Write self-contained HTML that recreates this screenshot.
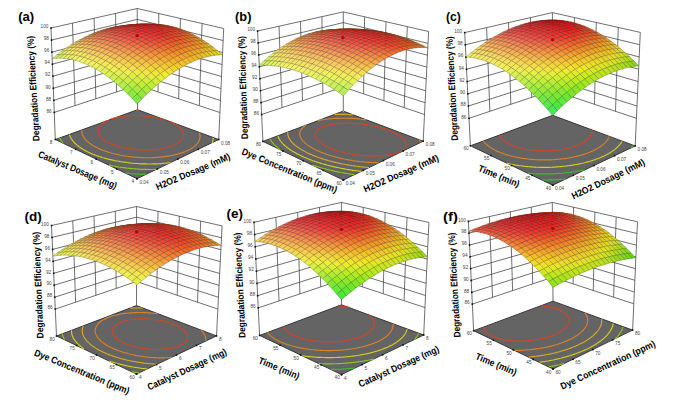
<!DOCTYPE html>
<html><head><meta charset="utf-8"><style>html,body{margin:0;padding:0;background:#fff;width:685px;height:404px;overflow:hidden}svg{display:block}</style></head>
<body><svg width="685" height="404" viewBox="0 0 685 404"><path d="M54.3,112.4L137.4,85.1L219.9,112.5M53.8,100.3L137.4,74.1L220.5,100.5M53.3,88.3L137.4,63.2L221,88.5M52.9,76.2L137.3,52.3L221.5,76.5M52.4,64.2L137.3,41.3L222.1,64.5M51.9,52.1L137.3,30.4L222.6,52.5M51.5,40.1L137.2,19.4L223.2,40.5M51,28L137.2,8.5L223.7,28.5M75,105.6L72.5,23.1M199.3,105.6L202.1,23.5M95.8,98.7L94.1,18.2M178.7,98.8L180.4,18.5M116.6,91.9L115.6,13.4M158,91.9L158.8,13.5M55.3,139.5L51,28M137.5,109.7L137.2,8.5M218.7,139.5L223.7,28.5" fill="none" stroke="#404040" stroke-width="0.75"/>
<path d="M137,178.7L55.3,139.5L137.5,109.7L218.7,139.5Z" fill="#646464" stroke="#2e2e2e" stroke-width="0.9" stroke-linejoin="round"/>
<path d="M125.5,173L126.7,173.1L127.6,173.2L128.6,173.3L129.9,173.4L131.3,173.6L132.4,173.7L133.3,173.7L134.3,173.8L135.5,173.9L136.8,174L138.1,174.1L139.3,174.1L140.3,174.2L141.4,174.3L142.4,174.3L143.5,174.3L144.5,174.4L145.6,174.4" fill="none" stroke="#3abf26" stroke-width="1.15"/>
<path d="M108.9,165.1L110.2,165.4L110.9,165.6L112.5,165.9L113.2,166L114.7,166.3L115.6,166.4L116.5,166.6L118,166.9L118.8,167L119.9,167.2L121.3,167.4L122.2,167.5L123.2,167.6L124.7,167.8L125.6,167.9L126.5,168.1L127.8,168.2L129.2,168.4L130.1,168.4L131.1,168.5L132.1,168.6L133.5,168.8L134.8,168.9L135.8,168.9L136.8,169L137.8,169.1L138.8,169.1L140.1,169.2L141.3,169.3L142.6,169.3L143.8,169.4L144.9,169.4L146,169.4L147.1,169.4L148.2,169.5L149.3,169.5L150.4,169.5L151.5,169.5L152.7,169.5L153.8,169.5L155,169.4L156.2,169.4" fill="none" stroke="#8cc81e" stroke-width="1.15"/>
<path d="M59.8,138.1L60,138.5L60.2,139.1L60.4,139.4L60.6,139.8L61,140.4L61.2,140.7L61.5,141.2L61.8,141.6L62,141.9L62.5,142.5L62.7,142.8L63.2,143.4L63.2,143.5" fill="none" stroke="#8cc81e" stroke-width="1.15"/>
<path d="M69.5,134.5L69.6,134.9L69.7,135.2L69.8,135.6L70,136.2L70.2,136.5L70.3,136.9L70.6,137.3L70.8,137.8L71,138.1L71.2,138.6L71.5,139.1L71.8,139.4L72.1,139.9L72.4,140.3L72.7,140.7L73.1,141.2L73.4,141.5L73.9,142.1L74.2,142.4L74.7,143L75,143.3L75.6,143.8L75.9,144.1L76.6,144.7L77,145.1L77.5,145.5L78.2,146.1L78.6,146.3L79.3,146.9L80.1,147.4L80.5,147.7L81.3,148.2L82.1,148.7L82.9,149.2L83.6,149.6L84.2,149.9L85.1,150.4L86,150.9L86.9,151.4L87.9,151.9L88.8,152.4L89.8,152.8L90.9,153.3L91.9,153.7L93,154.2L94.1,154.6L95.1,155L95.7,155.2L96.9,155.7L98.1,156.1L99.2,156.5L99.9,156.7L101.1,157.1L102.3,157.5L103,157.7L104.2,158L105.6,158.4L106.2,158.6L107.6,158.9L108.2,159.1L109.6,159.4L110.5,159.6L111.8,159.9L112.6,160.1L113.9,160.4L114.7,160.6L116.2,160.9L116.9,161L118.4,161.3L119.3,161.4L120.2,161.6L121.7,161.8L122.5,162L123.5,162.1L124.9,162.3L125.8,162.4L126.6,162.5L128.2,162.7L129.2,162.9L130.1,163L131.1,163.1L132.5,163.2L133.8,163.3L134.7,163.4L135.6,163.5L136.6,163.5L137.8,163.6L139.1,163.7L140.4,163.8L141.5,163.8L142.5,163.8L143.5,163.9L144.6,163.9L145.6,163.9L146.7,164L147.8,164L148.9,164L150,164L151.1,164L152.3,163.9L153.4,163.9L154.6,163.9L155.8,163.8L157,163.8L158,163.7L159,163.7L160,163.6L160.9,163.6L162.1,163.5L163.4,163.4L164.7,163.3L165.6,163.2L166.4,163.1L167.6,163L169.1,162.8L169.9,162.7L170.6,162.6" fill="none" stroke="#d4d01e" stroke-width="1.15"/>
<path d="M212.1,143L212.3,142.4L212.5,142.1L212.6,141.7L212.7,141.2L212.9,140.7L212.9,140.3L213,140L213.1,139.6L213.1,139.1L213.2,138.7L213.2,138.2L213.2,137.8" fill="none" stroke="#d4d01e" stroke-width="1.15"/>
<path d="M81.8,130L81.8,130.3L81.8,130.7L81.8,131.1L81.8,131.6L81.8,132L81.9,132.5L81.9,132.9L82,133.2L82.1,133.6L82.2,133.9L82.4,134.5L82.5,134.9L82.7,135.3L82.8,135.6L83.1,136.1L83.3,136.6L83.5,136.9L83.8,137.4L84.1,137.8L84.3,138.1L84.8,138.7L85,139L85.4,139.4L85.8,139.9L86.1,140.2L86.6,140.8L87,141.1L87.5,141.6L88,142L88.5,142.4L89.2,143L89.5,143.3L90.3,143.8L91,144.3L91.4,144.6L92.2,145.1L93,145.6L93.9,146.1L94.3,146.3L95.2,146.8L96.1,147.3L97,147.8L98,148.2L99,148.7L100,149.1L101,149.6L102.1,150L103.2,150.4L103.8,150.6L104.9,151L106,151.4L107.2,151.8L108,152.1L109.1,152.4L110.3,152.8L111.1,153L112.2,153.3L113.6,153.6L114.2,153.8L115.6,154.1L116.3,154.3L117.7,154.6L118.4,154.8L119.9,155.1L120.6,155.2L121.9,155.5L122.9,155.6L123.7,155.8L125.2,156L126,156.1L127,156.3L128.5,156.5L129.3,156.6L130.1,156.7L131.5,156.8L132.7,157L133.6,157.1L134.5,157.1L135.6,157.2L136.9,157.3L138.2,157.4L139.2,157.5L140.1,157.5L141.1,157.6L142.1,157.6L143.1,157.7L144.2,157.7L145.4,157.7L146.5,157.7L147.6,157.7L148.6,157.7L149.7,157.7L150.7,157.7L151.8,157.7L153,157.6L154.2,157.6L155.4,157.5L156.6,157.4L157.6,157.4L158.5,157.3L159.4,157.2L160.6,157.1L162,157L162.9,156.9L163.7,156.8L164.9,156.6L166.2,156.4L167,156.3L168.1,156.1L169.3,155.9L170.1,155.8L171.5,155.5L172.3,155.4L173.7,155.1L174.4,154.9L175.7,154.6L176.4,154.4L177.7,154.1L178.4,153.9L179.6,153.5L180.8,153.1L181.5,152.9L182.6,152.5L183.7,152.1L184.8,151.7L185.8,151.3L186.9,150.8L187.8,150.4L188.8,149.9L189.7,149.4L190.6,148.9L191.4,148.4L192.2,147.9L192.6,147.7L193.4,147.1L194.1,146.6L194.4,146.3L195.1,145.7L195.4,145.5L196,144.9L196.4,144.6L196.9,144L197.1,143.7L197.6,143.1L197.8,142.8L198.2,142.3L198.5,141.8L198.7,141.5L198.9,141L199.2,140.5L199.3,140.2L199.4,139.8L199.6,139.3L199.8,138.8L199.8,138.4L199.9,138.1L200,137.7L200,137.2L200.1,136.8L200.1,136.3L200,135.9L200,135.4L200,135.1L199.9,134.6L199.8,134.2L199.7,133.8L199.6,133.4L199.4,133L199.3,132.6L199.3,132.6" fill="none" stroke="#d98228" stroke-width="1.15"/>
<path d="M138.7,109.9L137.7,109.8L136.7,109.8L136.1,109.8" fill="none" stroke="#d98228" stroke-width="1.15"/>
<path d="M108.8,119.9L108.3,120.2L107.4,120.6L106.5,121L105.6,121.4L105.2,121.6L104.4,122.1L103.7,122.5L103.3,122.8L102.6,123.3L102.3,123.6L101.8,124L101.3,124.4L101,124.7L100.5,125.2L100.2,125.5L99.9,125.8L99.6,126.2L99.3,126.7L99.1,127.1L98.9,127.5L98.7,127.8L98.5,128.1L98.4,128.6L98.3,129L98.2,129.4L98.1,129.8L98,130.2L98,130.6L98,131L98,131.3L98,131.7L98.1,132.2L98.2,132.7L98.4,133.1L98.5,133.4L98.6,133.8L98.8,134.2L99.1,134.8L99.3,135.1L99.5,135.4L99.9,136L100.1,136.3L100.4,136.7L100.9,137.2L101.2,137.5L101.7,138.1L102,138.3L102.7,138.9L103,139.2L103.7,139.7L104.4,140.2L104.8,140.5L105.6,141L106.4,141.5L106.8,141.7L107.7,142.2L108.6,142.7L109.6,143.1L110.5,143.6L111.5,144L112.6,144.4L113.6,144.8L114.7,145.2L115.3,145.4L116.5,145.8L117.6,146.2L118.9,146.6L119.5,146.7L120.8,147.1L121.5,147.3L122.8,147.5L123.8,147.8L124.8,148L125.8,148.2L127,148.4L127.7,148.5L129.3,148.8L130,148.9L130.9,149L132.4,149.2L133.3,149.3L134.1,149.4L135.2,149.5L136.5,149.7L137.6,149.8L138.5,149.8L139.4,149.9L140.4,149.9L141.5,150L142.6,150L143.7,150L144.8,150L145.9,150L146.9,150L147.9,150L148.9,150L149.9,149.9L151,149.9L152.3,149.8L153.5,149.7L154.4,149.6L155.3,149.6L156.2,149.5L157.7,149.3L158.5,149.2L159.3,149L160.8,148.8L161.6,148.7L162.7,148.5L163.7,148.3L164.7,148L165.7,147.8L167,147.5L167.7,147.3L168.9,146.9L170,146.6L170.6,146.4L171.7,146L172.8,145.5L173.8,145.1L174.7,144.7L175.6,144.2L176.5,143.7L176.9,143.5L177.7,143L178.5,142.4L178.8,142.2L179.5,141.6L180,141.2L180.5,140.8L180.9,140.4L181.3,139.9L181.5,139.6L182,139L182.2,138.7L182.4,138.3L182.7,137.8L182.8,137.3L183,137L183.1,136.7L183.2,136.2L183.3,135.7L183.3,135.2L183.4,134.8L183.4,134.4L183.3,134L183.3,133.6L183.2,133.2L183.1,132.8L183,132.4L182.8,132L182.7,131.6L182.5,131.3L182.3,130.9L182.1,130.6L181.8,130.1L181.5,129.6L181.2,129.3L181,128.9L180.6,128.5L180.2,128L179.9,127.8L179.4,127.3L178.9,126.9L178.6,126.6L177.9,126.1L177.6,125.8L176.9,125.3L176.5,125.1L175.7,124.6L175.3,124.3L174.6,123.9L173.7,123.4L173.3,123.2L172.4,122.8L171.6,122.3L170.6,121.9L169.7,121.5L169,121.2" fill="none" stroke="#d24428" stroke-width="1.15"/>
<path d="M166.5,120.3L165.7,120L164.7,119.7L163.6,119.3L162.5,119L161.4,118.7L160.8,118.6L159.7,118.3L158.5,118L157.9,117.9L156.7,117.6L156,117.5L154.8,117.2L154.1,117.1L152.8,116.9L152.2,116.8L151.1,116.6L150.1,116.5L149.4,116.4L148.2,116.2L147.3,116.1L146.5,116.1L145.6,116L144.4,115.9L143.4,115.8L142.6,115.7L141.8,115.7L141,115.6L140,115.6L139,115.6L138,115.5L137,115.5L136.1,115.5L135.1,115.5L134.2,115.5L133.4,115.6L132.5,115.6L131.6,115.6L130.7,115.7L129.6,115.7L128.4,115.8L127.6,115.9L126.9,115.9L125.9,116L124.6,116.2L123.9,116.3L123.2,116.4L121.9,116.5L121.2,116.6L119.9,116.9L119.2,117L118,117.2L117.4,117.4L116.2,117.6L115.6,117.8L114.5,118.1L113.3,118.4L112.3,118.7L111.2,119L111.2,119.1" fill="none" stroke="#d24428" stroke-width="1.15"/>
<g fill="#111"><rect x="53.5" y="111.6" width="1.6" height="1.6"/><rect x="53" y="99.5" width="1.6" height="1.6"/><rect x="52.5" y="87.5" width="1.6" height="1.6"/><rect x="52.1" y="75.4" width="1.6" height="1.6"/><rect x="51.6" y="63.4" width="1.6" height="1.6"/><rect x="51.1" y="51.3" width="1.6" height="1.6"/><rect x="50.7" y="39.3" width="1.6" height="1.6"/><rect x="50.2" y="27.2" width="1.6" height="1.6"/><rect x="136.2" y="177.9" width="1.6" height="1.6"/><rect x="136.2" y="177.9" width="1.6" height="1.6"/><rect x="115.8" y="168.1" width="1.6" height="1.6"/><rect x="156.6" y="168.1" width="1.6" height="1.6"/><rect x="95.4" y="158.3" width="1.6" height="1.6"/><rect x="177" y="158.3" width="1.6" height="1.6"/><rect x="74.9" y="148.5" width="1.6" height="1.6"/><rect x="197.5" y="148.5" width="1.6" height="1.6"/><rect x="54.5" y="138.7" width="1.6" height="1.6"/><rect x="217.9" y="138.7" width="1.6" height="1.6"/></g>
<g font-family="'Liberation Sans', sans-serif" font-size="4.7" fill="#444"><text x="51.7" y="112.6" text-anchor="end">86</text><text x="51.2" y="100.5" text-anchor="end">88</text><text x="50.7" y="88.5" text-anchor="end">90</text><text x="50.3" y="76.4" text-anchor="end">92</text><text x="49.8" y="64.4" text-anchor="end">94</text><text x="49.3" y="52.3" text-anchor="end">96</text><text x="48.9" y="40.3" text-anchor="end">98</text><text x="48.4" y="28.2" text-anchor="end">100</text><text x="132.7" y="183.3" text-anchor="middle">4</text><text x="112.3" y="173.5" text-anchor="middle">5</text><text x="91.9" y="163.7" text-anchor="middle">6</text><text x="71.4" y="153.9" text-anchor="middle">7</text><text x="51" y="144.1" text-anchor="middle">8</text><text x="139.4" y="183.7">0.04</text><text x="159.8" y="173.9">0.05</text><text x="180.2" y="164.1">0.06</text><text x="200.7" y="154.3">0.07</text><text x="221.1" y="144.5">0.08</text></g>
<g stroke-width="0.4" stroke-linejoin="round"><path d="M137.4,25.6L133.6,26.4L137.4,26.8L141.2,25.9Z" fill="#ee9e27" stroke="#7c5214"/><path d="M141.3,24.9L137.4,25.6L141.2,25.9L145.1,25.2Z" fill="#ee8e27" stroke="#7c4a14"/><path d="M133.5,25.4L129.7,26.2L133.6,26.4L137.4,25.6Z" fill="#f08e27" stroke="#7d4a14"/><path d="M145.2,24.4L141.3,24.9L145.1,25.2L149,24.8Z" fill="#ed8027" stroke="#7b4214"/><path d="M137.4,24.7L133.5,25.4L137.4,25.6L141.3,24.9Z" fill="#ef7d27" stroke="#7c4114"/><path d="M129.6,25.4L125.8,26.2L129.7,26.2L133.5,25.4Z" fill="#f18028" stroke="#7d4215"/><path d="M149.2,24.2L145.2,24.4L149,24.8L153,24.5Z" fill="#ec7427" stroke="#7b3c14"/><path d="M141.3,24.3L137.4,24.7L141.3,24.9L145.2,24.4Z" fill="#ee6f27" stroke="#7c3a14"/><path d="M133.5,24.7L129.6,25.4L133.5,25.4L137.4,24.7Z" fill="#f06f28" stroke="#7d3a15"/><path d="M125.6,25.6L121.8,26.4L125.8,26.2L129.6,25.4Z" fill="#f27428" stroke="#7e3c15"/><path d="M153.2,24.2L149.2,24.2L153,24.5L157,24.5Z" fill="#eb6a27" stroke="#7a3714"/><path d="M145.3,24.1L141.3,24.3L145.2,24.4L149.2,24.2Z" fill="#ed6327" stroke="#7b3314"/><path d="M137.4,24.3L133.5,24.7L137.4,24.7L141.3,24.3Z" fill="#ef6028" stroke="#7c3215"/><path d="M129.5,24.9L125.6,25.6L129.6,25.4L133.5,24.7Z" fill="#f16328" stroke="#7d3315"/><path d="M121.6,26L117.8,26.8L121.8,26.4L125.6,25.6Z" fill="#f36d2b" stroke="#7e3917"/><path d="M157.3,24.5L153.2,24.2L157,24.5L161.1,24.8Z" fill="#ea6327" stroke="#7a3314"/><path d="M149.3,24.1L145.3,24.1L149.2,24.2L153.2,24.2Z" fill="#ec5827" stroke="#7b2e14"/><path d="M141.4,24.1L137.4,24.3L141.3,24.3L145.3,24.1Z" fill="#ee5328" stroke="#7c2b15"/><path d="M133.4,24.5L129.5,24.9L133.5,24.7L137.4,24.3Z" fill="#f05328" stroke="#7d2b15"/><path d="M125.5,25.4L121.6,26L125.6,25.6L129.5,24.9Z" fill="#f25b2c" stroke="#7e3017"/><path d="M117.5,26.6L113.7,27.4L117.8,26.8L121.6,26Z" fill="#f36a31" stroke="#7e3719"/><path d="M161.4,24.9L157.3,24.5L161.1,24.8L165.2,25.2Z" fill="#ea5e27" stroke="#7a3114"/><path d="M153.4,24.4L149.3,24.1L153.2,24.2L157.3,24.5Z" fill="#ec5027" stroke="#7b2a14"/><path d="M145.4,24.2L141.4,24.1L145.3,24.1L149.3,24.1Z" fill="#ee4827" stroke="#7c2615"/><path d="M137.4,24.4L133.4,24.5L137.4,24.3L141.4,24.1Z" fill="#f04628" stroke="#7d2415"/><path d="M129.4,25L125.5,25.4L129.5,24.9L133.4,24.5Z" fill="#f14c2c" stroke="#7d2717"/><path d="M121.4,26L117.5,26.6L121.6,26L125.5,25.4Z" fill="#f25931" stroke="#7e2e19"/><path d="M113.4,27.4L109.6,28.2L113.7,27.4L117.5,26.6Z" fill="#f36b36" stroke="#7e371c"/><path d="M165.5,25.7L161.4,24.9L165.2,25.2L169.3,25.9Z" fill="#e95b27" stroke="#792f14"/><path d="M157.5,24.9L153.4,24.4L157.3,24.5L161.4,24.9Z" fill="#eb4b27" stroke="#7a2714"/><path d="M149.5,24.5L145.4,24.2L149.3,24.1L153.4,24.4Z" fill="#ed4027" stroke="#7b2115"/><path d="M141.4,24.4L137.4,24.4L141.4,24.1L145.4,24.2Z" fill="#ef3b28" stroke="#7c1f15"/><path d="M133.4,24.8L129.4,25L133.4,24.5L137.4,24.4Z" fill="#f03f2b" stroke="#7d2116"/><path d="M125.3,25.6L121.4,26L125.5,25.4L129.4,25Z" fill="#f14a31" stroke="#7d2619"/><path d="M117.3,26.8L113.4,27.4L117.5,26.6L121.4,26Z" fill="#f25936" stroke="#7e2f1c"/><path d="M109.3,28.4L105.5,29.2L109.6,28.2L113.4,27.4Z" fill="#f36e3b" stroke="#7e391f"/><path d="M169.7,26.7L165.5,25.7L169.3,25.9L173.5,26.9Z" fill="#e95b27" stroke="#792f14"/><path d="M161.7,25.6L157.5,24.9L161.4,24.9L165.5,25.7Z" fill="#eb4827" stroke="#7a2614"/><path d="M153.6,25L149.5,24.5L153.4,24.4L157.5,24.9Z" fill="#ed3b27" stroke="#7b1f14"/><path d="M145.5,24.8L141.4,24.4L145.4,24.2L149.5,24.5Z" fill="#ee3427" stroke="#7c1b14"/><path d="M137.4,24.9L133.4,24.8L137.4,24.4L141.4,24.4Z" fill="#f03629" stroke="#7d1c15"/><path d="M129.3,25.5L125.3,25.6L129.4,25L133.4,24.8Z" fill="#f03d30" stroke="#7d2019"/><path d="M121.2,26.5L117.3,26.8L121.4,26L125.3,25.6Z" fill="#f14b36" stroke="#7d271c"/><path d="M113.1,27.9L109.3,28.4L113.4,27.4L117.3,26.8Z" fill="#f25d3c" stroke="#7e301f"/><path d="M105,29.7L101.2,30.4L105.5,29.2L109.3,28.4Z" fill="#f37440" stroke="#7f3c21"/><path d="M174,27.9L169.7,26.7L173.5,26.9L177.8,28.1Z" fill="#e95e26" stroke="#793114"/><path d="M165.9,26.6L161.7,25.6L165.5,25.7L169.7,26.7Z" fill="#ea4827" stroke="#7a2614"/><path d="M157.7,25.8L153.6,25L157.5,24.9L161.7,25.6Z" fill="#ec3827" stroke="#7b1d14"/><path d="M149.6,25.3L145.5,24.8L149.5,24.5L153.6,25Z" fill="#ed3125" stroke="#7b1913"/><path d="M141.5,25.3L137.4,24.9L141.4,24.4L145.5,24.8Z" fill="#ef2f26" stroke="#7c1914"/><path d="M133.3,25.6L129.3,25.5L133.4,24.8L137.4,24.9Z" fill="#ef362d" stroke="#7c1c17"/><path d="M125.2,26.4L121.2,26.5L125.3,25.6L129.3,25.5Z" fill="#f04034" stroke="#7d211b"/><path d="M117,27.6L113.1,27.9L117.3,26.8L121.2,26.5Z" fill="#f24f3c" stroke="#7e291f"/><path d="M108.9,29.1L105,29.7L109.3,28.4L113.1,27.9Z" fill="#f36441" stroke="#7e3422"/><path d="M100.8,31.1L97,31.8L101.2,30.4L105,29.7Z" fill="#f47c45" stroke="#7f4124"/><path d="M178.3,29.4L174,27.9L177.8,28.1L182.1,29.5Z" fill="#e86226" stroke="#793314"/><path d="M170.1,27.9L165.9,26.6L169.7,26.7L174,27.9Z" fill="#ea4b27" stroke="#7a2714"/><path d="M162,26.8L157.7,25.8L161.7,25.6L165.9,26.6Z" fill="#ec3827" stroke="#7a1d14"/><path d="M153.8,26.1L149.6,25.3L153.6,25L157.7,25.8Z" fill="#ed2f25" stroke="#7b1813"/><path d="M145.6,25.9L141.5,25.3L145.5,24.8L149.6,25.3Z" fill="#ee2b24" stroke="#7c1613"/><path d="M137.4,26L133.3,25.6L137.4,24.9L141.5,25.3Z" fill="#ee302a" stroke="#7c1916"/><path d="M129.2,26.5L125.2,26.4L129.3,25.5L133.3,25.6Z" fill="#ef3931" stroke="#7c1d1a"/><path d="M121,27.5L117,27.6L121.2,26.5L125.2,26.4Z" fill="#f1453a" stroke="#7d241e"/><path d="M112.8,28.9L108.9,29.1L113.1,27.9L117,27.6Z" fill="#f25641" stroke="#7e2d22"/><path d="M104.6,30.6L100.8,31.1L105,29.7L108.9,29.1Z" fill="#f36d45" stroke="#7e3924"/><path d="M96.5,32.8L92.7,33.5L97,31.8L100.8,31.1Z" fill="#f5874a" stroke="#7f4626"/><path d="M182.6,31.1L178.3,29.4L182.1,29.5L186.4,31.3Z" fill="#e86926" stroke="#793714"/><path d="M174.4,29.4L170.1,27.9L174,27.9L178.3,29.4Z" fill="#e95027" stroke="#792914"/><path d="M166.2,28.1L162,26.8L165.9,26.6L170.1,27.9Z" fill="#eb3b27" stroke="#7a1f14"/><path d="M158,27.2L153.8,26.1L157.7,25.8L162,26.8Z" fill="#ec2f24" stroke="#7b1813"/><path d="M149.7,26.7L145.6,25.9L149.6,25.3L153.8,26.1Z" fill="#ee2822" stroke="#7c1512"/><path d="M141.5,26.6L137.4,26L141.5,25.3L145.6,25.9Z" fill="#ee2c28" stroke="#7c1715"/><path d="M133.2,26.9L129.2,26.5L133.3,25.6L137.4,26Z" fill="#ee332f" stroke="#7c1a18"/><path d="M125,27.7L121,27.5L125.2,26.4L129.2,26.5Z" fill="#f03e37" stroke="#7d201c"/><path d="M116.8,28.8L112.8,28.9L117,27.6L121,27.5Z" fill="#f14b3f" stroke="#7d2721"/><path d="M108.5,30.4L104.6,30.6L108.9,29.1L112.8,28.9Z" fill="#f35f46" stroke="#7e3224"/><path d="M100.3,32.3L96.5,32.8L100.8,31.1L104.6,30.6Z" fill="#f4784a" stroke="#7f3f27"/><path d="M92.1,34.7L88.4,35.4L92.7,33.5L96.5,32.8Z" fill="#f6934e" stroke="#804d29"/><path d="M187,33.1L182.6,31.1L186.4,31.3L190.8,33.2Z" fill="#e87226" stroke="#793b14"/><path d="M178.8,31.2L174.4,29.4L178.3,29.4L182.6,31.1Z" fill="#e95727" stroke="#792d14"/><path d="M170.5,29.6L166.2,28.1L170.1,27.9L174.4,29.4Z" fill="#eb4027" stroke="#7a2114"/><path d="M162.2,28.5L158,27.2L162,26.8L166.2,28.1Z" fill="#ec3025" stroke="#7b1913"/><path d="M154,27.8L149.7,26.7L153.8,26.1L158,27.2Z" fill="#ed2822" stroke="#7b1512"/><path d="M145.7,27.5L141.5,26.6L145.6,25.9L149.7,26.7Z" fill="#ed2926" stroke="#7b1514"/><path d="M137.4,27.6L133.2,26.9L137.4,26L141.5,26.6Z" fill="#ee2f2c" stroke="#7c1817"/><path d="M129.1,28.1L125,27.7L129.2,26.5L133.2,26.9Z" fill="#ef3834" stroke="#7c1d1b"/><path d="M120.8,29L116.8,28.8L121,27.5L125,27.7Z" fill="#f0443c" stroke="#7d231f"/><path d="M112.5,30.4L108.5,30.4L112.8,28.9L116.8,28.8Z" fill="#f25445" stroke="#7e2c24"/><path d="M104.2,32.1L100.3,32.3L104.6,30.6L108.5,30.4Z" fill="#f36b4a" stroke="#7f3827"/><path d="M96,34.3L92.1,34.7L96.5,32.8L100.3,32.3Z" fill="#f5864f" stroke="#7f4529"/><path d="M87.7,36.8L84,37.5L88.4,35.4L92.1,34.7Z" fill="#f6a253" stroke="#80542b"/><path d="M191.4,35.4L187,33.1L190.8,33.2L195.2,35.5Z" fill="#e87e26" stroke="#794114"/><path d="M183.1,33.2L178.8,31.2L182.6,31.1L187,33.1Z" fill="#e96126" stroke="#793314"/><path d="M174.9,31.4L170.5,29.6L174.4,29.4L178.8,31.2Z" fill="#eb4827" stroke="#7a2514"/><path d="M166.6,30.1L162.2,28.5L166.2,28.1L170.5,29.6Z" fill="#ec3427" stroke="#7b1b14"/><path d="M158.2,29.1L154,27.8L158,27.2L162.2,28.5Z" fill="#ed2a23" stroke="#7b1612"/><path d="M149.9,28.6L145.7,27.5L149.7,26.7L154,27.8Z" fill="#ed2825" stroke="#7b1513"/><path d="M141.5,28.5L137.4,27.6L141.5,26.6L145.7,27.5Z" fill="#ed2c2a" stroke="#7b1716"/><path d="M133.2,28.8L129.1,28.1L133.2,26.9L137.4,27.6Z" fill="#ee3432" stroke="#7c1b1a"/><path d="M124.8,29.5L120.8,29L125,27.7L129.1,28.1Z" fill="#ef3f3a" stroke="#7c211e"/><path d="M116.5,30.6L112.5,30.4L116.8,28.8L120.8,29Z" fill="#f14d43" stroke="#7d2823"/><path d="M108.2,32.1L104.2,32.1L108.5,30.4L112.5,30.4Z" fill="#f3604a" stroke="#7e3226"/><path d="M99.9,34.1L96,34.3L100.3,32.3L104.2,32.1Z" fill="#f4794f" stroke="#7f3f29"/><path d="M91.6,36.4L87.7,36.8L92.1,34.7L96,34.3Z" fill="#f69453" stroke="#804d2b"/><path d="M83.3,39.2L79.5,39.8L84,37.5L87.7,36.8Z" fill="#f7b157" stroke="#815c2d"/><path d="M195.9,37.9L191.4,35.4L195.2,35.5L199.6,38Z" fill="#e88b26" stroke="#794814"/><path d="M187.6,35.5L183.1,33.2L187,33.1L191.4,35.4Z" fill="#e96d26" stroke="#793914"/><path d="M179.3,33.5L174.9,31.4L178.8,31.2L183.1,33.2Z" fill="#ea5227" stroke="#7a2b14"/><path d="M170.9,31.9L166.6,30.1L170.5,29.6L174.9,31.4Z" fill="#ec3b27" stroke="#7b1f14"/><path d="M162.5,30.7L158.2,29.1L162.2,28.5L166.6,30.1Z" fill="#ed2d24" stroke="#7b1813"/><path d="M154.2,30L149.9,28.6L154,27.8L158.2,29.1Z" fill="#ed2824" stroke="#7b1513"/><path d="M145.8,29.6L141.5,28.5L145.7,27.5L149.9,28.6Z" fill="#ed2b29" stroke="#7b1615"/><path d="M137.4,29.7L133.2,28.8L137.4,27.6L141.5,28.5Z" fill="#ee3130" stroke="#7c1919"/><path d="M129,30.2L124.8,29.5L129.1,28.1L133.2,28.8Z" fill="#ef3b38" stroke="#7c1e1d"/><path d="M120.6,31.1L116.5,30.6L120.8,29L124.8,29.5Z" fill="#f04740" stroke="#7d2521"/><path d="M112.2,32.4L108.2,32.1L112.5,30.4L116.5,30.6Z" fill="#f2574a" stroke="#7e2d26"/><path d="M103.8,34.1L99.9,34.1L104.2,32.1L108.2,32.1Z" fill="#f46e4f" stroke="#7f3929"/><path d="M95.4,36.3L91.6,36.4L96,34.3L99.9,34.1Z" fill="#f58953" stroke="#7f472b"/><path d="M87.1,38.8L83.3,39.2L87.7,36.8L91.6,36.4Z" fill="#f7a557" stroke="#80562d"/><path d="M78.8,41.8L75.1,42.3L79.5,39.8L83.3,39.2Z" fill="#f7c15b" stroke="#81652f"/><path d="M200.4,40.8L195.9,37.9L199.6,38L204.1,40.8Z" fill="#e79a26" stroke="#785014"/><path d="M192,38.1L187.6,35.5L191.4,35.4L195.9,37.9Z" fill="#e97b26" stroke="#794014"/><path d="M183.7,35.9L179.3,33.5L183.1,33.2L187.6,35.5Z" fill="#ea5e27" stroke="#7a3114"/><path d="M175.3,34L170.9,31.9L174.9,31.4L179.3,33.5Z" fill="#ec4527" stroke="#7b2414"/><path d="M166.9,32.6L162.5,30.7L166.6,30.1L170.9,31.9Z" fill="#ed3326" stroke="#7b1a14"/><path d="M158.5,31.6L154.2,30L158.2,29.1L162.5,30.7Z" fill="#ee2a24" stroke="#7c1612"/><path d="M150,31L145.8,29.6L149.9,28.6L154.2,30Z" fill="#ed2b28" stroke="#7b1615"/><path d="M141.6,30.9L137.4,29.7L141.5,28.5L145.8,29.6Z" fill="#ee302e" stroke="#7c1918"/><path d="M133.1,31.1L129,30.2L133.2,28.8L137.4,29.7Z" fill="#ee3836" stroke="#7c1d1c"/><path d="M124.7,31.8L120.6,31.1L124.8,29.5L129,30.2Z" fill="#f0433e" stroke="#7d2320"/><path d="M116.2,32.9L112.2,32.4L116.5,30.6L120.6,31.1Z" fill="#f25147" stroke="#7e2a25"/><path d="M107.8,34.4L103.8,34.1L108.2,32.1L112.2,32.4Z" fill="#f3654e" stroke="#7e3529"/><path d="M99.4,36.3L95.4,36.3L99.9,34.1L103.8,34.1Z" fill="#f47e53" stroke="#7f422b"/><path d="M91,38.7L87.1,38.8L91.6,36.4L95.4,36.3Z" fill="#f69957" stroke="#80502d"/><path d="M82.6,41.4L78.8,41.8L83.3,39.2L87.1,38.8Z" fill="#f7b65b" stroke="#815f2f"/><path d="M74.3,44.6L70.6,45.1L75.1,42.3L78.8,41.8Z" fill="#f7d35e" stroke="#816e31"/><path d="M204.9,43.9L200.4,40.8L204.1,40.8L208.6,43.8Z" fill="#e7aa26" stroke="#785814"/><path d="M196.6,41L192,38.1L195.9,37.9L200.4,40.8Z" fill="#e98b26" stroke="#794814"/><path d="M188.2,38.5L183.7,35.9L187.6,35.5L192,38.1Z" fill="#ea6d27" stroke="#7a3814"/><path d="M179.7,36.4L175.3,34L179.3,33.5L183.7,35.9Z" fill="#ec5227" stroke="#7a2b14"/><path d="M171.3,34.8L166.9,32.6L170.9,31.9L175.3,34Z" fill="#ed3c28" stroke="#7b1f15"/><path d="M162.8,33.5L158.5,31.6L162.5,30.7L166.9,32.6Z" fill="#ee2e24" stroke="#7c1813"/><path d="M154.3,32.7L150,31L154.2,30L158.5,31.6Z" fill="#ee2d28" stroke="#7c1715"/><path d="M145.8,32.3L141.6,30.9L145.8,29.6L150,31Z" fill="#ee302d" stroke="#7c1918"/><path d="M137.3,32.4L133.1,31.1L137.4,29.7L141.6,30.9Z" fill="#ee3634" stroke="#7c1c1b"/><path d="M128.8,32.8L124.7,31.8L129,30.2L133.1,31.1Z" fill="#ef413c" stroke="#7d221f"/><path d="M120.3,33.7L116.2,32.9L120.6,31.1L124.7,31.8Z" fill="#f14d45" stroke="#7d2824"/><path d="M111.9,35L107.8,34.4L112.2,32.4L116.2,32.9Z" fill="#f35e4d" stroke="#7e3128"/><path d="M103.4,36.7L99.4,36.3L103.8,34.1L107.8,34.4Z" fill="#f47652" stroke="#7f3d2b"/><path d="M94.9,38.8L91,38.7L95.4,36.3L99.4,36.3Z" fill="#f59057" stroke="#804b2d"/><path d="M86.5,41.4L82.6,41.4L87.1,38.8L91,38.7Z" fill="#f7ac5b" stroke="#81592f"/><path d="M78.1,44.3L74.3,44.6L78.8,41.8L82.6,41.4Z" fill="#f8c75e" stroke="#816831"/><path d="M69.7,47.7L66,48.2L70.6,45.1L74.3,44.6Z" fill="#f6e162" stroke="#807533"/><path d="M209.5,47.3L204.9,43.9L208.6,43.8L213.2,47.2Z" fill="#e5bb26" stroke="#776114"/><path d="M201.1,44.1L196.6,41L200.4,40.8L204.9,43.9Z" fill="#e99b26" stroke="#795114"/><path d="M192.7,41.4L188.2,38.5L192,38.1L196.6,41Z" fill="#ea7d26" stroke="#7a4114"/><path d="M184.2,39.1L179.7,36.4L183.7,35.9L188.2,38.5Z" fill="#eb6127" stroke="#7a3314"/><path d="M175.7,37.2L171.3,34.8L175.3,34L179.7,36.4Z" fill="#ed4827" stroke="#7b2614"/><path d="M167.2,35.7L162.8,33.5L166.9,32.6L171.3,34.8Z" fill="#ef3627" stroke="#7c1c14"/><path d="M158.7,34.7L154.3,32.7L158.5,31.6L162.8,33.5Z" fill="#ef3028" stroke="#7c1915"/><path d="M150.2,34.1L145.8,32.3L150,31L154.3,32.7Z" fill="#ee312d" stroke="#7c1a17"/><path d="M141.6,33.9L137.3,32.4L141.6,30.9L145.8,32.3Z" fill="#ee3733" stroke="#7c1c1b"/><path d="M133.1,34.1L128.8,32.8L133.1,31.1L137.3,32.4Z" fill="#ef3f3b" stroke="#7c211f"/><path d="M124.5,34.7L120.3,33.7L124.7,31.8L128.8,32.8Z" fill="#f14b43" stroke="#7d2723"/><path d="M116,35.8L111.9,35L116.2,32.9L120.3,33.7Z" fill="#f3594c" stroke="#7e2e28"/><path d="M107.4,37.3L103.4,36.7L107.8,34.4L111.9,35Z" fill="#f46f52" stroke="#7f3a2a"/><path d="M98.9,39.2L94.9,38.8L99.4,36.3L103.4,36.7Z" fill="#f58856" stroke="#7f472d"/><path d="M90.4,41.5L86.5,41.4L91,38.7L94.9,38.8Z" fill="#f7a25b" stroke="#80542f"/><path d="M82,44.3L78.1,44.3L82.6,41.4L86.5,41.4Z" fill="#f8be5e" stroke="#816331"/><path d="M73.5,47.4L69.7,47.7L74.3,44.6L78.1,44.3Z" fill="#f7d962" stroke="#807133"/><path d="M65.1,51L61.4,51.4L66,48.2L69.7,47.7Z" fill="#f4f065" stroke="#7f7d34"/><path d="M214.1,50.9L209.5,47.3L213.2,47.2L217.8,50.8Z" fill="#e3ca25" stroke="#766913"/><path d="M205.7,47.6L201.1,44.1L204.9,43.9L209.5,47.3Z" fill="#e8ae26" stroke="#795a14"/><path d="M197.2,44.6L192.7,41.4L196.6,41L201.1,44.1Z" fill="#eb8f26" stroke="#7a4a14"/><path d="M188.8,42L184.2,39.1L188.2,38.5L192.7,41.4Z" fill="#ec7227" stroke="#7a3b14"/><path d="M180.2,39.9L175.7,37.2L179.7,36.4L184.2,39.1Z" fill="#ed5827" stroke="#7b2e14"/><path d="M171.7,38.2L167.2,35.7L171.3,34.8L175.7,37.2Z" fill="#ef4228" stroke="#7c2215"/><path d="M163.1,36.9L158.7,34.7L162.8,33.5L167.2,35.7Z" fill="#f03529" stroke="#7d1c15"/><path d="M154.5,36.1L150.2,34.1L154.3,32.7L158.7,34.7Z" fill="#ef352d" stroke="#7c1b17"/><path d="M145.9,35.6L141.6,33.9L145.8,32.3L150.2,34.1Z" fill="#ef3833" stroke="#7c1d1a"/><path d="M137.3,35.6L133.1,34.1L137.3,32.4L141.6,33.9Z" fill="#ef3f3a" stroke="#7d211e"/><path d="M128.7,36L124.5,34.7L128.8,32.8L133.1,34.1Z" fill="#f14942" stroke="#7d2622"/><path d="M120.1,36.9L116,35.8L120.3,33.7L124.5,34.7Z" fill="#f2564b" stroke="#7e2d27"/><path d="M111.5,38.1L107.4,37.3L111.9,35L116,35.8Z" fill="#f36a51" stroke="#7f372a"/><path d="M103,39.8L98.9,39.2L103.4,36.7L107.4,37.3Z" fill="#f58156" stroke="#7f432d"/><path d="M94.4,41.9L90.4,41.5L94.9,38.8L98.9,39.2Z" fill="#f69a5a" stroke="#80502f"/><path d="M85.9,44.5L82,44.3L86.5,41.4L90.4,41.5Z" fill="#f8b55e" stroke="#815e31"/><path d="M77.4,47.4L73.5,47.4L78.1,44.3L82,44.3Z" fill="#f8d162" stroke="#816d33"/><path d="M68.9,50.8L65.1,51L69.7,47.7L73.5,47.4Z" fill="#f5e865" stroke="#807934"/><path d="M60.5,54.5L56.8,54.9L61.4,51.4L65.1,51Z" fill="#e1f164" stroke="#757d34"/><path d="M218.7,54.9L214.1,50.9L217.8,50.8L222.4,54.7Z" fill="#e0db25" stroke="#747213"/><path d="M210.3,51.3L205.7,47.6L209.5,47.3L214.1,50.9Z" fill="#e6c026" stroke="#786414"/><path d="M201.8,48.1L197.2,44.6L201.1,44.1L205.7,47.6Z" fill="#eaa226" stroke="#7a5414"/><path d="M193.3,45.3L188.8,42L192.7,41.4L197.2,44.6Z" fill="#ec8427" stroke="#7b4514"/><path d="M184.8,42.9L180.2,39.9L184.2,39.1L188.8,42Z" fill="#ed6927" stroke="#7b3714"/><path d="M176.2,41L171.7,38.2L175.7,37.2L180.2,39.9Z" fill="#ef5228" stroke="#7c2a15"/><path d="M167.6,39.4L163.1,36.9L167.2,35.7L171.7,38.2Z" fill="#f03f28" stroke="#7d2115"/><path d="M158.9,38.3L154.5,36.1L158.7,34.7L163.1,36.9Z" fill="#f03a2e" stroke="#7d1e18"/><path d="M150.3,37.7L145.9,35.6L150.2,34.1L154.5,36.1Z" fill="#f03b33" stroke="#7d1f1a"/><path d="M141.7,37.4L137.3,35.6L141.6,33.9L145.9,35.6Z" fill="#f04139" stroke="#7d221e"/><path d="M133,37.6L128.7,36L133.1,34.1L137.3,35.6Z" fill="#f14941" stroke="#7d2622"/><path d="M124.3,38.2L120.1,36.9L124.5,34.7L128.7,36Z" fill="#f25549" stroke="#7e2c26"/><path d="M115.7,39.3L111.5,38.1L116,35.8L120.1,36.9Z" fill="#f3674f" stroke="#7e3529"/><path d="M107.1,40.7L103,39.8L107.4,37.3L111.5,38.1Z" fill="#f47c55" stroke="#7f412c"/><path d="M98.4,42.6L94.4,41.9L98.9,39.2L103,39.8Z" fill="#f69459" stroke="#804d2e"/><path d="M89.8,44.9L85.9,44.5L90.4,41.5L94.4,41.9Z" fill="#f7ae5e" stroke="#815b31"/><path d="M81.3,47.7L77.4,47.4L82,44.3L85.9,44.5Z" fill="#f8c961" stroke="#816833"/><path d="M72.7,50.8L68.9,50.8L73.5,47.4L77.4,47.4Z" fill="#f6e165" stroke="#807534"/><path d="M64.2,54.4L60.5,54.5L65.1,51L68.9,50.8Z" fill="#ebf166" stroke="#7a7d35"/><path d="M55.8,58.3L52.1,58.7L56.8,54.9L60.5,54.5Z" fill="#cbf162" stroke="#6a7d33"/><path d="M215,55.3L210.3,51.3L214.1,50.9L218.7,54.9Z" fill="#e3d026" stroke="#766c14"/><path d="M206.5,51.8L201.8,48.1L205.7,47.6L210.3,51.3Z" fill="#e9b626" stroke="#795f14"/><path d="M197.9,48.8L193.3,45.3L197.2,44.6L201.8,48.1Z" fill="#ec9826" stroke="#7b4f14"/><path d="M189.3,46.2L184.8,42.9L188.8,42L193.3,45.3Z" fill="#ed7c27" stroke="#7b4114"/><path d="M180.7,44L176.2,41L180.2,39.9L184.8,42.9Z" fill="#ee6427" stroke="#7c3414"/><path d="M172.1,42.2L167.6,39.4L171.7,38.2L176.2,41Z" fill="#f04f28" stroke="#7d2915"/><path d="M163.4,40.9L158.9,38.3L163.1,36.9L167.6,39.4Z" fill="#f1432d" stroke="#7d2317"/><path d="M154.7,40L150.3,37.7L154.5,36.1L158.9,38.3Z" fill="#f14033" stroke="#7d211b"/><path d="M146,39.5L141.7,37.4L145.9,35.6L150.3,37.7Z" fill="#f14439" stroke="#7d231e"/><path d="M137.3,39.5L133,37.6L137.3,35.6L141.7,37.4Z" fill="#f14b40" stroke="#7d2721"/><path d="M128.6,39.8L124.3,38.2L128.7,36L133,37.6Z" fill="#f25548" stroke="#7e2c25"/><path d="M119.9,40.7L115.7,39.3L120.1,36.9L124.3,38.2Z" fill="#f3664e" stroke="#7e3528"/><path d="M111.2,41.9L107.1,40.7L111.5,38.1L115.7,39.3Z" fill="#f47a53" stroke="#7f3f2b"/><path d="M102.5,43.6L98.4,42.6L103,39.8L107.1,40.7Z" fill="#f59058" stroke="#804b2e"/><path d="M93.9,45.7L89.8,44.9L94.4,41.9L98.4,42.6Z" fill="#f7a95d" stroke="#805830"/><path d="M85.2,48.2L81.3,47.7L85.9,44.5L89.8,44.9Z" fill="#f8c261" stroke="#816532"/><path d="M76.6,51.1L72.7,50.8L77.4,47.4L81.3,47.7Z" fill="#f7db65" stroke="#807234"/><path d="M68.1,54.5L64.2,54.4L68.9,50.8L72.7,50.8Z" fill="#f4f168" stroke="#7f7d36"/><path d="M59.5,58.2L55.8,58.3L60.5,54.5L64.2,54.4Z" fill="#d6f162" stroke="#6f7d33"/><path d="M211.1,55.9L206.5,51.8L210.3,51.3L215,55.3Z" fill="#e6c826" stroke="#786814"/><path d="M202.6,52.6L197.9,48.8L201.8,48.1L206.5,51.8Z" fill="#ebad26" stroke="#7a5a14"/><path d="M194,49.8L189.3,46.2L193.3,45.3L197.9,48.8Z" fill="#ed9127" stroke="#7b4b14"/><path d="M185.3,47.3L180.7,44L184.8,42.9L189.3,46.2Z" fill="#ef7727" stroke="#7c3e14"/><path d="M176.6,45.3L172.1,42.2L176.2,41L180.7,44Z" fill="#f06128" stroke="#7d3215"/><path d="M167.9,43.7L163.4,40.9L167.6,39.4L172.1,42.2Z" fill="#f1512b" stroke="#7d2a16"/><path d="M159.2,42.6L154.7,40L158.9,38.3L163.4,40.9Z" fill="#f14a32" stroke="#7d261a"/><path d="M150.4,41.9L146,39.5L150.3,37.7L154.7,40Z" fill="#f14939" stroke="#7d261e"/><path d="M141.7,41.6L137.3,39.5L141.7,37.4L146,39.5Z" fill="#f24e40" stroke="#7e2921"/><path d="M132.9,41.7L128.6,39.8L133,37.6L137.3,39.5Z" fill="#f25846" stroke="#7e2e24"/><path d="M124.2,42.3L119.9,40.7L124.3,38.2L128.6,39.8Z" fill="#f3664c" stroke="#7e3528"/><path d="M115.4,43.3L111.2,41.9L115.7,39.3L119.9,40.7Z" fill="#f47852" stroke="#7f3f2a"/><path d="M106.7,44.8L102.5,43.6L107.1,40.7L111.2,41.9Z" fill="#f58d57" stroke="#804a2d"/><path d="M98,46.6L93.9,45.7L98.4,42.6L102.5,43.6Z" fill="#f7a45c" stroke="#805630"/><path d="M89.3,48.9L85.2,48.2L89.8,44.9L93.9,45.7Z" fill="#f8bd60" stroke="#816232"/><path d="M80.6,51.7L76.6,51.1L81.3,47.7L85.2,48.2Z" fill="#f8d664" stroke="#816f34"/><path d="M72,54.8L68.1,54.5L72.7,50.8L76.6,51.1Z" fill="#f5ec67" stroke="#7f7a36"/><path d="M63.4,58.4L59.5,58.2L64.2,54.4L68.1,54.5Z" fill="#def164" stroke="#747d34"/><path d="M207.3,56.7L202.6,52.6L206.5,51.8L211.1,55.9Z" fill="#e9c126" stroke="#796514"/><path d="M198.6,53.6L194,49.8L197.9,48.8L202.6,52.6Z" fill="#eda627" stroke="#7b5614"/><path d="M189.9,51L185.3,47.3L189.3,46.2L194,49.8Z" fill="#ef8c27" stroke="#7c4914"/><path d="M181.2,48.7L176.6,45.3L180.7,44L185.3,47.3Z" fill="#f07428" stroke="#7d3c15"/><path d="M172.5,46.9L167.9,43.7L172.1,42.2L176.6,45.3Z" fill="#f26128" stroke="#7e3315"/><path d="M163.7,45.5L159.2,42.6L163.4,40.9L167.9,43.7Z" fill="#f2572f" stroke="#7e2d19"/><path d="M154.9,44.5L150.4,41.9L154.7,40L159.2,42.6Z" fill="#f25436" stroke="#7e2b1c"/><path d="M146.1,44L141.7,41.6L146,39.5L150.4,41.9Z" fill="#f2563d" stroke="#7e2d20"/><path d="M137.3,43.9L132.9,41.7L137.3,39.5L141.7,41.6Z" fill="#f25d44" stroke="#7e3123"/><path d="M128.5,44.3L124.2,42.3L128.6,39.8L132.9,41.7Z" fill="#f3694a" stroke="#7e3726"/><path d="M119.7,45L115.4,43.3L119.9,40.7L124.2,42.3Z" fill="#f47950" stroke="#7f3f2a"/><path d="M110.9,46.3L106.7,44.8L111.2,41.9L115.4,43.3Z" fill="#f58c55" stroke="#80492c"/><path d="M102.1,47.9L98,46.6L102.5,43.6L106.7,44.8Z" fill="#f7a25a" stroke="#80542f"/><path d="M93.3,50L89.3,48.9L93.9,45.7L98,46.6Z" fill="#f8b95f" stroke="#816031"/><path d="M84.6,52.5L80.6,51.7L85.2,48.2L89.3,48.9Z" fill="#f8d263" stroke="#816d34"/><path d="M75.9,55.4L72,54.8L76.6,51.1L80.6,51.7Z" fill="#f6e767" stroke="#807835"/><path d="M67.2,58.7L63.4,58.4L68.1,54.5L72,54.8Z" fill="#e6f166" stroke="#777d35"/><path d="M203.3,57.8L198.6,53.6L202.6,52.6L207.3,56.7Z" fill="#ebbd26" stroke="#7a6214"/><path d="M194.6,54.9L189.9,51L194,49.8L198.6,53.6Z" fill="#eea227" stroke="#7c5414"/><path d="M185.8,52.4L181.2,48.7L185.3,47.3L189.9,51Z" fill="#f18a27" stroke="#7d4814"/><path d="M177.1,50.3L172.5,46.9L176.6,45.3L181.2,48.7Z" fill="#f27528" stroke="#7e3d15"/><path d="M168.3,48.7L163.7,45.5L167.9,43.7L172.5,46.9Z" fill="#f2672c" stroke="#7e3617"/><path d="M159.4,47.5L154.9,44.5L159.2,42.6L163.7,45.5Z" fill="#f26134" stroke="#7e321b"/><path d="M150.6,46.7L146.1,44L150.4,41.9L154.9,44.5Z" fill="#f2603b" stroke="#7e321e"/><path d="M141.7,46.4L137.3,43.9L141.7,41.6L146.1,44Z" fill="#f36541" stroke="#7e3422"/><path d="M132.9,46.5L128.5,44.3L132.9,41.7L137.3,43.9Z" fill="#f36e48" stroke="#7f3925"/><path d="M124,47L119.7,45L124.2,42.3L128.5,44.3Z" fill="#f47c4e" stroke="#7f4128"/><path d="M115.1,48L110.9,46.3L115.4,43.3L119.7,45Z" fill="#f58d54" stroke="#80492b"/><path d="M106.3,49.4L102.1,47.9L106.7,44.8L110.9,46.3Z" fill="#f7a159" stroke="#80542e"/><path d="M97.5,51.3L93.3,50L98,46.6L102.1,47.9Z" fill="#f7b75e" stroke="#815f31"/><path d="M88.7,53.6L84.6,52.5L89.3,48.9L93.3,50Z" fill="#f8ce62" stroke="#816b33"/><path d="M79.9,56.3L75.9,55.4L80.6,51.7L84.6,52.5Z" fill="#f6e366" stroke="#807635"/><path d="M71.2,59.4L67.2,58.7L72,54.8L75.9,55.4Z" fill="#ebf167" stroke="#7a7d35"/><path d="M199.3,59.1L194.6,54.9L198.6,53.6L203.3,57.8Z" fill="#edb927" stroke="#7b6014"/><path d="M190.5,56.3L185.8,52.4L189.9,51L194.6,54.9Z" fill="#f0a027" stroke="#7d5314"/><path d="M181.7,54L177.1,50.3L181.2,48.7L185.8,52.4Z" fill="#f28a28" stroke="#7e4815"/><path d="M172.9,52.2L168.3,48.7L172.5,46.9L177.1,50.3Z" fill="#f3792a" stroke="#7f3f16"/><path d="M164,50.7L159.4,47.5L163.7,45.5L168.3,48.7Z" fill="#f37031" stroke="#7e3a19"/><path d="M155.1,49.7L150.6,46.7L154.9,44.5L159.4,47.5Z" fill="#f36d38" stroke="#7e381d"/><path d="M146.2,49.1L141.7,46.4L146.1,44L150.6,46.7Z" fill="#f36f3f" stroke="#7e3a21"/><path d="M137.3,49L132.9,46.5L137.3,43.9L141.7,46.4Z" fill="#f47645" stroke="#7f3d24"/><path d="M128.4,49.3L124,47L128.5,44.3L132.9,46.5Z" fill="#f4814c" stroke="#7f4327"/><path d="M119.5,50.1L115.1,48L119.7,45L124,47Z" fill="#f59051" stroke="#804b2a"/><path d="M110.6,51.2L106.3,49.4L110.9,46.3L115.1,48Z" fill="#f7a257" stroke="#80542d"/><path d="M101.7,52.9L97.5,51.3L102.1,47.9L106.3,49.4Z" fill="#f7b75c" stroke="#815f30"/><path d="M92.8,54.9L88.7,53.6L93.3,50L97.5,51.3Z" fill="#f8cc61" stroke="#816a32"/><path d="M84,57.4L79.9,56.3L84.6,52.5L88.7,53.6Z" fill="#f6e165" stroke="#807534"/><path d="M75.2,60.3L71.2,59.4L75.9,55.4L79.9,56.3Z" fill="#f0f167" stroke="#7d7d36"/><path d="M195.2,60.6L190.5,56.3L194.6,54.9L199.3,59.1Z" fill="#efb727" stroke="#7c5f14"/><path d="M186.4,58.1L181.7,54L185.8,52.4L190.5,56.3Z" fill="#f2a127" stroke="#7e5415"/><path d="M177.5,55.9L172.9,52.2L177.1,50.3L181.7,54Z" fill="#f48e28" stroke="#7f4a15"/><path d="M168.6,54.3L164,50.7L168.3,48.7L172.9,52.2Z" fill="#f4812e" stroke="#7f4318"/><path d="M159.7,53L155.1,49.7L159.4,47.5L164,50.7Z" fill="#f47b35" stroke="#7f401c"/><path d="M150.7,52.2L146.2,49.1L150.6,46.7L155.1,49.7Z" fill="#f47b3c" stroke="#7f401f"/><path d="M141.8,51.8L137.3,49L141.7,46.4L146.2,49.1Z" fill="#f47f43" stroke="#7f4223"/><path d="M132.8,51.9L128.4,49.3L132.9,46.5L137.3,49Z" fill="#f58849" stroke="#7f4726"/><path d="M123.8,52.4L119.5,50.1L124,47L128.4,49.3Z" fill="#f6954f" stroke="#804d29"/><path d="M114.9,53.3L110.6,51.2L115.1,48L119.5,50.1Z" fill="#f7a555" stroke="#80562c"/><path d="M105.9,54.7L101.7,52.9L106.3,49.4L110.6,51.2Z" fill="#f7b85a" stroke="#815f2f"/><path d="M97,56.6L92.8,54.9L97.5,51.3L101.7,52.9Z" fill="#f8cc5f" stroke="#816a31"/><path d="M88.1,58.8L84,57.4L88.7,53.6L92.8,54.9Z" fill="#f6df63" stroke="#807434"/><path d="M79.2,61.5L75.2,60.3L79.9,56.3L84,57.4Z" fill="#f2f167" stroke="#7e7d35"/><path d="M191.1,62.4L186.4,58.1L190.5,56.3L195.2,60.6Z" fill="#f1b827" stroke="#7d6014"/><path d="M182.2,60L177.5,55.9L181.7,54L186.4,58.1Z" fill="#f3a428" stroke="#7f5515"/><path d="M173.3,58.1L168.6,54.3L172.9,52.2L177.5,55.9Z" fill="#f5952b" stroke="#7f4e16"/><path d="M164.3,56.6L159.7,53L164,50.7L168.6,54.3Z" fill="#f58c32" stroke="#7f491a"/><path d="M155.3,55.5L150.7,52.2L155.1,49.7L159.7,53Z" fill="#f48939" stroke="#7f471e"/><path d="M146.3,54.9L141.8,51.8L146.2,49.1L150.7,52.2Z" fill="#f58a40" stroke="#7f4821"/><path d="M137.3,54.8L132.8,51.9L137.3,49L141.8,51.8Z" fill="#f59146" stroke="#804b25"/><path d="M128.3,55L123.8,52.4L128.4,49.3L132.8,51.9Z" fill="#f69c4d" stroke="#805128"/><path d="M119.2,55.7L114.9,53.3L119.5,50.1L123.8,52.4Z" fill="#f7aa52" stroke="#80582b"/><path d="M110.2,56.9L105.9,54.7L110.6,51.2L114.9,53.3Z" fill="#f7ba58" stroke="#81612e"/><path d="M101.2,58.5L97,56.6L101.7,52.9L105.9,54.7Z" fill="#f7cd5d" stroke="#816b30"/><path d="M92.3,60.5L88.1,58.8L92.8,54.9L97,56.6Z" fill="#f6df62" stroke="#807433"/><path d="M83.3,63L79.2,61.5L84,57.4L88.1,58.8Z" fill="#f4f166" stroke="#7f7d35"/><path d="M186.9,64.4L182.2,60L186.4,58.1L191.1,62.4Z" fill="#f2bc28" stroke="#7e6215"/><path d="M177.9,62.2L173.3,58.1L177.5,55.9L182.2,60Z" fill="#f5aa28" stroke="#7f5915"/><path d="M168.9,60.5L164.3,56.6L168.6,54.3L173.3,58.1Z" fill="#f59f2f" stroke="#805319"/><path d="M159.9,59.2L155.3,55.5L159.7,53L164.3,56.6Z" fill="#f59936" stroke="#80501c"/><path d="M150.9,58.3L146.3,54.9L150.7,52.2L155.3,55.5Z" fill="#f5983d" stroke="#804f20"/><path d="M141.8,57.9L137.3,54.8L141.8,51.8L146.3,54.9Z" fill="#f69c44" stroke="#805123"/><path d="M132.7,57.9L128.3,55L132.8,51.9L137.3,54.8Z" fill="#f6a54a" stroke="#805626"/><path d="M123.7,58.4L119.2,55.7L123.8,52.4L128.3,55Z" fill="#f7b050" stroke="#805c2a"/><path d="M114.6,59.3L110.2,56.9L114.9,53.3L119.2,55.7Z" fill="#f7bf56" stroke="#81632c"/><path d="M105.5,60.7L101.2,58.5L105.9,54.7L110.2,56.9Z" fill="#f7d05b" stroke="#816c2f"/><path d="M96.5,62.5L92.3,60.5L97,56.6L101.2,58.5Z" fill="#f6e060" stroke="#807432"/><path d="M87.5,64.7L83.3,63L88.1,58.8L92.3,60.5Z" fill="#f3f164" stroke="#7f7d34"/><path d="M182.7,66.7L177.9,62.2L182.2,60L186.9,64.4Z" fill="#f4c228" stroke="#7f6515"/><path d="M173.6,64.7L168.9,60.5L173.3,58.1L177.9,62.2Z" fill="#f5b42c" stroke="#805d17"/><path d="M164.6,63.1L159.9,59.2L164.3,56.6L168.9,60.5Z" fill="#f6ab33" stroke="#80591b"/><path d="M155.5,62L150.9,58.3L155.3,55.5L159.9,59.2Z" fill="#f6a83a" stroke="#80571e"/><path d="M146.4,61.4L141.8,57.9L146.3,54.9L150.9,58.3Z" fill="#f6a941" stroke="#805822"/><path d="M137.3,61.2L132.7,57.9L137.3,54.8L141.8,57.9Z" fill="#f6af47" stroke="#805b25"/><path d="M128.1,61.4L123.7,58.4L128.3,55L132.7,57.9Z" fill="#f7b84d" stroke="#806028"/><path d="M119,62.1L114.6,59.3L119.2,55.7L123.7,58.4Z" fill="#f7c553" stroke="#80662b"/><path d="M109.9,63.2L105.5,60.7L110.2,56.9L114.6,59.3Z" fill="#f7d458" stroke="#806e2e"/><path d="M100.8,64.8L96.5,62.5L101.2,58.5L105.5,60.7Z" fill="#f5e25d" stroke="#807631"/><path d="M91.7,66.8L87.5,64.7L92.3,60.5L96.5,62.5Z" fill="#f1f062" stroke="#7e7d33"/><path d="M178.4,69.2L173.6,64.7L177.9,62.2L182.7,66.7Z" fill="#f4c929" stroke="#7f6915"/><path d="M169.3,67.4L164.6,63.1L168.9,60.5L173.6,64.7Z" fill="#f5bf30" stroke="#806419"/><path d="M160.1,66.1L155.5,62L159.9,59.2L164.6,63.1Z" fill="#f6b937" stroke="#80601d"/><path d="M151,65.2L146.4,61.4L150.9,58.3L155.5,62Z" fill="#f6b83e" stroke="#806020"/><path d="M141.8,64.7L137.3,61.2L141.8,57.9L146.4,61.4Z" fill="#f6bb44" stroke="#806123"/><path d="M132.7,64.7L128.1,61.4L132.7,57.9L137.3,61.2Z" fill="#f7c24a" stroke="#806527"/><path d="M123.5,65.1L119,62.1L123.7,58.4L128.1,61.4Z" fill="#f7cd50" stroke="#806b2a"/><path d="M114.3,66L109.9,63.2L114.6,59.3L119,62.1Z" fill="#f6d856" stroke="#80712d"/><path d="M105.2,67.3L100.8,64.8L105.5,60.7L109.9,63.2Z" fill="#f5e65b" stroke="#7f772f"/><path d="M96,69.1L91.7,66.8L96.5,62.5L100.8,64.8Z" fill="#eef05f" stroke="#7c7d31"/><path d="M174,72L169.3,67.4L173.6,64.7L178.4,69.2Z" fill="#f4d22d" stroke="#7f6d17"/><path d="M164.9,70.4L160.1,66.1L164.6,63.1L169.3,67.4Z" fill="#f5cc34" stroke="#7f6a1b"/><path d="M155.7,69.2L151,65.2L155.5,62L160.1,66.1Z" fill="#f6c93b" stroke="#80681e"/><path d="M146.5,68.5L141.8,64.7L146.4,61.4L151,65.2Z" fill="#f6ca41" stroke="#806922"/><path d="M137.2,68.3L132.7,64.7L137.3,61.2L141.8,64.7Z" fill="#f6ce47" stroke="#806b25"/><path d="M128,68.5L123.5,65.1L128.1,61.4L132.7,64.7Z" fill="#f6d54d" stroke="#806f28"/><path d="M118.8,69.1L114.3,66L119,62.1L123.5,65.1Z" fill="#f5df53" stroke="#7f742b"/><path d="M109.6,70.2L105.2,67.3L109.9,63.2L114.3,66Z" fill="#f4eb59" stroke="#7f7a2e"/><path d="M100.4,71.7L96,69.1L100.8,64.8L105.2,67.3Z" fill="#e9f05b" stroke="#797d30"/><path d="M169.6,75L164.9,70.4L169.3,67.4L174,72Z" fill="#f2dd31" stroke="#7e7319"/><path d="M160.4,73.6L155.7,69.2L160.1,66.1L164.9,70.4Z" fill="#f4d837" stroke="#7f701d"/><path d="M151.1,72.7L146.5,68.5L151,65.2L155.7,69.2Z" fill="#f4d73e" stroke="#7f7020"/><path d="M141.9,72.2L137.2,68.3L141.8,64.7L146.5,68.5Z" fill="#f5d944" stroke="#7f7124"/><path d="M132.6,72.1L128,68.5L132.7,64.7L137.2,68.3Z" fill="#f4de4a" stroke="#7f7427"/><path d="M123.3,72.5L118.8,69.1L123.5,65.1L128,68.5Z" fill="#f4e750" stroke="#7f782a"/><path d="M114,73.4L109.6,70.2L114.3,66L118.8,69.1Z" fill="#f1ef55" stroke="#7d7c2c"/><path d="M104.8,74.7L100.4,71.7L105.2,67.3L109.6,70.2Z" fill="#e2f057" stroke="#757d2d"/><path d="M165.1,78.3L160.4,73.6L164.9,70.4L169.6,75Z" fill="#f1e934" stroke="#7d791b"/><path d="M155.8,77.1L151.1,72.7L155.7,69.2L160.4,73.6Z" fill="#f2e63b" stroke="#7e771f"/><path d="M146.5,76.4L141.9,72.2L146.5,68.5L151.1,72.7Z" fill="#f3e641" stroke="#7e7822"/><path d="M137.2,76.1L132.6,72.1L137.2,68.3L141.9,72.2Z" fill="#f3ea47" stroke="#7e7925"/><path d="M127.9,76.2L123.3,72.5L128,68.5L132.6,72.1Z" fill="#f1ee4d" stroke="#7d7c28"/><path d="M118.6,76.8L114,73.4L118.8,69.1L123.3,72.5Z" fill="#e6ef50" stroke="#787c2a"/><path d="M109.2,77.9L104.8,74.7L109.6,70.2L114,73.4Z" fill="#d9ef53" stroke="#717d2b"/><path d="M160.6,81.9L155.8,77.1L160.4,73.6L165.1,78.3Z" fill="#e4ec35" stroke="#777b1c"/><path d="M151.3,80.9L146.5,76.4L151.1,72.7L155.8,77.1Z" fill="#e8ed3c" stroke="#797b1f"/><path d="M141.9,80.3L137.2,76.1L141.9,72.2L146.5,76.4Z" fill="#e7ee42" stroke="#787c22"/><path d="M132.5,80.3L127.9,76.2L132.6,72.1L137.2,76.1Z" fill="#e2ee47" stroke="#767c25"/><path d="M123.1,80.6L118.6,76.8L123.3,72.5L127.9,76.2Z" fill="#daef4b" stroke="#717c27"/><path d="M113.8,81.4L109.2,77.9L114,73.4L118.6,76.8Z" fill="#ceef4e" stroke="#6b7c29"/><path d="M156,85.7L151.3,80.9L155.8,77.1L160.6,81.9Z" fill="#d2ed34" stroke="#6d7b1b"/><path d="M146.6,84.9L141.9,80.3L146.5,76.4L151.3,80.9Z" fill="#d4ed3b" stroke="#6e7b1f"/><path d="M137.2,84.6L132.5,80.3L137.2,76.1L141.9,80.3Z" fill="#d1ee40" stroke="#6d7c21"/><path d="M127.8,84.7L123.1,80.6L127.9,76.2L132.5,80.3Z" fill="#cbee45" stroke="#6a7c24"/><path d="M118.3,85.3L113.8,81.4L118.6,76.8L123.1,80.6Z" fill="#c2ee4a" stroke="#657c27"/><path d="M151.4,89.9L146.6,84.9L151.3,80.9L156,85.7Z" fill="#beed35" stroke="#637b1b"/><path d="M141.9,89.3L137.2,84.6L141.9,80.3L146.6,84.9Z" fill="#beed3b" stroke="#637b1f"/><path d="M132.4,89.1L127.8,84.7L132.5,80.3L137.2,84.6Z" fill="#baed41" stroke="#617b22"/><path d="M123,89.4L118.3,85.3L123.1,80.6L127.8,84.7Z" fill="#b3ed47" stroke="#5d7b25"/><path d="M146.7,94.2L141.9,89.3L146.6,84.9L151.4,89.9Z" fill="#a9eb37" stroke="#587a1d"/><path d="M137.2,93.9L132.4,89.1L137.2,84.6L141.9,89.3Z" fill="#a7ec3e" stroke="#577a20"/><path d="M127.6,93.9L123,89.4L127.8,84.7L132.4,89.1Z" fill="#a2ec44" stroke="#547a23"/><path d="M141.9,98.9L137.2,93.9L141.9,89.3L146.7,94.2Z" fill="#91ea3a" stroke="#4c7a1e"/><path d="M132.4,98.7L127.6,93.9L132.4,89.1L137.2,93.9Z" fill="#8eea40" stroke="#4a7a21"/><path d="M137.1,103.9L132.4,98.7L137.2,93.9L141.9,98.9Z" fill="#7be942" stroke="#407922"/></g>
<circle cx="137.2" cy="35.7" r="1.7" fill="#b80000"/>
<g font-family="'Liberation Sans', sans-serif" fill="#000"><text x="18.2" y="21.0" font-size="12.5" font-weight="bold" textLength="16.0" lengthAdjust="spacingAndGlyphs">(a)</text><text transform="translate(36.5,88.33) rotate(-93.36)" text-anchor="middle" font-size="9.5" font-weight="bold" textLength="105.5" lengthAdjust="spacingAndGlyphs">Degradation Efficiency (%)</text><text transform="translate(76.36,172.93) rotate(22.5)" text-anchor="middle" font-size="9.5" font-weight="bold" textLength="84.4" lengthAdjust="spacingAndGlyphs">Catalyst Dosage (mg)</text><text transform="translate(194.31,174.57) rotate(-23.0)" text-anchor="middle" font-size="9.5" font-weight="bold" textLength="79.8" lengthAdjust="spacingAndGlyphs">H2O2 Dosage (mM)</text></g>
<path d="M261.6,114.5L343.3,87L424.5,114.5M261,102.6L343.3,76.2L425.1,102.7M260.5,90.7L343.3,65.5L425.7,90.8M259.9,78.7L343.3,54.8L426.3,78.9M259.3,66.8L343.3,44.1L426.8,67.1M258.7,54.9L343.3,33.3L427.4,55.2M258.2,42.9L343.3,22.6L428,43.4M257.6,31L343.3,11.9L428.6,31.5M282,107.7L279,26.2M404.2,107.6L407.3,26.6M302.5,100.8L300.5,21.4M383.9,100.7L386,21.7M322.9,93.9L321.9,16.7M363.6,93.9L364.6,16.8M262.9,141.4L257.6,31M343.3,111.1L343.3,11.9M423.2,141.2L428.6,31.5" fill="none" stroke="#404040" stroke-width="0.75"/>
<path d="M343.4,180.1L262.9,141.4L343.3,111.1L423.2,141.2Z" fill="#646464" stroke="#2e2e2e" stroke-width="0.9" stroke-linejoin="round"/>
<path d="M312.2,165.1L313,165.3L314.2,165.8L315.5,166.1L316.2,166.4L317.5,166.7L318.4,167L319.4,167.3L320.8,167.7L321.4,167.9L322.8,168.3L323.8,168.5L324.9,168.8L326.2,169.2L327,169.4L328.4,169.7L329.1,169.9L330.6,170.2L331.3,170.4L332.8,170.7L333.5,170.9L335,171.2L335.8,171.4L337.1,171.7L338.1,171.9L339.1,172.1L340.4,172.3L341.2,172.5L342.8,172.8L343.6,172.9L344.7,173.1L346,173.4L346.9,173.5L348.2,173.7L349.4,173.9L350.2,174.1L351.6,174.3L352.7,174.4L353.6,174.6L354.5,174.7" fill="none" stroke="#8cc81e" stroke-width="1.15"/>
<path d="M270,138.8L270.2,139.2L270.5,139.7L270.7,140L271,140.5L271.3,140.9L271.5,141.2L271.9,141.8L272.2,142.1L272.6,142.7L272.9,143L273.2,143.5L273.6,143.9L274,144.3L274.4,144.8L274.8,145.2L275.3,145.6L275.8,146.2L276.2,146.5L276.8,147L277.1,147.3L277.8,147.9L278.4,148.4L278.8,148.7L279.5,149.2L280.1,149.7" fill="none" stroke="#8cc81e" stroke-width="1.15"/>
<path d="M277.9,135.8L278,136.1L278.1,136.4L278.3,136.9L278.5,137.4L278.6,137.8L278.8,138.1L279,138.6L279.3,139L279.4,139.3L279.8,139.9L280,140.3L280.2,140.6L280.7,141.2L280.9,141.5L281.3,142L281.6,142.4L282,142.8L282.4,143.3L282.7,143.6L283.2,144.1L283.6,144.5L284.1,145L284.6,145.5L285,145.8L285.7,146.4L286,146.6L286.7,147.2L287.3,147.7L287.7,148L288.4,148.5L289.2,149.1L289.6,149.3L290.3,149.8L291.1,150.4L291.8,150.8L292.3,151.1L293.2,151.6L294,152.1L294.9,152.6L295.8,153.1L296.5,153.5L297.2,153.9L298.1,154.3L299,154.8L300,155.3L301,155.8L302,156.2L303,156.7L304,157.2L305.1,157.6L305.6,157.8L306.7,158.3L307.8,158.7L308.9,159.2L310,159.6L311.2,160L311.8,160.3L312.9,160.7L314.1,161.1L315.3,161.5L316,161.7L317.1,162.1L318.4,162.5L319.4,162.8L320.3,163.1L321.5,163.5L322.5,163.8L323.5,164L324.8,164.4L325.5,164.6L326.8,165L327.8,165.2L328.9,165.5L330.2,165.9L331,166L332.4,166.4L333.1,166.6L334.6,166.9L335.3,167.1L336.8,167.4L337.5,167.5L338.9,167.8L339.8,168L340.8,168.2L342.1,168.5L342.8,168.6L344.4,168.9L345.2,169.1L346.4,169.3L347.6,169.5L348.4,169.6L349.9,169.9L350.9,170L351.7,170.1L353.2,170.4L354.2,170.5L355.1,170.6L356.4,170.8L357.7,171L358.6,171.1L359.5,171.2L361,171.4L361.2,171.4" fill="none" stroke="#d4d01e" stroke-width="1.15"/>
<path d="M343.9,111.3L342.9,111.3L342.8,111.3" fill="none" stroke="#d4d01e" stroke-width="1.15"/>
<path d="M287.8,132L287.8,132.4L287.8,132.8L287.7,133.2L287.7,133.6L287.8,134L287.8,134.5L287.9,135L288,135.3L288.1,135.7L288.1,136L288.3,136.5L288.5,137L288.6,137.3L288.8,137.7L289,138.2L289.3,138.6L289.5,138.9L289.7,139.4L290,139.9L290.3,140.2L290.7,140.7L290.9,141.1L291.3,141.5L291.7,142L292,142.3L292.5,142.8L292.8,143.1L293.4,143.7L293.7,144L294.3,144.5L294.8,145L295.3,145.4L296,145.9L296.3,146.2L297,146.7L297.8,147.2L298.1,147.5L298.9,148L299.7,148.5L300.4,149L300.9,149.3L301.8,149.8L302.6,150.3L303.5,150.8L304.4,151.3L304.9,151.6L305.8,152L306.7,152.5L307.7,152.9L308.7,153.4L309.7,153.9L310.7,154.3L311.8,154.8L312.8,155.2L313.3,155.4L314.4,155.9L315.5,156.3L316.7,156.7L317.8,157.2L318.9,157.5L319.5,157.8L320.7,158.2L321.9,158.6L322.8,158.9L323.8,159.2L325,159.6L326.1,159.9L326.9,160.1L328.2,160.5L329,160.7L330.2,161.1L331.5,161.4L332.2,161.6L333.6,161.9L334.3,162.1L335.7,162.4L336.4,162.6L337.8,162.9L338.5,163.1L340,163.4L340.7,163.6L342.2,163.9L342.9,164L344.4,164.3L345.2,164.5L346.3,164.7L347.6,164.9L348.3,165L349.8,165.3L350.7,165.4L351.5,165.6L353.1,165.8L354,165.9L354.9,166.1L356.3,166.3L357.4,166.4L358.2,166.5L359.4,166.6L360.9,166.8L361.7,166.9L362.6,167L363.7,167.1L365.1,167.2L366.3,167.3L367.2,167.4L368.1,167.5L369.1,167.6" fill="none" stroke="#dca828" stroke-width="1.15"/>
<path d="M353.2,114.8L352.1,114.7L351,114.7L350.1,114.6L349.3,114.6L348.5,114.5L347.7,114.5L346.9,114.5L345.9,114.4L344.9,114.4L344,114.4L343,114.4L342.1,114.4L341.1,114.4L340.2,114.3L339.3,114.4L338.4,114.4L337.5,114.4L336.7,114.4L335.8,114.4L335,114.4L334.4,114.4" fill="none" stroke="#dca828" stroke-width="1.15"/>
<path d="M306.1,125.1L305.6,125.4L304.9,125.9L304.5,126.2L303.8,126.7L303.5,126.9L303.1,127.3L302.6,127.8L302.3,128.1L301.9,128.5L301.6,129L301.3,129.3L301.1,129.6L300.9,130L300.6,130.5L300.4,130.9L300.2,131.3L300.1,131.7L300,132.1L299.9,132.5L299.9,132.9L299.8,133.3L299.8,133.7L299.8,134.1L299.8,134.5L299.9,134.9L299.9,135.2L300,135.6L300.1,136L300.3,136.5L300.4,137L300.6,137.3L300.7,137.6L301,138.2L301.3,138.6L301.5,138.9L301.8,139.4L302.1,139.8L302.3,140.1L302.8,140.7L303.1,141L303.6,141.6L303.9,141.9L304.4,142.4L304.8,142.8L305.4,143.3L305.8,143.6L306.4,144.1L306.8,144.4L307.5,144.9L308.2,145.5L308.6,145.7L309.4,146.3L310.2,146.8L310.6,147L311.4,147.5L312.3,148L313.2,148.5L314.1,149L315,149.5L315.7,149.8L316.4,150.2L317.4,150.6L318.4,151.1L319.4,151.5L320,151.8L321,152.2L322.1,152.6L323.2,153L324.3,153.4L325.4,153.9L326.5,154.3L327.1,154.5L328.3,154.9L329.5,155.2L330.3,155.5L331.4,155.8L332.7,156.2L333.4,156.4L334.6,156.7L335.9,157.1L336.6,157.3L337.9,157.6L338.6,157.8L340,158.1L340.8,158.3L342.1,158.6L342.9,158.7L344.2,159L345,159.2L346.5,159.5L347.2,159.6L348.6,159.9L349.5,160L350.4,160.2L351.8,160.4L352.6,160.6L353.8,160.7L355,160.9L355.9,161L356.9,161.2L358.4,161.4L359.2,161.5L360.1,161.6L361.3,161.7L362.7,161.8L363.6,161.9L364.5,162L365.5,162.1L366.8,162.2L368.1,162.3L369.1,162.3L370.1,162.4L371,162.5L372,162.5L373,162.5L374.2,162.6L375.3,162.6L376.5,162.6L377.6,162.7L378.7,162.7L379.1,162.7" fill="none" stroke="#d98228" stroke-width="1.15"/>
<path d="M421,142.3L420.7,141.8L420.4,141.3L420,140.8L419.8,140.5L419.5,140.2L419,139.7" fill="none" stroke="#d98228" stroke-width="1.15"/>
<path d="M366.5,119.8L365.6,119.7L364.9,119.6L363.7,119.5L362.8,119.4L362.1,119.3L361.1,119.2L359.9,119L359.2,119L358.4,118.9L357.4,118.8L356.2,118.7L355.4,118.6L354.6,118.6L353.8,118.5L352.8,118.5L351.7,118.4L350.7,118.4L349.8,118.3L349,118.3L348.1,118.3L347.3,118.2L346.4,118.2L345.5,118.2L344.6,118.2L343.7,118.2L342.8,118.2L341.9,118.2L341,118.2L340,118.2L339,118.2L338,118.3L337,118.3L336,118.3L335.1,118.4L334.3,118.4L333.5,118.5L332.7,118.5L331.5,118.6L330.4,118.7L329.7,118.8L329,118.9L327.8,119L326.8,119.1L326.1,119.2L325,119.4L324.1,119.5L323.4,119.6L322.1,119.8L321.5,119.9L320.2,120.2L319.6,120.3L318.4,120.6L317.6,120.8" fill="none" stroke="#d98228" stroke-width="1.15"/>
<path d="M326.7,125.5L325.6,125.8L324.6,126.2L323.5,126.5L322.6,126.9L321.7,127.3L320.8,127.8L320.2,128.1L319.6,128.5L318.8,129L318.5,129.2L317.8,129.7L317.5,130L317.1,130.4L316.7,130.9L316.4,131.2L316.2,131.6L315.9,132.1L315.6,132.5L315.5,132.9L315.4,133.2L315.3,133.6L315.2,134L315.2,134.4L315.1,134.8L315.2,135.3L315.2,135.7L315.3,136.1L315.4,136.5L315.5,136.8L315.7,137.2L315.9,137.7L316.2,138.2L316.4,138.5L316.6,138.9L317,139.4L317.3,139.7L317.7,140.3L318.1,140.6L318.5,141L319,141.5L319.5,141.9L320,142.3L320.7,142.9L321,143.1L321.8,143.6L322.6,144.2L323,144.4L323.8,144.9L324.7,145.4L325.5,145.9L326.1,146.2L326.9,146.6L327.9,147L328.9,147.5L329.9,147.9L330.9,148.4L332,148.8L332.5,149L333.7,149.4L334.8,149.8L335.9,150.2L337.1,150.6L337.7,150.8L338.9,151.1L340.2,151.5L340.8,151.7L342.1,152L343,152.2L344.1,152.5L345.3,152.8L346.2,153L347.4,153.3L348.3,153.4L349.4,153.6L350.4,153.8L351.2,154L352.7,154.2L353.5,154.4L354.6,154.6L355.8,154.7L356.6,154.8L357.7,155L359.1,155.2L359.9,155.3L360.7,155.3L362,155.5L363.3,155.6L364.2,155.7L365.1,155.7L366,155.8L367.2,155.9L368.4,155.9L369.5,156L370.7,156L371.8,156L372.8,156.1L373.9,156.1L374.9,156.1L376,156L377,156L378,156L379,155.9L379.9,155.9L380.8,155.8L381.8,155.8L383.1,155.7L384.3,155.5L385.2,155.4L386,155.4L387.2,155.2L388.3,155L389.1,154.9L390.4,154.6L391.2,154.5L392.3,154.2L393.3,154L394.5,153.7L395.1,153.5L396.3,153.1L397.4,152.7L398,152.5L399,152.1L399.9,151.6L400.8,151.2L401.3,150.9L402.1,150.4L402.8,149.9L403.4,149.4L403.8,149L404.3,148.4L404.6,148.1L404.9,147.7L405.2,147.2L405.4,146.8L405.6,146.4L405.8,145.8L405.8,145.4L405.9,145L405.9,144.6L405.9,144.2L405.9,143.8L405.8,143.4L405.7,142.9L405.6,142.5L405.4,142.1L405.2,141.6L404.9,141.1L404.6,140.6L404.4,140.3L404.1,139.9L403.8,139.5L403.3,138.9L403,138.6L402.7,138.3L402,137.7L401.7,137.4L401.2,137L400.6,136.5L400.2,136.3L399.5,135.7L399,135.4L398.3,134.9L397.5,134.5L397,134.2L396.1,133.7L395.3,133.3L394.8,133L393.9,132.5L393,132.1L392,131.7L391.2,131.3L390.5,131L389.5,130.6L388.5,130.3L387.5,129.9L386.4,129.5L385.9,129.3L384.8,128.9L383.7,128.6L382.6,128.3L381.5,127.9L380.8,127.7L379.7,127.4L378.6,127.1L377.7,126.9L376.8,126.7L375.6,126.4L374.9,126.3L373.7,126L373,125.9L371.8,125.6L371.1,125.5L369.8,125.2L369.2,125.1L367.8,124.9L367.2,124.8L366,124.6L365.1,124.5L364.4,124.4L363.1,124.2L362.3,124.1L361.5,124L360.4,123.9L359.3,123.8L358.5,123.7L357.8,123.6L356.7,123.6L355.5,123.5L354.6,123.4L353.8,123.4L353,123.3L352.1,123.3L351.2,123.2L350.2,123.2L349.2,123.2L348.2,123.2L347.3,123.2L346.3,123.2L345.4,123.2L344.5,123.2L343.7,123.2L342.8,123.3L341.8,123.3L340.7,123.4L339.6,123.4L338.7,123.5L338,123.6L337.2,123.6L335.9,123.8L335,123.9L334.3,124L333,124.2L332.2,124.3L331.4,124.5L330.3,124.7L329.5,124.8L328.5,125.1L327.3,125.4L326.7,125.5" fill="none" stroke="#d24428" stroke-width="1.15"/>
<g fill="#111"><rect x="260.8" y="113.7" width="1.6" height="1.6"/><rect x="260.2" y="101.8" width="1.6" height="1.6"/><rect x="259.7" y="89.9" width="1.6" height="1.6"/><rect x="259.1" y="77.9" width="1.6" height="1.6"/><rect x="258.5" y="66" width="1.6" height="1.6"/><rect x="257.9" y="54.1" width="1.6" height="1.6"/><rect x="257.4" y="42.1" width="1.6" height="1.6"/><rect x="256.8" y="30.2" width="1.6" height="1.6"/><rect x="342.6" y="179.3" width="1.6" height="1.6"/><rect x="342.6" y="179.3" width="1.6" height="1.6"/><rect x="322.5" y="169.6" width="1.6" height="1.6"/><rect x="362.5" y="169.6" width="1.6" height="1.6"/><rect x="302.3" y="159.9" width="1.6" height="1.6"/><rect x="382.5" y="159.8" width="1.6" height="1.6"/><rect x="282.2" y="150.3" width="1.6" height="1.6"/><rect x="402.4" y="150.1" width="1.6" height="1.6"/><rect x="262.1" y="140.6" width="1.6" height="1.6"/><rect x="422.4" y="140.4" width="1.6" height="1.6"/></g>
<g font-family="'Liberation Sans', sans-serif" font-size="4.7" fill="#444"><text x="259" y="114.7" text-anchor="end">86</text><text x="258.4" y="102.8" text-anchor="end">88</text><text x="257.9" y="90.9" text-anchor="end">90</text><text x="257.3" y="78.9" text-anchor="end">92</text><text x="256.7" y="67" text-anchor="end">94</text><text x="256.1" y="55.1" text-anchor="end">96</text><text x="255.6" y="43.1" text-anchor="end">98</text><text x="255" y="31.2" text-anchor="end">100</text><text x="339.1" y="184.7" text-anchor="middle">60</text><text x="319" y="175" text-anchor="middle">65</text><text x="298.8" y="165.3" text-anchor="middle">70</text><text x="278.7" y="155.7" text-anchor="middle">75</text><text x="258.6" y="146" text-anchor="middle">80</text><text x="345.8" y="185.1">0.04</text><text x="365.7" y="175.4">0.05</text><text x="385.7" y="165.6">0.06</text><text x="405.6" y="155.9">0.07</text><text x="425.6" y="146.2">0.08</text></g>
<g stroke-width="0.4" stroke-linejoin="round"><path d="M343.3,30.4L339.5,31L343.3,31.6L347.1,31.1Z" fill="#e8cb26" stroke="#796a14"/><path d="M347.1,30L343.3,30.4L347.1,31.1L350.9,30.7Z" fill="#eabe26" stroke="#7a6314"/><path d="M339.5,30L335.7,30.5L339.5,31L343.3,30.4Z" fill="#edbf27" stroke="#7b6314"/><path d="M351,29.7L347.1,30L350.9,30.7L354.8,30.4Z" fill="#eab026" stroke="#7a5c14"/><path d="M343.3,29.6L339.5,30L343.3,30.4L347.1,30Z" fill="#edaf27" stroke="#7b5b14"/><path d="M335.6,29.8L331.9,30.3L335.7,30.5L339.5,30Z" fill="#efb127" stroke="#7d5c14"/><path d="M354.9,29.6L351,29.7L354.8,30.4L358.7,30.2Z" fill="#eaa226" stroke="#7a5414"/><path d="M347.2,29.3L343.3,29.6L347.1,30L351,29.7Z" fill="#eda027" stroke="#7b5314"/><path d="M339.5,29.4L335.6,29.8L339.5,30L343.3,29.6Z" fill="#efa127" stroke="#7d5314"/><path d="M331.7,29.8L328,30.3L331.9,30.3L335.6,29.8Z" fill="#f2a528" stroke="#7e5615"/><path d="M358.9,29.6L354.9,29.6L358.7,30.2L362.6,30.2Z" fill="#ea9526" stroke="#7a4e14"/><path d="M351.1,29.2L347.2,29.3L351,29.7L354.9,29.6Z" fill="#ed9227" stroke="#7b4c14"/><path d="M343.3,29.2L339.5,29.4L343.3,29.6L347.2,29.3Z" fill="#ef9127" stroke="#7c4c14"/><path d="M335.5,29.5L331.7,29.8L335.6,29.8L339.5,29.4Z" fill="#f29528" stroke="#7e4d15"/><path d="M327.8,30.1L324,30.6L328,30.3L331.7,29.8Z" fill="#f59b28" stroke="#7f5115"/><path d="M362.9,29.7L358.9,29.6L362.6,30.2L366.6,30.3Z" fill="#ea8a26" stroke="#794814"/><path d="M355.1,29.2L351.1,29.2L354.9,29.6L358.9,29.6Z" fill="#ec8427" stroke="#7b4514"/><path d="M347.2,29L343.3,29.2L347.2,29.3L351.1,29.2Z" fill="#ee8227" stroke="#7c4414"/><path d="M339.4,29.2L335.5,29.5L339.5,29.4L343.3,29.2Z" fill="#f18428" stroke="#7d4515"/><path d="M331.6,29.7L327.8,30.1L331.7,29.8L335.5,29.5Z" fill="#f48a28" stroke="#7f4815"/><path d="M323.8,30.6L320,31.1L324,30.6L327.8,30.1Z" fill="#f5952e" stroke="#7f4d18"/><path d="M367,30L362.9,29.7L366.6,30.3L370.7,30.6Z" fill="#e97f26" stroke="#794214"/><path d="M359.1,29.3L355.1,29.2L358.9,29.6L362.9,29.7Z" fill="#eb7827" stroke="#7a3e14"/><path d="M351.2,29L347.2,29L351.1,29.2L355.1,29.2Z" fill="#ed7427" stroke="#7b3d14"/><path d="M343.3,29.1L339.4,29.2L343.3,29.2L347.2,29Z" fill="#f07528" stroke="#7d3d15"/><path d="M335.5,29.5L331.6,29.7L335.5,29.5L339.4,29.2Z" fill="#f37928" stroke="#7e3f15"/><path d="M327.6,30.2L323.8,30.6L327.8,30.1L331.6,29.7Z" fill="#f4842e" stroke="#7f4418"/><path d="M319.7,31.3L315.9,31.8L320,31.1L323.8,30.6Z" fill="#f59234" stroke="#7f4c1b"/><path d="M371.1,30.4L367,30L370.7,30.6L374.8,31Z" fill="#e87626" stroke="#793d14"/><path d="M363.2,29.6L359.1,29.3L362.9,29.7L367,30Z" fill="#ea6e27" stroke="#7a3914"/><path d="M355.2,29.2L351.2,29L355.1,29.2L359.1,29.3Z" fill="#ed6927" stroke="#7b3614"/><path d="M347.3,29.1L343.3,29.1L347.2,29L351.2,29Z" fill="#ef6727" stroke="#7c3615"/><path d="M339.4,29.4L335.5,29.5L339.4,29.2L343.3,29.1Z" fill="#f26a28" stroke="#7e3715"/><path d="M331.4,30L327.6,30.2L331.6,29.7L335.5,29.5Z" fill="#f3742e" stroke="#7e3c18"/><path d="M323.5,31L319.7,31.3L323.8,30.6L327.6,30.2Z" fill="#f48134" stroke="#7f431b"/><path d="M315.6,32.3L311.8,32.8L315.9,31.8L319.7,31.3Z" fill="#f5923a" stroke="#7f4c1e"/><path d="M375.2,31L371.1,30.4L374.8,31L379,31.5Z" fill="#e76f26" stroke="#783a14"/><path d="M367.3,30L363.2,29.6L367,30L371.1,30.4Z" fill="#ea6527" stroke="#793414"/><path d="M359.3,29.5L355.2,29.2L359.1,29.3L363.2,29.6Z" fill="#ec5e27" stroke="#7b3114"/><path d="M351.3,29.3L347.3,29.1L351.2,29L355.2,29.2Z" fill="#ee5b27" stroke="#7c2f15"/><path d="M343.3,29.5L339.4,29.4L343.3,29.1L347.3,29.1Z" fill="#f15d28" stroke="#7d3015"/><path d="M335.4,30L331.4,30L335.5,29.5L339.4,29.4Z" fill="#f2652d" stroke="#7e3518"/><path d="M327.4,30.8L323.5,31L327.6,30.2L331.4,30Z" fill="#f37234" stroke="#7e3b1b"/><path d="M319.4,32L315.6,32.3L319.7,31.3L323.5,31Z" fill="#f4823b" stroke="#7f441e"/><path d="M311.4,33.6L307.7,34L311.8,32.8L315.6,32.3Z" fill="#f59441" stroke="#804d22"/><path d="M379.4,31.7L375.2,31L379,31.5L383.2,32.2Z" fill="#e76926" stroke="#783714"/><path d="M371.4,30.6L367.3,30L371.1,30.4L375.2,31Z" fill="#e95d27" stroke="#793014"/><path d="M363.4,29.9L359.3,29.5L363.2,29.6L367.3,30Z" fill="#eb5527" stroke="#7a2c14"/><path d="M355.4,29.6L351.3,29.3L355.2,29.2L359.3,29.5Z" fill="#ee5027" stroke="#7c2a15"/><path d="M347.4,29.6L343.3,29.5L347.3,29.1L351.3,29.3Z" fill="#f05028" stroke="#7d2a15"/><path d="M339.3,30L335.4,30L339.4,29.4L343.3,29.5Z" fill="#f2582d" stroke="#7e2e18"/><path d="M331.3,30.8L327.4,30.8L331.4,30L335.4,30Z" fill="#f26434" stroke="#7e341b"/><path d="M323.3,31.9L319.4,32L323.5,31L327.4,30.8Z" fill="#f3743b" stroke="#7e3c1e"/><path d="M315.2,33.3L311.4,33.6L315.6,32.3L319.4,32Z" fill="#f48541" stroke="#7f4522"/><path d="M307.2,35.1L303.5,35.5L307.7,34L311.4,33.6Z" fill="#f69946" stroke="#805025"/><path d="M383.7,32.5L379.4,31.7L383.2,32.2L387.4,33Z" fill="#e66526" stroke="#783414"/><path d="M375.7,31.4L371.4,30.6L375.2,31L379.4,31.7Z" fill="#e95726" stroke="#792d14"/><path d="M367.6,30.5L363.4,29.9L367.3,30L371.4,30.6Z" fill="#eb4d27" stroke="#7a2814"/><path d="M359.5,30.1L355.4,29.6L359.3,29.5L363.4,29.9Z" fill="#ed4727" stroke="#7b2515"/><path d="M351.4,30L347.4,29.6L351.3,29.3L355.4,29.6Z" fill="#f04628" stroke="#7d2415"/><path d="M343.3,30.2L339.3,30L343.3,29.5L347.4,29.6Z" fill="#f14c2d" stroke="#7d2717"/><path d="M335.3,30.8L331.3,30.8L335.4,30L339.3,30Z" fill="#f25734" stroke="#7e2d1b"/><path d="M327.2,31.8L323.3,31.9L327.4,30.8L331.3,30.8Z" fill="#f3663a" stroke="#7e351e"/><path d="M319.1,33.2L315.2,33.3L319.4,32L323.3,31.9Z" fill="#f47841" stroke="#7f3e22"/><path d="M311,34.8L307.2,35.1L311.4,33.6L315.2,33.3Z" fill="#f58b46" stroke="#7f4825"/><path d="M303,36.9L299.2,37.3L303.5,35.5L307.2,35.1Z" fill="#f6a04c" stroke="#805328"/><path d="M388,33.5L383.7,32.5L387.4,33L391.7,34Z" fill="#e66226" stroke="#783314"/><path d="M379.9,32.2L375.7,31.4L379.4,31.7L383.7,32.5Z" fill="#e85326" stroke="#792b14"/><path d="M371.8,31.3L367.6,30.5L371.4,30.6L375.7,31.4Z" fill="#ea4827" stroke="#7a2514"/><path d="M363.7,30.7L359.5,30.1L363.4,29.9L367.6,30.5Z" fill="#ed4027" stroke="#7b2114"/><path d="M355.6,30.5L351.4,30L355.4,29.6L359.5,30.1Z" fill="#ef3d28" stroke="#7c2015"/><path d="M347.4,30.6L343.3,30.2L347.4,29.6L351.4,30Z" fill="#f1412d" stroke="#7d2217"/><path d="M339.3,31.1L335.3,30.8L339.3,30L343.3,30.2Z" fill="#f14c34" stroke="#7d281b"/><path d="M331.1,31.9L327.2,31.8L331.3,30.8L335.3,30.8Z" fill="#f25a3a" stroke="#7e2f1e"/><path d="M323,33.1L319.1,33.2L323.3,31.9L327.2,31.8Z" fill="#f36b41" stroke="#7e3822"/><path d="M314.9,34.7L311,34.8L315.2,33.3L319.1,33.2Z" fill="#f47e47" stroke="#7f4225"/><path d="M306.8,36.6L303,36.9L307.2,35.1L311,34.8Z" fill="#f5934c" stroke="#804c28"/><path d="M298.7,38.9L295,39.3L299.2,37.3L303,36.9Z" fill="#f7aa51" stroke="#80582a"/><path d="M392.4,34.7L388,33.5L391.7,34L396,35.2Z" fill="#e66126" stroke="#773214"/><path d="M384.2,33.3L379.9,32.2L383.7,32.5L388,33.5Z" fill="#e85026" stroke="#792a14"/><path d="M376.1,32.2L371.8,31.3L375.7,31.4L379.9,32.2Z" fill="#ea4427" stroke="#7a2314"/><path d="M367.9,31.5L363.7,30.7L367.6,30.5L371.8,31.3Z" fill="#ec3b27" stroke="#7b1f14"/><path d="M359.7,31.1L355.6,30.5L359.5,30.1L363.7,30.7Z" fill="#ef3628" stroke="#7c1c15"/><path d="M351.6,31.1L347.4,30.6L351.4,30L355.6,30.5Z" fill="#f03a2c" stroke="#7d1e17"/><path d="M343.4,31.5L339.3,31.1L343.3,30.2L347.4,30.6Z" fill="#f14233" stroke="#7d231b"/><path d="M335.2,32.2L331.1,31.9L335.3,30.8L339.3,31.1Z" fill="#f24f3a" stroke="#7e291e"/><path d="M327,33.3L323,33.1L327.2,31.8L331.1,31.9Z" fill="#f25f40" stroke="#7e3221"/><path d="M318.8,34.7L314.9,34.7L319.1,33.2L323,33.1Z" fill="#f37246" stroke="#7f3b25"/><path d="M310.6,36.5L306.8,36.6L311,34.8L314.9,34.7Z" fill="#f5874c" stroke="#7f4628"/><path d="M302.5,38.7L298.7,38.9L303,36.9L306.8,36.6Z" fill="#f69d51" stroke="#80522a"/><path d="M294.4,41.2L290.6,41.5L295,39.3L298.7,38.9Z" fill="#f7b456" stroke="#815d2d"/><path d="M396.8,36L392.4,34.7L396,35.2L400.4,36.5Z" fill="#e56126" stroke="#773314"/><path d="M388.6,34.5L384.2,33.3L388,33.5L392.4,34.7Z" fill="#e75026" stroke="#782914"/><path d="M380.4,33.2L376.1,32.2L379.9,32.2L384.2,33.3Z" fill="#ea4127" stroke="#7a2214"/><path d="M372.2,32.4L367.9,31.5L371.8,31.3L376.1,32.2Z" fill="#ec3727" stroke="#7b1d14"/><path d="M364,31.9L359.7,31.1L363.7,30.7L367.9,31.5Z" fill="#ee3326" stroke="#7c1a14"/><path d="M355.7,31.8L351.6,31.1L355.6,30.5L359.7,31.1Z" fill="#ef3529" stroke="#7c1b16"/><path d="M347.5,32L343.4,31.5L347.4,30.6L351.6,31.1Z" fill="#f03c31" stroke="#7d1f19"/><path d="M339.2,32.6L335.2,32.2L339.3,31.1L343.4,31.5Z" fill="#f14739" stroke="#7d251e"/><path d="M331,33.6L327,33.3L331.1,31.9L335.2,32.2Z" fill="#f25540" stroke="#7e2c21"/><path d="M322.7,34.9L318.8,34.7L323,33.1L327,33.3Z" fill="#f36746" stroke="#7e3625"/><path d="M314.5,36.6L310.6,36.5L314.9,34.7L318.8,34.7Z" fill="#f47c4c" stroke="#7f4028"/><path d="M306.3,38.6L302.5,38.7L306.8,36.6L310.6,36.5Z" fill="#f59151" stroke="#804c2a"/><path d="M298.1,41L294.4,41.2L298.7,38.9L302.5,38.7Z" fill="#f7a856" stroke="#80582d"/><path d="M290,43.8L286.3,44.1L290.6,41.5L294.4,41.2Z" fill="#f7bf5b" stroke="#81642f"/><path d="M401.2,37.5L396.8,36L400.4,36.5L404.9,38Z" fill="#e56426" stroke="#773414"/><path d="M393,35.8L388.6,34.5L392.4,34.7L396.8,36Z" fill="#e75126" stroke="#782a14"/><path d="M384.8,34.5L380.4,33.2L384.2,33.3L388.6,34.5Z" fill="#e94127" stroke="#792214"/><path d="M376.5,33.5L372.2,32.4L376.1,32.2L380.4,33.2Z" fill="#ec3527" stroke="#7b1c14"/><path d="M368.3,32.8L364,31.9L367.9,31.5L372.2,32.4Z" fill="#ed3025" stroke="#7b1913"/><path d="M360,32.6L355.7,31.8L359.7,31.1L364,31.9Z" fill="#ef3128" stroke="#7c1915"/><path d="M351.7,32.7L347.5,32L351.6,31.1L355.7,31.8Z" fill="#ef382f" stroke="#7c1d18"/><path d="M343.4,33.2L339.2,32.6L343.4,31.5L347.5,32Z" fill="#f04137" stroke="#7d221d"/><path d="M335.1,34L331,33.6L335.2,32.2L339.2,32.6Z" fill="#f24d40" stroke="#7e2821"/><path d="M326.8,35.2L322.7,34.9L327,33.3L331,33.6Z" fill="#f35e46" stroke="#7e3124"/><path d="M318.5,36.8L314.5,36.6L318.8,34.7L322.7,34.9Z" fill="#f4724c" stroke="#7f3b27"/><path d="M310.2,38.7L306.3,38.6L310.6,36.5L314.5,36.6Z" fill="#f58751" stroke="#7f462a"/><path d="M302,41L298.1,41L302.5,38.7L306.3,38.6Z" fill="#f69d56" stroke="#80522d"/><path d="M293.7,43.6L290,43.8L294.4,41.2L298.1,41Z" fill="#f7b55b" stroke="#815e2f"/><path d="M285.6,46.6L281.9,46.9L286.3,44.1L290,43.8Z" fill="#f8cc5f" stroke="#816a31"/><path d="M405.7,39.2L401.2,37.5L404.9,38L409.4,39.6Z" fill="#e56726" stroke="#773614"/><path d="M397.5,37.3L393,35.8L396.8,36L401.2,37.5Z" fill="#e75326" stroke="#782b14"/><path d="M389.2,35.8L384.8,34.5L388.6,34.5L393,35.8Z" fill="#e94227" stroke="#792314"/><path d="M380.9,34.7L376.5,33.5L380.4,33.2L384.8,34.5Z" fill="#eb3527" stroke="#7a1c14"/><path d="M372.6,34L368.3,32.8L372.2,32.4L376.5,33.5Z" fill="#ed2f25" stroke="#7b1913"/><path d="M364.2,33.6L360,32.6L364,31.9L368.3,32.8Z" fill="#ee2e26" stroke="#7c1814"/><path d="M355.9,33.5L351.7,32.7L355.7,31.8L360,32.6Z" fill="#ef342d" stroke="#7c1b17"/><path d="M347.5,33.9L343.4,33.2L347.5,32L351.7,32.7Z" fill="#f03d35" stroke="#7d201c"/><path d="M339.2,34.6L335.1,34L339.2,32.6L343.4,33.2Z" fill="#f1483e" stroke="#7d2620"/><path d="M330.8,35.7L326.8,35.2L331,33.6L335.1,34Z" fill="#f25646" stroke="#7e2d24"/><path d="M322.5,37.1L318.5,36.8L322.7,34.9L326.8,35.2Z" fill="#f3694c" stroke="#7e3727"/><path d="M314.2,38.9L310.2,38.7L314.5,36.6L318.5,36.8Z" fill="#f47e51" stroke="#7f412a"/><path d="M305.9,41.1L302,41L306.3,38.6L310.2,38.7Z" fill="#f69456" stroke="#804d2d"/><path d="M297.6,43.6L293.7,43.6L298.1,41L302,41Z" fill="#f7ab5b" stroke="#81592f"/><path d="M289.3,46.5L285.6,46.6L290,43.8L293.7,43.6Z" fill="#f8c25f" stroke="#816532"/><path d="M281.1,49.8L277.4,50L281.9,46.9L285.6,46.6Z" fill="#f7d963" stroke="#807134"/><path d="M410.3,41L405.7,39.2L409.4,39.6L413.9,41.4Z" fill="#e56d26" stroke="#773914"/><path d="M402,39L397.5,37.3L401.2,37.5L405.7,39.2Z" fill="#e75826" stroke="#782e14"/><path d="M393.7,37.4L389.2,35.8L393,35.8L397.5,37.3Z" fill="#e94627" stroke="#792414"/><path d="M385.3,36.1L380.9,34.7L384.8,34.5L389.2,35.8Z" fill="#eb3727" stroke="#7a1d14"/><path d="M377,35.2L372.6,34L376.5,33.5L380.9,34.7Z" fill="#ed2f25" stroke="#7b1913"/><path d="M368.6,34.7L364.2,33.6L368.3,32.8L372.6,34Z" fill="#ee2d25" stroke="#7c1713"/><path d="M360.2,34.5L355.9,33.5L360,32.6L364.2,33.6Z" fill="#ee322c" stroke="#7c1a17"/><path d="M351.8,34.7L347.5,33.9L351.7,32.7L355.9,33.5Z" fill="#ef3a33" stroke="#7c1e1b"/><path d="M343.4,35.3L339.2,34.6L343.4,33.2L347.5,33.9Z" fill="#f0443c" stroke="#7d231f"/><path d="M335,36.3L330.8,35.7L335.1,34L339.2,34.6Z" fill="#f25145" stroke="#7e2a24"/><path d="M326.6,37.6L322.5,37.1L326.8,35.2L330.8,35.7Z" fill="#f3624b" stroke="#7e3327"/><path d="M318.2,39.3L314.2,38.9L318.5,36.8L322.5,37.1Z" fill="#f47651" stroke="#7f3d2a"/><path d="M309.8,41.3L305.9,41.1L310.2,38.7L314.2,38.9Z" fill="#f58b56" stroke="#7f492d"/><path d="M301.5,43.8L297.6,43.6L302,41L305.9,41.1Z" fill="#f7a25b" stroke="#80542f"/><path d="M293.1,46.5L289.3,46.5L293.7,43.6L297.6,43.6Z" fill="#f8ba5f" stroke="#816032"/><path d="M284.8,49.7L281.1,49.8L285.6,46.6L289.3,46.5Z" fill="#f8d163" stroke="#816d34"/><path d="M276.6,53.2L272.9,53.4L277.4,50L281.1,49.8Z" fill="#f6e567" stroke="#807735"/><path d="M414.8,43L410.3,41L413.9,41.4L418.5,43.4Z" fill="#e57426" stroke="#773c14"/><path d="M406.5,40.9L402,39L405.7,39.2L410.3,41Z" fill="#e75e26" stroke="#783114"/><path d="M398.2,39.1L393.7,37.4L397.5,37.3L402,39Z" fill="#e94a27" stroke="#792714"/><path d="M389.8,37.7L385.3,36.1L389.2,35.8L393.7,37.4Z" fill="#eb3a27" stroke="#7a1e14"/><path d="M381.4,36.7L377,35.2L380.9,34.7L385.3,36.1Z" fill="#ed3125" stroke="#7b1913"/><path d="M373,36L368.6,34.7L372.6,34L377,35.2Z" fill="#ee2d25" stroke="#7c1713"/><path d="M364.5,35.7L360.2,34.5L364.2,33.6L368.6,34.7Z" fill="#ee312b" stroke="#7c1916"/><path d="M356.1,35.8L351.8,34.7L355.9,33.5L360.2,34.5Z" fill="#ef3832" stroke="#7c1d1a"/><path d="M347.6,36.2L343.4,35.3L347.5,33.9L351.8,34.7Z" fill="#f0413a" stroke="#7d221e"/><path d="M339.1,37L335,36.3L339.2,34.6L343.4,35.3Z" fill="#f14d43" stroke="#7d2823"/><path d="M330.7,38.2L326.6,37.6L330.8,35.7L335,36.3Z" fill="#f35c4b" stroke="#7e3027"/><path d="M322.2,39.8L318.2,39.3L322.5,37.1L326.6,37.6Z" fill="#f46f51" stroke="#7f3a2a"/><path d="M313.8,41.7L309.8,41.3L314.2,38.9L318.2,39.3Z" fill="#f58456" stroke="#7f452d"/><path d="M305.4,44.1L301.5,43.8L305.9,41.1L309.8,41.3Z" fill="#f69a5b" stroke="#80502f"/><path d="M297,46.7L293.1,46.5L297.6,43.6L301.5,43.8Z" fill="#f8b25f" stroke="#815c31"/><path d="M288.7,49.8L284.8,49.7L289.3,46.5L293.1,46.5Z" fill="#f8c963" stroke="#816834"/><path d="M280.3,53.1L276.6,53.2L281.1,49.8L284.8,49.7Z" fill="#f7de67" stroke="#807335"/><path d="M272.1,56.9L268.4,57L272.9,53.4L276.6,53.2Z" fill="#f4f168" stroke="#7f7d36"/><path d="M419.5,45.2L414.8,43L418.5,43.4L423.1,45.5Z" fill="#e67c26" stroke="#774014"/><path d="M411.1,42.9L406.5,40.9L410.3,41L414.8,43Z" fill="#e76526" stroke="#783514"/><path d="M402.8,41L398.2,39.1L402,39L406.5,40.9Z" fill="#e95127" stroke="#792a14"/><path d="M394.3,39.4L389.8,37.7L393.7,37.4L398.2,39.1Z" fill="#eb4027" stroke="#7a2114"/><path d="M385.9,38.3L381.4,36.7L385.3,36.1L389.8,37.7Z" fill="#ed3426" stroke="#7b1b14"/><path d="M377.4,37.5L373,36L377,35.2L381.4,36.7Z" fill="#ee2d24" stroke="#7c1813"/><path d="M368.9,37L364.5,35.7L368.6,34.7L373,36Z" fill="#ee312a" stroke="#7c1916"/><path d="M360.4,37L356.1,35.8L360.2,34.5L364.5,35.7Z" fill="#ef3731" stroke="#7c1d1a"/><path d="M351.9,37.3L347.6,36.2L351.8,34.7L356.1,35.8Z" fill="#f04039" stroke="#7d211e"/><path d="M343.4,38L339.1,37L343.4,35.3L347.6,36.2Z" fill="#f14a41" stroke="#7d2722"/><path d="M334.9,39.1L330.7,38.2L335,36.3L339.1,37Z" fill="#f2574a" stroke="#7e2d27"/><path d="M326.4,40.5L322.2,39.8L326.6,37.6L330.7,38.2Z" fill="#f36950" stroke="#7f372a"/><path d="M317.9,42.3L313.8,41.7L318.2,39.3L322.2,39.8Z" fill="#f47e55" stroke="#7f412c"/><path d="M309.4,44.5L305.4,44.1L309.8,41.3L313.8,41.7Z" fill="#f6945a" stroke="#804d2f"/><path d="M300.9,47L297,46.7L301.5,43.8L305.4,44.1Z" fill="#f7aa5f" stroke="#815931"/><path d="M292.5,50L288.7,49.8L293.1,46.5L297,46.7Z" fill="#f8c163" stroke="#816433"/><path d="M284.1,53.2L280.3,53.1L284.8,49.7L288.7,49.8Z" fill="#f8d867" stroke="#817035"/><path d="M275.8,56.9L272.1,56.9L276.6,53.2L280.3,53.1Z" fill="#f5eb68" stroke="#807a36"/><path d="M267.5,60.9L263.8,61L268.4,57L272.1,56.9Z" fill="#e3f165" stroke="#767d34"/><path d="M424.2,47.5L419.5,45.2L423.1,45.5L427.8,47.8Z" fill="#e68626" stroke="#774614"/><path d="M415.8,45.1L411.1,42.9L414.8,43L419.5,45.2Z" fill="#e76e26" stroke="#783914"/><path d="M407.4,43L402.8,41L406.5,40.9L411.1,42.9Z" fill="#e95927" stroke="#792e14"/><path d="M398.9,41.4L394.3,39.4L398.2,39.1L402.8,41Z" fill="#eb4727" stroke="#7a2514"/><path d="M390.4,40L385.9,38.3L389.8,37.7L394.3,39.4Z" fill="#ed3827" stroke="#7b1d15"/><path d="M381.9,39.1L377.4,37.5L381.4,36.7L385.9,38.3Z" fill="#ef3025" stroke="#7c1913"/><path d="M373.4,38.5L368.9,37L373,36L377.4,37.5Z" fill="#ef322a" stroke="#7c1a16"/><path d="M364.8,38.3L360.4,37L364.5,35.7L368.9,37Z" fill="#ef3731" stroke="#7c1d19"/><path d="M356.2,38.5L351.9,37.3L356.1,35.8L360.4,37Z" fill="#f03f38" stroke="#7d211d"/><path d="M347.7,39.1L343.4,38L347.6,36.2L351.9,37.3Z" fill="#f14940" stroke="#7d2621"/><path d="M339.1,40L334.9,39.1L339.1,37L343.4,38Z" fill="#f25549" stroke="#7e2c26"/><path d="M330.5,41.3L326.4,40.5L330.7,38.2L334.9,39.1Z" fill="#f36550" stroke="#7e3529"/><path d="M322,43L317.9,42.3L322.2,39.8L326.4,40.5Z" fill="#f47955" stroke="#7f3f2c"/><path d="M313.4,45.1L309.4,44.5L313.8,41.7L317.9,42.3Z" fill="#f58e5a" stroke="#804a2f"/><path d="M304.9,47.5L300.9,47L305.4,44.1L309.4,44.5Z" fill="#f7a45f" stroke="#805531"/><path d="M296.4,50.3L292.5,50L297,46.7L300.9,47Z" fill="#f8bb63" stroke="#816133"/><path d="M288,53.5L284.1,53.2L288.7,49.8L292.5,50Z" fill="#f8d267" stroke="#816d35"/><path d="M279.6,57L275.8,56.9L280.3,53.1L284.1,53.2Z" fill="#f6e568" stroke="#807736"/><path d="M271.2,60.9L267.5,60.9L272.1,56.9L275.8,56.9Z" fill="#ebf167" stroke="#7a7d35"/><path d="M262.9,65.2L259.2,65.2L263.8,61L267.5,60.9Z" fill="#d0f162" stroke="#6c7d33"/><path d="M420.5,47.5L415.8,45.1L419.5,45.2L424.2,47.5Z" fill="#e77926" stroke="#783f14"/><path d="M412,45.3L407.4,43L411.1,42.9L415.8,45.1Z" fill="#e96326" stroke="#793414"/><path d="M403.5,43.5L398.9,41.4L402.8,41L407.4,43Z" fill="#eb5027" stroke="#7a2914"/><path d="M395,42L390.4,40L394.3,39.4L398.9,41.4Z" fill="#ed3f27" stroke="#7b2115"/><path d="M386.4,40.9L381.9,39.1L385.9,38.3L390.4,40Z" fill="#ef3427" stroke="#7c1b14"/><path d="M377.9,40.2L373.4,38.5L377.4,37.5L381.9,39.1Z" fill="#ef342b" stroke="#7c1b16"/><path d="M369.3,39.9L364.8,38.3L368.9,37L373.4,38.5Z" fill="#ef3831" stroke="#7c1d19"/><path d="M360.6,39.9L356.2,38.5L360.4,37L364.8,38.3Z" fill="#f03f38" stroke="#7d211d"/><path d="M352,40.3L347.7,39.1L351.9,37.3L356.2,38.5Z" fill="#f14840" stroke="#7d2621"/><path d="M343.4,41.2L339.1,40L343.4,38L347.7,39.1Z" fill="#f25348" stroke="#7e2b25"/><path d="M334.8,42.3L330.5,41.3L334.9,39.1L339.1,40Z" fill="#f3634f" stroke="#7e3329"/><path d="M326.1,43.9L322,43L326.4,40.5L330.5,41.3Z" fill="#f47554" stroke="#7f3d2c"/><path d="M317.5,45.9L313.4,45.1L317.9,42.3L322,43Z" fill="#f58a59" stroke="#7f482f"/><path d="M309,48.2L304.9,47.5L309.4,44.5L313.4,45.1Z" fill="#f69f5e" stroke="#805331"/><path d="M300.4,50.9L296.4,50.3L300.9,47L304.9,47.5Z" fill="#f8b662" stroke="#815e33"/><path d="M291.9,53.9L288,53.5L292.5,50L296.4,50.3Z" fill="#f8cc66" stroke="#816a35"/><path d="M283.4,57.3L279.6,57L284.1,53.2L288,53.5Z" fill="#f7e068" stroke="#807436"/><path d="M275,61.1L271.2,60.9L275.8,56.9L279.6,57Z" fill="#f2f168" stroke="#7e7d36"/><path d="M266.6,65.2L262.9,65.2L267.5,60.9L271.2,60.9Z" fill="#d7f163" stroke="#707d33"/><path d="M416.8,47.7L412,45.3L415.8,45.1L420.5,47.5Z" fill="#e96e26" stroke="#793914"/><path d="M408.2,45.7L403.5,43.5L407.4,43L412,45.3Z" fill="#eb5a27" stroke="#7a2f14"/><path d="M399.6,44.1L395,42L398.9,41.4L403.5,43.5Z" fill="#ed4927" stroke="#7b2614"/><path d="M391,42.9L386.4,40.9L390.4,40L395,42Z" fill="#ef3b28" stroke="#7c1f15"/><path d="M382.4,42L377.9,40.2L381.9,39.1L386.4,40.9Z" fill="#f0382b" stroke="#7d1d17"/><path d="M373.8,41.6L369.3,39.9L373.4,38.5L377.9,40.2Z" fill="#f03b31" stroke="#7d1f1a"/><path d="M365.1,41.5L360.6,39.9L364.8,38.3L369.3,39.9Z" fill="#f04038" stroke="#7d221d"/><path d="M356.4,41.8L352,40.3L356.2,38.5L360.6,39.9Z" fill="#f1493f" stroke="#7d2621"/><path d="M347.7,42.5L343.4,41.2L347.7,39.1L352,40.3Z" fill="#f25347" stroke="#7e2b25"/><path d="M339,43.5L334.8,42.3L339.1,40L343.4,41.2Z" fill="#f3614e" stroke="#7e3329"/><path d="M330.4,45L326.1,43.9L330.5,41.3L334.8,42.3Z" fill="#f47354" stroke="#7f3c2c"/><path d="M321.7,46.8L317.5,45.9L322,43L326.1,43.9Z" fill="#f58759" stroke="#7f462e"/><path d="M313.1,49L309,48.2L313.4,45.1L317.5,45.9Z" fill="#f69b5e" stroke="#805131"/><path d="M304.5,51.5L300.4,50.9L304.9,47.5L309,48.2Z" fill="#f8b162" stroke="#815c33"/><path d="M295.9,54.5L291.9,53.9L296.4,50.3L300.4,50.9Z" fill="#f8c766" stroke="#816735"/><path d="M287.3,57.8L283.4,57.3L288,53.5L291.9,53.9Z" fill="#f7dc68" stroke="#817236"/><path d="M278.8,61.4L275,61.1L279.6,57L283.4,57.3Z" fill="#f5ee68" stroke="#7f7c36"/><path d="M270.3,65.5L266.6,65.2L271.2,60.9L275,61.1Z" fill="#def164" stroke="#747d34"/><path d="M412.9,48.2L408.2,45.7L412,45.3L416.8,47.7Z" fill="#eb6627" stroke="#7a3514"/><path d="M404.3,46.4L399.6,44.1L403.5,43.5L408.2,45.7Z" fill="#ed5427" stroke="#7b2b14"/><path d="M395.7,45.1L391,42.9L395,42L399.6,44.1Z" fill="#ef4528" stroke="#7c2415"/><path d="M387,44.1L382.4,42L386.4,40.9L391,42.9Z" fill="#f03d2c" stroke="#7d2017"/><path d="M378.3,43.5L373.8,41.6L377.9,40.2L382.4,42Z" fill="#f03e32" stroke="#7d201a"/><path d="M369.6,43.2L365.1,41.5L369.3,39.9L373.8,41.6Z" fill="#f04338" stroke="#7d231d"/><path d="M360.9,43.4L356.4,41.8L360.6,39.9L365.1,41.5Z" fill="#f14a3f" stroke="#7d2721"/><path d="M352.1,43.9L347.7,42.5L352,40.3L356.4,41.8Z" fill="#f25447" stroke="#7e2c25"/><path d="M343.4,44.9L339,43.5L343.4,41.2L347.7,42.5Z" fill="#f3614d" stroke="#7e3328"/><path d="M334.7,46.2L330.4,45L334.8,42.3L339,43.5Z" fill="#f47253" stroke="#7f3b2b"/><path d="M325.9,47.9L321.7,46.8L326.1,43.9L330.4,45Z" fill="#f58558" stroke="#7f452e"/><path d="M317.2,49.9L313.1,49L317.5,45.9L321.7,46.8Z" fill="#f6985d" stroke="#804f30"/><path d="M308.6,52.4L304.5,51.5L309,48.2L313.1,49Z" fill="#f7ae61" stroke="#815a33"/><path d="M299.9,55.2L295.9,54.5L300.4,50.9L304.5,51.5Z" fill="#f8c365" stroke="#816535"/><path d="M291.3,58.4L287.3,57.8L291.9,53.9L295.9,54.5Z" fill="#f8d868" stroke="#817036"/><path d="M282.7,61.9L278.8,61.4L283.4,57.3L287.3,57.8Z" fill="#f5ea68" stroke="#807a36"/><path d="M274.2,65.9L270.3,65.5L275,61.1L278.8,61.4Z" fill="#e4f165" stroke="#777d35"/><path d="M409.1,48.9L404.3,46.4L408.2,45.7L412.9,48.2Z" fill="#ed6027" stroke="#7b3214"/><path d="M400.4,47.4L395.7,45.1L399.6,44.1L404.3,46.4Z" fill="#ef5028" stroke="#7c2a15"/><path d="M391.7,46.3L387,44.1L391,42.9L395.7,45.1Z" fill="#f1462b" stroke="#7d2416"/><path d="M382.9,45.5L378.3,43.5L382.4,42L387,44.1Z" fill="#f14432" stroke="#7d231a"/><path d="M374.1,45.2L369.6,43.2L373.8,41.6L378.3,43.5Z" fill="#f14739" stroke="#7d251e"/><path d="M365.4,45.2L360.9,43.4L365.1,41.5L369.6,43.2Z" fill="#f24d40" stroke="#7e2821"/><path d="M356.6,45.6L352.1,43.9L356.4,41.8L360.9,43.4Z" fill="#f25646" stroke="#7e2d25"/><path d="M347.8,46.4L343.4,44.9L347.7,42.5L352.1,43.9Z" fill="#f3634c" stroke="#7e3328"/><path d="M339,47.6L334.7,46.2L339,43.5L343.4,44.9Z" fill="#f47252" stroke="#7f3b2b"/><path d="M330.2,49.1L325.9,47.9L330.4,45L334.7,46.2Z" fill="#f58457" stroke="#7f452d"/><path d="M321.5,51.1L317.2,49.9L321.7,46.8L325.9,47.9Z" fill="#f6975c" stroke="#804e30"/><path d="M312.7,53.4L308.6,52.4L313.1,49L317.2,49.9Z" fill="#f7ab61" stroke="#815932"/><path d="M304,56.1L299.9,55.2L304.5,51.5L308.6,52.4Z" fill="#f8c065" stroke="#816434"/><path d="M295.3,59.2L291.3,58.4L295.9,54.5L299.9,55.2Z" fill="#f8d668" stroke="#816f36"/><path d="M286.6,62.6L282.7,61.9L287.3,57.8L291.3,58.4Z" fill="#f6e768" stroke="#807836"/><path d="M278,66.4L274.2,65.9L278.8,61.4L282.7,61.9Z" fill="#e9f166" stroke="#797d35"/><path d="M405.1,49.9L400.4,47.4L404.3,46.4L409.1,48.9Z" fill="#ef5d28" stroke="#7d3115"/><path d="M396.4,48.6L391.7,46.3L395.7,45.1L400.4,47.4Z" fill="#f15129" stroke="#7d2a16"/><path d="M387.6,47.8L382.9,45.5L387,44.1L391.7,46.3Z" fill="#f14d31" stroke="#7d2819"/><path d="M378.8,47.3L374.1,45.2L378.3,43.5L382.9,45.5Z" fill="#f14e38" stroke="#7e281d"/><path d="M369.9,47.1L365.4,45.2L369.6,43.2L374.1,45.2Z" fill="#f2523f" stroke="#7e2b21"/><path d="M361.1,47.4L356.6,45.6L360.9,43.4L365.4,45.2Z" fill="#f25b45" stroke="#7e2f24"/><path d="M352.2,48.1L347.8,46.4L352.1,43.9L356.6,45.6Z" fill="#f3664b" stroke="#7e3527"/><path d="M343.4,49.1L339,47.6L343.4,44.9L347.8,46.4Z" fill="#f47451" stroke="#7f3c2a"/><path d="M334.6,50.5L330.2,49.1L334.7,46.2L339,47.6Z" fill="#f58557" stroke="#7f452d"/><path d="M325.7,52.4L321.5,51.1L325.9,47.9L330.2,49.1Z" fill="#f6975c" stroke="#804e30"/><path d="M316.9,54.6L312.7,53.4L317.2,49.9L321.5,51.1Z" fill="#f7aa60" stroke="#815832"/><path d="M308.1,57.1L304,56.1L308.6,52.4L312.7,53.4Z" fill="#f8be64" stroke="#816334"/><path d="M299.4,60.1L295.3,59.2L299.9,55.2L304,56.1Z" fill="#f8d368" stroke="#816e36"/><path d="M290.7,63.4L286.6,62.6L291.3,58.4L295.3,59.2Z" fill="#f6e468" stroke="#807736"/><path d="M282,67.1L278,66.4L282.7,61.9L286.6,62.6Z" fill="#edf167" stroke="#7b7d36"/><path d="M401.1,51.2L396.4,48.6L400.4,47.4L405.1,49.9Z" fill="#f25e28" stroke="#7e3115"/><path d="M392.3,50.2L387.6,47.8L391.7,46.3L396.4,48.6Z" fill="#f25830" stroke="#7e2e19"/><path d="M383.4,49.5L378.8,47.3L382.9,45.5L387.6,47.8Z" fill="#f25737" stroke="#7e2d1c"/><path d="M374.5,49.3L369.9,47.1L374.1,45.2L378.8,47.3Z" fill="#f25a3d" stroke="#7e2f20"/><path d="M365.6,49.4L361.1,47.4L365.4,45.2L369.9,47.1Z" fill="#f36144" stroke="#7e3223"/><path d="M356.7,49.9L352.2,48.1L356.6,45.6L361.1,47.4Z" fill="#f36b4a" stroke="#7e3727"/><path d="M347.8,50.9L343.4,49.1L347.8,46.4L352.2,48.1Z" fill="#f47750" stroke="#7f3e2a"/><path d="M338.9,52.2L334.6,50.5L339,47.6L343.4,49.1Z" fill="#f58756" stroke="#7f462d"/><path d="M330.1,53.8L325.7,52.4L330.2,49.1L334.6,50.5Z" fill="#f6975b" stroke="#804f2f"/><path d="M321.2,55.9L316.9,54.6L321.5,51.1L325.7,52.4Z" fill="#f7aa5f" stroke="#815832"/><path d="M312.3,58.4L308.1,57.1L312.7,53.4L316.9,54.6Z" fill="#f8bd64" stroke="#816334"/><path d="M303.5,61.2L299.4,60.1L304,56.1L308.1,57.1Z" fill="#f8d267" stroke="#816d36"/><path d="M294.7,64.4L290.7,63.4L295.3,59.2L299.4,60.1Z" fill="#f6e368" stroke="#807636"/><path d="M286,68L282,67.1L286.6,62.6L290.7,63.4Z" fill="#f0f168" stroke="#7d7d36"/><path d="M397,52.8L392.3,50.2L396.4,48.6L401.1,51.2Z" fill="#f2652e" stroke="#7e3418"/><path d="M388.1,52L383.4,49.5L387.6,47.8L392.3,50.2Z" fill="#f26235" stroke="#7e331c"/><path d="M379.2,51.6L374.5,49.3L378.8,47.3L383.4,49.5Z" fill="#f3633c" stroke="#7e331f"/><path d="M370.3,51.6L365.6,49.4L369.9,47.1L374.5,49.3Z" fill="#f36843" stroke="#7e3623"/><path d="M361.3,52L356.7,49.9L361.1,47.4L365.6,49.4Z" fill="#f47149" stroke="#7f3b26"/><path d="M352.4,52.8L347.8,50.9L352.2,48.1L356.7,49.9Z" fill="#f47c4f" stroke="#7f4129"/><path d="M343.4,53.9L338.9,52.2L343.4,49.1L347.8,50.9Z" fill="#f58a55" stroke="#7f482c"/><path d="M334.5,55.5L330.1,53.8L334.6,50.5L338.9,52.2Z" fill="#f69a5a" stroke="#80502f"/><path d="M325.5,57.4L321.2,55.9L325.7,52.4L330.1,53.8Z" fill="#f7ab5e" stroke="#815931"/><path d="M316.6,59.8L312.3,58.4L316.9,54.6L321.2,55.9Z" fill="#f8be63" stroke="#816333"/><path d="M307.7,62.5L303.5,61.2L308.1,57.1L312.3,58.4Z" fill="#f8d167" stroke="#816d35"/><path d="M298.9,65.6L294.7,64.4L299.4,60.1L303.5,61.2Z" fill="#f6e268" stroke="#807536"/><path d="M290,69L286,68L290.7,63.4L294.7,64.4Z" fill="#f2f168" stroke="#7e7d36"/><path d="M392.9,54.7L388.1,52L392.3,50.2L397,52.8Z" fill="#f36e34" stroke="#7e391b"/><path d="M383.9,54.1L379.2,51.6L383.4,49.5L388.1,52Z" fill="#f36e3b" stroke="#7e391f"/><path d="M374.9,54L370.3,51.6L374.5,49.3L379.2,51.6Z" fill="#f37142" stroke="#7f3b22"/><path d="M365.9,54.2L361.3,52L365.6,49.4L370.3,51.6Z" fill="#f47848" stroke="#7f3f25"/><path d="M356.9,54.9L352.4,52.8L356.7,49.9L361.3,52Z" fill="#f4824e" stroke="#7f4428"/><path d="M347.9,55.9L343.4,53.9L347.8,50.9L352.4,52.8Z" fill="#f58f53" stroke="#804a2b"/><path d="M338.9,57.3L334.5,55.5L338.9,52.2L343.4,53.9Z" fill="#f69d59" stroke="#80522e"/><path d="M329.9,59.1L325.5,57.4L330.1,53.8L334.5,55.5Z" fill="#f7ae5d" stroke="#815a31"/><path d="M320.9,61.3L316.6,59.8L321.2,55.9L325.5,57.4Z" fill="#f8bf62" stroke="#816333"/><path d="M312,63.9L307.7,62.5L312.3,58.4L316.6,59.8Z" fill="#f8d266" stroke="#816d35"/><path d="M303,66.9L298.9,65.6L303.5,61.2L307.7,62.5Z" fill="#f6e268" stroke="#807536"/><path d="M294.2,70.3L290,69L294.7,64.4L298.9,65.6Z" fill="#f3f168" stroke="#7e7d36"/><path d="M388.7,56.8L383.9,54.1L388.1,52L392.9,54.7Z" fill="#f47a39" stroke="#7f3f1e"/><path d="M379.7,56.5L374.9,54L379.2,51.6L383.9,54.1Z" fill="#f47c40" stroke="#7f4021"/><path d="M370.6,56.6L365.9,54.2L370.3,51.6L374.9,54Z" fill="#f48147" stroke="#7f4325"/><path d="M361.5,57.1L356.9,54.9L361.3,52L365.9,54.2Z" fill="#f5894d" stroke="#7f4728"/><path d="M352.5,58L347.9,55.9L352.4,52.8L356.9,54.9Z" fill="#f69452" stroke="#804d2b"/><path d="M343.4,59.3L338.9,57.3L343.4,53.9L347.9,55.9Z" fill="#f7a257" stroke="#80542d"/><path d="M334.3,61L329.9,59.1L334.5,55.5L338.9,57.3Z" fill="#f7b15c" stroke="#815c30"/><path d="M325.3,63.1L320.9,61.3L325.5,57.4L329.9,59.1Z" fill="#f8c161" stroke="#816532"/><path d="M316.3,65.6L312,63.9L316.6,59.8L320.9,61.3Z" fill="#f8d365" stroke="#816e34"/><path d="M307.3,68.4L303,66.9L307.7,62.5L312,63.9Z" fill="#f6e268" stroke="#807636"/><path d="M298.3,71.6L294.2,70.3L298.9,65.6L303,66.9Z" fill="#f3f168" stroke="#7e7d36"/><path d="M384.4,59.3L379.7,56.5L383.9,54.1L388.7,56.8Z" fill="#f5873f" stroke="#7f4621"/><path d="M375.3,59.3L370.6,56.6L374.9,54L379.7,56.5Z" fill="#f58b45" stroke="#7f4824"/><path d="M366.2,59.6L361.5,57.1L365.9,54.2L370.6,56.6Z" fill="#f5924b" stroke="#804c27"/><path d="M357.1,60.4L352.5,58L356.9,54.9L361.5,57.1Z" fill="#f69c51" stroke="#80512a"/><path d="M348,61.5L343.4,59.3L347.9,55.9L352.5,58Z" fill="#f7a856" stroke="#80572d"/><path d="M338.9,63.1L334.3,61L338.9,57.3L343.4,59.3Z" fill="#f7b65b" stroke="#815f2f"/><path d="M329.7,65L325.3,63.1L329.9,59.1L334.3,61Z" fill="#f8c560" stroke="#816632"/><path d="M320.7,67.4L316.3,65.6L320.9,61.3L325.3,63.1Z" fill="#f8d564" stroke="#816f34"/><path d="M311.6,70.1L307.3,68.4L312,63.9L316.3,65.6Z" fill="#f6e468" stroke="#807636"/><path d="M302.6,73.2L298.3,71.6L303,66.9L307.3,68.4Z" fill="#f2f168" stroke="#7e7d36"/><path d="M380.1,62.1L375.3,59.3L379.7,56.5L384.4,59.3Z" fill="#f69744" stroke="#804e23"/><path d="M371,62.3L366.2,59.6L370.6,56.6L375.3,59.3Z" fill="#f69c4a" stroke="#805126"/><path d="M361.8,62.9L357.1,60.4L361.5,57.1L366.2,59.6Z" fill="#f7a54f" stroke="#805629"/><path d="M352.6,63.9L348,61.5L352.5,58L357.1,60.4Z" fill="#f7af55" stroke="#805b2c"/><path d="M343.4,65.3L338.9,63.1L343.4,59.3L348,61.5Z" fill="#f7bc5a" stroke="#81622f"/><path d="M334.2,67.1L329.7,65L334.3,61L338.9,63.1Z" fill="#f8ca5f" stroke="#816931"/><path d="M325.1,69.4L320.7,67.4L325.3,63.1L329.7,65Z" fill="#f7d863" stroke="#817033"/><path d="M316,71.9L311.6,70.1L316.3,65.6L320.7,67.4Z" fill="#f6e667" stroke="#807835"/><path d="M306.9,74.9L302.6,73.2L307.3,68.4L311.6,70.1Z" fill="#eff167" stroke="#7d7d36"/><path d="M375.7,65.1L371,62.3L375.3,59.3L380.1,62.1Z" fill="#f6a848" stroke="#805726"/><path d="M366.5,65.6L361.8,62.9L366.2,59.6L371,62.3Z" fill="#f7ae4e" stroke="#805b29"/><path d="M357.3,66.5L352.6,63.9L357.1,60.4L361.8,62.9Z" fill="#f7b753" stroke="#805f2b"/><path d="M348,67.8L343.4,65.3L348,61.5L352.6,63.9Z" fill="#f7c259" stroke="#81652e"/><path d="M338.8,69.4L334.2,67.1L338.9,63.1L343.4,65.3Z" fill="#f7d05d" stroke="#816c30"/><path d="M329.6,71.5L325.1,69.4L329.7,65L334.2,67.1Z" fill="#f7dc62" stroke="#807233"/><path d="M320.4,74L316,71.9L320.7,67.4L325.1,69.4Z" fill="#f5e966" stroke="#807935"/><path d="M311.2,76.9L306.9,74.9L311.6,70.1L316,71.9Z" fill="#ecf167" stroke="#7b7d35"/><path d="M371.3,68.5L366.5,65.6L371,62.3L375.7,65.1Z" fill="#f7b94d" stroke="#806028"/><path d="M362,69.3L357.3,66.5L361.8,62.9L366.5,65.6Z" fill="#f7c152" stroke="#80642b"/><path d="M352.7,70.4L348,67.8L352.6,63.9L357.3,66.5Z" fill="#f7cb57" stroke="#81692d"/><path d="M343.4,71.9L338.8,69.4L343.4,65.3L348,67.8Z" fill="#f7d65c" stroke="#806f30"/><path d="M334.1,73.9L329.6,71.5L334.2,67.1L338.8,69.4Z" fill="#f6e160" stroke="#807532"/><path d="M324.9,76.2L320.4,74L325.1,69.4L329.6,71.5Z" fill="#f5ed64" stroke="#7f7b34"/><path d="M315.6,79L311.2,76.9L316,71.9L320.4,74Z" fill="#e8f165" stroke="#797d35"/><path d="M366.8,72.2L362,69.3L366.5,65.6L371.3,68.5Z" fill="#f7cb50" stroke="#806a2a"/><path d="M357.4,73.2L352.7,70.4L357.3,66.5L362,69.3Z" fill="#f7d356" stroke="#806e2d"/><path d="M348.1,74.6L343.4,71.9L348,67.8L352.7,70.4Z" fill="#f6dc5b" stroke="#80722f"/><path d="M338.8,76.4L334.1,73.9L338.8,69.4L343.4,71.9Z" fill="#f5e65f" stroke="#7f7831"/><path d="M329.4,78.7L324.9,76.2L329.6,71.5L334.1,73.9Z" fill="#f2f063" stroke="#7e7d33"/><path d="M320.1,81.3L315.6,79L320.4,74L324.9,76.2Z" fill="#e3f163" stroke="#767d34"/><path d="M362.2,76.3L357.4,73.2L362,69.3L366.8,72.2Z" fill="#f6db54" stroke="#80722c"/><path d="M352.8,77.5L348.1,74.6L352.7,70.4L357.4,73.2Z" fill="#f5e359" stroke="#7f762e"/><path d="M343.4,79.2L338.8,76.4L343.4,71.9L348.1,74.6Z" fill="#f4ed5e" stroke="#7f7b31"/><path d="M334,81.3L329.4,78.7L334.1,73.9L338.8,76.4Z" fill="#ebf060" stroke="#7a7d32"/><path d="M324.7,83.7L320.1,81.3L324.9,76.2L329.4,78.7Z" fill="#dcf161" stroke="#727d32"/><path d="M357.6,80.6L352.8,77.5L357.4,73.2L362.2,76.3Z" fill="#f4ec57" stroke="#7f7b2d"/><path d="M348.2,82.1L343.4,79.2L348.1,74.6L352.8,77.5Z" fill="#eef05b" stroke="#7c7d2f"/><path d="M338.7,84.1L334,81.3L338.8,76.4L343.4,79.2Z" fill="#e2f05d" stroke="#767d30"/><path d="M329.3,86.4L324.7,83.7L329.4,78.7L334,81.3Z" fill="#d4f15e" stroke="#6e7d31"/><path d="M352.9,85.3L348.2,82.1L352.8,77.5L357.6,80.6Z" fill="#e3f057" stroke="#767d2d"/><path d="M343.4,87.1L338.7,84.1L343.4,79.2L348.2,82.1Z" fill="#d8f059" stroke="#707d2e"/><path d="M333.9,89.3L329.3,86.4L334,81.3L338.7,84.1Z" fill="#cbf05b" stroke="#6a7d30"/><path d="M348.2,90.3L343.4,87.1L348.2,82.1L352.9,85.3Z" fill="#cdf056" stroke="#6b7d2d"/><path d="M338.7,92.4L333.9,89.3L338.7,84.1L343.4,87.1Z" fill="#c1ef5a" stroke="#657c2f"/><path d="M343.4,95.7L338.7,92.4L343.4,87.1L348.2,90.3Z" fill="#b6ee58" stroke="#5f7c2e"/></g>
<circle cx="342.9" cy="37.8" r="1.7" fill="#b80000"/>
<g font-family="'Liberation Sans', sans-serif" fill="#000"><text x="235.1" y="20.9" font-size="12.5" font-weight="bold" textLength="16.3" lengthAdjust="spacingAndGlyphs">(b)</text><text transform="translate(246.25,87.41) rotate(-91.81)" text-anchor="middle" font-size="9.5" font-weight="bold" textLength="103" lengthAdjust="spacingAndGlyphs">Degradation Efficiency (%)</text><text transform="translate(288.21,173.53) rotate(22.5)" text-anchor="middle" font-size="9.5" font-weight="bold" textLength="102.4" lengthAdjust="spacingAndGlyphs">Dye Concentration (ppm)</text><text transform="translate(402.34,176.41) rotate(-23.5)" text-anchor="middle" font-size="9.5" font-weight="bold" textLength="80.8" lengthAdjust="spacingAndGlyphs">H2O2 Dosage (mM)</text></g>
<path d="M469,118.3L552.6,90.3L636.4,118.3M468.4,106L552.5,79.2L637,106M467.8,93.8L552.5,68.1L637.5,93.8M467.2,81.6L552.5,57L638.1,81.5M466.5,69.3L552.5,45.9L638.6,69.2M465.9,57.1L552.4,34.8L639.2,56.9M465.3,44.8L552.4,23.7L639.7,44.7M464.7,32.6L552.4,12.6L640.3,32.4M489.9,111.3L486.6,27.6M615.5,111.3L618.3,27.4M510.8,104.3L508.5,22.6M594.5,104.3L596.3,22.5M531.7,97.3L530.5,17.6M573.5,97.3L574.4,17.6M470.4,145.8L464.7,32.6M552.6,115.3L552.4,12.6M635.2,145.9L640.3,32.4" fill="none" stroke="#404040" stroke-width="0.75"/>
<path d="M552.7,185.2L470.4,145.8L552.6,115.3L635.2,145.9Z" fill="#646464" stroke="#2e2e2e" stroke-width="0.9" stroke-linejoin="round"/>
<path d="M541.9,180L543.1,180L544.3,180L545.4,180L546.5,180L547.6,180L548.7,179.9L549.8,179.9L551,179.9L552.3,179.8L553.5,179.8L554.8,179.7L556.1,179.7L557.2,179.6L558.3,179.6L559.3,179.5L560.3,179.4L561.4,179.4L562.8,179.2L564.1,179.1L565.2,179L565.6,179" fill="none" stroke="#2ec832" stroke-width="1.15"/>
<path d="M527.9,173.3L529.3,173.4L530.6,173.5L531.8,173.6L532.8,173.6L533.8,173.7L534.9,173.7L535.9,173.8L536.9,173.8L538.1,173.8L539.3,173.9L540.4,173.9L541.6,173.9L542.7,173.9L543.9,173.9L545,173.9L546.1,173.9L547.2,173.9L548.3,173.9L549.4,173.9L550.4,173.8L551.7,173.8L552.9,173.8L554.1,173.7L555.4,173.6L556.6,173.6L557.6,173.5L558.6,173.4L559.6,173.4L560.7,173.3L562,173.2L563.4,173.1L564.3,173L565.2,172.9L566.3,172.8L567.8,172.6L568.8,172.5L569.7,172.4L570.8,172.2L572.3,172L573.2,171.9L574,171.8L575.7,171.6L576.5,171.4L577.4,171.3L578.9,171L579.7,170.9L580.9,170.7L582.1,170.4L582.9,170.3L584.4,170L584.8,169.9" fill="none" stroke="#3abf26" stroke-width="1.15"/>
<path d="M630.8,148.1L631.2,147.6L631.5,147.3L631.9,146.7L632.1,146.4L632.6,145.8L632.8,145.5L633,145.2" fill="none" stroke="#3abf26" stroke-width="1.15"/>
<path d="M507,163.3L508.2,163.6L509,163.8L510.4,164.1L511.2,164.2L512.7,164.5L513.4,164.7L514.6,164.9L515.8,165.1L516.6,165.2L517.9,165.4L519,165.6L519.8,165.7L521,165.8L522.3,166L523.2,166.1L524.1,166.2L525.4,166.4L526.7,166.5L527.6,166.6L528.6,166.7L529.6,166.8L530.9,166.9L532.2,166.9L533.3,167L534.3,167.1L535.3,167.1L536.3,167.2L537.3,167.2L538.4,167.2L539.5,167.3L540.7,167.3L541.8,167.3L543,167.3L544.1,167.3L545.2,167.3L546.3,167.3L547.3,167.3L548.4,167.3L549.4,167.3L550.5,167.2L551.7,167.2L552.9,167.1L554.2,167.1L555.4,167L556.4,166.9L557.4,166.9L558.3,166.8L559.4,166.7L560.7,166.6L562,166.5L562.9,166.4L563.8,166.3L565,166.2L566.4,166L567.3,165.9L568.1,165.8L569.6,165.6L570.6,165.4L571.4,165.3L572.9,165.1L573.8,164.9L574.7,164.8L576.2,164.5L576.9,164.4L578.4,164.1L579.2,163.9L580.4,163.7L581.3,163.5L582.5,163.2L583.5,163L584.8,162.7L585.5,162.5L586.9,162.1L587.5,161.9L588.8,161.6L590.1,161.2L590.7,161L592,160.6L593.2,160.2L593.8,160L595,159.6L596.1,159.2L597.3,158.8L598.1,158.5L598.9,158.2L600,157.7L601.1,157.3L602.1,156.8L603.1,156.4L604.1,155.9L605,155.4L606,155L606.9,154.5L607.8,154L608.2,153.8L609.1,153.3L609.9,152.8L610.8,152.2L611.6,151.7L611.9,151.5L612.7,150.9L613.5,150.4L613.8,150.2L614.5,149.6L615.2,149.1L615.5,148.8L616.2,148.2L616.5,148L617.1,147.4L617.5,147L618,146.6L618.4,146.1L618.8,145.7L619.2,145.3L619.6,144.8L619.9,144.5L620.3,143.9L620.6,143.6L621,143.1L621.2,142.7L621.4,142.4L621.8,141.8L622,141.5L622.2,141.2" fill="none" stroke="#d4d01e" stroke-width="1.15"/>
<path d="M471,145.7L471.2,146L471.7,146.6L471.7,146.6" fill="none" stroke="#d4d01e" stroke-width="1.15"/>
<path d="M483.4,141.1L483.8,141.6L484.1,141.9L484.6,142.5L484.8,142.8L485.4,143.4L485.7,143.6L486.2,144.2L486.5,144.5L487.2,145L487.5,145.3L488.2,145.8L488.9,146.3L489.2,146.6L489.9,147.1L490.7,147.6L491.4,148L491.9,148.3L492.7,148.8L493.6,149.3L494.4,149.8L495.3,150.3L496.3,150.7L497.2,151.2L498.2,151.6L499.2,152L500.2,152.5L501.3,152.9L502.4,153.3L503.5,153.7L504.1,153.9L505.2,154.3L506.4,154.6L507.3,154.9L508.2,155.2L509.5,155.5L510.1,155.7L511.4,156.1L512.4,156.3L513.5,156.5L514.6,156.8L515.5,157L516.5,157.2L517.7,157.4L518.4,157.6L519.9,157.9L520.7,158L521.8,158.2L523,158.4L523.8,158.5L525,158.6L526.3,158.8L527.1,158.9L527.9,159L529.3,159.2L530.5,159.3L531.4,159.4L532.3,159.4L533.3,159.5L534.6,159.6L535.9,159.7L537,159.7L538,159.8L539,159.8L540,159.9L541,159.9L542,159.9L543.1,159.9L544.2,159.9L545.2,159.9L546.3,159.9L547.5,159.9L548.6,159.9L549.8,159.8L551,159.8L552.1,159.7L553.1,159.7L554,159.6L555,159.6L555.9,159.5L557.3,159.4L558.6,159.3L559.5,159.2L560.3,159.1L561.4,159L562.9,158.8L563.7,158.7L564.5,158.6L566,158.4L566.9,158.2L567.7,158.1L569.3,157.8L570,157.7L571.2,157.5L572.2,157.3L573.2,157.1L574.4,156.8L575.2,156.7L576.5,156.4L577.5,156.1L578.5,155.9L579.8,155.5L580.4,155.4L581.7,155L582.9,154.6L583.5,154.4L584.7,154.1L585.8,153.7L587,153.3L587.5,153.1L588.6,152.7L589.7,152.2L590.7,151.8L591.8,151.4L592.7,150.9L593.7,150.5L594.6,150L595.6,149.5L596.4,149.1L596.9,148.8L597.7,148.3L598.5,147.8L599.3,147.3L599.7,147.1L600.5,146.6L601.2,146L601.6,145.8L602.3,145.3L602.9,144.7L603.3,144.4L603.9,143.9L604.2,143.6L604.8,143.1L605.1,142.8L605.6,142.2L605.9,141.9L606.3,141.4L606.6,141L606.9,140.7L607.3,140.1L607.5,139.8L607.8,139.4L608.1,138.9L608.3,138.6L608.5,138.2L608.8,137.7L608.9,137.3L609.1,137L609.3,136.5L609.3,136.4" fill="none" stroke="#d98228" stroke-width="1.15"/>
<path d="M499.3,135.1L499.5,135.4L499.7,135.8L500,136.3L500.2,136.6L500.4,137L500.8,137.5L501,137.8L501.5,138.4L501.8,138.7L502.3,139.2L502.7,139.5L503.2,140L503.6,140.3L504.2,140.8L504.6,141.1L505.3,141.6L506,142.1L506.4,142.3L507.2,142.8L508,143.3L508.9,143.7L509.8,144.2L510.7,144.6L511.7,145L512.7,145.5L513.7,145.9L514.8,146.3L515.9,146.6L516.9,147L517.6,147.2L518.8,147.5L519.9,147.8L520.7,148L522,148.4L522.6,148.5L524,148.8L524.7,149L526.1,149.2L526.8,149.4L527.9,149.5L529,149.7L529.8,149.8L531,150L532.2,150.1L533,150.2L533.9,150.3L535.2,150.5L536.4,150.6L537.3,150.6L538.2,150.7L539.2,150.7L540.1,150.8L541.2,150.8L542.4,150.8L543.4,150.9L544.5,150.9L545.5,150.9L546.6,150.9L547.6,150.8L548.5,150.8L549.6,150.8L550.8,150.7L552,150.6L553.1,150.5L554,150.5L554.9,150.4L555.9,150.3L557.3,150.1L558.2,150L559,149.9L560.4,149.7L561.3,149.6L562.1,149.5L563.5,149.2L564.2,149.1L565.6,148.8L566.3,148.6L567.7,148.3L568.3,148.2L569.6,147.9L570.6,147.6L571.4,147.3L572.6,147L573.8,146.6L574.4,146.4L575.5,146L576.5,145.6L577.6,145.2L578.6,144.8L579.5,144.4L580.5,143.9L581.4,143.5L582.2,143L582.7,142.8L583.5,142.3L584.3,141.8L584.7,141.5L585.4,141L586.1,140.5L586.4,140.3L587.1,139.7L587.4,139.4L588,138.9L588.3,138.6L588.8,138.1L589.1,137.8L589.4,137.3L589.8,136.9L590,136.6L590.3,136.1L590.6,135.7L590.8,135.4L591,134.9L591.2,134.4L591.3,134.1L591.5,133.7L591.6,133.4L591.7,133L591.8,132.5L591.9,132L591.9,131.7L591.9,131.3L592,131L591.9,130.6L591.9,130.2L591.9,129.8" fill="none" stroke="#d24428" stroke-width="1.15"/>
<g fill="#111"><rect x="468.2" y="117.5" width="1.6" height="1.6"/><rect x="467.6" y="105.2" width="1.6" height="1.6"/><rect x="467" y="93" width="1.6" height="1.6"/><rect x="466.4" y="80.8" width="1.6" height="1.6"/><rect x="465.7" y="68.5" width="1.6" height="1.6"/><rect x="465.1" y="56.3" width="1.6" height="1.6"/><rect x="464.5" y="44" width="1.6" height="1.6"/><rect x="463.9" y="31.8" width="1.6" height="1.6"/><rect x="551.9" y="184.4" width="1.6" height="1.6"/><rect x="551.9" y="184.4" width="1.6" height="1.6"/><rect x="531.3" y="174.5" width="1.6" height="1.6"/><rect x="572.5" y="174.6" width="1.6" height="1.6"/><rect x="510.8" y="164.7" width="1.6" height="1.6"/><rect x="593.2" y="164.8" width="1.6" height="1.6"/><rect x="490.2" y="154.8" width="1.6" height="1.6"/><rect x="613.8" y="154.9" width="1.6" height="1.6"/><rect x="469.6" y="145" width="1.6" height="1.6"/><rect x="634.4" y="145.1" width="1.6" height="1.6"/></g>
<g font-family="'Liberation Sans', sans-serif" font-size="4.7" fill="#444"><text x="466.4" y="118.5" text-anchor="end">86</text><text x="465.8" y="106.2" text-anchor="end">88</text><text x="465.2" y="94" text-anchor="end">90</text><text x="464.6" y="81.8" text-anchor="end">92</text><text x="463.9" y="69.5" text-anchor="end">94</text><text x="463.3" y="57.3" text-anchor="end">96</text><text x="462.7" y="45" text-anchor="end">98</text><text x="462.1" y="32.8" text-anchor="end">100</text><text x="548.4" y="189.8" text-anchor="middle">40</text><text x="527.8" y="179.9" text-anchor="middle">45</text><text x="507.2" y="170.1" text-anchor="middle">50</text><text x="486.7" y="160.2" text-anchor="middle">55</text><text x="466.1" y="150.4" text-anchor="middle">60</text><text x="555.1" y="190.2">0.04</text><text x="575.7" y="180.4">0.05</text><text x="596.4" y="170.6">0.06</text><text x="617" y="160.7">0.07</text><text x="637.6" y="150.9">0.08</text></g>
<g stroke-width="0.4" stroke-linejoin="round"><path d="M552.4,20.2L548.5,20.2L552.4,20.3L556.3,20.2Z" fill="#ec3226" stroke="#7a1a14"/><path d="M556.3,20.4L552.4,20.2L556.3,20.2L560.2,20.4Z" fill="#ea2c23" stroke="#7a1712"/><path d="M548.4,20.3L544.5,20.4L548.5,20.2L552.4,20.2Z" fill="#ec2922" stroke="#7b1512"/><path d="M560.3,20.8L556.3,20.4L560.2,20.4L564.2,20.8Z" fill="#e92922" stroke="#791512"/><path d="M552.4,20.5L548.4,20.3L552.4,20.2L556.3,20.4Z" fill="#eb2320" stroke="#7a1211"/><path d="M544.4,20.7L540.5,20.7L544.5,20.4L548.4,20.3Z" fill="#ed2220" stroke="#7b1211"/><path d="M564.4,21.4L560.3,20.8L564.2,20.8L568.3,21.4Z" fill="#e92821" stroke="#791511"/><path d="M556.4,20.9L552.4,20.5L556.3,20.4L560.3,20.8Z" fill="#ea201f" stroke="#7a1110"/><path d="M548.4,20.9L544.4,20.7L548.4,20.3L552.4,20.5Z" fill="#eb1d1e" stroke="#7a0f0f"/><path d="M540.4,21.2L536.5,21.2L540.5,20.7L544.4,20.7Z" fill="#ec2323" stroke="#7b1212"/><path d="M568.5,22.3L564.4,21.4L568.3,21.4L572.4,22.3Z" fill="#e82822" stroke="#791511"/><path d="M560.4,21.6L556.4,20.9L560.3,20.8L564.4,21.4Z" fill="#e91e1e" stroke="#791010"/><path d="M552.4,21.3L548.4,20.9L552.4,20.5L556.4,20.9Z" fill="#e91c1d" stroke="#790f0f"/><path d="M544.3,21.4L540.4,21.2L544.4,20.7L548.4,20.9Z" fill="#e92021" stroke="#791111"/><path d="M536.3,21.9L532.4,21.9L536.5,21.2L540.4,21.2Z" fill="#eb2728" stroke="#7a1415"/><path d="M572.6,23.4L568.5,22.3L572.4,22.3L576.5,23.4Z" fill="#e82a23" stroke="#791612"/><path d="M564.5,22.5L560.4,21.6L564.4,21.4L568.5,22.3Z" fill="#e91f1e" stroke="#791010"/><path d="M556.4,21.9L552.4,21.3L556.4,20.9L560.4,21.6Z" fill="#e81c1c" stroke="#780e0f"/><path d="M548.3,21.8L544.3,21.4L548.4,20.9L552.4,21.3Z" fill="#e71e1f" stroke="#780f10"/><path d="M540.2,22.1L536.3,21.9L540.4,21.2L544.3,21.4Z" fill="#e82425" stroke="#791313"/><path d="M532.2,22.8L528.3,22.8L532.4,21.9L536.3,21.9Z" fill="#eb2c2c" stroke="#7a1717"/><path d="M576.8,24.8L572.6,23.4L576.5,23.4L580.7,24.8Z" fill="#e82f24" stroke="#791813"/><path d="M568.7,23.6L564.5,22.5L568.5,22.3L572.6,23.4Z" fill="#e8211f" stroke="#791110"/><path d="M560.5,22.8L556.4,21.9L560.4,21.6L564.5,22.5Z" fill="#e71c1c" stroke="#780e0f"/><path d="M552.4,22.5L548.3,21.8L552.4,21.3L556.4,21.9Z" fill="#e61c1d" stroke="#780e0f"/><path d="M544.2,22.5L540.2,22.1L544.3,21.4L548.3,21.8Z" fill="#e62223" stroke="#781212"/><path d="M536.1,23L532.2,22.8L536.3,21.9L540.2,22.1Z" fill="#e8292a" stroke="#791516"/><path d="M528,23.9L524.1,23.9L528.3,22.8L532.2,22.8Z" fill="#eb3132" stroke="#7a191a"/><path d="M581,26.4L576.8,24.8L580.7,24.8L584.9,26.3Z" fill="#e83527" stroke="#791b14"/><path d="M572.9,25L568.7,23.6L572.6,23.4L576.8,24.8Z" fill="#e82521" stroke="#791311"/><path d="M564.7,24L560.5,22.8L564.5,22.5L568.7,23.6Z" fill="#e81c1d" stroke="#780f0f"/><path d="M556.5,23.4L552.4,22.5L556.4,21.9L560.5,22.8Z" fill="#e61a1b" stroke="#780e0e"/><path d="M548.3,23.2L544.2,22.5L548.3,21.8L552.4,22.5Z" fill="#e52022" stroke="#771011"/><path d="M540.1,23.5L536.1,23L540.2,22.1L544.2,22.5Z" fill="#e62628" stroke="#781415"/><path d="M531.9,24.1L528,23.9L532.2,22.8L536.1,23Z" fill="#e92e2f" stroke="#791819"/><path d="M523.7,25.2L519.9,25.2L524.1,23.9L528,23.9Z" fill="#ed3737" stroke="#7b1c1d"/><path d="M585.3,28.3L581,26.4L584.9,26.3L589.2,28.2Z" fill="#e84027" stroke="#792114"/><path d="M577.1,26.6L572.9,25L576.8,24.8L581,26.4Z" fill="#e92b23" stroke="#791712"/><path d="M568.9,25.4L564.7,24L568.7,23.6L572.9,25Z" fill="#e91e1e" stroke="#790f0f"/><path d="M560.6,24.6L556.5,23.4L560.5,22.8L564.7,24Z" fill="#e71a1c" stroke="#780e0e"/><path d="M552.4,24.2L548.3,23.2L552.4,22.5L556.5,23.4Z" fill="#e51e20" stroke="#771011"/><path d="M544.1,24.2L540.1,23.5L544.2,22.5L548.3,23.2Z" fill="#e52426" stroke="#771314"/><path d="M535.9,24.6L531.9,24.1L536.1,23L540.1,23.5Z" fill="#e72c2d" stroke="#781718"/><path d="M527.7,25.4L523.7,25.2L528,23.9L531.9,24.1Z" fill="#ea3435" stroke="#7a1b1b"/><path d="M519.5,26.7L515.6,26.6L519.9,25.2L523.7,25.2Z" fill="#ef3d3d" stroke="#7c2020"/><path d="M589.6,30.4L585.3,28.3L589.2,28.2L593.5,30.3Z" fill="#e84e26" stroke="#792914"/><path d="M581.4,28.5L577.1,26.6L581,26.4L585.3,28.3Z" fill="#e93326" stroke="#791b14"/><path d="M573.1,27L568.9,25.4L572.9,25L577.1,26.6Z" fill="#e92420" stroke="#791311"/><path d="M564.8,26L560.6,24.6L564.7,24L568.9,25.4Z" fill="#e81c1c" stroke="#790e0f"/><path d="M556.5,25.3L552.4,24.2L556.5,23.4L560.6,24.6Z" fill="#e61d1f" stroke="#770f10"/><path d="M548.2,25.1L544.1,24.2L548.3,23.2L552.4,24.2Z" fill="#e52325" stroke="#771213"/><path d="M539.9,25.3L535.9,24.6L540.1,23.5L544.1,24.2Z" fill="#e62a2b" stroke="#771617"/><path d="M531.7,25.9L527.7,25.4L531.9,24.1L535.9,24.6Z" fill="#e83133" stroke="#791a1a"/><path d="M523.4,26.9L519.5,26.7L523.7,25.2L527.7,25.4Z" fill="#ec3a3a" stroke="#7b1e1e"/><path d="M515.1,28.4L511.3,28.3L515.6,26.6L519.5,26.7Z" fill="#f04743" stroke="#7d2523"/><path d="M594,32.7L589.6,30.4L593.5,30.3L597.9,32.7Z" fill="#e85f26" stroke="#793214"/><path d="M585.7,30.6L581.4,28.5L585.3,28.3L589.6,30.4Z" fill="#e94127" stroke="#792214"/><path d="M577.4,28.9L573.1,27L577.1,26.6L581.4,28.5Z" fill="#ea2c23" stroke="#7a1712"/><path d="M569.1,27.6L564.8,26L568.9,25.4L573.1,27Z" fill="#ea1e1e" stroke="#7a100f"/><path d="M560.7,26.8L556.5,25.3L560.6,24.6L564.8,26Z" fill="#e71c1d" stroke="#780f0f"/><path d="M552.4,26.3L548.2,25.1L552.4,24.2L556.5,25.3Z" fill="#e52223" stroke="#771112"/><path d="M544,26.3L539.9,25.3L544.1,24.2L548.2,25.1Z" fill="#e5282a" stroke="#771516"/><path d="M535.7,26.7L531.7,25.9L535.9,24.6L539.9,25.3Z" fill="#e72f31" stroke="#781919"/><path d="M527.4,27.4L523.4,26.9L527.7,25.4L531.7,25.9Z" fill="#ea3738" stroke="#7a1d1d"/><path d="M519.1,28.7L515.1,28.4L519.5,26.7L523.4,26.9Z" fill="#ef4140" stroke="#7c2221"/><path d="M510.8,30.3L506.9,30.2L511.3,28.3L515.1,28.4Z" fill="#f1524a" stroke="#7e2b27"/><path d="M598.4,35.4L594,32.7L597.9,32.7L602.3,35.3Z" fill="#e87126" stroke="#793b14"/><path d="M590.1,33L585.7,30.6L589.6,30.4L594,32.7Z" fill="#e95127" stroke="#792a14"/><path d="M581.7,31.1L577.4,28.9L581.4,28.5L585.7,30.6Z" fill="#ea3527" stroke="#7a1c14"/><path d="M573.4,29.6L569.1,27.6L573.1,27L577.4,28.9Z" fill="#eb2621" stroke="#7a1411"/><path d="M565,28.5L560.7,26.8L564.8,26L569.1,27.6Z" fill="#ea1d1d" stroke="#7a0f0f"/><path d="M556.6,27.8L552.4,26.3L556.5,25.3L560.7,26.8Z" fill="#e72122" stroke="#781112"/><path d="M548.2,27.5L544,26.3L548.2,25.1L552.4,26.3Z" fill="#e62728" stroke="#781415"/><path d="M539.8,27.6L535.7,26.7L539.9,25.3L544,26.3Z" fill="#e72e2f" stroke="#781819"/><path d="M531.4,28.2L527.4,27.4L531.7,25.9L535.7,26.7Z" fill="#e93536" stroke="#791c1c"/><path d="M523,29.2L519.1,28.7L523.4,26.9L527.4,27.4Z" fill="#ed3e3e" stroke="#7b2020"/><path d="M514.7,30.6L510.8,30.3L515.1,28.4L519.1,28.7Z" fill="#f04c47" stroke="#7d2825"/><path d="M506.4,32.4L502.5,32.3L506.9,30.2L510.8,30.3Z" fill="#f35f51" stroke="#7e312a"/><path d="M602.9,38.3L598.4,35.4L602.3,35.3L606.7,38.2Z" fill="#e88526" stroke="#794514"/><path d="M594.5,35.7L590.1,33L594,32.7L598.4,35.4Z" fill="#e96426" stroke="#793414"/><path d="M586.1,33.5L581.7,31.1L585.7,30.6L590.1,33Z" fill="#ea4627" stroke="#7a2414"/><path d="M577.7,31.7L573.4,29.6L577.4,28.9L581.7,31.1Z" fill="#eb2f25" stroke="#7a1913"/><path d="M569.3,30.4L565,28.5L569.1,27.6L573.4,29.6Z" fill="#ec221f" stroke="#7b1110"/><path d="M560.8,29.5L556.6,27.8L560.7,26.8L565,28.5Z" fill="#e92021" stroke="#791111"/><path d="M552.4,29L548.2,27.5L552.4,26.3L556.6,27.8Z" fill="#e72627" stroke="#781414"/><path d="M543.9,28.9L539.8,27.6L544,26.3L548.2,27.5Z" fill="#e72c2e" stroke="#781718"/><path d="M535.5,29.2L531.4,28.2L535.7,26.7L539.8,27.6Z" fill="#e93435" stroke="#791b1b"/><path d="M527.1,30L523,29.2L527.4,27.4L531.4,28.2Z" fill="#ec3c3c" stroke="#7b1f1f"/><path d="M518.7,31.1L514.7,30.6L519.1,28.7L523,29.2Z" fill="#f04745" stroke="#7d2524"/><path d="M510.3,32.7L506.4,32.4L510.8,30.3L514.7,30.6Z" fill="#f2584f" stroke="#7e2e29"/><path d="M501.9,34.7L498.1,34.6L502.5,32.3L506.4,32.4Z" fill="#f47055" stroke="#7f3a2c"/><path d="M607.4,41.5L602.9,38.3L606.7,38.2L611.2,41.3Z" fill="#e89a26" stroke="#795014"/><path d="M599,38.6L594.5,35.7L598.4,35.4L602.9,38.3Z" fill="#e97926" stroke="#793f14"/><path d="M590.5,36.2L586.1,33.5L590.1,33L594.5,35.7Z" fill="#ea5927" stroke="#7a2e14"/><path d="M582.1,34.2L577.7,31.7L581.7,31.1L586.1,33.5Z" fill="#ec3d27" stroke="#7b2014"/><path d="M573.6,32.6L569.3,30.4L573.4,29.6L577.7,31.7Z" fill="#ec2b23" stroke="#7b1712"/><path d="M565.1,31.4L560.8,29.5L565,28.5L569.3,30.4Z" fill="#ec2221" stroke="#7b1111"/><path d="M556.6,30.7L552.4,29L556.6,27.8L560.8,29.5Z" fill="#ea2526" stroke="#7a1314"/><path d="M548.1,30.4L543.9,28.9L548.2,27.5L552.4,29Z" fill="#e92b2c" stroke="#791617"/><path d="M539.7,30.5L535.5,29.2L539.8,27.6L543.9,28.9Z" fill="#e93233" stroke="#791a1b"/><path d="M531.2,31L527.1,30L531.4,28.2L535.5,29.2Z" fill="#ec3a3b" stroke="#7b1e1e"/><path d="M522.7,31.9L518.7,31.1L523,29.2L527.1,30Z" fill="#ef4442" stroke="#7c2323"/><path d="M514.3,33.3L510.3,32.7L514.7,30.6L518.7,31.1Z" fill="#f1534c" stroke="#7e2b28"/><path d="M505.8,35.1L501.9,34.7L506.4,32.4L510.3,32.7Z" fill="#f36854" stroke="#7f362c"/><path d="M497.4,37.3L493.6,37.2L498.1,34.6L501.9,34.7Z" fill="#f58359" stroke="#7f442e"/><path d="M611.9,44.9L607.4,41.5L611.2,41.3L615.7,44.7Z" fill="#e7b126" stroke="#785c14"/><path d="M603.5,41.8L599,38.6L602.9,38.3L607.4,41.5Z" fill="#ea8f26" stroke="#7a4a14"/><path d="M595,39.2L590.5,36.2L594.5,35.7L599,38.6Z" fill="#ea6e27" stroke="#7a3914"/><path d="M586.5,36.9L582.1,34.2L586.1,33.5L590.5,36.2Z" fill="#ec5127" stroke="#7b2a14"/><path d="M578,35.1L573.6,32.6L577.7,31.7L582.1,34.2Z" fill="#ed3728" stroke="#7b1d15"/><path d="M569.5,33.7L565.1,31.4L569.3,30.4L573.6,32.6Z" fill="#ee2922" stroke="#7c1512"/><path d="M560.9,32.7L556.6,30.7L560.8,29.5L565.1,31.4Z" fill="#ed2626" stroke="#7b1414"/><path d="M552.4,32.1L548.1,30.4L552.4,29L556.6,30.7Z" fill="#eb2b2b" stroke="#7a1617"/><path d="M543.8,32L539.7,30.5L543.9,28.9L548.1,30.4Z" fill="#eb3132" stroke="#7a1a1a"/><path d="M535.3,32.3L531.2,31L535.5,29.2L539.7,30.5Z" fill="#ec3839" stroke="#7b1d1e"/><path d="M526.8,33L522.7,31.9L527.1,30L531.2,31Z" fill="#ef4141" stroke="#7c2222"/><path d="M518.3,34.1L514.3,33.3L518.7,31.1L522.7,31.9Z" fill="#f1504a" stroke="#7d2a26"/><path d="M509.8,35.7L505.8,35.1L510.3,32.7L514.3,33.3Z" fill="#f36153" stroke="#7e332b"/><path d="M501.3,37.7L497.4,37.3L501.9,34.7L505.8,35.1Z" fill="#f47b58" stroke="#7f402e"/><path d="M492.9,40.1L489.1,39.9L493.6,37.2L497.4,37.3Z" fill="#f6965c" stroke="#804e30"/><path d="M616.4,48.6L611.9,44.9L615.7,44.7L620.3,48.4Z" fill="#e4c526" stroke="#776614"/><path d="M608,45.3L603.5,41.8L607.4,41.5L611.9,44.9Z" fill="#e9a526" stroke="#795614"/><path d="M599.5,42.4L595,39.2L599,38.6L603.5,41.8Z" fill="#eb8526" stroke="#7a4514"/><path d="M591,39.9L586.5,36.9L590.5,36.2L595,39.2Z" fill="#ec6627" stroke="#7b3514"/><path d="M582.4,37.8L578,35.1L582.1,34.2L586.5,36.9Z" fill="#ed4a27" stroke="#7b2714"/><path d="M573.9,36.2L569.5,33.7L573.6,32.6L578,35.1Z" fill="#ef3527" stroke="#7c1b14"/><path d="M565.3,34.9L560.9,32.7L565.1,31.4L569.5,33.7Z" fill="#ee2d27" stroke="#7c1714"/><path d="M556.7,34.1L552.4,32.1L556.6,30.7L560.9,32.7Z" fill="#ed2c2b" stroke="#7b1716"/><path d="M548.1,33.7L543.8,32L548.1,30.4L552.4,32.1Z" fill="#ed3131" stroke="#7b1919"/><path d="M539.5,33.8L535.3,32.3L539.7,30.5L543.8,32Z" fill="#ee3738" stroke="#7c1d1d"/><path d="M530.9,34.3L526.8,33L531.2,31L535.3,32.3Z" fill="#ef413f" stroke="#7c2221"/><path d="M522.4,35.2L518.3,34.1L522.7,31.9L526.8,33Z" fill="#f14e48" stroke="#7d2825"/><path d="M513.8,36.5L509.8,35.7L514.3,33.3L518.3,34.1Z" fill="#f35d52" stroke="#7e302a"/><path d="M505.3,38.3L501.3,37.7L505.8,35.1L509.8,35.7Z" fill="#f47457" stroke="#7f3c2d"/><path d="M496.8,40.4L492.9,40.1L497.4,37.3L501.3,37.7Z" fill="#f58f5b" stroke="#804a2f"/><path d="M488.3,43L484.5,42.9L489.1,39.9L492.9,40.1Z" fill="#f7aa5f" stroke="#815931"/><path d="M621,52.6L616.4,48.6L620.3,48.4L624.8,52.4Z" fill="#e1d825" stroke="#757113"/><path d="M612.6,49.1L608,45.3L611.9,44.9L616.4,48.6Z" fill="#e7bc26" stroke="#786214"/><path d="M604,45.9L599.5,42.4L603.5,41.8L608,45.3Z" fill="#eb9c26" stroke="#7a5114"/><path d="M595.5,43.1L591,39.9L595,39.2L599.5,42.4Z" fill="#ec7d27" stroke="#7b4114"/><path d="M586.9,40.8L582.4,37.8L586.5,36.9L591,39.9Z" fill="#ed6027" stroke="#7b3214"/><path d="M578.3,38.9L573.9,36.2L578,35.1L582.4,37.8Z" fill="#ef4728" stroke="#7c2515"/><path d="M569.7,37.4L565.3,34.9L569.5,33.7L573.9,36.2Z" fill="#f03629" stroke="#7d1c15"/><path d="M561,36.4L556.7,34.1L560.9,32.7L565.3,34.9Z" fill="#ef332c" stroke="#7c1a17"/><path d="M552.4,35.8L548.1,33.7L552.4,32.1L556.7,34.1Z" fill="#ee3431" stroke="#7c1b19"/><path d="M543.8,35.6L539.5,33.8L543.8,32L548.1,33.7Z" fill="#ef3937" stroke="#7c1e1d"/><path d="M535.1,35.8L530.9,34.3L535.3,32.3L539.5,33.8Z" fill="#ef413e" stroke="#7c2220"/><path d="M526.5,36.5L522.4,35.2L526.8,33L530.9,34.3Z" fill="#f14d47" stroke="#7d2825"/><path d="M517.9,37.6L513.8,36.5L518.3,34.1L522.4,35.2Z" fill="#f35b50" stroke="#7e2f29"/><path d="M509.3,39.1L505.3,38.3L509.8,35.7L513.8,36.5Z" fill="#f47055" stroke="#7f3a2c"/><path d="M500.7,41.1L496.8,40.4L501.3,37.7L505.3,38.3Z" fill="#f5895a" stroke="#7f472f"/><path d="M492.2,43.5L488.3,43L492.9,40.1L496.8,40.4Z" fill="#f7a35e" stroke="#805531"/><path d="M483.7,46.3L479.9,46.1L484.5,42.9L488.3,43Z" fill="#f8be62" stroke="#816333"/><path d="M625.7,56.9L621,52.6L624.8,52.4L629.5,56.6Z" fill="#c8db21" stroke="#687211"/><path d="M617.2,53.1L612.6,49.1L616.4,48.6L621,52.6Z" fill="#e4d026" stroke="#766c14"/><path d="M608.6,49.7L604,45.9L608,45.3L612.6,49.1Z" fill="#eab526" stroke="#795e14"/><path d="M600,46.7L595.5,43.1L599.5,42.4L604,45.9Z" fill="#ec9527" stroke="#7b4e14"/><path d="M591.4,44.1L586.9,40.8L591,39.9L595.5,43.1Z" fill="#ed7727" stroke="#7b3e14"/><path d="M582.8,42L578.3,38.9L582.4,37.8L586.9,40.8Z" fill="#ef5d27" stroke="#7c3015"/><path d="M574.1,40.2L569.7,37.4L573.9,36.2L578.3,38.9Z" fill="#f04628" stroke="#7d2515"/><path d="M565.4,39L561,36.4L565.3,34.9L569.7,37.4Z" fill="#f03b2e" stroke="#7d1f18"/><path d="M556.7,38.1L552.4,35.8L556.7,34.1L561,36.4Z" fill="#ef3a32" stroke="#7d1e1a"/><path d="M548.1,37.7L543.8,35.6L548.1,33.7L552.4,35.8Z" fill="#ef3d37" stroke="#7c201d"/><path d="M539.4,37.7L535.1,35.8L539.5,33.8L543.8,35.6Z" fill="#f0443e" stroke="#7d2320"/><path d="M530.7,38.1L526.5,36.5L530.9,34.3L535.1,35.8Z" fill="#f14e46" stroke="#7d2824"/><path d="M522,39L517.9,37.6L522.4,35.2L526.5,36.5Z" fill="#f35a4e" stroke="#7e2f29"/><path d="M513.4,40.3L509.3,39.1L513.8,36.5L517.9,37.6Z" fill="#f46d54" stroke="#7f392c"/><path d="M504.7,42L500.7,41.1L505.3,38.3L509.3,39.1Z" fill="#f58459" stroke="#7f452e"/><path d="M496.1,44.1L492.2,43.5L496.8,40.4L500.7,41.1Z" fill="#f69d5d" stroke="#805231"/><path d="M487.6,46.7L483.7,46.3L488.3,43L492.2,43.5Z" fill="#f8b761" stroke="#815f33"/><path d="M479.1,49.7L475.3,49.5L479.9,46.1L483.7,46.3Z" fill="#f8d265" stroke="#816d34"/><path d="M630.3,61.5L625.7,56.9L629.5,56.6L634.1,61.1Z" fill="#aad91c" stroke="#58710e"/><path d="M621.8,57.4L617.2,53.1L621,52.6L625.7,56.9Z" fill="#d6dc23" stroke="#6f7312"/><path d="M613.3,53.7L608.6,49.7L612.6,49.1L617.2,53.1Z" fill="#e6ca26" stroke="#786914"/><path d="M604.6,50.5L600,46.7L604,45.9L608.6,49.7Z" fill="#ebae26" stroke="#7a5a14"/><path d="M596,47.7L591.4,44.1L595.5,43.1L600,46.7Z" fill="#ee9027" stroke="#7c4b14"/><path d="M587.3,45.3L582.8,42L586.9,40.8L591.4,44.1Z" fill="#ef7427" stroke="#7c3c14"/><path d="M578.6,43.3L574.1,40.2L578.3,38.9L582.8,42Z" fill="#f05c28" stroke="#7d3015"/><path d="M569.9,41.8L565.4,39L569.7,37.4L574.1,40.2Z" fill="#f14b2c" stroke="#7d2717"/><path d="M561.1,40.7L556.7,38.1L561,36.4L565.4,39Z" fill="#f14333" stroke="#7d231a"/><path d="M552.4,40L548.1,37.7L552.4,35.8L556.7,38.1Z" fill="#f14338" stroke="#7d231d"/><path d="M543.7,39.8L539.4,37.7L543.8,35.6L548.1,37.7Z" fill="#f1483e" stroke="#7d2520"/><path d="M534.9,40L530.7,38.1L535.1,35.8L539.4,37.7Z" fill="#f25045" stroke="#7e2924"/><path d="M526.2,40.6L522,39L526.5,36.5L530.7,38.1Z" fill="#f35c4d" stroke="#7e3028"/><path d="M517.5,41.7L513.4,40.3L517.9,37.6L522,39Z" fill="#f46d52" stroke="#7f392b"/><path d="M508.8,43.1L504.7,42L509.3,39.1L513.4,40.3Z" fill="#f58257" stroke="#7f442d"/><path d="M500.1,45.1L496.1,44.1L500.7,41.1L504.7,42Z" fill="#f6995c" stroke="#804f30"/><path d="M491.5,47.4L487.6,46.7L492.2,43.5L496.1,44.1Z" fill="#f8b260" stroke="#815d32"/><path d="M482.9,50.2L479.1,49.7L483.7,46.3L487.6,46.7Z" fill="#f8cc64" stroke="#816a34"/><path d="M474.4,53.4L470.6,53.1L475.3,49.5L479.1,49.7Z" fill="#f6e367" stroke="#807636"/><path d="M635,66.3L630.3,61.5L634.1,61.1L638.8,65.9Z" fill="#8ad61c" stroke="#486f0e"/><path d="M626.5,62L621.8,57.4L625.7,56.9L630.3,61.5Z" fill="#b7db1d" stroke="#5f720f"/><path d="M617.9,58.1L613.3,53.7L617.2,53.1L621.8,57.4Z" fill="#e1de26" stroke="#757314"/><path d="M609.3,54.6L604.6,50.5L608.6,49.7L613.3,53.7Z" fill="#e9c526" stroke="#796614"/><path d="M600.6,51.5L596,47.7L600,46.7L604.6,50.5Z" fill="#eda927" stroke="#7b5814"/><path d="M591.9,48.9L587.3,45.3L591.4,44.1L596,47.7Z" fill="#ef8d27" stroke="#7c4914"/><path d="M583.1,46.7L578.6,43.3L582.8,42L587.3,45.3Z" fill="#f17328" stroke="#7d3c15"/><path d="M574.4,44.9L569.9,41.8L574.1,40.2L578.6,43.3Z" fill="#f25f29" stroke="#7e3115"/><path d="M565.6,43.5L561.1,40.7L565.4,39L569.9,41.8Z" fill="#f15330" stroke="#7e2b19"/><path d="M556.8,42.6L552.4,40L556.7,38.1L561.1,40.7Z" fill="#f14e37" stroke="#7e281d"/><path d="M548,42.1L543.7,39.8L548.1,37.7L552.4,40Z" fill="#f24f3e" stroke="#7e2920"/><path d="M539.2,42.1L534.9,40L539.4,37.7L543.7,39.8Z" fill="#f25544" stroke="#7e2c23"/><path d="M530.4,42.5L526.2,40.6L530.7,38.1L534.9,40Z" fill="#f3604a" stroke="#7e3227"/><path d="M521.7,43.3L517.5,41.7L522,39L526.2,40.6Z" fill="#f46f50" stroke="#7f3a2a"/><path d="M512.9,44.6L508.8,43.1L513.4,40.3L517.5,41.7Z" fill="#f58156" stroke="#7f432c"/><path d="M504.2,46.3L500.1,45.1L504.7,42L508.8,43.1Z" fill="#f6975a" stroke="#804e2f"/><path d="M495.5,48.4L491.5,47.4L496.1,44.1L500.1,45.1Z" fill="#f7ae5f" stroke="#815b31"/><path d="M486.8,50.9L482.9,50.2L487.6,46.7L491.5,47.4Z" fill="#f8c663" stroke="#816733"/><path d="M478.2,53.9L474.4,53.4L479.1,49.7L482.9,50.2Z" fill="#f7de67" stroke="#807335"/><path d="M469.7,57.3L465.9,57L470.6,53.1L474.4,53.4Z" fill="#f1f168" stroke="#7d7d36"/><path d="M631.2,66.9L626.5,62L630.3,61.5L635,66.3Z" fill="#97d91c" stroke="#4e710f"/><path d="M622.6,62.7L617.9,58.1L621.8,57.4L626.5,62Z" fill="#c3dd1f" stroke="#657310"/><path d="M613.9,59L609.3,54.6L613.3,53.7L617.9,58.1Z" fill="#e5da26" stroke="#777114"/><path d="M605.2,55.7L600.6,51.5L604.6,50.5L609.3,54.6Z" fill="#ebc127" stroke="#7a6514"/><path d="M596.5,52.8L591.9,48.9L596,47.7L600.6,51.5Z" fill="#efa627" stroke="#7c5614"/><path d="M587.7,50.3L583.1,46.7L587.3,45.3L591.9,48.9Z" fill="#f18c27" stroke="#7d4914"/><path d="M578.9,48.3L574.4,44.9L578.6,43.3L583.1,46.7Z" fill="#f27528" stroke="#7e3d15"/><path d="M570.1,46.7L565.6,43.5L569.9,41.8L574.4,44.9Z" fill="#f2662d" stroke="#7e3517"/><path d="M561.3,45.5L556.8,42.6L561.1,40.7L565.6,43.5Z" fill="#f25d34" stroke="#7e301b"/><path d="M552.4,44.8L548,42.1L552.4,40L556.8,42.6Z" fill="#f25b3b" stroke="#7e2f1f"/><path d="M543.6,44.5L539.2,42.1L543.7,39.8L548,42.1Z" fill="#f25e42" stroke="#7e3122"/><path d="M534.7,44.6L530.4,42.5L534.9,40L539.2,42.1Z" fill="#f36648" stroke="#7e3525"/><path d="M525.9,45.2L521.7,43.3L526.2,40.6L530.4,42.5Z" fill="#f4734e" stroke="#7f3c29"/><path d="M517.1,46.2L512.9,44.6L517.5,41.7L521.7,43.3Z" fill="#f58354" stroke="#7f442b"/><path d="M508.3,47.7L504.2,46.3L508.8,43.1L512.9,44.6Z" fill="#f69659" stroke="#804e2e"/><path d="M499.5,49.6L495.5,48.4L500.1,45.1L504.2,46.3Z" fill="#f7ac5d" stroke="#815931"/><path d="M490.8,51.9L486.8,50.9L491.5,47.4L495.5,48.4Z" fill="#f8c362" stroke="#816533"/><path d="M482.1,54.7L478.2,53.9L482.9,50.2L486.8,50.9Z" fill="#f7da66" stroke="#817135"/><path d="M473.5,57.8L469.7,57.3L474.4,53.4L478.2,53.9Z" fill="#f5ef68" stroke="#7f7c36"/><path d="M627.3,67.6L622.6,62.7L626.5,62L631.2,66.9Z" fill="#a2db1c" stroke="#54720f"/><path d="M618.6,63.6L613.9,59L617.9,58.1L622.6,62.7Z" fill="#ccdf21" stroke="#6a7411"/><path d="M609.9,60.1L605.2,55.7L609.3,54.6L613.9,59Z" fill="#e7d726" stroke="#787014"/><path d="M601.1,56.9L596.5,52.8L600.6,51.5L605.2,55.7Z" fill="#edc027" stroke="#7b6414"/><path d="M592.3,54.2L587.7,50.3L591.9,48.9L596.5,52.8Z" fill="#f0a627" stroke="#7d5614"/><path d="M583.5,51.9L578.9,48.3L583.1,46.7L587.7,50.3Z" fill="#f38e28" stroke="#7e4a15"/><path d="M574.6,50.1L570.1,46.7L574.4,44.9L578.9,48.3Z" fill="#f37b2a" stroke="#7f4016"/><path d="M565.8,48.7L561.3,45.5L565.6,43.5L570.1,46.7Z" fill="#f36f31" stroke="#7e3a1a"/><path d="M556.9,47.7L552.4,44.8L556.8,42.6L561.3,45.5Z" fill="#f36a38" stroke="#7e371d"/><path d="M548,47.2L543.6,44.5L548,42.1L552.4,44.8Z" fill="#f36a3f" stroke="#7e3721"/><path d="M539.1,47.1L534.7,44.6L539.2,42.1L543.6,44.5Z" fill="#f36f45" stroke="#7f3a24"/><path d="M530.2,47.4L525.9,45.2L530.4,42.5L534.7,44.6Z" fill="#f4794c" stroke="#7f3f27"/><path d="M521.3,48.2L517.1,46.2L521.7,43.3L525.9,45.2Z" fill="#f58751" stroke="#7f462a"/><path d="M512.5,49.4L508.3,47.7L512.9,44.6L517.1,46.2Z" fill="#f69857" stroke="#804f2d"/><path d="M503.6,51.1L499.5,49.6L504.2,46.3L508.3,47.7Z" fill="#f7ac5c" stroke="#815930"/><path d="M494.8,53.2L490.8,51.9L495.5,48.4L499.5,49.6Z" fill="#f8c160" stroke="#816432"/><path d="M486.1,55.7L482.1,54.7L486.8,50.9L490.8,51.9Z" fill="#f7d764" stroke="#817034"/><path d="M477.4,58.6L473.5,57.8L478.2,53.9L482.1,54.7Z" fill="#f5eb68" stroke="#807a36"/><path d="M623.4,68.6L618.6,63.6L622.6,62.7L627.3,67.6Z" fill="#acdd1c" stroke="#59730f"/><path d="M614.6,64.8L609.9,60.1L613.9,59L618.6,63.6Z" fill="#d4e023" stroke="#6e7512"/><path d="M605.8,61.4L601.1,56.9L605.2,55.7L609.9,60.1Z" fill="#e9d527" stroke="#796f14"/><path d="M597,58.4L592.3,54.2L596.5,52.8L601.1,56.9Z" fill="#efc027" stroke="#7c6414"/><path d="M588.1,55.9L583.5,51.9L587.7,50.3L592.3,54.2Z" fill="#f2a727" stroke="#7e5715"/><path d="M579.2,53.8L574.6,50.1L578.9,48.3L583.5,51.9Z" fill="#f49328" stroke="#7f4c15"/><path d="M570.3,52.1L565.8,48.7L570.1,46.7L574.6,50.1Z" fill="#f4832e" stroke="#7f4418"/><path d="M561.4,50.9L556.9,47.7L561.3,45.5L565.8,48.7Z" fill="#f47b35" stroke="#7f401c"/><path d="M552.4,50.1L548,47.2L552.4,44.8L556.9,47.7Z" fill="#f4783c" stroke="#7f3e1f"/><path d="M543.5,49.8L539.1,47.1L543.6,44.5L548,47.2Z" fill="#f47a43" stroke="#7f3f23"/><path d="M534.5,49.9L530.2,47.4L534.7,44.6L539.1,47.1Z" fill="#f48149" stroke="#7f4326"/><path d="M525.6,50.4L521.3,48.2L525.9,45.2L530.2,47.4Z" fill="#f58c4f" stroke="#7f4929"/><path d="M516.7,51.4L512.5,49.4L517.1,46.2L521.3,48.2Z" fill="#f69b55" stroke="#80512c"/><path d="M507.8,52.8L503.6,51.1L508.3,47.7L512.5,49.4Z" fill="#f7ad5a" stroke="#815a2f"/><path d="M498.9,54.7L494.8,53.2L499.5,49.6L503.6,51.1Z" fill="#f8c15f" stroke="#816431"/><path d="M490.1,57L486.1,55.7L490.8,51.9L494.8,53.2Z" fill="#f7d663" stroke="#816f33"/><path d="M481.3,59.7L477.4,58.6L482.1,54.7L486.1,55.7Z" fill="#f5e867" stroke="#807935"/><path d="M619.4,69.8L614.6,64.8L618.6,63.6L623.4,68.6Z" fill="#b3df1c" stroke="#5d740f"/><path d="M610.6,66.2L605.8,61.4L609.9,60.1L614.6,64.8Z" fill="#d9e224" stroke="#717513"/><path d="M601.7,62.9L597,58.4L601.1,56.9L605.8,61.4Z" fill="#ebd527" stroke="#7a6f14"/><path d="M592.8,60.2L588.1,55.9L592.3,54.2L597,58.4Z" fill="#f1c127" stroke="#7d6514"/><path d="M583.9,57.8L579.2,53.8L583.5,51.9L588.1,55.9Z" fill="#f3ab28" stroke="#7f5915"/><path d="M574.9,55.9L570.3,52.1L574.6,50.1L579.2,53.8Z" fill="#f59a2b" stroke="#7f5016"/><path d="M565.9,54.4L561.4,50.9L565.8,48.7L570.3,52.1Z" fill="#f58e32" stroke="#7f4a1a"/><path d="M556.9,53.4L552.4,50.1L556.9,47.7L561.4,50.9Z" fill="#f48839" stroke="#7f471e"/><path d="M547.9,52.8L543.5,49.8L548,47.2L552.4,50.1Z" fill="#f58740" stroke="#7f4621"/><path d="M538.9,52.6L534.5,49.9L539.1,47.1L543.5,49.8Z" fill="#f58b46" stroke="#7f4924"/><path d="M529.9,52.9L525.6,50.4L530.2,47.4L534.5,49.9Z" fill="#f6944c" stroke="#804d28"/><path d="M521,53.7L516.7,51.4L521.3,48.2L525.6,50.4Z" fill="#f6a152" stroke="#80542b"/><path d="M512,54.8L507.8,52.8L512.5,49.4L516.7,51.4Z" fill="#f7b058" stroke="#815c2e"/><path d="M503.1,56.5L498.9,54.7L503.6,51.1L507.8,52.8Z" fill="#f7c25d" stroke="#816530"/><path d="M494.2,58.5L490.1,57L494.8,53.2L498.9,54.7Z" fill="#f7d561" stroke="#816f32"/><path d="M485.3,61L481.3,59.7L486.1,55.7L490.1,57Z" fill="#f5e765" stroke="#807835"/><path d="M615.3,71.2L610.6,66.2L614.6,64.8L619.4,69.8Z" fill="#b8e11d" stroke="#60750f"/><path d="M606.4,67.7L601.7,62.9L605.8,61.4L610.6,66.2Z" fill="#dde324" stroke="#737613"/><path d="M597.5,64.7L592.8,60.2L597,58.4L601.7,62.9Z" fill="#edd727" stroke="#7b7014"/><path d="M588.5,62.1L583.9,57.8L588.1,55.9L592.8,60.2Z" fill="#f2c528" stroke="#7e6615"/><path d="M579.5,59.9L574.9,55.9L579.2,53.8L583.9,57.8Z" fill="#f5b228" stroke="#7f5d15"/><path d="M570.5,58.2L565.9,54.4L570.3,52.1L574.9,55.9Z" fill="#f5a42f" stroke="#805518"/><path d="M561.5,56.9L556.9,53.4L561.4,50.9L565.9,54.4Z" fill="#f69b36" stroke="#80511c"/><path d="M552.4,56.1L547.9,52.8L552.4,50.1L556.9,53.4Z" fill="#f5973d" stroke="#804f20"/><path d="M543.4,55.7L538.9,52.6L543.5,49.8L547.9,52.8Z" fill="#f69843" stroke="#804f23"/><path d="M534.3,55.7L529.9,52.9L534.5,49.9L538.9,52.6Z" fill="#f69e4a" stroke="#805226"/><path d="M525.3,56.2L521,53.7L525.6,50.4L529.9,52.9Z" fill="#f7a850" stroke="#805829"/><path d="M516.3,57.1L512,54.8L516.7,51.4L521,53.7Z" fill="#f7b555" stroke="#805e2c"/><path d="M507.3,58.5L503.1,56.5L507.8,52.8L512,54.8Z" fill="#f7c55a" stroke="#81672f"/><path d="M498.3,60.3L494.2,58.5L498.9,54.7L503.1,56.5Z" fill="#f7d65f" stroke="#807031"/><path d="M489.4,62.6L485.3,61L490.1,57L494.2,58.5Z" fill="#f5e764" stroke="#807834"/><path d="M611.2,72.8L606.4,67.7L610.6,66.2L615.3,71.2Z" fill="#bbe21e" stroke="#61760f"/><path d="M602.2,69.5L597.5,64.7L601.7,62.9L606.4,67.7Z" fill="#dee525" stroke="#737713"/><path d="M593.2,66.7L588.5,62.1L592.8,60.2L597.5,64.7Z" fill="#eeda27" stroke="#7c7214"/><path d="M584.2,64.3L579.5,59.9L583.9,57.8L588.5,62.1Z" fill="#f3ca28" stroke="#7e6915"/><path d="M575.1,62.3L570.5,58.2L574.9,55.9L579.5,59.9Z" fill="#f5bb2c" stroke="#7f6117"/><path d="M566.1,60.7L561.5,56.9L565.9,54.4L570.5,58.2Z" fill="#f6af33" stroke="#805b1a"/><path d="M557,59.6L552.4,56.1L556.9,53.4L561.5,56.9Z" fill="#f6a93a" stroke="#80581e"/><path d="M547.9,59L543.4,55.7L547.9,52.8L552.4,56.1Z" fill="#f6a740" stroke="#805721"/><path d="M538.8,58.8L534.3,55.7L538.9,52.6L543.4,55.7Z" fill="#f6aa47" stroke="#805925"/><path d="M529.7,59L525.3,56.2L529.9,52.9L534.3,55.7Z" fill="#f7b24d" stroke="#805c28"/><path d="M520.6,59.7L516.3,57.1L521,53.7L525.3,56.2Z" fill="#f7bc53" stroke="#80622b"/><path d="M511.6,60.9L507.3,58.5L512,54.8L516.3,57.1Z" fill="#f7ca58" stroke="#81692e"/><path d="M502.5,62.4L498.3,60.3L503.1,56.5L507.3,58.5Z" fill="#f7d95d" stroke="#807130"/><path d="M493.6,64.5L489.4,62.6L494.2,58.5L498.3,60.3Z" fill="#f5e862" stroke="#7f7933"/><path d="M607,74.7L602.2,69.5L606.4,67.7L611.2,72.8Z" fill="#bde41e" stroke="#627610"/><path d="M598,71.6L593.2,66.7L597.5,64.7L602.2,69.5Z" fill="#dde624" stroke="#737813"/><path d="M588.9,68.9L584.2,64.3L588.5,62.1L593.2,66.7Z" fill="#efe028" stroke="#7c7415"/><path d="M579.8,66.6L575.1,62.3L579.5,59.9L584.2,64.3Z" fill="#f3d129" stroke="#7f6d15"/><path d="M570.7,64.9L566.1,60.7L570.5,58.2L575.1,62.3Z" fill="#f5c630" stroke="#806719"/><path d="M561.6,63.5L557,59.6L561.5,56.9L566.1,60.7Z" fill="#f6bc36" stroke="#80621c"/><path d="M552.4,62.6L547.9,59L552.4,56.1L557,59.6Z" fill="#f6b83d" stroke="#806020"/><path d="M543.3,62.2L538.8,58.8L543.4,55.7L547.9,59Z" fill="#f6b844" stroke="#806023"/><path d="M534.1,62.2L529.7,59L534.3,55.7L538.8,58.8Z" fill="#f7bd4a" stroke="#806226"/><path d="M525,62.6L520.6,59.7L525.3,56.2L529.7,59Z" fill="#f7c550" stroke="#806729"/><path d="M515.9,63.5L511.6,60.9L516.3,57.1L520.6,59.7Z" fill="#f7d155" stroke="#806d2c"/><path d="M506.8,64.8L502.5,62.4L507.3,58.5L511.6,60.9Z" fill="#f6dd5b" stroke="#80732f"/><path d="M497.7,66.6L493.6,64.5L498.3,60.3L502.5,62.4Z" fill="#f5ea5f" stroke="#7f7a32"/><path d="M602.8,76.7L598,71.6L602.2,69.5L607,74.7Z" fill="#bce51e" stroke="#62770f"/><path d="M593.7,73.8L588.9,68.9L593.2,66.7L598,71.6Z" fill="#dae824" stroke="#717813"/><path d="M584.6,71.3L579.8,66.6L584.2,64.3L588.9,68.9Z" fill="#efe728" stroke="#7d7815"/><path d="M575.4,69.3L570.7,64.9L575.1,62.3L579.8,66.6Z" fill="#f3d92c" stroke="#7e7117"/><path d="M566.2,67.7L561.6,63.5L566.1,60.7L570.7,64.9Z" fill="#f4d033" stroke="#7f6c1b"/><path d="M557,66.5L552.4,62.6L557,59.6L561.6,63.5Z" fill="#f6ca3a" stroke="#80691e"/><path d="M547.8,65.8L543.3,62.2L547.9,59L552.4,62.6Z" fill="#f6c940" stroke="#806822"/><path d="M538.6,65.6L534.1,62.2L538.8,58.8L543.3,62.2Z" fill="#f6cb47" stroke="#806925"/><path d="M529.5,65.8L525,62.6L529.7,59L534.1,62.2Z" fill="#f6d04d" stroke="#806c28"/><path d="M520.3,66.4L515.9,63.5L520.6,59.7L525,62.6Z" fill="#f6d853" stroke="#80702b"/><path d="M511.1,67.5L506.8,64.8L511.6,60.9L515.9,63.5Z" fill="#f5e258" stroke="#7f752e"/><path d="M502,69L497.7,66.6L502.5,62.4L506.8,64.8Z" fill="#f4ee5d" stroke="#7f7c30"/><path d="M598.5,79L593.7,73.8L598,71.6L602.8,76.7Z" fill="#b8e61d" stroke="#60780f"/><path d="M589.3,76.3L584.6,71.3L588.9,68.9L593.7,73.8Z" fill="#d4e922" stroke="#6e7912"/><path d="M580.1,74L575.4,69.3L579.8,66.6L584.6,71.3Z" fill="#ebeb28" stroke="#7a7a15"/><path d="M570.9,72.1L566.2,67.7L570.7,64.9L575.4,69.3Z" fill="#f2e330" stroke="#7e7619"/><path d="M561.7,70.7L557,66.5L561.6,63.5L566.2,67.7Z" fill="#f3db37" stroke="#7e721c"/><path d="M552.5,69.8L547.8,65.8L552.4,62.6L557,66.5Z" fill="#f4d73d" stroke="#7f7020"/><path d="M543.2,69.3L538.6,65.6L543.3,62.2L547.8,65.8Z" fill="#f5d744" stroke="#7f7023"/><path d="M534,69.2L529.5,65.8L534.1,62.2L538.6,65.6Z" fill="#f5da4a" stroke="#7f7126"/><path d="M524.7,69.6L520.3,66.4L525,62.6L529.5,65.8Z" fill="#f5e050" stroke="#7f7429"/><path d="M515.5,70.5L511.1,67.5L515.9,63.5L520.3,66.4Z" fill="#f4e955" stroke="#7f792c"/><path d="M506.3,71.7L502,69L506.8,64.8L511.1,67.5Z" fill="#eff05a" stroke="#7c7d2f"/><path d="M594.2,81.6L589.3,76.3L593.7,73.8L598.5,79Z" fill="#b3e71e" stroke="#5d780f"/><path d="M584.9,79L580.1,74L584.6,71.3L589.3,76.3Z" fill="#ccea21" stroke="#6a7a11"/><path d="M575.7,76.9L570.9,72.1L575.4,69.3L580.1,74Z" fill="#e0eb29" stroke="#757a16"/><path d="M566.4,75.2L561.7,70.7L566.2,67.7L570.9,72.1Z" fill="#efec33" stroke="#7c7b1a"/><path d="M557.1,74L552.5,69.8L557,66.5L561.7,70.7Z" fill="#f2e73a" stroke="#7e781e"/><path d="M547.8,73.3L543.2,69.3L547.8,65.8L552.5,69.8Z" fill="#f3e540" stroke="#7e7722"/><path d="M538.5,73L534,69.2L538.6,65.6L543.2,69.3Z" fill="#f3e647" stroke="#7e7825"/><path d="M529.2,73.1L524.7,69.6L529.5,65.8L534,69.2Z" fill="#f3ea4d" stroke="#7e7a28"/><path d="M519.9,73.7L515.5,70.5L520.3,66.4L524.7,69.6Z" fill="#f0ef52" stroke="#7d7c2b"/><path d="M510.7,74.7L506.3,71.7L511.1,67.5L515.5,70.5Z" fill="#e6ef55" stroke="#777d2c"/><path d="M589.7,84.3L584.9,79L589.3,76.3L594.2,81.6Z" fill="#abe81e" stroke="#59790f"/><path d="M580.5,82L575.7,76.9L580.1,74L584.9,79Z" fill="#c2eb20" stroke="#657a11"/><path d="M571.1,80.1L566.4,75.2L570.9,72.1L575.7,76.9Z" fill="#d4ec2a" stroke="#6e7b16"/><path d="M561.8,78.6L557.1,74L561.7,70.7L566.4,75.2Z" fill="#e0ec33" stroke="#747b1b"/><path d="M552.5,77.6L547.8,73.3L552.5,69.8L557.1,74Z" fill="#e7ed3b" stroke="#787b1f"/><path d="M543.1,77L538.5,73L543.2,69.3L547.8,73.3Z" fill="#eaee42" stroke="#7a7c22"/><path d="M533.8,76.9L529.2,73.1L534,69.2L538.5,73Z" fill="#e8ee48" stroke="#797c25"/><path d="M524.4,77.2L519.9,73.7L524.7,69.6L529.2,73.1Z" fill="#e3ef4c" stroke="#767c28"/><path d="M515.1,78L510.7,74.7L515.5,70.5L519.9,73.7Z" fill="#daef50" stroke="#727c2a"/><path d="M585.3,87.3L580.5,82L584.9,79L589.7,84.3Z" fill="#a1e81e" stroke="#547910"/><path d="M575.9,85.2L571.1,80.1L575.7,76.9L580.5,82Z" fill="#b6eb23" stroke="#5e7a12"/><path d="M566.6,83.4L561.8,78.6L566.4,75.2L571.1,80.1Z" fill="#c5ec2b" stroke="#667b16"/><path d="M557.2,82.2L552.5,77.6L557.1,74L561.8,78.6Z" fill="#cfed33" stroke="#6c7b1b"/><path d="M547.8,81.4L543.1,77L547.8,73.3L552.5,77.6Z" fill="#d5ed3a" stroke="#6f7b1e"/><path d="M538.4,81L533.8,76.9L538.5,73L543.1,77Z" fill="#d6ee41" stroke="#6f7c22"/><path d="M529,81.1L524.4,77.2L529.2,73.1L533.8,76.9Z" fill="#d4ee46" stroke="#6e7c24"/><path d="M519.6,81.6L515.1,78L519.9,73.7L524.4,77.2Z" fill="#cdef4a" stroke="#6b7c27"/><path d="M580.8,90.6L575.9,85.2L580.5,82L585.3,87.3Z" fill="#95e81f" stroke="#4d7910"/><path d="M571.4,88.6L566.6,83.4L571.1,80.1L575.9,85.2Z" fill="#a8ea26" stroke="#577a14"/><path d="M561.9,87.1L557.2,82.2L561.8,78.6L566.6,83.4Z" fill="#b5eb2d" stroke="#5e7a17"/><path d="M552.5,86L547.8,81.4L552.5,77.6L557.2,82.2Z" fill="#beec34" stroke="#637b1b"/><path d="M543,85.4L538.4,81L543.1,77L547.8,81.4Z" fill="#c2ed3a" stroke="#657b1e"/><path d="M533.6,85.2L529,81.1L533.8,76.9L538.4,81Z" fill="#c2ee41" stroke="#657c22"/><path d="M524.2,85.5L519.6,81.6L524.4,77.2L529,81.1Z" fill="#beee47" stroke="#637c25"/><path d="M576.2,94.1L571.4,88.6L575.9,85.2L580.8,90.6Z" fill="#87e723" stroke="#467812"/><path d="M566.7,92.3L561.9,87.1L566.6,83.4L571.4,88.6Z" fill="#98e92a" stroke="#4f7916"/><path d="M557.2,91L552.5,86L557.2,82.2L561.9,87.1Z" fill="#a4ea30" stroke="#557a19"/><path d="M547.7,90.1L543,85.4L547.8,81.4L552.5,86Z" fill="#abeb37" stroke="#597a1d"/><path d="M538.2,89.7L533.6,85.2L538.4,81L543,85.4Z" fill="#adec3d" stroke="#5a7b20"/><path d="M528.7,89.7L524.2,85.5L529,81.1L533.6,85.2Z" fill="#acec43" stroke="#597b23"/><path d="M571.6,97.8L566.7,92.3L571.4,88.6L576.2,94.1Z" fill="#79e727" stroke="#3f7815"/><path d="M562,96.2L557.2,91L561.9,87.1L566.7,92.3Z" fill="#87e82d" stroke="#467917"/><path d="M552.5,95.1L547.7,90.1L552.5,86L557.2,91Z" fill="#91e933" stroke="#4b791b"/><path d="M542.9,94.4L538.2,89.7L543,85.4L547.7,90.1Z" fill="#96ea3a" stroke="#4e7a1e"/><path d="M533.4,94.2L528.7,89.7L533.6,85.2L538.2,89.7Z" fill="#98eb40" stroke="#4f7a21"/><path d="M566.9,101.8L562,96.2L566.7,92.3L571.6,97.8Z" fill="#6be730" stroke="#387819"/><path d="M557.3,100.4L552.5,95.1L557.2,91L562,96.2Z" fill="#77e834" stroke="#3e791b"/><path d="M547.7,99.5L542.9,94.4L547.7,90.1L552.5,95.1Z" fill="#7ee939" stroke="#42791e"/><path d="M538.1,99L533.4,94.2L538.2,89.7L542.9,94.4Z" fill="#82e93f" stroke="#447921"/><path d="M562.2,106.1L557.3,100.4L562,96.2L566.9,101.8Z" fill="#5be839" stroke="#2f781e"/><path d="M552.5,104.9L547.7,99.5L552.5,95.1L557.3,100.4Z" fill="#66e83d" stroke="#357920"/><path d="M542.9,104.2L538.1,99L542.9,94.4L547.7,99.5Z" fill="#6ce942" stroke="#387923"/><path d="M557.4,110.6L552.5,104.9L557.3,100.4L562.2,106.1Z" fill="#4be842" stroke="#277922"/><path d="M547.7,109.6L542.9,104.2L547.7,99.5L552.5,104.9Z" fill="#53e946" stroke="#2b7925"/><path d="M552.5,115.4L547.7,109.6L552.5,104.9L557.4,110.6Z" fill="#46e852" stroke="#25792b"/></g>
<circle cx="552.6" cy="39.8" r="1.7" fill="#b80000"/>
<g font-family="'Liberation Sans', sans-serif" fill="#000"><text x="446.0" y="20.7" font-size="12.5" font-weight="bold" textLength="14.9" lengthAdjust="spacingAndGlyphs">(c)</text><text transform="translate(455.25,88.35) rotate(-92.95)" text-anchor="middle" font-size="9.5" font-weight="bold" textLength="104.5" lengthAdjust="spacingAndGlyphs">Degradation Efficiency (%)</text><text transform="translate(497.71,179.08) rotate(22.5)" text-anchor="middle" font-size="9.5" font-weight="bold" textLength="43.9" lengthAdjust="spacingAndGlyphs">Time (min)</text><text transform="translate(609.55,182.01) rotate(-26.0)" text-anchor="middle" font-size="9.5" font-weight="bold" textLength="80.3" lengthAdjust="spacingAndGlyphs">H2O2 Dosage (mM)</text></g>
<path d="M55.3,309.1L136.5,281.5L217.9,309.1M54.7,297.2L136.5,270.8L218.5,297.3M54.2,285.2L136.5,260.1L219.1,285.4M53.7,273.3L136.6,249.4L219.7,273.5M53.1,261.3L136.6,238.6L220.3,261.6M52.6,249.4L136.6,227.9L220.9,249.7M52,237.4L136.6,217.2L221.5,237.8M51.5,225.5L136.6,206.5L222.1,225.9M75.6,302.2L72.8,220.8M197.5,302.2L200.7,221.1M95.9,295.3L94,216M177.2,295.3L179.3,216.2M116.2,288.4L115.3,211.2M156.9,288.4L158,211.3M56.5,336L51.5,225.5M136.5,305.6L136.6,206.5M216.5,335.9L222.1,225.9" fill="none" stroke="#404040" stroke-width="0.75"/>
<path d="M136.5,374.1L56.5,336L136.5,305.6L216.5,335.9Z" fill="#646464" stroke="#2e2e2e" stroke-width="0.9" stroke-linejoin="round"/>
<path d="M131.7,371.9L133.1,372.1L133.9,372.2L135.2,372.4L136.5,372.6L137.3,372.8L138.5,372.9L139.1,373" fill="none" stroke="#8cc81e" stroke-width="1.15"/>
<path d="M62.3,333.6L62.3,334L62.4,334.4L62.5,334.9L62.7,335.4L62.8,335.7L62.9,336L63.1,336.6L63.3,337L63.4,337.4L63.6,337.8L63.9,338.4L64,338.7L64.2,339L64.5,339.6L64.6,339.7" fill="none" stroke="#8cc81e" stroke-width="1.15"/>
<path d="M109.3,361.1L109.9,361.3L111.2,361.7L112.5,362.1L113.2,362.3L114.5,362.7L115.4,363L116.5,363.3L117.9,363.7L118.6,363.8L120,364.2L120.7,364.4L122.1,364.7L122.8,364.9L124.3,365.3L125,365.4L126.5,365.7L127.3,365.9L128.8,366.2L129.6,366.4L130.7,366.6L132,366.8L132.8,367L134.3,367.2L135.2,367.4L136.1,367.5L137.7,367.8L138.6,367.9L139.4,368L140.9,368.2L142,368.4L142.9,368.5L143.9,368.6L145.4,368.8L146.5,368.9L147.4,369" fill="none" stroke="#d4d01e" stroke-width="1.15"/>
<path d="M71.5,330.2L71.5,330.5L71.5,330.9L71.5,331.3L71.5,331.7L71.5,332.1L71.6,332.6L71.7,333.1L71.7,333.4L71.8,333.8L71.9,334.2L72.1,334.7L72.2,335.2L72.3,335.5L72.4,335.8L72.7,336.4L72.9,336.8L73,337.2L73.2,337.6L73.5,338.1L73.7,338.5L73.9,338.9L74.3,339.4L74.5,339.7L74.8,340.2L75.2,340.7L75.4,341L75.9,341.6L76.1,341.9L76.6,342.5L76.9,342.8L77.4,343.4L77.7,343.7L78.3,344.3L78.6,344.6L79.2,345.2L79.5,345.4L80.2,346L80.6,346.4L81.2,346.9L81.9,347.4L82.3,347.7L83,348.3L83.7,348.8L84,349" fill="none" stroke="#d4d01e" stroke-width="1.15"/>
<path d="M83.4,325.7L83.2,326.1L83,326.6L82.9,327L82.7,327.4L82.6,327.8L82.5,328.2L82.4,328.6L82.4,329L82.3,329.4L82.3,329.8L82.3,330.2L82.3,330.5L82.3,330.9L82.3,331.3L82.3,331.7L82.4,332.1L82.4,332.6L82.5,333.1L82.6,333.4L82.7,333.8L82.8,334.1L83,334.7L83.2,335.2L83.3,335.5L83.5,335.8L83.7,336.4L83.9,336.8L84.1,337.1L84.4,337.6L84.7,338.1L84.9,338.4L85.3,338.9L85.6,339.4L85.8,339.7L86.3,340.3L86.6,340.6L87.1,341.2L87.4,341.5L88,342.1L88.2,342.4L88.9,342.9L89.2,343.2L89.8,343.8L90.1,344.1L90.8,344.7L91.4,345.1L91.9,345.5L92.6,346L93.2,346.4L93.8,346.8L94.6,347.4L95.4,347.9L95.8,348.2L96.6,348.7L97.5,349.2L98.4,349.7L99.3,350.2L100.3,350.7L101.1,351.1L101.7,351.4L102.7,351.9L103.7,352.4L104.7,352.8L105.3,353.1L106.3,353.5L107.4,354L108.5,354.4L109.6,354.9L110.7,355.3L111.9,355.7L112.5,355.9L113.7,356.3L114.9,356.7L116,357.1L116.8,357.3L118.1,357.7L119.1,358L120,358.3L121.3,358.7L122,358.9L123.4,359.2L124.2,359.4L125.5,359.7L126.5,360L127.6,360.2L128.6,360.5L129.8,360.7L130.6,360.9L132.1,361.2L132.9,361.3L134.4,361.6L135.2,361.8L136.1,361.9L137.6,362.2L138.4,362.3L139.5,362.4L140.9,362.7L141.8,362.8L142.6,362.9L144.1,363.1L145.2,363.2L146.1,363.3L147,363.4L148.4,363.5L149.8,363.7L150.7,363.7L151.6,363.8L152.6,363.9L153.8,364L155.1,364L156.3,364.1L157.5,364.2" fill="none" stroke="#dca828" stroke-width="1.15"/>
<path d="M142.6,308L141.7,308L140.7,308L139.8,308L138.8,308L137.9,308L137,308L136.1,308L135.3,308L134.4,308L133.5,308L132.7,308L131.9,308.1L131.1,308.1L130.1,308.1" fill="none" stroke="#dca828" stroke-width="1.15"/>
<path d="M157.6,313.7L156.3,313.5L155.6,313.4L154.9,313.4L153.6,313.2L152.7,313.1L151.9,313.1L151.2,313L150,312.9L148.9,312.8L148.1,312.8L147.3,312.7L146.5,312.7L145.7,312.6L144.6,312.6L143.6,312.6L142.6,312.5L141.7,312.5L140.7,312.5L139.8,312.5L138.9,312.5L138,312.5L137.1,312.5L136.3,312.5L135.4,312.6L134.6,312.6L133.7,312.6L132.7,312.7L131.6,312.8L130.6,312.8L129.8,312.9L129.1,313L128.1,313L126.9,313.2L126.2,313.3L125.4,313.3L124.1,313.5L123.4,313.6L122.6,313.7L121.4,313.9L120.8,314L119.5,314.3L118.9,314.4L117.7,314.6L117.1,314.8L115.9,315L114.8,315.3L114.2,315.5L113.1,315.8L112,316.1L111,316.4L110,316.8L109,317.1L108,317.5L107.1,317.9L106.2,318.3L105.3,318.7L104.5,319.1L104,319.4L103.2,319.8L102.5,320.3L102.1,320.5L101.4,321L101,321.3L100.3,321.8L100,322L99.4,322.5L99.1,322.8L98.7,323.2L98.2,323.7L97.9,324L97.7,324.3L97.3,324.8L97,325.2L96.8,325.6L96.6,325.9L96.3,326.3L96.1,326.7L95.9,327.2L95.7,327.6L95.6,328L95.5,328.4L95.4,328.8L95.3,329.2L95.3,329.6L95.2,330L95.2,330.4L95.2,330.8L95.2,331.2L95.2,331.6L95.3,332L95.3,332.4L95.4,332.7L95.5,333.2L95.7,333.7L95.8,334.1L96,334.5L96.1,334.8L96.3,335.3L96.6,335.8L96.8,336.1L97,336.5L97.4,337.1L97.6,337.4L97.9,337.8L98.3,338.3L98.6,338.6L99.1,339.2L99.4,339.5L100,340.1L100.3,340.4L100.9,341L101.2,341.3L101.9,341.8L102.2,342.1L102.9,342.6L103.6,343.1L104,343.5L104.8,344L105.6,344.5L106,344.8L106.9,345.3L107.7,345.8L108.6,346.3L109.5,346.8L110,347L111,347.5L111.9,348L112.9,348.4L114,348.9L115,349.3L115.8,349.6L116.6,350L117.8,350.4L118.9,350.8L120.1,351.2L121.1,351.6L121.9,351.8L123.1,352.2L124.3,352.6L125,352.8L126.3,353.2L127.3,353.4L128.3,353.7L129.6,354L130.3,354.2L131.7,354.5L132.4,354.7L133.9,355L134.6,355.1L135.8,355.4L136.9,355.6L137.6,355.7L139.2,356L140,356.1L141,356.3L142.4,356.5L143.2,356.6L144.1,356.7L145.6,356.9L146.7,357L147.5,357.1L148.4,357.2L149.8,357.3L151.1,357.4L152.1,357.5L153,357.5L154,357.6L154.9,357.6L156.1,357.7L157.2,357.7L158.4,357.8L159.5,357.8L160.6,357.8L161.7,357.8L162.7,357.8L163.8,357.8L164.8,357.7L165.8,357.7L166.8,357.7L167.9,357.6L169.1,357.6L170.4,357.5L171.5,357.4L171.7,357.4" fill="none" stroke="#d98228" stroke-width="1.15"/>
<path d="M205.7,341L205.8,340.6L205.8,340.2L205.8,339.9L205.8,339.5L205.8,339L205.8,338.6L205.7,338.1L205.6,337.7L205.5,337.2L205.4,336.8L205.3,336.4L205.1,336L205,335.6L204.8,335.2L204.6,334.7L204.3,334.3L204,333.8L203.8,333.4L203.5,333L203.3,332.7L202.9,332.2L202.5,331.7L202.2,331.4L201.9,331.1L201.4,330.6L201,330.1L200.8,330" fill="none" stroke="#d98228" stroke-width="1.15"/>
<path d="M121.8,322L121,322.3L120.3,322.6L119.4,323L118.6,323.4L117.8,323.9L117.4,324.1L116.6,324.6L116.2,324.9L115.6,325.4L115.3,325.7L114.7,326.2L114.5,326.5L114.1,326.9L113.7,327.4L113.5,327.8L113.3,328.1L113.1,328.4L112.9,328.9L112.8,329.4L112.7,329.8L112.6,330.2L112.5,330.6L112.5,331L112.5,331.4L112.5,331.8L112.6,332.2L112.7,332.5L112.8,332.9L112.9,333.4L113.1,333.9L113.3,334.3L113.5,334.6L113.7,335L114.1,335.6L114.3,335.9L114.6,336.3L115.1,336.8L115.4,337.1L116,337.7L116.3,338L116.9,338.6L117.3,338.8L118,339.4L118.5,339.8L119.1,340.2L119.9,340.7L120.7,341.2L121.2,341.4L122.1,341.9L123,342.4L123.9,342.9L124.9,343.3L126,343.8L127,344.2L128.1,344.6L129.2,345L129.9,345.2L131,345.6L132.2,346L133.3,346.3L134.1,346.5L135.4,346.8L136.1,347L137.4,347.3L138.1,347.5L139.6,347.8L140.3,347.9L141.8,348.2L142.5,348.3L143.4,348.4L144.9,348.6L145.7,348.7L146.5,348.8L147.9,349L149.1,349.1L149.9,349.2L150.8,349.3L151.8,349.3L153,349.4L154.1,349.4L155.3,349.5L156.4,349.5L157.4,349.5L158.5,349.5L159.5,349.5L160.4,349.4L161.4,349.4L162.3,349.4L163.3,349.3L164.6,349.2L165.8,349.1L166.7,349L167.5,348.9L168.8,348.7L169.8,348.5L170.5,348.4L172,348.1L172.6,348L174,347.7L174.6,347.5L175.9,347.1L177,346.8L177.6,346.6L178.7,346.2L179.7,345.8L180.7,345.3L181.6,344.8L182.5,344.3L182.9,344.1L183.6,343.6L184.3,343L184.7,342.7L185.3,342.2L185.6,341.9L186.1,341.3L186.3,341L186.7,340.4L186.9,340L187.1,339.6L187.2,339.2L187.4,338.7L187.5,338.2L187.6,337.8L187.6,337.5L187.6,337.1L187.6,336.7L187.5,336.2L187.5,335.8L187.3,335.4L187.2,334.9L187,334.5L186.8,334L186.6,333.6L186.3,333.2L186.1,332.9L185.9,332.5L185.4,331.9L185.1,331.6L184.8,331.2L184.3,330.8L183.9,330.3L183.6,330L182.9,329.5L182.5,329.2L181.8,328.7L181.4,328.4L180.6,327.9L180.2,327.6L179.4,327.1L178.7,326.7L178.2,326.4L177.3,326L176.4,325.5L175.4,325.1L175,324.9L174,324.5L173,324.1L172,323.7L171,323.3L169.9,323L169.4,322.8L168.3,322.5L167.1,322.1L166,321.8L165.4,321.7L164.2,321.4L163.1,321.1L162.4,320.9L161.1,320.7L160.5,320.5L159.2,320.3L158.5,320.2L157.4,320L156.5,319.9L155.8,319.7L154.4,319.6L153.7,319.5L152.9,319.4L151.7,319.3L150.7,319.2L149.9,319.1L149.1,319L148.2,319L147.1,318.9L146.1,318.9L145,318.8L144,318.8L143.1,318.8L142.2,318.8L141.2,318.8L140.4,318.8L139.5,318.9L138.6,318.9L137.8,319L136.9,319L135.8,319.1L134.7,319.2L133.9,319.3L133.2,319.4L131.8,319.5L131.1,319.6L130.2,319.8L129.1,320L128.5,320.1L127.3,320.4L126.2,320.6L125.5,320.8L124.4,321.1L123.3,321.5L122.3,321.8L121.8,322" fill="none" stroke="#d24428" stroke-width="1.15"/>
<g fill="#111"><rect x="54.5" y="308.3" width="1.6" height="1.6"/><rect x="53.9" y="296.4" width="1.6" height="1.6"/><rect x="53.4" y="284.4" width="1.6" height="1.6"/><rect x="52.9" y="272.5" width="1.6" height="1.6"/><rect x="52.3" y="260.5" width="1.6" height="1.6"/><rect x="51.8" y="248.6" width="1.6" height="1.6"/><rect x="51.2" y="236.6" width="1.6" height="1.6"/><rect x="50.7" y="224.7" width="1.6" height="1.6"/><rect x="135.7" y="373.3" width="1.6" height="1.6"/><rect x="135.7" y="373.3" width="1.6" height="1.6"/><rect x="115.7" y="363.8" width="1.6" height="1.6"/><rect x="155.7" y="363.8" width="1.6" height="1.6"/><rect x="95.7" y="354.2" width="1.6" height="1.6"/><rect x="175.7" y="354.2" width="1.6" height="1.6"/><rect x="75.7" y="344.7" width="1.6" height="1.6"/><rect x="195.7" y="344.6" width="1.6" height="1.6"/><rect x="55.7" y="335.2" width="1.6" height="1.6"/><rect x="215.7" y="335.1" width="1.6" height="1.6"/></g>
<g font-family="'Liberation Sans', sans-serif" font-size="4.7" fill="#444"><text x="52.7" y="309.3" text-anchor="end">86</text><text x="52.1" y="297.4" text-anchor="end">88</text><text x="51.6" y="285.4" text-anchor="end">90</text><text x="51.1" y="273.5" text-anchor="end">92</text><text x="50.5" y="261.5" text-anchor="end">94</text><text x="50" y="249.6" text-anchor="end">96</text><text x="49.4" y="237.6" text-anchor="end">98</text><text x="48.9" y="225.7" text-anchor="end">100</text><text x="132.2" y="378.7" text-anchor="middle">60</text><text x="112.2" y="369.2" text-anchor="middle">65</text><text x="92.2" y="359.7" text-anchor="middle">70</text><text x="72.2" y="350.1" text-anchor="middle">75</text><text x="52.2" y="340.6" text-anchor="middle">80</text><text x="138.9" y="379.1">4</text><text x="158.9" y="369.6">5</text><text x="178.9" y="360">6</text><text x="198.9" y="350.4">7</text><text x="218.9" y="340.9">8</text></g>
<g stroke-width="0.4" stroke-linejoin="round"><path d="M136.7,224.9L132.9,225.7L136.7,225.8L140.4,225.1Z" fill="#f1be27" stroke="#7d6314"/><path d="M140.5,224.3L136.7,224.9L140.4,225.1L144.3,224.5Z" fill="#f0ae27" stroke="#7d5b14"/><path d="M132.9,225L129.1,225.7L132.9,225.7L136.7,224.9Z" fill="#f2b028" stroke="#7e5c15"/><path d="M144.4,223.9L140.5,224.3L144.3,224.5L148.1,224.1Z" fill="#f0a027" stroke="#7d5314"/><path d="M136.7,224.4L132.9,225L136.7,224.9L140.5,224.3Z" fill="#f2a128" stroke="#7e5415"/><path d="M129,225.1L125.3,225.9L129.1,225.7L132.9,225Z" fill="#f4a528" stroke="#7f5615"/><path d="M148.3,223.7L144.4,223.9L148.1,224.1L152,223.8Z" fill="#f09427" stroke="#7d4d14"/><path d="M140.6,224L136.7,224.4L140.5,224.3L144.4,223.9Z" fill="#f29328" stroke="#7e4c15"/><path d="M132.8,224.6L129,225.1L132.9,225L136.7,224.4Z" fill="#f49528" stroke="#7f4e15"/><path d="M125.1,225.5L121.4,226.2L125.3,225.9L129,225.1Z" fill="#f59c2a" stroke="#7f5116"/><path d="M152.3,223.6L148.3,223.7L152,223.8L156,223.7Z" fill="#ef8827" stroke="#7c4714"/><path d="M144.5,223.7L140.6,224L144.4,223.9L148.3,223.7Z" fill="#f18527" stroke="#7d4515"/><path d="M136.7,224.2L132.8,224.6L136.7,224.4L140.6,224Z" fill="#f38628" stroke="#7e4515"/><path d="M128.9,224.9L125.1,225.5L129,225.1L132.8,224.6Z" fill="#f48b2a" stroke="#7f4816"/><path d="M121.2,226L117.4,226.8L121.4,226.2L125.1,225.5Z" fill="#f5952f" stroke="#7f4e18"/><path d="M156.3,223.7L152.3,223.6L156,223.7L160,223.8Z" fill="#ee7d27" stroke="#7c4114"/><path d="M148.5,223.7L144.5,223.7L148.3,223.7L152.3,223.6Z" fill="#f07827" stroke="#7d3f15"/><path d="M140.6,223.9L136.7,224.2L140.6,224L144.5,223.7Z" fill="#f27828" stroke="#7e3e15"/><path d="M132.8,224.5L128.9,224.9L132.8,224.6L136.7,224.2Z" fill="#f37b29" stroke="#7f4016"/><path d="M125,225.4L121.2,226L125.1,225.5L128.9,224.9Z" fill="#f4852e" stroke="#7f4518"/><path d="M117.2,226.7L113.4,227.4L117.4,226.8L121.2,226Z" fill="#f59133" stroke="#7f4c1a"/><path d="M160.3,224L156.3,223.7L160,223.8L164.1,224.1Z" fill="#ed7527" stroke="#7b3d14"/><path d="M152.5,223.8L148.5,223.7L152.3,223.6L156.3,223.7Z" fill="#ef6e27" stroke="#7c3914"/><path d="M144.6,223.9L140.6,223.9L144.5,223.7L148.5,223.7Z" fill="#f16b28" stroke="#7d3815"/><path d="M136.7,224.3L132.8,224.5L136.7,224.2L140.6,223.9Z" fill="#f36d29" stroke="#7e3915"/><path d="M128.9,225L125,225.4L128.9,224.9L132.8,224.5Z" fill="#f3752e" stroke="#7e3d18"/><path d="M121,226.1L117.2,226.7L121.2,226L125,225.4Z" fill="#f48133" stroke="#7f431a"/><path d="M113.1,227.6L109.4,228.3L113.4,227.4L117.2,226.7Z" fill="#f59037" stroke="#7f4b1d"/><path d="M164.4,224.5L160.3,224L164.1,224.1L168.2,224.6Z" fill="#ed6d27" stroke="#7b3914"/><path d="M156.5,224.1L152.5,223.8L156.3,223.7L160.3,224Z" fill="#ee6527" stroke="#7c3514"/><path d="M148.6,224L144.6,223.9L148.5,223.7L152.5,223.8Z" fill="#f06128" stroke="#7d3215"/><path d="M140.7,224.2L136.7,224.3L140.6,223.9L144.6,223.9Z" fill="#f26028" stroke="#7e3215"/><path d="M132.8,224.8L128.9,225L132.8,224.5L136.7,224.3Z" fill="#f2672e" stroke="#7e3618"/><path d="M124.9,225.7L121,226.1L125,225.4L128.9,225Z" fill="#f37232" stroke="#7e3b1a"/><path d="M116.9,227L113.1,227.6L117.2,226.7L121,226.1Z" fill="#f47f37" stroke="#7f421d"/><path d="M109.1,228.6L105.3,229.3L109.4,228.3L113.1,227.6Z" fill="#f5903c" stroke="#7f4b1f"/><path d="M168.6,225.1L164.4,224.5L168.2,224.6L172.3,225.2Z" fill="#ec6827" stroke="#7b3614"/><path d="M160.7,224.5L156.5,224.1L160.3,224L164.4,224.5Z" fill="#ed5e27" stroke="#7b3114"/><path d="M152.7,224.3L148.6,224L152.5,223.8L156.5,224.1Z" fill="#ef5728" stroke="#7c2d15"/><path d="M144.7,224.4L140.7,224.2L144.6,223.9L148.6,224Z" fill="#f15528" stroke="#7d2c15"/><path d="M136.7,224.8L132.8,224.8L136.7,224.3L140.7,224.2Z" fill="#f25a2d" stroke="#7e2f17"/><path d="M128.8,225.5L124.9,225.7L128.9,225L132.8,224.8Z" fill="#f26432" stroke="#7e341a"/><path d="M120.8,226.6L116.9,227L121,226.1L124.9,225.7Z" fill="#f37137" stroke="#7e3b1d"/><path d="M112.9,228L109.1,228.6L113.1,227.6L116.9,227Z" fill="#f4803b" stroke="#7f431f"/><path d="M104.9,229.8L101.2,230.5L105.3,229.3L109.1,228.6Z" fill="#f59340" stroke="#804c21"/><path d="M172.8,226L168.6,225.1L172.3,225.2L176.5,226Z" fill="#eb6427" stroke="#7a3414"/><path d="M164.8,225.2L160.7,224.5L164.4,224.5L168.6,225.1Z" fill="#ed5827" stroke="#7b2e14"/><path d="M156.8,224.8L152.7,224.3L156.5,224.1L160.7,224.5Z" fill="#ef5028" stroke="#7c2915"/><path d="M148.8,224.7L144.7,224.4L148.6,224L152.7,224.3Z" fill="#f04b28" stroke="#7d2715"/><path d="M140.8,224.9L136.7,224.8L140.7,224.2L144.7,224.4Z" fill="#f14f2c" stroke="#7d2917"/><path d="M132.7,225.5L128.8,225.5L132.8,224.8L136.7,224.8Z" fill="#f25732" stroke="#7e2d1a"/><path d="M124.7,226.4L120.8,226.6L124.9,225.7L128.8,225.5Z" fill="#f26337" stroke="#7e331c"/><path d="M116.7,227.7L112.9,228L116.9,227L120.8,226.6Z" fill="#f3723b" stroke="#7e3b1f"/><path d="M108.7,229.3L104.9,229.8L109.1,228.6L112.9,228Z" fill="#f48440" stroke="#7f4421"/><path d="M100.7,231.2L97,231.9L101.2,230.5L104.9,229.8Z" fill="#f69844" stroke="#804f23"/><path d="M177.1,227L172.8,226L176.5,226L180.8,227.1Z" fill="#eb6227" stroke="#7a3314"/><path d="M169,226L164.8,225.2L168.6,225.1L172.8,226Z" fill="#ec5427" stroke="#7b2c14"/><path d="M161,225.4L156.8,224.8L160.7,224.5L164.8,225.2Z" fill="#ee4a28" stroke="#7c2615"/><path d="M152.9,225.2L148.8,224.7L152.7,224.3L156.8,224.8Z" fill="#f04428" stroke="#7d2315"/><path d="M144.8,225.2L140.8,224.9L144.7,224.4L148.8,224.7Z" fill="#f1452c" stroke="#7d2417"/><path d="M136.8,225.6L132.7,225.5L136.7,224.8L140.8,224.9Z" fill="#f14c31" stroke="#7d2719"/><path d="M128.7,226.4L124.7,226.4L128.8,225.5L132.7,225.5Z" fill="#f25636" stroke="#7e2d1c"/><path d="M120.6,227.5L116.7,227.7L120.8,226.6L124.7,226.4Z" fill="#f3643b" stroke="#7e341f"/><path d="M112.6,228.9L108.7,229.3L112.9,228L116.7,227.7Z" fill="#f3763f" stroke="#7f3d21"/><path d="M104.5,230.7L100.7,231.2L104.9,229.8L108.7,229.3Z" fill="#f58944" stroke="#7f4723"/><path d="M96.5,232.8L92.8,233.5L97,231.9L100.7,231.2Z" fill="#f69f48" stroke="#805325"/><path d="M181.4,228.2L177.1,227L180.8,227.1L185.1,228.3Z" fill="#ea6227" stroke="#7a3314"/><path d="M173.3,227.1L169,226L172.8,226L177.1,227Z" fill="#ec5227" stroke="#7b2b14"/><path d="M165.2,226.3L161,225.4L164.8,225.2L169,226Z" fill="#ed4627" stroke="#7b2415"/><path d="M157.1,225.8L152.9,225.2L156.8,224.8L161,225.4Z" fill="#ef3e28" stroke="#7c2015"/><path d="M148.9,225.7L144.8,225.2L148.8,224.7L152.9,225.2Z" fill="#f03d2b" stroke="#7d2016"/><path d="M140.8,226L136.8,225.6L140.8,224.9L144.8,225.2Z" fill="#f14230" stroke="#7d2219"/><path d="M132.7,226.5L128.7,226.4L132.7,225.5L136.8,225.6Z" fill="#f14b35" stroke="#7d271c"/><path d="M124.6,227.5L120.6,227.5L124.7,226.4L128.7,226.4Z" fill="#f2583a" stroke="#7e2e1e"/><path d="M116.5,228.7L112.6,228.9L116.7,227.7L120.6,227.5Z" fill="#f3693f" stroke="#7e3621"/><path d="M108.4,230.3L104.5,230.7L108.7,229.3L112.6,228.9Z" fill="#f47c44" stroke="#7f4023"/><path d="M100.3,232.3L96.5,232.8L100.7,231.2L104.5,230.7Z" fill="#f59048" stroke="#804b25"/><path d="M92.2,234.5L88.5,235.2L92.8,233.5L96.5,232.8Z" fill="#f7a84b" stroke="#805727"/><path d="M185.7,229.6L181.4,228.2L185.1,228.3L189.4,229.7Z" fill="#ea6327" stroke="#7a3414"/><path d="M177.6,228.3L173.3,227.1L177.1,227L181.4,228.2Z" fill="#eb5227" stroke="#7a2b14"/><path d="M169.5,227.3L165.2,226.3L169,226L173.3,227.1Z" fill="#ed4427" stroke="#7b2314"/><path d="M161.3,226.7L157.1,225.8L161,225.4L165.2,226.3Z" fill="#ef3a28" stroke="#7c1e15"/><path d="M153.1,226.4L148.9,225.7L152.9,225.2L157.1,225.8Z" fill="#f03729" stroke="#7d1d15"/><path d="M144.9,226.5L140.8,226L144.8,225.2L148.9,225.7Z" fill="#f03b2e" stroke="#7d1f18"/><path d="M136.8,226.9L132.7,226.5L136.8,225.6L140.8,226Z" fill="#f14234" stroke="#7d221b"/><path d="M128.6,227.6L124.6,227.5L128.7,226.4L132.7,226.5Z" fill="#f24e3a" stroke="#7e281e"/><path d="M120.4,228.7L116.5,228.7L120.6,227.5L124.6,227.5Z" fill="#f25d3f" stroke="#7e3021"/><path d="M112.3,230.1L108.4,230.3L112.6,228.9L116.5,228.7Z" fill="#f36f43" stroke="#7e3a23"/><path d="M104.1,231.9L100.3,232.3L104.5,230.7L108.4,230.3Z" fill="#f48348" stroke="#7f4425"/><path d="M96,234L92.2,234.5L96.5,232.8L100.3,232.3Z" fill="#f6994b" stroke="#805027"/><path d="M87.9,236.5L84.2,237.1L88.5,235.2L92.2,234.5Z" fill="#f7b14f" stroke="#805c29"/><path d="M190.1,231.3L185.7,229.6L189.4,229.7L193.8,231.3Z" fill="#e96627" stroke="#793514"/><path d="M182,229.8L177.6,228.3L181.4,228.2L185.7,229.6Z" fill="#eb5327" stroke="#7a2b14"/><path d="M173.8,228.6L169.5,227.3L173.3,227.1L177.6,228.3Z" fill="#ec4427" stroke="#7b2314"/><path d="M165.6,227.8L161.3,226.7L165.2,226.3L169.5,227.3Z" fill="#ee3828" stroke="#7c1d15"/><path d="M157.3,227.3L153.1,226.4L157.1,225.8L161.3,226.7Z" fill="#ef3327" stroke="#7c1b14"/><path d="M149.1,227.2L144.9,226.5L148.9,225.7L153.1,226.4Z" fill="#ef362c" stroke="#7d1c17"/><path d="M140.9,227.4L136.8,226.9L140.8,226L144.9,226.5Z" fill="#f03d32" stroke="#7d1f1a"/><path d="M132.7,228L128.6,227.6L132.7,226.5L136.8,226.9Z" fill="#f14538" stroke="#7d241d"/><path d="M124.4,228.9L120.4,228.7L124.6,227.5L128.6,227.6Z" fill="#f2523e" stroke="#7e2b20"/><path d="M116.2,230.2L112.3,230.1L116.5,228.7L120.4,228.7Z" fill="#f36343" stroke="#7e3423"/><path d="M108,231.8L104.1,231.9L108.4,230.3L112.3,230.1Z" fill="#f47747" stroke="#7f3e25"/><path d="M99.8,233.7L96,234L100.3,232.3L104.1,231.9Z" fill="#f58c4b" stroke="#7f4927"/><path d="M91.7,236L87.9,236.5L92.2,234.5L96,234Z" fill="#f7a44f" stroke="#805529"/><path d="M83.5,238.6L79.9,239.3L84.2,237.1L87.9,236.5Z" fill="#f7bc53" stroke="#80622b"/><path d="M194.6,233.1L190.1,231.3L193.8,231.3L198.3,233.1Z" fill="#e96b26" stroke="#793814"/><path d="M186.4,231.4L182,229.8L185.7,229.6L190.1,231.3Z" fill="#ea5727" stroke="#7a2d14"/><path d="M178.1,230.1L173.8,228.6L177.6,228.3L182,229.8Z" fill="#ec4527" stroke="#7b2414"/><path d="M169.9,229L165.6,227.8L169.5,227.3L173.8,228.6Z" fill="#ee3828" stroke="#7c1d15"/><path d="M161.6,228.4L157.3,227.3L161.3,226.7L165.6,227.8Z" fill="#ef3226" stroke="#7c1a14"/><path d="M153.3,228.1L149.1,227.2L153.1,226.4L157.3,227.3Z" fill="#ef332a" stroke="#7c1a16"/><path d="M145.1,228.1L140.9,227.4L144.9,226.5L149.1,227.2Z" fill="#ef382f" stroke="#7c1d19"/><path d="M136.8,228.5L132.7,228L136.8,226.9L140.9,227.4Z" fill="#f04036" stroke="#7d211c"/><path d="M128.5,229.3L124.4,228.9L128.6,227.6L132.7,228Z" fill="#f14a3d" stroke="#7d2620"/><path d="M120.2,230.4L116.2,230.2L120.4,228.7L124.4,228.9Z" fill="#f25942" stroke="#7e2e22"/><path d="M112,231.8L108,231.8L112.3,230.1L116.2,230.2Z" fill="#f36c47" stroke="#7e3825"/><path d="M103.7,233.6L99.8,233.7L104.1,231.9L108,231.8Z" fill="#f4814b" stroke="#7f4327"/><path d="M95.5,235.7L91.7,236L96,234L99.8,233.7Z" fill="#f6974f" stroke="#804f29"/><path d="M87.3,238.1L83.5,238.6L87.9,236.5L91.7,236Z" fill="#f7b053" stroke="#805b2b"/><path d="M79.1,240.9L75.5,241.6L79.9,239.3L83.5,238.6Z" fill="#f7c856" stroke="#81682d"/><path d="M199,235.1L194.6,233.1L198.3,233.1L202.7,235.1Z" fill="#e97126" stroke="#793b14"/><path d="M190.8,233.2L186.4,231.4L190.1,231.3L194.6,233.1Z" fill="#ea5c27" stroke="#7a3014"/><path d="M182.5,231.7L178.1,230.1L182,229.8L186.4,231.4Z" fill="#eb4927" stroke="#7a2614"/><path d="M174.2,230.5L169.9,229L173.8,228.6L178.1,230.1Z" fill="#ed3a27" stroke="#7b1e15"/><path d="M165.9,229.7L161.6,228.4L165.6,227.8L169.9,229Z" fill="#ee3126" stroke="#7c1a14"/><path d="M157.6,229.2L153.3,228.1L157.3,227.3L161.6,228.4Z" fill="#ef3028" stroke="#7c1915"/><path d="M149.3,229.1L145.1,228.1L149.1,227.2L153.3,228.1Z" fill="#ef342d" stroke="#7c1b17"/><path d="M140.9,229.3L136.8,228.5L140.9,227.4L145.1,228.1Z" fill="#ef3b33" stroke="#7d1f1b"/><path d="M132.6,229.8L128.5,229.3L132.7,228L136.8,228.5Z" fill="#f1443a" stroke="#7d241e"/><path d="M124.3,230.7L120.2,230.4L124.4,228.9L128.5,229.3Z" fill="#f25042" stroke="#7e2a22"/><path d="M116,232L112,231.8L116.2,230.2L120.2,230.4Z" fill="#f36246" stroke="#7e3325"/><path d="M107.7,233.6L103.7,233.6L108,231.8L112,231.8Z" fill="#f4764b" stroke="#7f3e27"/><path d="M99.4,235.6L95.5,235.7L99.8,233.7L103.7,233.6Z" fill="#f58c4f" stroke="#7f4929"/><path d="M91.1,237.9L87.3,238.1L91.7,236L95.5,235.7Z" fill="#f7a453" stroke="#80552b"/><path d="M82.9,240.5L79.1,240.9L83.5,238.6L87.3,238.1Z" fill="#f7bc56" stroke="#81622d"/><path d="M74.7,243.5L71,244.1L75.5,241.6L79.1,240.9Z" fill="#f7d459" stroke="#806e2e"/><path d="M203.6,237.4L199,235.1L202.7,235.1L207.2,237.4Z" fill="#e97926" stroke="#793f14"/><path d="M195.3,235.3L190.8,233.2L194.6,233.1L199,235.1Z" fill="#ea6327" stroke="#7a3314"/><path d="M187,233.6L182.5,231.7L186.4,231.4L190.8,233.2Z" fill="#eb4e27" stroke="#7a2914"/><path d="M178.7,232.2L174.2,230.5L178.1,230.1L182.5,231.7Z" fill="#ed3d27" stroke="#7b2014"/><path d="M170.3,231.2L165.9,229.7L169.9,229L174.2,230.5Z" fill="#ee3326" stroke="#7c1a14"/><path d="M161.9,230.5L157.6,229.2L161.6,228.4L165.9,229.7Z" fill="#ef2f26" stroke="#7c1914"/><path d="M153.6,230.2L149.3,229.1L153.3,228.1L157.6,229.2Z" fill="#ef322b" stroke="#7c1a16"/><path d="M145.2,230.2L140.9,229.3L145.1,228.1L149.3,229.1Z" fill="#ef3831" stroke="#7c1d1a"/><path d="M136.8,230.6L132.6,229.8L136.8,228.5L140.9,229.3Z" fill="#f04038" stroke="#7d211d"/><path d="M128.4,231.3L124.3,230.7L128.5,229.3L132.6,229.8Z" fill="#f14b3f" stroke="#7d2721"/><path d="M120,232.4L116,232L120.2,230.4L124.3,230.7Z" fill="#f25a46" stroke="#7e2f24"/><path d="M111.7,233.8L107.7,233.6L112,231.8L116,232Z" fill="#f36d4a" stroke="#7f3927"/><path d="M103.3,235.6L99.4,235.6L103.7,233.6L107.7,233.6Z" fill="#f4824e" stroke="#7f4429"/><path d="M95,237.8L91.1,237.9L95.5,235.7L99.4,235.6Z" fill="#f69952" stroke="#80502b"/><path d="M86.7,240.2L82.9,240.5L87.3,238.1L91.1,237.9Z" fill="#f7b156" stroke="#815c2d"/><path d="M78.4,243L74.7,243.5L79.1,240.9L82.9,240.5Z" fill="#f7ca59" stroke="#81692e"/><path d="M70.2,246.2L66.5,246.8L71,244.1L74.7,243.5Z" fill="#f6e05c" stroke="#807430"/><path d="M208.1,239.8L203.6,237.4L207.2,237.4L211.8,239.8Z" fill="#e98326" stroke="#794414"/><path d="M199.8,237.6L195.3,235.3L199,235.1L203.6,237.4Z" fill="#ea6b26" stroke="#793714"/><path d="M191.5,235.7L187,233.6L190.8,233.2L195.3,235.3Z" fill="#eb5527" stroke="#7a2c14"/><path d="M183.1,234.1L178.7,232.2L182.5,231.7L187,233.6Z" fill="#ec4327" stroke="#7b2314"/><path d="M174.7,232.9L170.3,231.2L174.2,230.5L178.7,232.2Z" fill="#ee3527" stroke="#7c1c14"/><path d="M166.3,232L161.9,230.5L165.9,229.7L170.3,231.2Z" fill="#ef2f25" stroke="#7c1813"/><path d="M157.9,231.5L153.6,230.2L157.6,229.2L161.9,230.5Z" fill="#ee312a" stroke="#7c1916"/><path d="M149.5,231.3L145.2,230.2L149.3,229.1L153.6,230.2Z" fill="#ef352f" stroke="#7c1c19"/><path d="M141,231.5L136.8,230.6L140.9,229.3L145.2,230.2Z" fill="#ef3d36" stroke="#7d201c"/><path d="M132.6,232.1L128.4,231.3L132.6,229.8L136.8,230.6Z" fill="#f1463d" stroke="#7d2520"/><path d="M124.1,233L120,232.4L124.3,230.7L128.4,231.3Z" fill="#f25345" stroke="#7e2b24"/><path d="M115.7,234.3L111.7,233.8L116,232L120,232.4Z" fill="#f36549" stroke="#7e3426"/><path d="M107.3,235.9L103.3,235.6L107.7,233.6L111.7,233.8Z" fill="#f4794e" stroke="#7f3f29"/><path d="M98.9,237.8L95,237.8L99.4,235.6L103.3,235.6Z" fill="#f58f52" stroke="#804b2b"/><path d="M90.5,240.1L86.7,240.2L91.1,237.9L95,237.8Z" fill="#f7a756" stroke="#80572d"/><path d="M82.2,242.8L78.4,243L82.9,240.5L86.7,240.2Z" fill="#f7bf59" stroke="#81642e"/><path d="M73.9,245.8L70.2,246.2L74.7,243.5L78.4,243Z" fill="#f7d75c" stroke="#807030"/><path d="M65.7,249.1L62,249.7L66.5,246.8L70.2,246.2Z" fill="#f4ec5f" stroke="#7f7b31"/><path d="M212.8,242.5L208.1,239.8L211.8,239.8L216.4,242.5Z" fill="#e98e26" stroke="#794a14"/><path d="M204.4,240.1L199.8,237.6L203.6,237.4L208.1,239.8Z" fill="#e97426" stroke="#793c14"/><path d="M196,238L191.5,235.7L195.3,235.3L199.8,237.6Z" fill="#ea5e27" stroke="#7a3114"/><path d="M187.6,236.2L183.1,234.1L187,233.6L191.5,235.7Z" fill="#ec4a27" stroke="#7b2614"/><path d="M179.2,234.8L174.7,232.9L178.7,232.2L183.1,234.1Z" fill="#ee3a28" stroke="#7c1e15"/><path d="M170.7,233.7L166.3,232L170.3,231.2L174.7,232.9Z" fill="#ef3125" stroke="#7c1913"/><path d="M162.3,233L157.9,231.5L161.9,230.5L166.3,232Z" fill="#ef3129" stroke="#7c1915"/><path d="M153.8,232.7L149.5,231.3L153.6,230.2L157.9,231.5Z" fill="#ef342e" stroke="#7c1b18"/><path d="M145.3,232.7L141,231.5L145.2,230.2L149.5,231.3Z" fill="#ef3a34" stroke="#7c1e1b"/><path d="M136.8,233.1L132.6,232.1L136.8,230.6L141,231.5Z" fill="#f0433b" stroke="#7d231f"/><path d="M128.3,233.8L124.1,233L128.4,231.3L132.6,232.1Z" fill="#f24e43" stroke="#7e2923"/><path d="M119.8,234.9L115.7,234.3L120,232.4L124.1,233Z" fill="#f35e49" stroke="#7e3126"/><path d="M111.3,236.3L107.3,235.9L111.7,233.8L115.7,234.3Z" fill="#f4714d" stroke="#7f3b28"/><path d="M102.9,238.1L98.9,237.8L103.3,235.6L107.3,235.9Z" fill="#f58751" stroke="#7f462a"/><path d="M94.5,240.3L90.5,240.1L95,237.8L98.9,237.8Z" fill="#f69e55" stroke="#80522c"/><path d="M86.1,242.7L82.2,242.8L86.7,240.2L90.5,240.1Z" fill="#f7b659" stroke="#815f2e"/><path d="M77.7,245.6L73.9,245.8L78.4,243L82.2,242.8Z" fill="#f7cf5c" stroke="#816b30"/><path d="M69.4,248.8L65.7,249.1L70.2,246.2L73.9,245.8Z" fill="#f5e45f" stroke="#807632"/><path d="M61.1,252.3L57.4,252.8L62,249.7L65.7,249.1Z" fill="#e9f060" stroke="#797d32"/><path d="M217.4,245.4L212.8,242.5L216.4,242.5L221,245.3Z" fill="#e89926" stroke="#795014"/><path d="M209,242.8L204.4,240.1L208.1,239.8L212.8,242.5Z" fill="#e97f26" stroke="#794214"/><path d="M200.6,240.5L196,238L199.8,237.6L204.4,240.1Z" fill="#ea6827" stroke="#7a3614"/><path d="M192.2,238.5L187.6,236.2L191.5,235.7L196,238Z" fill="#ec5327" stroke="#7b2b14"/><path d="M183.7,236.9L179.2,234.8L183.1,234.1L187.6,236.2Z" fill="#ed4127" stroke="#7b2215"/><path d="M175.2,235.7L170.7,233.7L174.7,232.9L179.2,234.8Z" fill="#ef3527" stroke="#7c1b14"/><path d="M166.7,234.8L162.3,233L166.3,232L170.7,233.7Z" fill="#ef3228" stroke="#7c1a15"/><path d="M158.2,234.2L153.8,232.7L157.9,231.5L162.3,233Z" fill="#ef342d" stroke="#7c1b17"/><path d="M149.6,234.1L145.3,232.7L149.5,231.3L153.8,232.7Z" fill="#ef3933" stroke="#7c1e1a"/><path d="M141.1,234.3L136.8,233.1L141,231.5L145.3,232.7Z" fill="#f04139" stroke="#7d221e"/><path d="M132.5,234.8L128.3,233.8L132.6,232.1L136.8,233.1Z" fill="#f14b41" stroke="#7d2722"/><path d="M124,235.7L119.8,234.9L124.1,233L128.3,233.8Z" fill="#f25848" stroke="#7e2e25"/><path d="M115.4,237L111.3,236.3L115.7,234.3L119.8,234.9Z" fill="#f36b4c" stroke="#7f3828"/><path d="M106.9,238.6L102.9,238.1L107.3,235.9L111.3,236.3Z" fill="#f48051" stroke="#7f422a"/><path d="M98.4,240.5L94.5,240.3L98.9,237.8L102.9,238.1Z" fill="#f69655" stroke="#804e2c"/><path d="M90,242.9L86.1,242.7L90.5,240.1L94.5,240.3Z" fill="#f7ae59" stroke="#815a2e"/><path d="M81.5,245.5L77.7,245.6L82.2,242.8L86.1,242.7Z" fill="#f7c55c" stroke="#816730"/><path d="M73.1,248.6L69.4,248.8L73.9,245.8L77.7,245.6Z" fill="#f6dc5f" stroke="#807232"/><path d="M64.8,251.9L61.1,252.3L65.7,249.1L69.4,248.8Z" fill="#f4f062" stroke="#7f7d33"/><path d="M56.4,255.6L52.8,256.1L57.4,252.8L61.1,252.3Z" fill="#d8f15f" stroke="#717d31"/><path d="M213.7,245.7L209,242.8L212.8,242.5L217.4,245.4Z" fill="#ea8c26" stroke="#794914"/><path d="M205.3,243.2L200.6,240.5L204.4,240.1L209,242.8Z" fill="#ea7327" stroke="#7a3c14"/><path d="M196.8,241L192.2,238.5L196,238L200.6,240.5Z" fill="#eb5e27" stroke="#7a3114"/><path d="M188.3,239.2L183.7,236.9L187.6,236.2L192.2,238.5Z" fill="#ed4a27" stroke="#7b2714"/><path d="M179.7,237.8L175.2,235.7L179.2,234.8L183.7,236.9Z" fill="#ef3b28" stroke="#7c1f15"/><path d="M171.2,236.7L166.7,234.8L170.7,233.7L175.2,235.7Z" fill="#ef3428" stroke="#7c1b15"/><path d="M162.6,236L158.2,234.2L162.3,233L166.7,234.8Z" fill="#ef352c" stroke="#7c1c17"/><path d="M154,235.6L149.6,234.1L153.8,232.7L158.2,234.2Z" fill="#ef3932" stroke="#7c1e1a"/><path d="M145.4,235.6L141.1,234.3L145.3,232.7L149.6,234.1Z" fill="#f04038" stroke="#7d211d"/><path d="M136.8,236L132.5,234.8L136.8,233.1L141.1,234.3Z" fill="#f1493f" stroke="#7d2621"/><path d="M128.2,236.7L124,235.7L128.3,233.8L132.5,234.8Z" fill="#f25446" stroke="#7e2c25"/><path d="M119.6,237.8L115.4,237L119.8,234.9L124,235.7Z" fill="#f3664b" stroke="#7e3527"/><path d="M111,239.2L106.9,238.6L111.3,236.3L115.4,237Z" fill="#f47950" stroke="#7f3f2a"/><path d="M102.5,241L98.4,240.5L102.9,238.1L106.9,238.6Z" fill="#f58f54" stroke="#804a2c"/><path d="M93.9,243.2L90,242.9L94.5,240.3L98.4,240.5Z" fill="#f7a658" stroke="#80562e"/><path d="M85.4,245.7L81.5,245.5L86.1,242.7L90,242.9Z" fill="#f7bd5c" stroke="#816230"/><path d="M77,248.5L73.1,248.6L77.7,245.6L81.5,245.5Z" fill="#f7d55f" stroke="#816f31"/><path d="M68.5,251.7L64.8,251.9L69.4,248.8L73.1,248.6Z" fill="#f5e962" stroke="#7f7933"/><path d="M60.1,255.3L56.4,255.6L61.1,252.3L64.8,251.9Z" fill="#e3f161" stroke="#767d32"/><path d="M209.9,246.1L205.3,243.2L209,242.8L213.7,245.7Z" fill="#ea8026" stroke="#7a4314"/><path d="M201.4,243.8L196.8,241L200.6,240.5L205.3,243.2Z" fill="#eb6927" stroke="#7a3714"/><path d="M192.9,241.8L188.3,239.2L192.2,238.5L196.8,241Z" fill="#ed5527" stroke="#7b2c14"/><path d="M184.3,240.2L179.7,237.8L183.7,236.9L188.3,239.2Z" fill="#ee4428" stroke="#7c2315"/><path d="M175.7,238.9L171.2,236.7L175.2,235.7L179.7,237.8Z" fill="#f03828" stroke="#7d1d15"/><path d="M167.1,238L162.6,236L166.7,234.8L171.2,236.7Z" fill="#f0372c" stroke="#7d1d17"/><path d="M158.4,237.4L154,235.6L158.2,234.2L162.6,236Z" fill="#ef3a31" stroke="#7d1e19"/><path d="M149.8,237.2L145.4,235.6L149.6,234.1L154,235.6Z" fill="#f04037" stroke="#7d211d"/><path d="M141.1,237.4L136.8,236L141.1,234.3L145.4,235.6Z" fill="#f1483e" stroke="#7d2520"/><path d="M132.5,238L128.2,236.7L132.5,234.8L136.8,236Z" fill="#f25245" stroke="#7e2b24"/><path d="M123.8,238.9L119.6,237.8L124,235.7L128.2,236.7Z" fill="#f3624a" stroke="#7e3327"/><path d="M115.2,240.1L111,239.2L115.4,237L119.6,237.8Z" fill="#f4744f" stroke="#7f3d29"/><path d="M106.6,241.7L102.5,241L106.9,238.6L111,239.2Z" fill="#f58953" stroke="#7f472b"/><path d="M98,243.7L93.9,243.2L98.4,240.5L102.5,241Z" fill="#f69f57" stroke="#80532d"/><path d="M89.4,246L85.4,245.7L90,242.9L93.9,243.2Z" fill="#f7b65b" stroke="#815f2f"/><path d="M80.8,248.7L77,248.5L81.5,245.5L85.4,245.7Z" fill="#f8ce5f" stroke="#816b31"/><path d="M72.3,251.8L68.5,251.7L73.1,248.6L77,248.5Z" fill="#f6e362" stroke="#807633"/><path d="M63.9,255.1L60.1,255.3L64.8,251.9L68.5,251.7Z" fill="#ecf163" stroke="#7b7d33"/><path d="M206.1,246.8L201.4,243.8L205.3,243.2L209.9,246.1Z" fill="#eb7727" stroke="#7a3e14"/><path d="M197.5,244.6L192.9,241.8L196.8,241L201.4,243.8Z" fill="#ed6227" stroke="#7b3314"/><path d="M188.9,242.8L184.3,240.2L188.3,239.2L192.9,241.8Z" fill="#ee4f28" stroke="#7c2915"/><path d="M180.3,241.3L175.7,238.9L179.7,237.8L184.3,240.2Z" fill="#f04128" stroke="#7d2215"/><path d="M171.6,240.2L167.1,238L171.2,236.7L175.7,238.9Z" fill="#f03b2c" stroke="#7d1e17"/><path d="M162.9,239.4L158.4,237.4L162.6,236L167.1,238Z" fill="#f03c31" stroke="#7d1f19"/><path d="M154.2,239.1L149.8,237.2L154,235.6L158.4,237.4Z" fill="#f04036" stroke="#7d221c"/><path d="M145.5,239.1L141.1,237.4L145.4,235.6L149.8,237.2Z" fill="#f1483d" stroke="#7d2520"/><path d="M136.8,239.4L132.5,238L136.8,236L141.1,237.4Z" fill="#f25144" stroke="#7e2a23"/><path d="M128.1,240.1L123.8,238.9L128.2,236.7L132.5,238Z" fill="#f35f49" stroke="#7e3226"/><path d="M119.4,241.2L115.2,240.1L119.6,237.8L123.8,238.9Z" fill="#f4714e" stroke="#7f3b28"/><path d="M110.7,242.6L106.6,241.7L111,239.2L115.2,240.1Z" fill="#f58552" stroke="#7f452b"/><path d="M102,244.4L98,243.7L102.5,241L106.6,241.7Z" fill="#f69a57" stroke="#80502d"/><path d="M93.4,246.6L89.4,246L93.9,243.2L98,243.7Z" fill="#f7b15b" stroke="#815c2f"/><path d="M84.8,249.1L80.8,248.7L85.4,245.7L89.4,246Z" fill="#f8c75e" stroke="#816831"/><path d="M76.2,252L72.3,251.8L77,248.5L80.8,248.7Z" fill="#f6dd61" stroke="#807333"/><path d="M67.7,255.2L63.9,255.1L68.5,251.7L72.3,251.8Z" fill="#f4f164" stroke="#7f7d34"/><path d="M202.2,247.6L197.5,244.6L201.4,243.8L206.1,246.8Z" fill="#ed6f27" stroke="#7b3a14"/><path d="M193.6,245.6L188.9,242.8L192.9,241.8L197.5,244.6Z" fill="#ee5c27" stroke="#7c3014"/><path d="M184.9,243.9L180.3,241.3L184.3,240.2L188.9,242.8Z" fill="#f04c28" stroke="#7d2715"/><path d="M176.2,242.6L171.6,240.2L175.7,238.9L180.3,241.3Z" fill="#f1422b" stroke="#7d2216"/><path d="M167.5,241.7L162.9,239.4L167.1,238L171.6,240.2Z" fill="#f14031" stroke="#7d2119"/><path d="M158.7,241.1L154.2,239.1L158.4,237.4L162.9,239.4Z" fill="#f14336" stroke="#7d231c"/><path d="M150,240.9L145.5,239.1L149.8,237.2L154.2,239.1Z" fill="#f1483c" stroke="#7d261f"/><path d="M141.2,241.1L136.8,239.4L141.1,237.4L145.5,239.1Z" fill="#f25142" stroke="#7e2a22"/><path d="M132.4,241.6L128.1,240.1L132.5,238L136.8,239.4Z" fill="#f35f48" stroke="#7e3125"/><path d="M123.7,242.5L119.4,241.2L123.8,238.9L128.1,240.1Z" fill="#f46f4d" stroke="#7f3a28"/><path d="M114.9,243.7L110.7,242.6L115.2,240.1L119.4,241.2Z" fill="#f48151" stroke="#7f432a"/><path d="M106.2,245.4L102,244.4L106.6,241.7L110.7,242.6Z" fill="#f69556" stroke="#804e2d"/><path d="M97.5,247.3L93.4,246.6L98,243.7L102,244.4Z" fill="#f7ab5a" stroke="#81592f"/><path d="M88.8,249.7L84.8,249.1L89.4,246L93.4,246.6Z" fill="#f7c25e" stroke="#816531"/><path d="M80.1,252.4L76.2,252L80.8,248.7L84.8,249.1Z" fill="#f7d861" stroke="#807032"/><path d="M71.5,255.4L67.7,255.2L72.3,251.8L76.2,252Z" fill="#f5eb64" stroke="#7f7a34"/><path d="M198.3,248.6L193.6,245.6L197.5,244.6L202.2,247.6Z" fill="#ee6a27" stroke="#7c3714"/><path d="M189.6,246.8L184.9,243.9L188.9,242.8L193.6,245.6Z" fill="#ef5928" stroke="#7c2e15"/><path d="M180.8,245.3L176.2,242.6L180.3,241.3L184.9,243.9Z" fill="#f14c29" stroke="#7d2715"/><path d="M172.1,244.1L167.5,241.7L171.6,240.2L176.2,242.6Z" fill="#f1472f" stroke="#7d2518"/><path d="M163.3,243.4L158.7,241.1L162.9,239.4L167.5,241.7Z" fill="#f14735" stroke="#7d251c"/><path d="M154.5,243L150,240.9L154.2,239.1L158.7,241.1Z" fill="#f14b3b" stroke="#7e271f"/><path d="M145.6,242.9L141.2,241.1L145.5,239.1L150,240.9Z" fill="#f25440" stroke="#7e2b22"/><path d="M136.8,243.3L132.4,241.6L136.8,239.4L141.2,241.1Z" fill="#f35f46" stroke="#7e3124"/><path d="M128,244L123.7,242.5L128.1,240.1L132.4,241.6Z" fill="#f36e4b" stroke="#7f3927"/><path d="M119.2,245L114.9,243.7L119.4,241.2L123.7,242.5Z" fill="#f47f50" stroke="#7f422a"/><path d="M110.4,246.5L106.2,245.4L110.7,242.6L114.9,243.7Z" fill="#f69255" stroke="#804c2c"/><path d="M101.6,248.3L97.5,247.3L102,244.4L106.2,245.4Z" fill="#f7a759" stroke="#80572e"/><path d="M92.9,250.5L88.8,249.7L93.4,246.6L97.5,247.3Z" fill="#f7bd5d" stroke="#816230"/><path d="M84.1,253L80.1,252.4L84.8,249.1L88.8,249.7Z" fill="#f8d360" stroke="#816e32"/><path d="M75.5,255.9L71.5,255.4L76.2,252L80.1,252.4Z" fill="#f5e664" stroke="#807834"/><path d="M194.3,249.8L189.6,246.8L193.6,245.6L198.3,248.6Z" fill="#ef6728" stroke="#7c3615"/><path d="M185.5,248.1L180.8,245.3L184.9,243.9L189.6,246.8Z" fill="#f15828" stroke="#7d2e15"/><path d="M176.7,246.8L172.1,244.1L176.2,242.6L180.8,245.3Z" fill="#f1502d" stroke="#7d2a17"/><path d="M167.9,245.8L163.3,243.4L167.5,241.7L172.1,244.1Z" fill="#f14e33" stroke="#7e291a"/><path d="M159,245.3L154.5,243L158.7,241.1L163.3,243.4Z" fill="#f25139" stroke="#7e2a1e"/><path d="M150.1,245L145.6,242.9L150,240.9L154.5,243Z" fill="#f2573f" stroke="#7e2d21"/><path d="M141.3,245.2L136.8,243.3L141.2,241.1L145.6,242.9Z" fill="#f36144" stroke="#7e3323"/><path d="M132.4,245.7L128,244L132.4,241.6L136.8,243.3Z" fill="#f36f4a" stroke="#7f3926"/><path d="M123.5,246.6L119.2,245L123.7,242.5L128,244Z" fill="#f47f4f" stroke="#7f4229"/><path d="M114.7,247.8L110.4,246.5L114.9,243.7L119.2,245Z" fill="#f59053" stroke="#804b2b"/><path d="M105.8,249.5L101.6,248.3L106.2,245.4L110.4,246.5Z" fill="#f7a458" stroke="#80562e"/><path d="M97,251.4L92.9,250.5L97.5,247.3L101.6,248.3Z" fill="#f7b95c" stroke="#816030"/><path d="M88.2,253.8L84.1,253L88.8,249.7L92.9,250.5Z" fill="#f8cf5f" stroke="#816c32"/><path d="M79.4,256.5L75.5,255.9L80.1,252.4L84.1,253Z" fill="#f6e263" stroke="#807633"/><path d="M190.2,251.2L185.5,248.1L189.6,246.8L194.3,249.8Z" fill="#f16728" stroke="#7d3515"/><path d="M181.4,249.7L176.7,246.8L180.8,245.3L185.5,248.1Z" fill="#f25c2b" stroke="#7e3016"/><path d="M172.5,248.6L167.9,245.8L172.1,244.1L176.7,246.8Z" fill="#f25831" stroke="#7e2e19"/><path d="M163.6,247.8L159,245.3L163.3,243.4L167.9,245.8Z" fill="#f25837" stroke="#7e2e1d"/><path d="M154.7,247.3L150.1,245L154.5,243L159,245.3Z" fill="#f25d3d" stroke="#7e3020"/><path d="M145.8,247.3L141.3,245.2L145.6,242.9L150.1,245Z" fill="#f36542" stroke="#7e3523"/><path d="M136.8,247.6L132.4,245.7L136.8,243.3L141.3,245.2Z" fill="#f37148" stroke="#7f3b25"/><path d="M127.9,248.3L123.5,246.6L128,244L132.4,245.7Z" fill="#f47f4d" stroke="#7f4228"/><path d="M119,249.4L114.7,247.8L119.2,245L123.5,246.6Z" fill="#f59052" stroke="#804b2b"/><path d="M110.1,250.8L105.8,249.5L110.4,246.5L114.7,247.8Z" fill="#f7a356" stroke="#80552d"/><path d="M101.2,252.6L97,251.4L101.6,248.3L105.8,249.5Z" fill="#f7b75b" stroke="#815f2f"/><path d="M92.3,254.8L88.2,253.8L92.9,250.5L97,251.4Z" fill="#f8cc5f" stroke="#816a31"/><path d="M83.5,257.3L79.4,256.5L84.1,253L88.2,253.8Z" fill="#f6df62" stroke="#807433"/><path d="M186.1,252.9L181.4,249.7L185.5,248.1L190.2,251.2Z" fill="#f26928" stroke="#7e3715"/><path d="M177.2,251.5L172.5,248.6L176.7,246.8L181.4,249.7Z" fill="#f2632f" stroke="#7e3318"/><path d="M168.2,250.5L163.6,247.8L167.9,245.8L172.5,248.6Z" fill="#f26135" stroke="#7e331b"/><path d="M159.3,249.9L154.7,247.3L159,245.3L163.6,247.8Z" fill="#f3643b" stroke="#7e341f"/><path d="M150.3,249.7L145.8,247.3L150.1,245L154.7,247.3Z" fill="#f36a40" stroke="#7e3722"/><path d="M141.3,249.8L136.8,247.6L141.3,245.2L145.8,247.3Z" fill="#f47546" stroke="#7f3d24"/><path d="M132.3,250.3L127.9,248.3L132.4,245.7L136.8,247.6Z" fill="#f4824b" stroke="#7f4327"/><path d="M123.4,251.2L119,249.4L123.5,246.6L127.9,248.3Z" fill="#f59150" stroke="#804b2a"/><path d="M114.4,252.4L110.1,250.8L114.7,247.8L119,249.4Z" fill="#f7a255" stroke="#80542c"/><path d="M105.4,254L101.2,252.6L105.8,249.5L110.1,250.8Z" fill="#f7b659" stroke="#815e2e"/><path d="M96.5,256L92.3,254.8L97,251.4L101.2,252.6Z" fill="#f7ca5d" stroke="#816931"/><path d="M87.6,258.4L83.5,257.3L88.2,253.8L92.3,254.8Z" fill="#f6dc61" stroke="#807332"/><path d="M181.9,254.7L177.2,251.5L181.4,249.7L186.1,252.9Z" fill="#f3702c" stroke="#7e3a17"/><path d="M172.9,253.5L168.2,250.5L172.5,248.6L177.2,251.5Z" fill="#f36c33" stroke="#7e381a"/><path d="M163.9,252.7L159.3,249.9L163.6,247.8L168.2,250.5Z" fill="#f36d39" stroke="#7e391d"/><path d="M154.9,252.2L150.3,249.7L154.7,247.3L159.3,249.9Z" fill="#f3723e" stroke="#7e3b20"/><path d="M145.9,252.2L141.3,249.8L145.8,247.3L150.3,249.7Z" fill="#f47a44" stroke="#7f3f23"/><path d="M136.8,252.5L132.3,250.3L136.8,247.6L141.3,249.8Z" fill="#f58549" stroke="#7f4526"/><path d="M127.8,253.2L123.4,251.2L127.9,248.3L132.3,250.3Z" fill="#f5934f" stroke="#804c29"/><path d="M118.8,254.2L114.4,252.4L119,249.4L123.4,251.2Z" fill="#f7a353" stroke="#80552b"/><path d="M109.7,255.7L105.4,254L110.1,250.8L114.4,252.4Z" fill="#f7b558" stroke="#815e2e"/><path d="M100.8,257.5L96.5,256L101.2,252.6L105.4,254Z" fill="#f7c85c" stroke="#816830"/><path d="M91.8,259.7L87.6,258.4L92.3,254.8L96.5,256Z" fill="#f7db60" stroke="#807232"/><path d="M177.7,256.7L172.9,253.5L177.2,251.5L181.9,254.7Z" fill="#f37830" stroke="#7f3f19"/><path d="M168.6,255.7L163.9,252.7L168.2,250.5L172.9,253.5Z" fill="#f37736" stroke="#7f3e1c"/><path d="M159.6,255.1L154.9,252.2L159.3,249.9L163.9,252.7Z" fill="#f47a3c" stroke="#7f3f1f"/><path d="M150.5,254.8L145.9,252.2L150.3,249.7L154.9,252.2Z" fill="#f48042" stroke="#7f4322"/><path d="M141.4,254.9L136.8,252.5L141.3,249.8L145.9,252.2Z" fill="#f58a47" stroke="#7f4825"/><path d="M132.3,255.4L127.8,253.2L132.3,250.3L136.8,252.5Z" fill="#f6974d" stroke="#804e28"/><path d="M123.2,256.3L118.8,254.2L123.4,251.2L127.8,253.2Z" fill="#f7a652" stroke="#80562a"/><path d="M114.1,257.5L109.7,255.7L114.4,252.4L118.8,254.2Z" fill="#f7b656" stroke="#815f2d"/><path d="M105.1,259.2L100.8,257.5L105.4,254L109.7,255.7Z" fill="#f7c85b" stroke="#81682f"/><path d="M96,261.2L91.8,259.7L96.5,256L100.8,257.5Z" fill="#f7da5f" stroke="#807131"/><path d="M173.4,259L168.6,255.7L172.9,253.5L177.7,256.7Z" fill="#f48334" stroke="#7f441b"/><path d="M164.3,258.1L159.6,255.1L163.9,252.7L168.6,255.7Z" fill="#f4843a" stroke="#7f451e"/><path d="M155.1,257.7L150.5,254.8L154.9,252.2L159.6,255.1Z" fill="#f58940" stroke="#7f4721"/><path d="M146,257.6L141.4,254.9L145.9,252.2L150.5,254.8Z" fill="#f59145" stroke="#7f4b24"/><path d="M136.8,257.9L132.3,255.4L136.8,252.5L141.4,254.9Z" fill="#f69c4b" stroke="#805127"/><path d="M127.7,258.6L123.2,256.3L127.8,253.2L132.3,255.4Z" fill="#f7aa50" stroke="#805829"/><path d="M118.5,259.6L114.1,257.5L118.8,254.2L123.2,256.3Z" fill="#f7b855" stroke="#80602c"/><path d="M109.4,261.1L105.1,259.2L109.7,255.7L114.1,257.5Z" fill="#f7c959" stroke="#81692e"/><path d="M100.3,262.9L96,261.2L100.8,257.5L105.1,259.2Z" fill="#f6da5d" stroke="#807131"/><path d="M169,261.4L164.3,258.1L168.6,255.7L173.4,259Z" fill="#f59038" stroke="#7f4b1d"/><path d="M159.8,260.8L155.1,257.7L159.6,255.1L164.3,258.1Z" fill="#f5933e" stroke="#7f4c20"/><path d="M150.6,260.5L146,257.6L150.5,254.8L155.1,257.7Z" fill="#f69943" stroke="#804f23"/><path d="M141.4,260.6L136.8,257.9L141.4,254.9L146,257.6Z" fill="#f6a249" stroke="#805426"/><path d="M132.2,261.1L127.7,258.6L132.3,255.4L136.8,257.9Z" fill="#f7ae4e" stroke="#805b28"/><path d="M123,261.9L118.5,259.6L123.2,256.3L127.7,258.6Z" fill="#f7bc53" stroke="#80622b"/><path d="M113.8,263.2L109.4,261.1L114.1,257.5L118.5,259.6Z" fill="#f7cc57" stroke="#816a2d"/><path d="M104.7,264.8L100.3,262.9L105.1,259.2L109.4,261.1Z" fill="#f6db5c" stroke="#807230"/><path d="M164.6,264.1L159.8,260.8L164.3,258.1L169,261.4Z" fill="#f69e3b" stroke="#80521f"/><path d="M155.4,263.6L150.6,260.5L155.1,257.7L159.8,260.8Z" fill="#f6a341" stroke="#805522"/><path d="M146.1,263.5L141.4,260.6L146,257.6L150.6,260.5Z" fill="#f6aa46" stroke="#805825"/><path d="M136.8,263.8L132.2,261.1L136.8,257.9L141.4,260.6Z" fill="#f7b44c" stroke="#805e27"/><path d="M127.6,264.5L123,261.9L127.7,258.6L132.2,261.1Z" fill="#f7c151" stroke="#80642a"/><path d="M118.3,265.5L113.8,263.2L118.5,259.6L123,261.9Z" fill="#f7cf56" stroke="#816c2c"/><path d="M109.1,267L104.7,264.8L109.4,261.1L113.8,263.2Z" fill="#f6dd5a" stroke="#80732f"/><path d="M160.1,267L155.4,263.6L159.8,260.8L164.6,264.1Z" fill="#f6ad3f" stroke="#805a21"/><path d="M150.8,266.7L146.1,263.5L150.6,260.5L155.4,263.6Z" fill="#f6b344" stroke="#805d23"/><path d="M141.5,266.8L136.8,263.8L141.4,260.6L146.1,263.5Z" fill="#f7bb4a" stroke="#806126"/><path d="M132.2,267.3L127.6,264.5L132.2,261.1L136.8,263.8Z" fill="#f7c74f" stroke="#806729"/><path d="M122.9,268.1L118.3,265.5L123,261.9L127.6,264.5Z" fill="#f7d354" stroke="#806e2b"/><path d="M113.6,269.4L109.1,267L113.8,263.2L118.3,265.5Z" fill="#f5df58" stroke="#80742e"/><path d="M155.6,270.1L150.8,266.7L155.4,263.6L160.1,267Z" fill="#f6bd42" stroke="#806222"/><path d="M146.2,270L141.5,266.8L146.1,263.5L150.8,266.7Z" fill="#f6c447" stroke="#806625"/><path d="M136.8,270.3L132.2,267.3L136.8,263.8L141.5,266.8Z" fill="#f7ce4c" stroke="#806b28"/><path d="M127.5,270.9L122.9,268.1L127.6,264.5L132.2,267.3Z" fill="#f6d851" stroke="#80702a"/><path d="M118.1,272L113.6,269.4L118.3,265.5L122.9,268.1Z" fill="#f5e356" stroke="#7f762d"/><path d="M151,273.5L146.2,270L150.8,266.7L155.6,270.1Z" fill="#f6ce45" stroke="#806b24"/><path d="M141.6,273.6L136.8,270.3L141.5,266.8L146.2,270Z" fill="#f6d54a" stroke="#806f27"/><path d="M132.1,274L127.5,270.9L132.2,267.3L136.8,270.3Z" fill="#f5dd4f" stroke="#7f7329"/><path d="M122.7,274.9L118.1,272L122.9,268.1L127.5,270.9Z" fill="#f4e854" stroke="#7f792c"/><path d="M146.3,277.1L141.6,273.6L146.2,270L151,273.5Z" fill="#f4dd48" stroke="#7f7325"/><path d="M136.8,277.3L132.1,274L136.8,270.3L141.6,273.6Z" fill="#f4e44d" stroke="#7f7728"/><path d="M127.4,278L122.7,274.9L127.5,270.9L132.1,274Z" fill="#f3ee52" stroke="#7e7c2b"/><path d="M141.6,280.9L136.8,277.3L141.6,273.6L146.3,277.1Z" fill="#f3ec4b" stroke="#7e7b27"/><path d="M132.1,281.3L127.4,278L132.1,274L136.8,277.3Z" fill="#ebef4e" stroke="#7a7c29"/><path d="M136.8,285L132.1,281.3L136.8,277.3L141.6,280.9Z" fill="#e1ee4a" stroke="#757c26"/></g>
<circle cx="136.7" cy="231.9" r="1.7" fill="#b80000"/>
<g font-family="'Liberation Sans', sans-serif" fill="#000"><text x="24.5" y="220.8" font-size="12.5" font-weight="bold" textLength="17.3" lengthAdjust="spacingAndGlyphs">(d)</text><text transform="translate(41.35,284.89) rotate(-92.29)" text-anchor="middle" font-size="9.5" font-weight="bold" textLength="106.7" lengthAdjust="spacingAndGlyphs">Degradation Efficiency (%)</text><text transform="translate(80.76,374.73) rotate(22.5)" text-anchor="middle" font-size="9.5" font-weight="bold" textLength="102.2" lengthAdjust="spacingAndGlyphs">Dye Concentration (ppm)</text><text transform="translate(188.35,372.28) rotate(-25.0)" text-anchor="middle" font-size="9.5" font-weight="bold" textLength="86.2" lengthAdjust="spacingAndGlyphs">Catalyst Dosage (mg)</text></g>
<path d="M258.2,307.9L341.5,279.9L425,307.6M257.6,295.7L341.5,268.8L425.5,295.5M257,283.4L341.5,257.8L426.1,283.3M256.4,271.2L341.4,246.7L426.7,271.1M255.8,259L341.4,235.6L427.2,259M255.2,246.8L341.4,224.5L427.8,246.8M254.6,234.5L341.4,213.5L428.3,234.7M254,222.3L341.4,202.4L428.9,222.5M279,300.9L275.9,217.3M404.1,300.7L407,217.5M299.9,293.9L297.7,212.4M383.2,293.8L385.1,212.4M320.7,286.9L319.5,207.4M362.3,286.8L363.3,207.4M259.6,335.4L254,222.3M341.5,304.8L341.4,202.4M423.7,335L428.9,222.5" fill="none" stroke="#404040" stroke-width="0.75"/>
<path d="M341.5,374.6L259.6,335.4L341.5,304.8L423.7,335Z" fill="#646464" stroke="#2e2e2e" stroke-width="0.9" stroke-linejoin="round"/>
<path d="M331.1,369.4L332.2,369.4L333.4,369.4L334.5,369.4L335.6,369.4L336.6,369.3L337.7,369.3L338.8,369.3L340,369.2L341.3,369.2L342.6,369.1L343.9,369L345,369L346,368.9L347,368.8L348,368.7L349.2,368.6L350.6,368.5L351.9,368.4L352.8,368.3L353.8,368.2L354.9,368.1" fill="none" stroke="#3abf26" stroke-width="1.15"/>
<path d="M318.7,363.6L319.9,363.6L321.2,363.7L322.4,363.7L323.6,363.7L324.7,363.8L325.8,363.8L326.9,363.8L328,363.8L329.2,363.8L330.3,363.8L331.4,363.8L332.6,363.8L333.8,363.7L334.8,363.7L335.9,363.7L337,363.7L338,363.6L339,363.6L340.1,363.5L341.1,363.5L342.4,363.4L343.7,363.3L345,363.2L346,363.1L347,363.1L347.9,363L349,362.9L350.4,362.8L351.7,362.6L352.6,362.5L353.5,362.4L354.8,362.3L356.1,362.1L357,362L357.9,361.9L359.4,361.7L360.4,361.5L361.3,361.4L362.7,361.2L363.7,361L364.6,360.9L366.2,360.6L366.9,360.5L368,360.3L369.3,360L370,359.9L371.5,359.5L372.3,359.4L373.8,359.1L373.9,359" fill="none" stroke="#8cc81e" stroke-width="1.15"/>
<path d="M414.5,339.6L415,339.1L415.2,338.8L415.7,338.2L415.9,337.8L416.4,337.2L416.6,336.9L416.9,336.5L417.2,336L417.4,335.7L417.7,335.2L417.9,334.7L418.1,334.4L418.3,333.9L418.5,333.4" fill="none" stroke="#8cc81e" stroke-width="1.15"/>
<path d="M302.2,355.7L303.7,355.9L304.6,356L305.4,356.2L306.7,356.3L308,356.5L308.9,356.6L309.8,356.6L311,356.8L312.4,356.9L313.4,357L314.3,357L315.3,357.1L316.3,357.2L317.6,357.3L318.9,357.3L320.1,357.4L321.1,357.4L322.1,357.5L323.2,357.5L324.2,357.5L325.3,357.6L326.3,357.6L327.4,357.6L328.5,357.6L329.6,357.6L330.7,357.6L331.8,357.6L333,357.6L334.1,357.5L335.3,357.5L336.5,357.5L337.7,357.4L338.8,357.3L339.8,357.3L340.8,357.2L341.8,357.2L342.8,357.1L344.1,357L345.4,356.9L346.5,356.8L347.4,356.7L348.3,356.6L349.6,356.5L350.9,356.3L351.8,356.2L352.7,356.1L354.1,355.9L355.2,355.8L356,355.7L357.3,355.5L358.5,355.3L359.3,355.2L360.7,354.9L361.6,354.8L362.5,354.6L363.9,354.3L364.6,354.2L366.1,353.9L366.8,353.7L368.3,353.4L369,353.2L370.4,352.9L371.1,352.7L372.4,352.4L373.2,352.2L374.4,351.8L375.7,351.4L376.3,351.2L377.6,350.9L378.8,350.5L379.4,350.3L380.6,349.9L381.7,349.5L382.9,349L383.9,348.6L384.5,348.4L385.6,347.9L386.7,347.5L387.7,347L388.7,346.6L389.7,346.1L390.6,345.6L391.6,345.2L392.5,344.7L393,344.3L393.8,343.9L394.6,343.4L395.4,342.9L396.2,342.4L396.6,342.1L397.4,341.6L398.1,341L398.5,340.8L399.2,340.2L399.9,339.7L400.2,339.4L400.8,338.8L401.1,338.5L401.7,338L402,337.7L402.6,337.1L402.9,336.8L403.4,336.2L403.6,335.9L404.1,335.3L404.3,335L404.6,334.6L405,334.1L405.2,333.7L405.5,333.3L405.7,332.8L405.9,332.5L406.1,332L406.4,331.5L406.5,331.2L406.6,330.8L406.8,330.3L407,329.8L407.1,329.5L407.2,329.1" fill="none" stroke="#d4d01e" stroke-width="1.15"/>
<path d="M267.4,332.5L267.9,333.1L268.1,333.4L268.6,333.9L268.9,334.2L269.5,334.8L269.8,335.1L270.4,335.6L270.8,335.9L271.4,336.4L272.1,336.9L272.4,337.2L273.1,337.7L273.9,338.2L274.7,338.7L275.1,339L275.9,339.5L276.8,339.9L277.6,340.4L278.5,340.9L279.5,341.3L280.4,341.8L281.4,342.2L282.4,342.6L283.5,343.1L284.5,343.5L285.6,343.9L286.2,344.1L287.3,344.5L288.5,344.9L289.6,345.2L290.3,345.4L291.5,345.8L292.5,346L293.4,346.3L294.7,346.6L295.4,346.8L296.7,347.1L297.4,347.3L298.8,347.6L299.5,347.7L300.9,348L301.7,348.1L302.8,348.4L303.9,348.5L304.7,348.7L306.1,348.9L307,349L307.8,349.1L309.2,349.3L310.3,349.5L311.1,349.6L312.1,349.7L313.5,349.8L314.6,349.9L315.5,350L316.4,350.1L317.5,350.2L318.8,350.2L320,350.3L321,350.4L322,350.4L323,350.5L324,350.5L325,350.5L326,350.5L327.1,350.6L328.1,350.6L329.2,350.6L330.3,350.6L331.4,350.6L332.5,350.5L333.7,350.5L334.8,350.5L336,350.4L337.2,350.4L338.3,350.3L339.3,350.2L340.2,350.2L341.2,350.1L342.3,350L343.7,349.9L344.7,349.8L345.6,349.7L346.5,349.6L347.9,349.4L349,349.3L349.8,349.2L351,349L352.2,348.8L353,348.7L354.3,348.5L355.3,348.3L356.1,348.2L357.6,347.9L358.3,347.7L359.7,347.4L360.4,347.3L361.8,347L362.5,346.8L363.8,346.5L364.6,346.3L365.8,345.9L367,345.6L367.7,345.4L368.9,345L370.1,344.6L371.1,344.3L371.8,344L372.9,343.6L374,343.2L375.1,342.8L376.1,342.3L377.1,341.9L378.1,341.4L379,340.9L380,340.5L380.8,340L381.7,339.5L382.2,339.2L383,338.8L383.8,338.2L384.5,337.7L384.9,337.5L385.6,336.9L386.2,336.5L386.7,336.1L387.3,335.6L387.6,335.3L388.2,334.7L388.5,334.4L389.1,333.8L389.3,333.5L389.8,333L390.1,332.7L390.4,332.3L390.8,331.7L391,331.4L391.2,331L391.6,330.5L391.7,330.2L391.9,329.8L392.1,329.3L392.3,328.8L392.4,328.5L392.6,328.2L392.7,327.7L392.8,327.2L392.9,326.8L393,326.4L393,326.1L393,325.7L393.1,325.3L393.1,324.9L393.1,324.5L393,324.1L393,323.8" fill="none" stroke="#d98228" stroke-width="1.15"/>
<path d="M283.6,326.4L283.8,326.7L283.9,327.1L284.2,327.7L284.4,328L284.6,328.3L285,328.9L285.3,329.2L285.7,329.7L286,330L286.5,330.5L286.8,330.9L287.4,331.4L287.8,331.7L288.4,332.2L288.8,332.5L289.5,333L290.3,333.5L291.1,333.9L291.5,334.2L292.3,334.6L293.2,335.1L294.2,335.5L295.1,336L296.1,336.4L297.1,336.8L298.2,337.2L298.8,337.4L299.9,337.8L301,338.1L302.2,338.5L302.8,338.6L304.1,339L304.8,339.2L306,339.5L307,339.7L308,339.9L308.9,340.1L310.2,340.3L310.9,340.4L312.4,340.7L313.1,340.8L313.9,340.9L315.4,341.1L316.3,341.2L317.1,341.3L318.2,341.4L319.5,341.5L320.6,341.6L321.5,341.7L322.4,341.7L323.3,341.8L324.4,341.8L325.5,341.9L326.7,341.9L327.7,341.9L328.8,341.9L329.9,341.9L330.9,341.9L331.9,341.9L332.9,341.8L333.8,341.8L334.8,341.7L336.1,341.7L337.3,341.6L338.4,341.5L339.3,341.4L340.1,341.3L341.3,341.2L342.6,341.1L343.4,341L344.3,340.8L345.7,340.6L346.5,340.5L347.6,340.3L348.7,340.1L349.5,339.9L350.8,339.7L351.5,339.5L352.8,339.2L353.9,338.9L354.7,338.7L356,338.3L356.9,338.1L357.7,337.8L358.9,337.4L360,337L361.1,336.6L362.1,336.2L363.1,335.7L364,335.3L364.9,334.8L365.8,334.4L366.7,333.9L367.1,333.6L367.9,333.1L368.6,332.6L369,332.4L369.7,331.8L370.1,331.4L370.6,331L371,330.6L371.5,330.1L371.8,329.8L372.3,329.3L372.5,329L372.8,328.6L373.1,328L373.3,327.7L373.5,327.4L373.7,326.9L373.9,326.4L374,326.1L374.1,325.7L374.2,325.4L374.3,324.9L374.4,324.5L374.4,324L374.4,323.6L374.4,323.2L374.4,322.8L374.3,322.4L374.2,322.1L374.1,321.7L374,321.3L373.9,321L373.7,320.6L373.6,320.2L373.3,319.7L373,319.3L372.8,319L372.6,318.7L372.3,318.3L371.9,317.8L371.6,317.5L371.4,317.2L370.8,316.6L370.5,316.4L370.1,316L369.6,315.6L369.3,315.3L368.6,314.8L368.2,314.6" fill="none" stroke="#d24428" stroke-width="1.15"/>
<path d="M349,307.4L347.8,307.1L347.1,307L345.8,306.8L345.2,306.7L343.9,306.5L343.2,306.4L342.5,306.3L341.1,306.2L340.4,306.1L339.7,306L338.6,305.9L338.2,305.9" fill="none" stroke="#d24428" stroke-width="1.15"/>
<g fill="#111"><rect x="257.4" y="307.1" width="1.6" height="1.6"/><rect x="256.8" y="294.9" width="1.6" height="1.6"/><rect x="256.2" y="282.6" width="1.6" height="1.6"/><rect x="255.6" y="270.4" width="1.6" height="1.6"/><rect x="255" y="258.2" width="1.6" height="1.6"/><rect x="254.4" y="246" width="1.6" height="1.6"/><rect x="253.8" y="233.7" width="1.6" height="1.6"/><rect x="253.2" y="221.5" width="1.6" height="1.6"/><rect x="340.7" y="373.8" width="1.6" height="1.6"/><rect x="340.7" y="373.8" width="1.6" height="1.6"/><rect x="320.2" y="364" width="1.6" height="1.6"/><rect x="361.2" y="363.9" width="1.6" height="1.6"/><rect x="299.8" y="354.2" width="1.6" height="1.6"/><rect x="381.8" y="354" width="1.6" height="1.6"/><rect x="279.3" y="344.4" width="1.6" height="1.6"/><rect x="402.3" y="344.1" width="1.6" height="1.6"/><rect x="258.8" y="334.6" width="1.6" height="1.6"/><rect x="422.9" y="334.2" width="1.6" height="1.6"/></g>
<g font-family="'Liberation Sans', sans-serif" font-size="4.7" fill="#444"><text x="255.6" y="308.1" text-anchor="end">86</text><text x="255" y="295.9" text-anchor="end">88</text><text x="254.4" y="283.6" text-anchor="end">90</text><text x="253.8" y="271.4" text-anchor="end">92</text><text x="253.2" y="259.2" text-anchor="end">94</text><text x="252.6" y="247" text-anchor="end">96</text><text x="252" y="234.7" text-anchor="end">98</text><text x="251.4" y="222.5" text-anchor="end">100</text><text x="337.2" y="379.2" text-anchor="middle">40</text><text x="316.7" y="369.4" text-anchor="middle">45</text><text x="296.2" y="359.6" text-anchor="middle">50</text><text x="275.8" y="349.8" text-anchor="middle">55</text><text x="255.3" y="340" text-anchor="middle">60</text><text x="343.9" y="379.6">4</text><text x="364.4" y="369.7">5</text><text x="385" y="359.8">6</text><text x="405.5" y="349.9">7</text><text x="426.1" y="340">8</text></g>
<g stroke-width="0.4" stroke-linejoin="round"><path d="M341.5,211.3L337.6,211.4L341.5,211.5L345.4,211.4Z" fill="#ed5727" stroke="#7b2d14"/><path d="M345.4,211.5L341.5,211.3L345.4,211.4L349.3,211.6Z" fill="#ec4d27" stroke="#7b2814"/><path d="M337.5,211.4L333.6,211.4L337.6,211.4L341.5,211.3Z" fill="#ee4428" stroke="#7c2315"/><path d="M349.4,211.9L345.4,211.5L349.3,211.6L353.3,212Z" fill="#eb4627" stroke="#7a2414"/><path d="M341.5,211.5L337.5,211.4L341.5,211.3L345.4,211.5Z" fill="#ed3a27" stroke="#7b1e15"/><path d="M333.6,211.6L329.7,211.6L333.6,211.4L337.5,211.4Z" fill="#ee3527" stroke="#7c1b14"/><path d="M353.4,212.5L349.4,211.9L353.3,212L357.3,212.6Z" fill="#eb4227" stroke="#7a2214"/><path d="M345.5,211.9L341.5,211.5L345.4,211.5L349.4,211.9Z" fill="#ec3427" stroke="#7b1b14"/><path d="M337.5,211.7L333.6,211.6L337.5,211.4L341.5,211.5Z" fill="#ed2e24" stroke="#7b1813"/><path d="M329.5,211.9L325.6,212L329.7,211.6L333.6,211.6Z" fill="#ee2c24" stroke="#7c1713"/><path d="M357.5,213.4L353.4,212.5L357.3,212.6L361.4,213.4Z" fill="#ea4027" stroke="#7a2114"/><path d="M349.5,212.6L345.5,211.9L349.4,211.9L353.4,212.5Z" fill="#eb3125" stroke="#7a1a13"/><path d="M341.5,212.2L337.5,211.7L341.5,211.5L345.5,211.9Z" fill="#ec2922" stroke="#7b1512"/><path d="M333.5,212.1L329.5,211.9L333.6,211.6L337.5,211.7Z" fill="#ed2521" stroke="#7b1311"/><path d="M325.4,212.4L321.6,212.5L325.6,212L329.5,211.9Z" fill="#ed2926" stroke="#7b1514"/><path d="M361.6,214.5L357.5,213.4L361.4,213.4L365.5,214.5Z" fill="#ea4227" stroke="#792214"/><path d="M353.6,213.4L349.5,212.6L353.4,212.5L357.5,213.4Z" fill="#ea3025" stroke="#7a1913"/><path d="M345.5,212.8L341.5,212.2L345.5,211.9L349.5,212.6Z" fill="#eb2621" stroke="#7a1411"/><path d="M337.4,212.5L333.5,212.1L337.5,211.7L341.5,212.2Z" fill="#ec201f" stroke="#7b1110"/><path d="M329.4,212.7L325.4,212.4L329.5,211.9L333.5,212.1Z" fill="#ec2222" stroke="#7b1212"/><path d="M321.3,213.1L317.4,213.1L321.6,212.5L325.4,212.4Z" fill="#ed2828" stroke="#7b1515"/><path d="M365.8,215.8L361.6,214.5L365.5,214.5L369.6,215.8Z" fill="#e94527" stroke="#792414"/><path d="M357.7,214.6L353.6,213.4L357.5,213.4L361.6,214.5Z" fill="#ea3125" stroke="#7a1a13"/><path d="M349.6,213.7L345.5,212.8L349.5,212.6L353.6,213.4Z" fill="#ea2521" stroke="#7a1311"/><path d="M341.5,213.2L337.4,212.5L341.5,212.2L345.5,212.8Z" fill="#eb1e1e" stroke="#7a0f0f"/><path d="M333.4,213.1L329.4,212.7L333.5,212.1L337.4,212.5Z" fill="#ea2020" stroke="#7a1011"/><path d="M325.2,213.4L321.3,213.1L325.4,212.4L329.4,212.7Z" fill="#ea2526" stroke="#7a1314"/><path d="M317.1,214L313.3,214L317.4,213.1L321.3,213.1Z" fill="#ec2b2c" stroke="#7b1717"/><path d="M370,217.4L365.8,215.8L369.6,215.8L373.8,217.4Z" fill="#e94c27" stroke="#792714"/><path d="M361.9,215.9L357.7,214.6L361.6,214.5L365.8,215.8Z" fill="#ea3426" stroke="#7a1b14"/><path d="M353.7,214.8L349.6,213.7L353.6,213.4L357.7,214.6Z" fill="#ea2621" stroke="#7a1411"/><path d="M345.6,214.1L341.5,213.2L345.5,212.8L349.6,213.7Z" fill="#ea1d1d" stroke="#7a0f0f"/><path d="M337.4,213.8L333.4,213.1L337.4,212.5L341.5,213.2Z" fill="#e81d1e" stroke="#790f10"/><path d="M329.2,213.8L325.2,213.4L329.4,212.7L333.4,213.1Z" fill="#e82224" stroke="#781213"/><path d="M321.1,214.2L317.1,214L321.3,213.1L325.2,213.4Z" fill="#e92829" stroke="#791516"/><path d="M312.9,215L309,215L313.3,214L317.1,214Z" fill="#ec2f30" stroke="#7a1919"/><path d="M374.2,219.2L370,217.4L373.8,217.4L378.1,219.2Z" fill="#e85526" stroke="#792c14"/><path d="M366.1,217.5L361.9,215.9L365.8,215.8L370,217.4Z" fill="#ea3a27" stroke="#791e14"/><path d="M357.9,216.2L353.7,214.8L357.7,214.6L361.9,215.9Z" fill="#ea2922" stroke="#791512"/><path d="M349.7,215.3L345.6,214.1L349.6,213.7L353.7,214.8Z" fill="#ea1d1e" stroke="#7a0f0f"/><path d="M341.5,214.7L337.4,213.8L341.5,213.2L345.6,214.1Z" fill="#e81b1d" stroke="#780e0f"/><path d="M333.3,214.5L329.2,213.8L333.4,213.1L337.4,213.8Z" fill="#e62022" stroke="#781111"/><path d="M325,214.7L321.1,214.2L325.2,213.4L329.2,213.8Z" fill="#e62627" stroke="#781414"/><path d="M316.8,215.3L312.9,215L317.1,214L321.1,214.2Z" fill="#e92c2e" stroke="#791718"/><path d="M308.6,216.2L304.8,216.2L309,215L312.9,215Z" fill="#ec3434" stroke="#7b1b1b"/><path d="M378.5,221.3L374.2,219.2L378.1,219.2L382.4,221.3Z" fill="#e86126" stroke="#793214"/><path d="M370.3,219.4L366.1,217.5L370,217.4L374.2,219.2Z" fill="#e94327" stroke="#792314"/><path d="M362.1,217.8L357.9,216.2L361.9,215.9L366.1,217.5Z" fill="#ea2d24" stroke="#791813"/><path d="M353.9,216.7L349.7,215.3L353.7,214.8L357.9,216.2Z" fill="#ea201f" stroke="#7a1110"/><path d="M345.6,215.9L341.5,214.7L345.6,214.1L349.7,215.3Z" fill="#e81b1c" stroke="#780e0f"/><path d="M337.3,215.5L333.3,214.5L337.4,213.8L341.5,214.7Z" fill="#e61e20" stroke="#771011"/><path d="M329.1,215.4L325,214.7L329.2,213.8L333.3,214.5Z" fill="#e52325" stroke="#771213"/><path d="M320.8,215.8L316.8,215.3L321.1,214.2L325,214.7Z" fill="#e62a2b" stroke="#781617"/><path d="M312.6,216.5L308.6,216.2L312.9,215L316.8,215.3Z" fill="#e93132" stroke="#79191a"/><path d="M304.3,217.6L300.5,217.6L304.8,216.2L308.6,216.2Z" fill="#ee3939" stroke="#7c1d1e"/><path d="M382.9,223.7L378.5,221.3L382.4,221.3L386.7,223.7Z" fill="#e86e26" stroke="#793914"/><path d="M374.6,221.5L370.3,219.4L374.2,219.2L378.5,221.3Z" fill="#e94f27" stroke="#792914"/><path d="M366.4,219.7L362.1,217.8L366.1,217.5L370.3,219.4Z" fill="#ea3426" stroke="#7a1b14"/><path d="M358.1,218.3L353.9,216.7L357.9,216.2L362.1,217.8Z" fill="#ea2420" stroke="#7a1311"/><path d="M349.8,217.3L345.6,215.9L349.7,215.3L353.9,216.7Z" fill="#e81c1d" stroke="#790f0f"/><path d="M341.5,216.6L337.3,215.5L341.5,214.7L345.6,215.9Z" fill="#e61d1e" stroke="#780f10"/><path d="M333.2,216.4L329.1,215.4L333.3,214.5L337.3,215.5Z" fill="#e42224" stroke="#771113"/><path d="M324.9,216.5L320.8,215.8L325,214.7L329.1,215.4Z" fill="#e52729" stroke="#771516"/><path d="M316.5,217L312.6,216.5L316.8,215.3L320.8,215.8Z" fill="#e72e30" stroke="#781819"/><path d="M308.2,217.9L304.3,217.6L308.6,216.2L312.6,216.5Z" fill="#eb3637" stroke="#7a1c1c"/><path d="M300,219.2L296.1,219.1L300.5,217.6L304.3,217.6Z" fill="#ef403e" stroke="#7c2120"/><path d="M387.2,226.3L382.9,223.7L386.7,223.7L391.1,226.3Z" fill="#e87d26" stroke="#794114"/><path d="M379,223.9L374.6,221.5L378.5,221.3L382.9,223.7Z" fill="#e95d26" stroke="#793014"/><path d="M370.7,221.9L366.4,219.7L370.3,219.4L374.6,221.5Z" fill="#ea3f27" stroke="#7a2114"/><path d="M362.4,220.2L358.1,218.3L362.1,217.8L366.4,219.7Z" fill="#ea2b23" stroke="#7a1612"/><path d="M354,219L349.8,217.3L353.9,216.7L358.1,218.3Z" fill="#ea1e1e" stroke="#7a0f0f"/><path d="M345.7,218.1L341.5,216.6L345.6,215.9L349.8,217.3Z" fill="#e71c1d" stroke="#780e0f"/><path d="M337.3,217.6L333.2,216.4L337.3,215.5L341.5,216.6Z" fill="#e52022" stroke="#771112"/><path d="M328.9,217.5L324.9,216.5L329.1,215.4L333.2,216.4Z" fill="#e42628" stroke="#771415"/><path d="M320.6,217.8L316.5,217L320.8,215.8L324.9,216.5Z" fill="#e62c2e" stroke="#771718"/><path d="M312.2,218.4L308.2,217.9L312.6,216.5L316.5,217Z" fill="#e93335" stroke="#791b1b"/><path d="M303.9,219.5L300,219.2L304.3,217.6L308.2,217.9Z" fill="#ed3b3b" stroke="#7b1f1f"/><path d="M295.6,220.9L291.7,220.8L296.1,219.1L300,219.2Z" fill="#f04944" stroke="#7d2623"/><path d="M391.7,229.2L387.2,226.3L391.1,226.3L395.5,229.1Z" fill="#e88f26" stroke="#794a14"/><path d="M383.4,226.6L379,223.9L382.9,223.7L387.2,226.3Z" fill="#e96d26" stroke="#793914"/><path d="M375,224.3L370.7,221.9L374.6,221.5L379,223.9Z" fill="#ea4e27" stroke="#792814"/><path d="M366.7,222.4L362.4,220.2L366.4,219.7L370.7,221.9Z" fill="#eb3326" stroke="#7a1b14"/><path d="M358.3,220.9L354,219L358.1,218.3L362.4,220.2Z" fill="#ea2420" stroke="#7a1311"/><path d="M349.9,219.8L345.7,218.1L349.8,217.3L354,219Z" fill="#e91c1d" stroke="#790f0f"/><path d="M341.5,219L337.3,217.6L341.5,216.6L345.7,218.1Z" fill="#e61f21" stroke="#781011"/><path d="M333.1,218.7L328.9,217.5L333.2,216.4L337.3,217.6Z" fill="#e52426" stroke="#771314"/><path d="M324.7,218.8L320.6,217.8L324.9,216.5L328.9,217.5Z" fill="#e52a2c" stroke="#771617"/><path d="M316.2,219.2L312.2,218.4L316.5,217L320.6,217.8Z" fill="#e73133" stroke="#78191a"/><path d="M307.8,220L303.9,219.5L308.2,217.9L312.2,218.4Z" fill="#eb3939" stroke="#7a1d1e"/><path d="M299.5,221.2L295.6,220.9L300,219.2L303.9,219.5Z" fill="#ef4341" stroke="#7c2322"/><path d="M291.1,222.8L287.3,222.7L291.7,220.8L295.6,220.9Z" fill="#f2544b" stroke="#7e2b27"/><path d="M396.1,232.4L391.7,229.2L395.5,229.1L399.9,232.2Z" fill="#e8a126" stroke="#785414"/><path d="M387.8,229.5L383.4,226.6L387.2,226.3L391.7,229.2Z" fill="#e97f26" stroke="#794214"/><path d="M379.4,227L375,224.3L379,223.9L383.4,226.6Z" fill="#ea5f27" stroke="#793114"/><path d="M371,224.8L366.7,222.4L370.7,221.9L375,224.3Z" fill="#eb4127" stroke="#7a2214"/><path d="M362.6,223.1L358.3,220.9L362.4,220.2L366.7,222.4Z" fill="#eb2c24" stroke="#7a1712"/><path d="M354.2,221.7L349.9,219.8L354,219L358.3,220.9Z" fill="#eb1f1e" stroke="#7a1010"/><path d="M345.7,220.8L341.5,219L345.7,218.1L349.9,219.8Z" fill="#e81f20" stroke="#791010"/><path d="M337.3,220.2L333.1,218.7L337.3,217.6L341.5,219Z" fill="#e62325" stroke="#771213"/><path d="M328.8,220L324.7,218.8L328.9,217.5L333.1,218.7Z" fill="#e5292b" stroke="#771516"/><path d="M320.3,220.2L316.2,219.2L320.6,217.8L324.7,218.8Z" fill="#e72f31" stroke="#781919"/><path d="M311.9,220.8L307.8,220L312.2,218.4L316.2,219.2Z" fill="#ea3638" stroke="#7a1c1d"/><path d="M303.4,221.8L299.5,221.2L303.9,219.5L307.8,220Z" fill="#ee3e3f" stroke="#7c2021"/><path d="M295,223.2L291.1,222.8L295.6,220.9L299.5,221.2Z" fill="#f14d48" stroke="#7d2825"/><path d="M286.6,225L282.8,224.8L287.3,222.7L291.1,222.8Z" fill="#f36150" stroke="#7e322a"/><path d="M400.6,235.8L396.1,232.4L399.9,232.2L404.4,235.6Z" fill="#e7b526" stroke="#785e14"/><path d="M392.2,232.6L387.8,229.5L391.7,229.2L396.1,232.4Z" fill="#e99326" stroke="#794c14"/><path d="M383.8,229.9L379.4,227L383.4,226.6L387.8,229.5Z" fill="#ea7126" stroke="#7a3b14"/><path d="M375.4,227.5L371,224.8L375,224.3L379.4,227Z" fill="#eb5227" stroke="#7a2b14"/><path d="M367,225.5L362.6,223.1L366.7,222.4L371,224.8Z" fill="#ec3727" stroke="#7b1d14"/><path d="M358.5,224L354.2,221.7L358.3,220.9L362.6,223.1Z" fill="#ec2722" stroke="#7b1411"/><path d="M350,222.7L345.7,220.8L349.9,219.8L354.2,221.7Z" fill="#eb1f1f" stroke="#7a1010"/><path d="M341.5,221.9L337.3,220.2L341.5,219L345.7,220.8Z" fill="#e82324" stroke="#791213"/><path d="M333,221.5L328.8,220L333.1,218.7L337.3,220.2Z" fill="#e62829" stroke="#781515"/><path d="M324.5,221.5L320.3,220.2L324.7,218.8L328.8,220Z" fill="#e72e2f" stroke="#781819"/><path d="M315.9,221.9L311.9,220.8L316.2,219.2L320.3,220.2Z" fill="#e93536" stroke="#791b1c"/><path d="M307.4,222.6L303.4,221.8L307.8,220L311.9,220.8Z" fill="#ed3c3d" stroke="#7b1f20"/><path d="M299,223.8L295,223.2L299.5,221.2L303.4,221.8Z" fill="#f04845" stroke="#7d2624"/><path d="M290.5,225.3L286.6,225L291.1,222.8L295,223.2Z" fill="#f2594f" stroke="#7e2e29"/><path d="M282.1,227.3L278.2,227.1L282.8,224.8L286.6,225Z" fill="#f47254" stroke="#7f3b2b"/><path d="M405.1,239.5L400.6,235.8L404.4,235.6L408.9,239.3Z" fill="#e4c625" stroke="#766713"/><path d="M396.7,236.1L392.2,232.6L396.1,232.4L400.6,235.8Z" fill="#e8a726" stroke="#795714"/><path d="M388.3,233.1L383.8,229.9L387.8,229.5L392.2,232.6Z" fill="#ea8626" stroke="#7a4514"/><path d="M379.9,230.5L375.4,227.5L379.4,227L383.8,229.9Z" fill="#eb6627" stroke="#7a3514"/><path d="M371.4,228.3L367,225.5L371,224.8L375.4,227.5Z" fill="#ec4827" stroke="#7b2614"/><path d="M362.9,226.4L358.5,224L362.6,223.1L367,225.5Z" fill="#ec3226" stroke="#7b1a14"/><path d="M354.3,225L350,222.7L354.2,221.7L358.5,224Z" fill="#ed2420" stroke="#7b1311"/><path d="M345.8,223.9L341.5,221.9L345.7,220.8L350,222.7Z" fill="#eb2223" stroke="#7a1212"/><path d="M337.2,223.3L333,221.5L337.3,220.2L341.5,221.9Z" fill="#e82728" stroke="#791415"/><path d="M328.6,223L324.5,221.5L328.8,220L333,221.5Z" fill="#e82d2e" stroke="#791718"/><path d="M320.1,223.2L315.9,221.9L320.3,220.2L324.5,221.5Z" fill="#e93334" stroke="#791b1b"/><path d="M311.5,223.7L307.4,222.6L311.9,220.8L315.9,221.9Z" fill="#ec3b3b" stroke="#7b1e1f"/><path d="M303,224.6L299,223.8L303.4,221.8L307.4,222.6Z" fill="#f04543" stroke="#7d2423"/><path d="M294.4,225.9L290.5,225.3L295,223.2L299,223.8Z" fill="#f2554c" stroke="#7e2c28"/><path d="M285.9,227.7L282.1,227.3L286.6,225L290.5,225.3Z" fill="#f36a53" stroke="#7f372b"/><path d="M277.5,229.8L273.6,229.6L278.2,227.1L282.1,227.3Z" fill="#f58557" stroke="#7f452d"/><path d="M409.7,243.4L405.1,239.5L408.9,239.3L413.5,243.2Z" fill="#e0d825" stroke="#757013"/><path d="M401.3,239.8L396.7,236.1L400.6,235.8L405.1,239.5Z" fill="#e7bc26" stroke="#786214"/><path d="M392.8,236.6L388.3,233.1L392.2,232.6L396.7,236.1Z" fill="#ea9b26" stroke="#795114"/><path d="M384.3,233.7L379.9,230.5L383.8,229.9L388.3,233.1Z" fill="#eb7a27" stroke="#7a4014"/><path d="M375.8,231.3L371.4,228.3L375.4,227.5L379.9,230.5Z" fill="#ec5c27" stroke="#7a3014"/><path d="M367.3,229.2L362.9,226.4L367,225.5L371.4,228.3Z" fill="#ed4127" stroke="#7b2214"/><path d="M358.7,227.5L354.3,225L358.5,224L362.9,226.4Z" fill="#ed2f25" stroke="#7b1813"/><path d="M350.1,226.2L345.8,223.9L350,222.7L354.3,225Z" fill="#ed2623" stroke="#7b1412"/><path d="M341.5,225.3L337.2,223.3L341.5,221.9L345.8,223.9Z" fill="#eb2727" stroke="#7a1414"/><path d="M332.9,224.8L328.6,223L333,221.5L337.2,223.3Z" fill="#ea2c2d" stroke="#7a1717"/><path d="M324.3,224.7L320.1,223.2L324.5,221.5L328.6,223Z" fill="#eb3233" stroke="#7a1a1a"/><path d="M315.6,225L311.5,223.7L315.9,221.9L320.1,223.2Z" fill="#ed3939" stroke="#7b1e1e"/><path d="M307,225.7L303,224.6L307.4,222.6L311.5,223.7Z" fill="#ef4341" stroke="#7c2322"/><path d="M298.4,226.8L294.4,225.9L299,223.8L303,224.6Z" fill="#f1514a" stroke="#7d2a26"/><path d="M289.9,228.3L285.9,227.7L290.5,225.3L294.4,225.9Z" fill="#f36452" stroke="#7e342b"/><path d="M281.3,230.2L277.5,229.8L282.1,227.3L285.9,227.7Z" fill="#f47d56" stroke="#7f412d"/><path d="M272.8,232.4L269,232.2L273.6,229.6L277.5,229.8Z" fill="#f6985a" stroke="#804f2f"/><path d="M414.3,247.7L409.7,243.4L413.5,243.2L418,247.4Z" fill="#cadb21" stroke="#697211"/><path d="M405.8,243.8L401.3,239.8L405.1,239.5L409.7,243.4Z" fill="#e3ce26" stroke="#766b14"/><path d="M397.4,240.3L392.8,236.6L396.7,236.1L401.3,239.8Z" fill="#e9b126" stroke="#795c14"/><path d="M388.9,237.2L384.3,233.7L388.3,233.1L392.8,236.6Z" fill="#eb9126" stroke="#7a4b14"/><path d="M380.3,234.5L375.8,231.3L379.9,230.5L384.3,233.7Z" fill="#ec7227" stroke="#7b3b14"/><path d="M371.7,232.2L367.3,229.2L371.4,228.3L375.8,231.3Z" fill="#ed5527" stroke="#7b2c14"/><path d="M363.1,230.3L358.7,227.5L362.9,226.4L367.3,229.2Z" fill="#ee3d28" stroke="#7c2015"/><path d="M354.5,228.8L350.1,226.2L354.3,225L358.7,227.5Z" fill="#ef2e25" stroke="#7c1813"/><path d="M345.8,227.6L341.5,225.3L345.8,223.9L350.1,226.2Z" fill="#ed2b27" stroke="#7b1615"/><path d="M337.2,226.9L332.9,224.8L337.2,223.3L341.5,225.3Z" fill="#ed2c2c" stroke="#7b1717"/><path d="M328.5,226.6L324.3,224.7L328.6,223L332.9,224.8Z" fill="#ec3132" stroke="#7b1a1a"/><path d="M319.8,226.6L315.6,225L320.1,223.2L324.3,224.7Z" fill="#ee3838" stroke="#7c1d1d"/><path d="M311.2,227.1L307,225.7L311.5,223.7L315.6,225Z" fill="#ef4240" stroke="#7c2221"/><path d="M302.5,227.9L298.4,226.8L303,224.6L307,225.7Z" fill="#f14f48" stroke="#7d2925"/><path d="M293.9,229.2L289.9,228.3L294.4,225.9L298.4,226.8Z" fill="#f36051" stroke="#7e322a"/><path d="M285.3,230.8L281.3,230.2L285.9,227.7L289.9,228.3Z" fill="#f47755" stroke="#7f3e2c"/><path d="M276.7,232.9L272.8,232.4L277.5,229.8L281.3,230.2Z" fill="#f69159" stroke="#804c2e"/><path d="M268.1,235.3L264.4,235.1L269,232.2L272.8,232.4Z" fill="#f7ad5d" stroke="#815a30"/><path d="M418.9,252.2L414.3,247.7L418,247.4L422.6,251.9Z" fill="#aed91c" stroke="#5a710e"/><path d="M410.5,248.1L405.8,243.8L409.7,243.4L414.3,247.7Z" fill="#d9dc24" stroke="#717213"/><path d="M402,244.4L397.4,240.3L401.3,239.8L405.8,243.8Z" fill="#e6c626" stroke="#786714"/><path d="M393.4,241L388.9,237.2L392.8,236.6L397.4,240.3Z" fill="#eaa826" stroke="#7a5714"/><path d="M384.8,238.1L380.3,234.5L384.3,233.7L388.9,237.2Z" fill="#ec8927" stroke="#7b4714"/><path d="M376.2,235.5L371.7,232.2L375.8,231.3L380.3,234.5Z" fill="#ed6b27" stroke="#7b3814"/><path d="M367.6,233.4L363.1,230.3L367.3,229.2L371.7,232.2Z" fill="#ee5127" stroke="#7c2a15"/><path d="M358.9,231.6L354.5,228.8L358.7,227.5L363.1,230.3Z" fill="#ef3b28" stroke="#7d1f15"/><path d="M350.2,230.2L345.8,227.6L350.1,226.2L354.5,228.8Z" fill="#ef3329" stroke="#7c1a15"/><path d="M341.5,229.2L337.2,226.9L341.5,225.3L345.8,227.6Z" fill="#ee312c" stroke="#7c1a17"/><path d="M332.8,228.6L328.5,226.6L332.9,224.8L337.2,226.9Z" fill="#ee3431" stroke="#7c1b1a"/><path d="M324.1,228.5L319.8,226.6L324.3,224.7L328.5,226.6Z" fill="#ef3a37" stroke="#7c1e1d"/><path d="M315.3,228.7L311.2,227.1L315.6,225L319.8,226.6Z" fill="#f0433f" stroke="#7d2321"/><path d="M306.6,229.3L302.5,227.9L307,225.7L311.2,227.1Z" fill="#f14e47" stroke="#7d2925"/><path d="M297.9,230.3L293.9,229.2L298.4,226.8L302.5,227.9Z" fill="#f35d4f" stroke="#7e3029"/><path d="M289.3,231.8L285.3,230.8L289.9,228.3L293.9,229.2Z" fill="#f47354" stroke="#7f3c2c"/><path d="M280.6,233.6L276.7,232.9L281.3,230.2L285.3,230.8Z" fill="#f58c58" stroke="#80492e"/><path d="M272,235.8L268.1,235.3L272.8,232.4L276.7,232.9Z" fill="#f7a65c" stroke="#805630"/><path d="M263.4,238.4L259.6,238.2L264.4,235.1L268.1,235.3Z" fill="#f8c15f" stroke="#816432"/><path d="M423.5,257L418.9,252.2L422.6,251.9L427.3,256.6Z" fill="#90d71c" stroke="#4b700e"/><path d="M415.1,252.6L410.5,248.1L414.3,247.7L418.9,252.2Z" fill="#bddb1e" stroke="#627210"/><path d="M406.6,248.7L402,244.4L405.8,243.8L410.5,248.1Z" fill="#e2d926" stroke="#767114"/><path d="M398,245.1L393.4,241L397.4,240.3L402,244.4Z" fill="#e9bf26" stroke="#796314"/><path d="M389.4,241.9L384.8,238.1L388.9,237.2L393.4,241Z" fill="#eca026" stroke="#7b5314"/><path d="M380.8,239.1L376.2,235.5L380.3,234.5L384.8,238.1Z" fill="#ed8327" stroke="#7b4414"/><path d="M372.1,236.7L367.6,233.4L371.7,232.2L376.2,235.5Z" fill="#ee6827" stroke="#7c3614"/><path d="M363.4,234.7L358.9,231.6L363.1,230.3L367.6,233.4Z" fill="#ef5028" stroke="#7c2a15"/><path d="M354.6,233.1L350.2,230.2L354.5,228.8L358.9,231.6Z" fill="#f03e2a" stroke="#7d2016"/><path d="M345.9,231.8L341.5,229.2L345.8,227.6L350.2,230.2Z" fill="#f0392e" stroke="#7d1e18"/><path d="M337.1,231L332.8,228.6L337.2,226.9L341.5,229.2Z" fill="#ef3932" stroke="#7c1e1a"/><path d="M328.3,230.6L324.1,228.5L328.5,226.6L332.8,228.6Z" fill="#ef3d37" stroke="#7c201d"/><path d="M319.6,230.6L315.3,228.7L319.8,226.6L324.1,228.5Z" fill="#f0453e" stroke="#7d2420"/><path d="M310.8,231L306.6,229.3L311.2,227.1L315.3,228.7Z" fill="#f14f46" stroke="#7d2924"/><path d="M302.1,231.8L297.9,230.3L302.5,227.9L306.6,229.3Z" fill="#f35d4d" stroke="#7e3028"/><path d="M293.3,232.9L289.3,231.8L293.9,229.2L297.9,230.3Z" fill="#f47152" stroke="#7f3b2b"/><path d="M284.6,234.5L280.6,233.6L285.3,230.8L289.3,231.8Z" fill="#f58857" stroke="#7f472d"/><path d="M275.9,236.5L272,235.8L276.7,232.9L280.6,233.6Z" fill="#f7a15b" stroke="#80542f"/><path d="M267.3,238.9L263.4,238.4L268.1,235.3L272,235.8Z" fill="#f8bb5e" stroke="#816131"/><path d="M258.7,241.7L254.9,241.4L259.6,238.2L263.4,238.4Z" fill="#f7d562" stroke="#816f33"/><path d="M419.8,257.5L415.1,252.6L418.9,252.2L423.5,257Z" fill="#9fd91c" stroke="#53710e"/><path d="M411.2,253.3L406.6,248.7L410.5,248.1L415.1,252.6Z" fill="#cadc21" stroke="#697311"/><path d="M402.6,249.5L398,245.1L402,244.4L406.6,248.7Z" fill="#e5d326" stroke="#776e14"/><path d="M394,246L389.4,241.9L393.4,241L398,245.1Z" fill="#ebb926" stroke="#7a6014"/><path d="M385.3,243L380.8,239.1L384.8,238.1L389.4,241.9Z" fill="#ed9b27" stroke="#7b5114"/><path d="M376.6,240.3L372.1,236.7L376.2,235.5L380.8,239.1Z" fill="#ee7f27" stroke="#7c4214"/><path d="M367.9,238.1L363.4,234.7L367.6,233.4L372.1,236.7Z" fill="#ef6728" stroke="#7c3515"/><path d="M359.1,236.2L354.6,233.1L358.9,231.6L363.4,234.7Z" fill="#f15128" stroke="#7d2a15"/><path d="M350.3,234.7L345.9,231.8L350.2,230.2L354.6,233.1Z" fill="#f1452e" stroke="#7d2418"/><path d="M341.5,233.7L337.1,231L341.5,229.2L345.9,231.8Z" fill="#f14133" stroke="#7d221b"/><path d="M332.7,233L328.3,230.6L332.8,228.6L337.1,231Z" fill="#f04338" stroke="#7d231d"/><path d="M323.9,232.7L319.6,230.6L324.1,228.5L328.3,230.6Z" fill="#f1493e" stroke="#7d2620"/><path d="M315,232.9L310.8,231L315.3,228.7L319.6,230.6Z" fill="#f25145" stroke="#7e2a24"/><path d="M306.2,233.4L302.1,231.8L306.6,229.3L310.8,231Z" fill="#f35f4b" stroke="#7e3127"/><path d="M297.4,234.4L293.3,232.9L297.9,230.3L302.1,231.8Z" fill="#f47150" stroke="#7f3b2a"/><path d="M288.7,235.8L284.6,234.5L289.3,231.8L293.3,232.9Z" fill="#f58655" stroke="#7f462c"/><path d="M279.9,237.5L275.9,236.5L280.6,233.6L284.6,234.5Z" fill="#f69d5a" stroke="#80522f"/><path d="M271.2,239.7L267.3,238.9L272,235.8L275.9,236.5Z" fill="#f7b65d" stroke="#815f31"/><path d="M262.5,242.2L258.7,241.7L263.4,238.4L267.3,238.9Z" fill="#f8d061" stroke="#816c32"/><path d="M415.9,258.2L411.2,253.3L415.1,252.6L419.8,257.5Z" fill="#acdb1c" stroke="#59720f"/><path d="M407.3,254.1L402.6,249.5L406.6,248.7L411.2,253.3Z" fill="#d5de23" stroke="#6f7312"/><path d="M398.7,250.4L394,246L398,245.1L402.6,249.5Z" fill="#e7ce26" stroke="#786b14"/><path d="M390,247.1L385.3,243L389.4,241.9L394,246Z" fill="#ecb427" stroke="#7b5e14"/><path d="M381.2,244.2L376.6,240.3L380.8,239.1L385.3,243Z" fill="#ef9827" stroke="#7c4f14"/><path d="M372.4,241.7L367.9,238.1L372.1,236.7L376.6,240.3Z" fill="#f07e27" stroke="#7d4214"/><path d="M363.6,239.6L359.1,236.2L363.4,234.7L367.9,238.1Z" fill="#f16828" stroke="#7d3615"/><path d="M354.8,237.9L350.3,234.7L354.6,233.1L359.1,236.2Z" fill="#f2572b" stroke="#7e2d16"/><path d="M345.9,236.6L341.5,233.7L345.9,231.8L350.3,234.7Z" fill="#f14f31" stroke="#7d291a"/><path d="M337.1,235.7L332.7,233L337.1,231L341.5,233.7Z" fill="#f14c37" stroke="#7e281d"/><path d="M328.2,235.2L323.9,232.7L328.3,230.6L332.7,233Z" fill="#f24f3e" stroke="#7e2920"/><path d="M319.3,235.1L315,232.9L319.6,230.6L323.9,232.7Z" fill="#f25744" stroke="#7e2d23"/><path d="M310.5,235.4L306.2,233.4L310.8,231L315,232.9Z" fill="#f36349" stroke="#7e3426"/><path d="M301.6,236.1L297.4,234.4L302.1,231.8L306.2,233.4Z" fill="#f4734e" stroke="#7f3c29"/><path d="M292.8,237.2L288.7,235.8L293.3,232.9L297.4,234.4Z" fill="#f58653" stroke="#7f462b"/><path d="M283.9,238.8L279.9,237.5L284.6,234.5L288.7,235.8Z" fill="#f69c58" stroke="#80512e"/><path d="M275.1,240.7L271.2,239.7L275.9,236.5L279.9,237.5Z" fill="#f7b35c" stroke="#815d30"/><path d="M266.4,243L262.5,242.2L267.3,238.9L271.2,239.7Z" fill="#f8cc60" stroke="#816a32"/><path d="M412,259L407.3,254.1L411.2,253.3L415.9,258.2Z" fill="#b6dd1d" stroke="#5f730f"/><path d="M403.3,255.1L398.7,250.4L402.6,249.5L407.3,254.1Z" fill="#dfdf25" stroke="#747413"/><path d="M394.6,251.6L390,247.1L394,246L398.7,250.4Z" fill="#e9ca26" stroke="#796914"/><path d="M385.8,248.4L381.2,244.2L385.3,243L390,247.1Z" fill="#edb127" stroke="#7b5c14"/><path d="M377,245.7L372.4,241.7L376.6,240.3L381.2,244.2Z" fill="#f09827" stroke="#7d4f14"/><path d="M368.2,243.3L363.6,239.6L367.9,238.1L372.4,241.7Z" fill="#f18028" stroke="#7d4315"/><path d="M359.3,241.3L354.8,237.9L359.1,236.2L363.6,239.6Z" fill="#f26c28" stroke="#7e3815"/><path d="M350.4,239.8L345.9,236.6L350.3,234.7L354.8,237.9Z" fill="#f2612e" stroke="#7e3218"/><path d="M341.5,238.6L337.1,235.7L341.5,233.7L345.9,236.6Z" fill="#f25b35" stroke="#7e2f1b"/><path d="M332.6,237.9L328.2,235.2L332.7,233L337.1,235.7Z" fill="#f25b3b" stroke="#7e2f1f"/><path d="M323.7,237.5L319.3,235.1L323.9,232.7L328.2,235.2Z" fill="#f36041" stroke="#7e3222"/><path d="M314.7,237.6L310.5,235.4L315,232.9L319.3,235.1Z" fill="#f36a47" stroke="#7e3725"/><path d="M305.8,238.1L301.6,236.1L306.2,233.4L310.5,235.4Z" fill="#f4774c" stroke="#7f3e28"/><path d="M296.9,239L292.8,237.2L297.4,234.4L301.6,236.1Z" fill="#f58851" stroke="#7f472a"/><path d="M288,240.3L283.9,238.8L288.7,235.8L292.8,237.2Z" fill="#f69c56" stroke="#80512d"/><path d="M279.2,242L275.1,240.7L279.9,237.5L283.9,238.8Z" fill="#f7b25b" stroke="#815d2f"/><path d="M270.4,244.1L266.4,243L271.2,239.7L275.1,240.7Z" fill="#f8c95f" stroke="#816831"/><path d="M408,260.1L403.3,255.1L407.3,254.1L412,259Z" fill="#bfde1f" stroke="#647310"/><path d="M399.3,256.3L394.6,251.6L398.7,250.4L403.3,255.1Z" fill="#e5e026" stroke="#777414"/><path d="M390.5,252.9L385.8,248.4L390,247.1L394.6,251.6Z" fill="#ebc927" stroke="#7a6814"/><path d="M381.7,249.9L377,245.7L381.2,244.2L385.8,248.4Z" fill="#efb127" stroke="#7c5c14"/><path d="M372.8,247.3L368.2,243.3L372.4,241.7L377,245.7Z" fill="#f19927" stroke="#7d5014"/><path d="M363.9,245.1L359.3,241.3L363.6,239.6L368.2,243.3Z" fill="#f38428" stroke="#7e4515"/><path d="M354.9,243.3L350.4,239.8L354.8,237.9L359.3,241.3Z" fill="#f3752b" stroke="#7e3d17"/><path d="M346,241.9L341.5,238.6L345.9,236.6L350.4,239.8Z" fill="#f36d32" stroke="#7e391a"/><path d="M337,240.9L332.6,237.9L337.1,235.7L341.5,238.6Z" fill="#f36a38" stroke="#7e371d"/><path d="M328.1,240.3L323.7,237.5L328.2,235.2L332.6,237.9Z" fill="#f36c3e" stroke="#7e3820"/><path d="M319.1,240.1L314.7,237.6L319.3,235.1L323.7,237.5Z" fill="#f37344" stroke="#7f3c23"/><path d="M310.1,240.4L305.8,238.1L310.5,235.4L314.7,237.6Z" fill="#f47e4a" stroke="#7f4126"/><path d="M301.1,241L296.9,239L301.6,236.1L305.8,238.1Z" fill="#f58c4f" stroke="#7f4929"/><path d="M292.2,242.1L288,240.3L292.8,237.2L296.9,239Z" fill="#f69e54" stroke="#80522c"/><path d="M283.3,243.5L279.2,242L283.9,238.8L288,240.3Z" fill="#f7b259" stroke="#815d2e"/><path d="M274.4,245.4L270.4,244.1L275.1,240.7L279.2,242Z" fill="#f7c85d" stroke="#816830"/><path d="M404,261.3L399.3,256.3L403.3,255.1L408,260.1Z" fill="#c6df20" stroke="#677411"/><path d="M395.2,257.7L390.5,252.9L394.6,251.6L399.3,256.3Z" fill="#e7de26" stroke="#787414"/><path d="M386.3,254.4L381.7,249.9L385.8,248.4L390.5,252.9Z" fill="#ecc927" stroke="#7b6814"/><path d="M377.4,251.6L372.8,247.3L377,245.7L381.7,249.9Z" fill="#f0b327" stroke="#7d5d14"/><path d="M368.5,249.1L363.9,245.1L368.2,243.3L372.8,247.3Z" fill="#f39d28" stroke="#7e5215"/><path d="M359.5,247L354.9,243.3L359.3,241.3L363.9,245.1Z" fill="#f48b28" stroke="#7f4815"/><path d="M350.5,245.4L346,241.9L350.4,239.8L354.9,243.3Z" fill="#f4802f" stroke="#7f4218"/><path d="M341.5,244.2L337,240.9L341.5,238.6L346,241.9Z" fill="#f47a35" stroke="#7f3f1c"/><path d="M332.5,243.3L328.1,240.3L332.6,237.9L337,240.9Z" fill="#f4793b" stroke="#7f3f1f"/><path d="M323.5,242.9L319.1,240.1L323.7,237.5L328.1,240.3Z" fill="#f47e41" stroke="#7f4122"/><path d="M314.4,242.9L310.1,240.4L314.7,237.6L319.1,240.1Z" fill="#f58647" stroke="#7f4625"/><path d="M305.4,243.3L301.1,241L305.8,238.1L310.1,240.4Z" fill="#f5934d" stroke="#804c28"/><path d="M296.4,244.1L292.2,242.1L296.9,239L301.1,241Z" fill="#f6a252" stroke="#80542b"/><path d="M287.4,245.4L283.3,243.5L288,240.3L292.2,242.1Z" fill="#f7b457" stroke="#815e2d"/><path d="M278.5,247L274.4,245.4L279.2,242L283.3,243.5Z" fill="#f7c85b" stroke="#816830"/><path d="M399.9,262.7L395.2,257.7L399.3,256.3L404,261.3Z" fill="#cbe121" stroke="#697511"/><path d="M391,259.2L386.3,254.4L390.5,252.9L395.2,257.7Z" fill="#e8df27" stroke="#797414"/><path d="M382.1,256.1L377.4,251.6L381.7,249.9L386.3,254.4Z" fill="#eeca27" stroke="#7c6914"/><path d="M373.1,253.4L368.5,249.1L372.8,247.3L377.4,251.6Z" fill="#f1b727" stroke="#7e5f15"/><path d="M364.1,251.1L359.5,247L363.9,245.1L368.5,249.1Z" fill="#f4a428" stroke="#7f5515"/><path d="M355.1,249.2L350.5,245.4L354.9,243.3L359.5,247Z" fill="#f5962c" stroke="#7f4e17"/><path d="M346.1,247.7L341.5,244.2L346,241.9L350.5,245.4Z" fill="#f58d32" stroke="#7f491a"/><path d="M337,246.7L332.5,243.3L337,240.9L341.5,244.2Z" fill="#f58938" stroke="#7f471d"/><path d="M327.9,246L323.5,242.9L328.1,240.3L332.5,243.3Z" fill="#f58b3f" stroke="#7f4821"/><path d="M318.8,245.7L314.4,242.9L319.1,240.1L323.5,242.9Z" fill="#f59145" stroke="#7f4b24"/><path d="M309.7,245.9L305.4,243.3L310.1,240.4L314.4,242.9Z" fill="#f69b4a" stroke="#805127"/><path d="M300.7,246.5L296.4,244.1L301.1,241L305.4,243.3Z" fill="#f7a950" stroke="#805829"/><path d="M291.6,247.5L287.4,245.4L292.2,242.1L296.4,244.1Z" fill="#f7b855" stroke="#80602c"/><path d="M282.6,248.9L278.5,247L283.3,243.5L287.4,245.4Z" fill="#f7cb59" stroke="#81692f"/><path d="M395.8,264.3L391,259.2L395.2,257.7L399.9,262.7Z" fill="#cde221" stroke="#6b7511"/><path d="M386.8,261L382.1,256.1L386.3,254.4L391,259.2Z" fill="#eae127" stroke="#797514"/><path d="M377.8,258L373.1,253.4L377.4,251.6L382.1,256.1Z" fill="#efce27" stroke="#7c6b14"/><path d="M368.8,255.5L364.1,251.1L368.5,249.1L373.1,253.4Z" fill="#f3be28" stroke="#7e6315"/><path d="M359.7,253.3L355.1,249.2L359.5,247L364.1,251.1Z" fill="#f5ad29" stroke="#7f5a15"/><path d="M350.6,251.6L346.1,247.7L350.5,245.4L355.1,249.2Z" fill="#f5a22f" stroke="#805418"/><path d="M341.5,250.3L337,246.7L341.5,244.2L346.1,247.7Z" fill="#f69c35" stroke="#80511c"/><path d="M332.4,249.4L327.9,246L332.5,243.3L337,246.7Z" fill="#f69b3c" stroke="#80501f"/><path d="M323.3,248.9L318.8,245.7L323.5,242.9L327.9,246Z" fill="#f69e42" stroke="#805222"/><path d="M314.1,248.8L309.7,245.9L314.4,242.9L318.8,245.7Z" fill="#f6a648" stroke="#805625"/><path d="M305,249.1L300.7,246.5L305.4,243.3L309.7,245.9Z" fill="#f7b04d" stroke="#805c28"/><path d="M295.9,249.8L291.6,247.5L296.4,244.1L300.7,246.5Z" fill="#f7be52" stroke="#80632b"/><path d="M286.8,251L282.6,248.9L287.4,245.4L291.6,247.5Z" fill="#f7cf57" stroke="#816b2d"/><path d="M391.6,266.2L386.8,261L391,259.2L395.8,264.3Z" fill="#cee321" stroke="#6b7611"/><path d="M382.6,262.9L377.8,258L382.1,256.1L386.8,261Z" fill="#eae427" stroke="#7a7714"/><path d="M373.5,260.1L368.8,255.5L373.1,253.4L377.8,258Z" fill="#efd327" stroke="#7c6e15"/><path d="M364.4,257.7L359.7,253.3L364.1,251.1L368.8,255.5Z" fill="#f4c628" stroke="#7f6715"/><path d="M355.3,255.8L350.6,251.6L355.1,249.2L359.7,253.3Z" fill="#f5b92c" stroke="#7f6017"/><path d="M346.1,254.2L341.5,250.3L346.1,247.7L350.6,251.6Z" fill="#f5b032" stroke="#805b1a"/><path d="M336.9,253L332.4,249.4L337,246.7L341.5,250.3Z" fill="#f6ac39" stroke="#80591d"/><path d="M327.8,252.3L323.3,248.9L327.9,246L332.4,249.4Z" fill="#f6ad3f" stroke="#805a21"/><path d="M318.6,251.9L314.1,248.8L318.8,245.7L323.3,248.9Z" fill="#f6b145" stroke="#805c24"/><path d="M309.4,252L305,249.1L309.7,245.9L314.1,248.8Z" fill="#f7ba4a" stroke="#806127"/><path d="M300.2,252.5L295.9,249.8L300.7,246.5L305,249.1Z" fill="#f7c650" stroke="#806729"/><path d="M291.1,253.4L286.8,251L291.6,247.5L295.9,249.8Z" fill="#f7d355" stroke="#806e2c"/><path d="M387.3,268.2L382.6,262.9L386.8,261L391.6,266.2Z" fill="#cce421" stroke="#6a7711"/><path d="M378.2,265.1L373.5,260.1L377.8,258L382.6,262.9Z" fill="#e8e726" stroke="#787814"/><path d="M369.1,262.5L364.4,257.7L368.8,255.5L373.5,260.1Z" fill="#f0db28" stroke="#7d7215"/><path d="M359.9,260.2L355.3,255.8L359.7,253.3L364.4,257.7Z" fill="#f4cf29" stroke="#7f6b15"/><path d="M350.7,258.4L346.1,254.2L350.6,251.6L355.3,255.8Z" fill="#f5c62f" stroke="#806719"/><path d="M341.5,257L336.9,253L341.5,250.3L346.1,254.2Z" fill="#f6bf35" stroke="#80641c"/><path d="M332.3,256L327.8,252.3L332.4,249.4L336.9,253Z" fill="#f6bd3c" stroke="#80621f"/><path d="M323.1,255.4L318.6,251.9L323.3,248.9L327.8,252.3Z" fill="#f6c042" stroke="#806422"/><path d="M313.8,255.2L309.4,252L314.1,248.8L318.6,251.9Z" fill="#f6c647" stroke="#806725"/><path d="M304.6,255.5L300.2,252.5L305,249.1L309.4,252Z" fill="#f7cf4d" stroke="#806c28"/><path d="M295.4,256.1L291.1,253.4L295.9,249.8L300.2,252.5Z" fill="#f6d952" stroke="#80712b"/><path d="M383,270.4L378.2,265.1L382.6,262.9L387.3,268.2Z" fill="#c7e620" stroke="#687711"/><path d="M373.9,267.5L369.1,262.5L373.5,260.1L378.2,265.1Z" fill="#e1e825" stroke="#757913"/><path d="M364.7,265L359.9,260.2L364.4,257.7L369.1,262.5Z" fill="#f0e428" stroke="#7d7615"/><path d="M355.4,262.9L350.7,258.4L355.3,255.8L359.9,260.2Z" fill="#f3d92c" stroke="#7e7117"/><path d="M346.2,261.2L341.5,257L346.1,254.2L350.7,258.4Z" fill="#f4d232" stroke="#7f6d1a"/><path d="M336.9,260L332.3,256L336.9,253L341.5,257Z" fill="#f5cf38" stroke="#7f6b1d"/><path d="M327.6,259.1L323.1,255.4L327.8,252.3L332.3,256Z" fill="#f5cf3f" stroke="#806c21"/><path d="M318.3,258.7L313.8,255.2L318.6,251.9L323.1,255.4Z" fill="#f5d244" stroke="#806d24"/><path d="M309,258.7L304.6,255.5L309.4,252L313.8,255.2Z" fill="#f5d84a" stroke="#7f7027"/><path d="M299.8,259.1L295.4,256.1L300.2,252.5L304.6,255.5Z" fill="#f5e150" stroke="#7f7529"/><path d="M378.6,272.8L373.9,267.5L378.2,265.1L383,270.4Z" fill="#c1e71f" stroke="#647810"/><path d="M369.4,270L364.7,265L369.1,262.5L373.9,267.5Z" fill="#d8e923" stroke="#707912"/><path d="M360.1,267.7L355.4,262.9L359.9,260.2L364.7,265Z" fill="#eceb28" stroke="#7b7a15"/><path d="M350.9,265.8L346.2,261.2L350.7,258.4L355.4,262.9Z" fill="#f1e52f" stroke="#7d7718"/><path d="M341.5,264.3L336.9,260L341.5,257L346.2,261.2Z" fill="#f3df35" stroke="#7e741c"/><path d="M332.2,263.2L327.6,259.1L332.3,256L336.9,260Z" fill="#f3dd3b" stroke="#7f731f"/><path d="M322.9,262.5L318.3,258.7L323.1,255.4L327.6,259.1Z" fill="#f4df41" stroke="#7f7422"/><path d="M313.5,262.3L309,258.7L313.8,255.2L318.3,258.7Z" fill="#f4e347" stroke="#7f7625"/><path d="M304.2,262.4L299.8,259.1L304.6,255.5L309,258.7Z" fill="#f3ea4d" stroke="#7e7a28"/><path d="M374.2,275.4L369.4,270L373.9,267.5L378.6,272.8Z" fill="#b8e81e" stroke="#60780f"/><path d="M364.9,272.8L360.1,267.7L364.7,265L369.4,270Z" fill="#cdea21" stroke="#6b7a11"/><path d="M355.6,270.6L350.9,265.8L355.4,262.9L360.1,267.7Z" fill="#deeb28" stroke="#737a15"/><path d="M346.2,268.9L341.5,264.3L346.2,261.2L350.9,265.8Z" fill="#e9ec30" stroke="#797b19"/><path d="M336.9,267.5L332.2,263.2L336.9,260L341.5,264.3Z" fill="#efec38" stroke="#7c7b1d"/><path d="M327.5,266.6L322.9,262.5L327.6,259.1L332.2,263.2Z" fill="#f1ed3e" stroke="#7d7b20"/><path d="M318.1,266.1L313.5,262.3L318.3,258.7L322.9,262.5Z" fill="#efee43" stroke="#7c7c23"/><path d="M308.7,266L304.2,262.4L309,258.7L313.5,262.3Z" fill="#eaee48" stroke="#7a7c25"/><path d="M369.7,278.2L364.9,272.8L369.4,270L374.2,275.4Z" fill="#ade81e" stroke="#5a790f"/><path d="M360.4,275.8L355.6,270.6L360.1,267.7L364.9,272.8Z" fill="#bfeb1f" stroke="#637a10"/><path d="M351,273.8L346.2,268.9L350.9,265.8L355.6,270.6Z" fill="#ceec28" stroke="#6b7b15"/><path d="M341.5,272.2L336.9,267.5L341.5,264.3L346.2,268.9Z" fill="#d7ec30" stroke="#707b19"/><path d="M332.1,271L327.5,266.6L332.2,263.2L336.9,267.5Z" fill="#dced37" stroke="#727b1c"/><path d="M322.7,270.3L318.1,266.1L322.9,262.5L327.5,266.6Z" fill="#dced3d" stroke="#737b1f"/><path d="M313.2,269.9L308.7,266L313.5,262.3L318.1,266.1Z" fill="#d9ee42" stroke="#717c22"/><path d="M365.2,281.3L360.4,275.8L364.9,272.8L369.7,278.2Z" fill="#9fe81e" stroke="#537910"/><path d="M355.7,279L351,273.8L355.6,270.6L360.4,275.8Z" fill="#b0ea22" stroke="#5b7a11"/><path d="M346.3,277.2L341.5,272.2L346.2,268.9L351,273.8Z" fill="#bcec28" stroke="#627a15"/><path d="M336.8,275.7L332.1,271L336.9,267.5L341.5,272.2Z" fill="#c4ec2e" stroke="#667b18"/><path d="M327.3,274.7L322.7,270.3L327.5,266.6L332.1,271Z" fill="#c7ed35" stroke="#677b1c"/><path d="M317.8,274.1L313.2,269.9L318.1,266.1L322.7,270.3Z" fill="#c6ee3b" stroke="#677c1e"/><path d="M360.6,284.5L355.7,279L360.4,275.8L365.2,281.3Z" fill="#8fe81e" stroke="#4a7810"/><path d="M351.1,282.4L346.3,277.2L351,273.8L355.7,279Z" fill="#9ee925" stroke="#527913"/><path d="M341.6,280.7L336.8,275.7L341.5,272.2L346.3,277.2Z" fill="#a9ea2b" stroke="#587a16"/><path d="M332,279.5L327.3,274.7L332.1,271L336.8,275.7Z" fill="#afeb31" stroke="#5b7a1a"/><path d="M322.5,278.6L317.8,274.1L322.7,270.3L327.3,274.7Z" fill="#b1ec37" stroke="#5c7b1d"/><path d="M355.9,288L351.1,282.4L355.7,279L360.6,284.5Z" fill="#7ee721" stroke="#417811"/><path d="M346.3,286.1L341.6,280.7L346.3,277.2L351.1,282.4Z" fill="#8be827" stroke="#487914"/><path d="M336.8,284.6L332,279.5L336.8,275.7L341.6,280.7Z" fill="#94e92e" stroke="#4d7918"/><path d="M327.2,283.5L322.5,278.6L327.3,274.7L332,279.5Z" fill="#99ea34" stroke="#4f7a1b"/><path d="M351.2,291.7L346.3,286.1L351.1,282.4L355.9,288Z" fill="#6de729" stroke="#397815"/><path d="M341.6,289.9L336.8,284.6L341.6,280.7L346.3,286.1Z" fill="#78e72d" stroke="#3e7817"/><path d="M331.9,288.6L327.2,283.5L332,279.5L336.8,284.6Z" fill="#7fe832" stroke="#42791a"/><path d="M346.4,295.6L341.6,289.9L346.3,286.1L351.2,291.7Z" fill="#5ce732" stroke="#30781a"/><path d="M336.7,294L331.9,288.6L336.8,284.6L341.6,289.9Z" fill="#65e836" stroke="#35781c"/><path d="M341.6,299.8L336.7,294L341.6,289.9L346.4,295.6Z" fill="#49e73b" stroke="#26781f"/></g>
<circle cx="341.5" cy="229.4" r="1.7" fill="#b80000"/>
<g font-family="'Liberation Sans', sans-serif" fill="#000"><text x="226.6" y="217.9" font-size="12.5" font-weight="bold" textLength="16.3" lengthAdjust="spacingAndGlyphs">(e)</text><text transform="translate(243.0,285.11) rotate(-92.85)" text-anchor="middle" font-size="9.5" font-weight="bold" textLength="105.5" lengthAdjust="spacingAndGlyphs">Degradation Efficiency (%)</text><text transform="translate(277.91,371.18) rotate(22.5)" text-anchor="middle" font-size="9.5" font-weight="bold" textLength="43.4" lengthAdjust="spacingAndGlyphs">Time (min)</text><text transform="translate(400.08,369.44) rotate(-24.5)" text-anchor="middle" font-size="9.5" font-weight="bold" textLength="87.4" lengthAdjust="spacingAndGlyphs">Catalyst Dosage (mg)</text></g>
<path d="M472.3,304.1L552.8,277.2L633.8,303.8M471.8,292.3L552.8,266.5L634.3,292M471.2,280.4L552.7,255.8L634.9,280.3M470.6,268.6L552.6,245.1L635.4,268.6M470.1,256.8L552.5,234.4L635.9,256.9M469.5,245L552.5,223.8L636.4,245.2M469,233.1L552.4,213.1L637,233.5M468.4,221.3L552.3,202.4L637.5,221.8M492.5,297.4L489.4,216.6M613.6,297.1L616.2,217M512.6,290.6L510.3,211.9M593.3,290.5L594.9,212.1M532.7,283.9L531.3,207.1M573.1,283.8L573.6,207.2M473.6,330.7L468.4,221.3M553,301.2L552.3,202.4M632.6,330.1L637.5,221.8" fill="none" stroke="#404040" stroke-width="0.75"/>
<path d="M553,369L473.6,330.7L553,301.2L632.6,330.1Z" fill="#646464" stroke="#2e2e2e" stroke-width="0.9" stroke-linejoin="round"/>
<path d="M549,366.7L550.1,366.5L551.5,366.3L552.3,366.1L553.9,365.8L554.7,365.6L555.8,365.4L557,365.2L557.8,365L559.3,364.7L560,364.5L561.5,364.1L562.3,364L563.7,363.6L564.3,363.5" fill="none" stroke="#8cc81e" stroke-width="1.15"/>
<path d="M615.2,339L615.7,338.4L616,338L616.5,337.6L616.9,337.2L617.3,336.7L617.6,336.3L618,335.8L618.3,335.5L618.7,334.9L619,334.6L619.3,334L619.6,333.7L619.8,333.3L620.2,332.7L620.4,332.4L620.7,332L621,331.5L621.1,331.2L621.4,330.7L621.6,330.2L621.8,329.9L622,329.5L622.2,329L622.3,328.7L622.5,328.3L622.7,327.8L622.8,327.4L622.9,327" fill="none" stroke="#8cc81e" stroke-width="1.15"/>
<path d="M539.7,362.3L540.5,362.1L542.2,361.9L543.1,361.8L543.9,361.6L545.5,361.4L546.4,361.2L547.3,361.1L548.8,360.8L549.5,360.6L551,360.4L551.9,360.2L552.9,360L554.2,359.7L554.9,359.5L556.4,359.2L557.1,359.1L558.6,358.7L559.3,358.5L560.7,358.2L561.5,358L562.8,357.6L564,357.3L564.9,357.1L566.2,356.7L566.9,356.5L568.2,356.1L569.5,355.7L570.1,355.5L571.4,355.1L572.6,354.7L573.2,354.5L574.4,354.1L575.6,353.7L576.8,353.2L577.4,353L578.5,352.6L579.7,352.1L580.8,351.7L581.9,351.2L583,350.8L584,350.3L585.1,349.9L585.9,349.5L586.6,349.2L587.6,348.7L588.1,348.4L589.1,348L590,347.5L591,347L591.9,346.5L592.8,346L593.7,345.5L594.5,345L595.2,344.6L595.8,344.2L596.6,343.7L597.4,343.1L598.1,342.7L598.6,342.3L599.4,341.8L600.1,341.3L600.5,341L601.2,340.5L601.9,339.9L602.2,339.6L602.9,339.1L603.2,338.8L603.9,338.2L604.4,337.8L604.8,337.4L605.4,336.8L605.7,336.5L606.3,336L606.6,335.7L607.1,335.1L607.4,334.8L607.8,334.3L608.1,333.9L608.4,333.5L608.8,333L609.1,332.7L609.5,332.1L609.7,331.8L610,331.4L610.3,330.9L610.5,330.6L610.8,330.1L611.1,329.6L611.2,329.3L611.4,328.9L611.7,328.4L611.9,328L612,327.7L612.2,327.2L612.4,326.8L612.5,326.4L612.6,326.1L612.8,325.6L612.9,325.1L613,324.8L613.1,324.4L613.1,324.1L613.2,323.6L613.3,323.4" fill="none" stroke="#d4d01e" stroke-width="1.15"/>
<path d="M528.8,357.1L530,357L531.4,356.8L532.4,356.7L533.3,356.6L534.3,356.5L535.8,356.3L536.8,356.2L537.6,356.1L538.9,355.9L540.1,355.7L540.9,355.6L542.1,355.4L543.3,355.2L544.1,355.1L545.6,354.8L546.5,354.7L547.4,354.5L548.7,354.2L549.5,354.1L551,353.7L551.7,353.6L553.1,353.3L553.9,353.1L555.3,352.8L556,352.6L557.3,352.2L558.1,352L559.3,351.7L560.7,351.3L561.3,351.1L562.6,350.8L563.8,350.4L564.5,350.2L565.7,349.8L566.9,349.4L567.5,349.2L568.7,348.8L569.9,348.4L571,347.9L572.1,347.5L572.7,347.3L573.8,346.8L574.9,346.4L575.9,346L576.9,345.5L578,345L579,344.6L579.9,344.1L580.9,343.6L581.8,343.1L582.7,342.7L583.2,342.4L584.1,341.9L585,341.4L585.8,340.9L586.6,340.4L587,340.1L587.8,339.6L588.6,339.1L589.3,338.7L589.8,338.3L590.5,337.8L591,337.4L591.5,337L592.2,336.4L592.6,336.2L593.2,335.6L593.5,335.3L594.1,334.8L594.5,334.4L595,333.9L595.4,333.5L595.9,333L596.2,332.7L596.7,332.2L596.9,331.9L597.4,331.3L597.6,331L598,330.5L598.3,330.1L598.5,329.8L598.9,329.2L599.1,328.8L599.3,328.5L599.6,328L599.8,327.6L600,327.3L600.2,326.9L600.5,326.3L600.6,326L600.7,325.7L600.9,325.3L601,324.8L601.2,324.3L601.2,324L601.3,323.7L601.4,323.3L601.5,322.8L601.6,322.4L601.6,321.9L601.6,321.6L601.7,321.2L601.7,320.9L601.7,320.5L601.7,320.2L601.7,319.8L601.6,319.4L601.6,319.1" fill="none" stroke="#dca828" stroke-width="1.15"/>
<path d="M514.6,350.3L515.7,350.3L516.8,350.3L517.8,350.3L518.8,350.3L519.9,350.3L520.9,350.3L521.9,350.2L522.9,350.2L524.1,350.1L525.4,350L526.6,349.9L527.5,349.9L528.4,349.8L529.3,349.7L530.6,349.6L532,349.5L532.8,349.4L533.7,349.3L534.9,349.1L536.1,348.9L537,348.8L538,348.7L539.3,348.5L540.1,348.3L541.4,348.1L542.4,347.9L543.2,347.8L544.7,347.5L545.4,347.4L546.8,347.1L547.5,346.9L548.9,346.6L549.6,346.4L551,346.1L551.6,345.9L553,345.6L554.1,345.2L554.9,345L556.1,344.7L557.2,344.3L558,344.1L559.2,343.7L560.3,343.3L561.3,343L562.1,342.7L563.2,342.3L564.3,341.9L565.3,341.4L566.4,341L567.4,340.6L568.4,340.1L569.4,339.6L570.3,339.2L571.3,338.7L572.2,338.2L573.1,337.8L573.5,337.5L574.3,337L575.2,336.5L576,336L576.4,335.8L577.2,335.2L577.9,334.7L578.3,334.5L579,333.9L579.7,333.4L580,333.1L580.7,332.6L581,332.3L581.6,331.7L581.9,331.5L582.5,330.9L582.8,330.6L583.3,330L583.6,329.7L583.9,329.3L584.3,328.8L584.5,328.6L585,328L585.2,327.6L585.4,327.3L585.8,326.8L586,326.4L586.2,326.1L586.4,325.7L586.6,325.1L586.8,324.8L586.9,324.5L587,324.1L587.2,323.6L587.3,323.1L587.4,322.8L587.5,322.4L587.6,322.1L587.6,321.7L587.7,321.3L587.7,320.9L587.7,320.5L587.7,320.1L587.7,319.7L587.7,319.3L587.6,318.9L587.5,318.5L587.5,318.1L587.4,317.8L587.3,317.4L587.2,317.1L587.1,316.7L586.9,316.4L586.8,316L586.6,315.6L586.4,315.1L586.1,314.7L586,314.4L585.8,314.1L585.5,313.8L585.2,313.3L584.9,312.9L584.8,312.8" fill="none" stroke="#d98228" stroke-width="1.15"/>
<path d="M483.7,326.9L483.7,327.3L483.8,327.7L483.9,328.2L484.1,328.7L484.2,329L484.3,329.3L484.7,329.9L484.8,330.2L485,330.6L485.5,331.1L485.7,331.4L486.2,332L486.5,332.3L487.1,332.8L487.4,333.1L488,333.6L488.7,334.1L489.1,334.4L489.8,334.9L490.6,335.3L491.5,335.8L492.4,336.2L493.3,336.7L494.3,337.1L495.4,337.5L496.5,337.9L497,338L498.2,338.4L499.4,338.7L500,338.9L501.3,339.2L501.9,339.3L503.3,339.6L504,339.8L505.3,340L506.1,340.1L506.9,340.2L508.2,340.4L509.2,340.5L510.1,340.6L510.9,340.7L512.2,340.8L513.4,340.9L514.4,341L515.3,341L516.3,341L517.2,341.1L518.2,341.1L519.2,341.1L520.3,341.1L521.3,341.1L522.4,341L523.6,341L524.7,340.9L525.8,340.9L526.7,340.8L527.6,340.8L528.5,340.7L529.7,340.6L531,340.4L531.8,340.3L532.6,340.2L534,340L535,339.9L535.7,339.8L537.2,339.5L538,339.4L539.1,339.2L540.1,339L541.1,338.8L542.1,338.5L543.3,338.3L544.1,338.1L545.4,337.7L546,337.6L547.2,337.2L548.4,336.8L549.4,336.5L550.2,336.3L551.3,335.9L552.4,335.5L553.4,335.1L554.4,334.6L555.4,334.2L556.4,333.8L557.3,333.3L558.3,332.8L559.1,332.4L559.6,332.1L560.4,331.6L561.2,331.1L561.7,330.8L562.3,330.4L563,329.9L563.4,329.6L564.1,329.1L564.4,328.8L565,328.2L565.3,328L565.9,327.4L566.1,327.1L566.6,326.6L566.9,326.2L567.1,325.9L567.5,325.4L567.8,325L568,324.7L568.2,324.3L568.4,323.8L568.6,323.4L568.7,323.1L568.9,322.7L569,322.3L569.1,321.9L569.1,321.5L569.2,321L569.2,320.6L569.2,320.2L569.2,319.8L569.2,319.5L569.1,319.1L569.1,318.7L569,318.4L568.9,318L568.7,317.7L568.6,317.3L568.4,316.9L568.1,316.4L567.9,316.1L567.7,315.8L567.5,315.4L567,314.9L566.8,314.6L566.5,314.4L566,313.8L565.7,313.6L565.1,313.1L564.8,312.8L564.1,312.4L563.8,312.1L563,311.7L562.7,311.4L561.9,311L561.1,310.6L560.3,310.2L559.9,310L559,309.6L558.1,309.3L557.1,308.9L556.2,308.6L555.7,308.4L554.6,308.1L553.6,307.8L552.5,307.5L551.9,307.4L550.8,307.1L550.2,307L549,306.8L548.4,306.7L547.1,306.5L546.5,306.4L545.4,306.2L544.5,306.1L543.8,306L542.8,305.9L541.7,305.8L540.9,305.7L540.2,305.7" fill="none" stroke="#d24428" stroke-width="1.15"/>
<g fill="#111"><rect x="471.5" y="303.3" width="1.6" height="1.6"/><rect x="471" y="291.5" width="1.6" height="1.6"/><rect x="470.4" y="279.6" width="1.6" height="1.6"/><rect x="469.8" y="267.8" width="1.6" height="1.6"/><rect x="469.3" y="256" width="1.6" height="1.6"/><rect x="468.7" y="244.2" width="1.6" height="1.6"/><rect x="468.2" y="232.3" width="1.6" height="1.6"/><rect x="467.6" y="220.5" width="1.6" height="1.6"/><rect x="552.2" y="368.2" width="1.6" height="1.6"/><rect x="552.2" y="368.2" width="1.6" height="1.6"/><rect x="532.4" y="358.6" width="1.6" height="1.6"/><rect x="572.1" y="358.5" width="1.6" height="1.6"/><rect x="512.5" y="349.1" width="1.6" height="1.6"/><rect x="592" y="348.8" width="1.6" height="1.6"/><rect x="492.7" y="339.5" width="1.6" height="1.6"/><rect x="611.9" y="339" width="1.6" height="1.6"/><rect x="472.8" y="329.9" width="1.6" height="1.6"/><rect x="631.8" y="329.3" width="1.6" height="1.6"/></g>
<g font-family="'Liberation Sans', sans-serif" font-size="4.7" fill="#444"><text x="469.7" y="304.3" text-anchor="end">86</text><text x="469.2" y="292.5" text-anchor="end">88</text><text x="468.6" y="280.6" text-anchor="end">90</text><text x="468" y="268.8" text-anchor="end">92</text><text x="467.5" y="257" text-anchor="end">94</text><text x="466.9" y="245.2" text-anchor="end">96</text><text x="466.4" y="233.3" text-anchor="end">98</text><text x="465.8" y="221.5" text-anchor="end">100</text><text x="548.7" y="373.6" text-anchor="middle">40</text><text x="528.9" y="364" text-anchor="middle">45</text><text x="509" y="354.5" text-anchor="middle">50</text><text x="489.2" y="344.9" text-anchor="middle">55</text><text x="469.3" y="335.3" text-anchor="middle">60</text><text x="555.4" y="374">60</text><text x="575.3" y="364.3">65</text><text x="595.2" y="354.6">70</text><text x="615.1" y="344.8">75</text><text x="635" y="335.1">80</text></g>
<g stroke-width="0.4" stroke-linejoin="round"><path d="M552.7,212.4L548.9,212.5L552.7,212.5L556.4,212.4Z" fill="#f07228" stroke="#7d3b15"/><path d="M556.5,212.6L552.7,212.4L556.4,212.4L560.2,212.5Z" fill="#ef6b27" stroke="#7c3815"/><path d="M548.9,212.6L545.2,212.7L548.9,212.5L552.7,212.4Z" fill="#f06028" stroke="#7d3215"/><path d="M560.3,212.9L556.5,212.6L560.2,212.5L564.1,212.9Z" fill="#ef6727" stroke="#7c3514"/><path d="M552.7,212.7L548.9,212.6L552.7,212.4L556.5,212.6Z" fill="#ef5828" stroke="#7c2e15"/><path d="M545.1,212.8L541.3,212.9L545.2,212.7L548.9,212.6Z" fill="#f04e28" stroke="#7d2915"/><path d="M564.2,213.5L560.3,212.9L564.1,212.9L568,213.5Z" fill="#ee6527" stroke="#7c3414"/><path d="M556.6,213.1L552.7,212.7L556.5,212.6L560.3,212.9Z" fill="#ef5428" stroke="#7c2b15"/><path d="M548.9,212.9L545.1,212.8L548.9,212.6L552.7,212.7Z" fill="#ef4728" stroke="#7d2515"/><path d="M541.2,213.1L537.4,213.2L541.3,212.9L545.1,212.8Z" fill="#f03f28" stroke="#7d2115"/><path d="M568.2,214.4L564.2,213.5L568,213.5L571.9,214.3Z" fill="#ed6527" stroke="#7b3514"/><path d="M560.5,213.7L556.6,213.1L560.3,212.9L564.2,213.5Z" fill="#ee5127" stroke="#7c2a15"/><path d="M552.7,213.3L548.9,212.9L552.7,212.7L556.6,213.1Z" fill="#ef4228" stroke="#7c2215"/><path d="M545,213.3L541.2,213.1L545.1,212.8L548.9,212.9Z" fill="#f03728" stroke="#7d1d15"/><path d="M537.3,213.5L533.5,213.6L537.4,213.2L541.2,213.1Z" fill="#f03529" stroke="#7d1c15"/><path d="M572.2,215.5L568.2,214.4L571.9,214.3L575.9,215.4Z" fill="#ed6827" stroke="#7b3614"/><path d="M564.4,214.5L560.5,213.7L564.2,213.5L568.2,214.4Z" fill="#ed5227" stroke="#7b2b14"/><path d="M556.6,213.9L552.7,213.3L556.6,213.1L560.5,213.7Z" fill="#ee4028" stroke="#7c2115"/><path d="M548.8,213.6L545,213.3L548.9,212.9L552.7,213.3Z" fill="#ef3427" stroke="#7c1b14"/><path d="M541.1,213.7L537.3,213.5L541.2,213.1L545,213.3Z" fill="#ef2f26" stroke="#7c1914"/><path d="M533.3,214L529.5,214.1L533.5,213.6L537.3,213.5Z" fill="#ee3028" stroke="#7c1915"/><path d="M576.2,216.8L572.2,215.5L575.9,215.4L579.9,216.7Z" fill="#ec6d27" stroke="#7b3914"/><path d="M568.4,215.6L564.4,214.5L568.2,214.4L572.2,215.5Z" fill="#ed5527" stroke="#7b2c14"/><path d="M560.6,214.8L556.6,213.9L560.5,213.7L564.4,214.5Z" fill="#ee4028" stroke="#7c2115"/><path d="M552.7,214.3L548.8,213.6L552.7,213.3L556.6,213.9Z" fill="#ee3226" stroke="#7c1a14"/><path d="M544.9,214.1L541.1,213.7L545,213.3L548.8,213.6Z" fill="#ee2b23" stroke="#7c1612"/><path d="M537.1,214.2L533.3,214L537.3,213.5L541.1,213.7Z" fill="#ee2a25" stroke="#7c1613"/><path d="M529.3,214.6L525.5,214.6L529.5,214.1L533.3,214Z" fill="#ee2c28" stroke="#7c1715"/><path d="M580.3,218.4L576.2,216.8L579.9,216.7L584,218.3Z" fill="#ec7427" stroke="#7b3d14"/><path d="M572.4,217L568.4,215.6L572.2,215.5L576.2,216.8Z" fill="#ec5b27" stroke="#7b2f14"/><path d="M564.6,215.9L560.6,214.8L564.4,214.5L568.4,215.6Z" fill="#ed4327" stroke="#7b2314"/><path d="M556.7,215.1L552.7,214.3L556.6,213.9L560.6,214.8Z" fill="#ed3326" stroke="#7b1a14"/><path d="M548.8,214.7L544.9,214.1L548.8,213.6L552.7,214.3Z" fill="#ed2922" stroke="#7b1512"/><path d="M540.9,214.6L537.1,214.2L541.1,213.7L544.9,214.1Z" fill="#ed2523" stroke="#7b1312"/><path d="M533.1,214.8L529.3,214.6L533.3,214L537.1,214.2Z" fill="#ed2625" stroke="#7b1413"/><path d="M525.2,215.3L521.4,215.3L525.5,214.6L529.3,214.6Z" fill="#ed2929" stroke="#7b1515"/><path d="M584.4,220.2L580.3,218.4L584,218.3L588.1,220.1Z" fill="#ec7e27" stroke="#7b4214"/><path d="M576.5,218.6L572.4,217L576.2,216.8L580.3,218.4Z" fill="#ec6327" stroke="#7b3314"/><path d="M568.6,217.3L564.6,215.9L568.4,215.6L572.4,217Z" fill="#ed4927" stroke="#7b2614"/><path d="M560.7,216.3L556.7,215.1L560.6,214.8L564.6,215.9Z" fill="#ed3527" stroke="#7b1b14"/><path d="M552.8,215.6L548.8,214.7L552.7,214.3L556.7,215.1Z" fill="#ed2922" stroke="#7b1512"/><path d="M544.8,215.2L540.9,214.6L544.9,214.1L548.8,214.7Z" fill="#ed2220" stroke="#7b1211"/><path d="M536.9,215.2L533.1,214.8L537.1,214.2L540.9,214.6Z" fill="#eb2323" stroke="#7a1212"/><path d="M529,215.4L525.2,215.3L529.3,214.6L533.1,214.8Z" fill="#eb2626" stroke="#7a1414"/><path d="M521.1,216L517.3,216.1L521.4,215.3L525.2,215.3Z" fill="#ec2a2a" stroke="#7b1616"/><path d="M588.5,222.3L584.4,220.2L588.1,220.1L592.2,222.2Z" fill="#ec8a27" stroke="#7b4814"/><path d="M580.6,220.4L576.5,218.6L580.3,218.4L584.4,220.2Z" fill="#ec6c27" stroke="#7b3814"/><path d="M572.7,218.9L568.6,217.3L572.4,217L576.5,218.6Z" fill="#ec5127" stroke="#7b2a14"/><path d="M564.7,217.6L560.7,216.3L564.6,215.9L568.6,217.3Z" fill="#ed3927" stroke="#7b1e15"/><path d="M556.7,216.7L552.8,215.6L556.7,215.1L560.7,216.3Z" fill="#ec2b23" stroke="#7b1612"/><path d="M548.8,216.1L544.8,215.2L548.8,214.7L552.8,215.6Z" fill="#ec211f" stroke="#7b1110"/><path d="M540.8,215.8L536.9,215.2L540.9,214.6L544.8,215.2Z" fill="#ea2121" stroke="#7a1111"/><path d="M532.8,215.9L529,215.4L533.1,214.8L536.9,215.2Z" fill="#e92324" stroke="#791213"/><path d="M524.8,216.2L521.1,216L525.2,215.3L529,215.4Z" fill="#e92728" stroke="#791415"/><path d="M516.9,216.9L513.1,216.9L517.3,216.1L521.1,216Z" fill="#eb2c2c" stroke="#7a1717"/><path d="M592.7,224.7L588.5,222.3L592.2,222.2L596.4,224.5Z" fill="#eb9726" stroke="#7a4f14"/><path d="M584.8,222.6L580.6,220.4L584.4,220.2L588.5,222.3Z" fill="#ec7827" stroke="#7a3f14"/><path d="M576.8,220.8L572.7,218.9L576.5,218.6L580.6,220.4Z" fill="#ec5c27" stroke="#7b3014"/><path d="M568.8,219.3L564.7,217.6L568.6,217.3L572.7,218.9Z" fill="#ec4227" stroke="#7b2214"/><path d="M560.8,218.1L556.7,216.7L560.7,216.3L564.7,217.6Z" fill="#ec2f25" stroke="#7b1813"/><path d="M552.8,217.3L548.8,216.1L552.8,215.6L556.7,216.7Z" fill="#ec2320" stroke="#7b1211"/><path d="M544.7,216.7L540.8,215.8L544.8,215.2L548.8,216.1Z" fill="#ea1f1f" stroke="#7a1010"/><path d="M536.7,216.5L532.8,215.9L536.9,215.2L540.8,215.8Z" fill="#e82122" stroke="#791112"/><path d="M528.7,216.7L524.8,216.2L529,215.4L532.8,215.9Z" fill="#e82526" stroke="#781314"/><path d="M520.7,217.1L516.9,216.9L521.1,216L524.8,216.2Z" fill="#e9292a" stroke="#791516"/><path d="M512.7,217.9L508.9,217.9L513.1,216.9L516.9,216.9Z" fill="#eb2e2e" stroke="#7a1818"/><path d="M597,227.3L592.7,224.7L596.4,224.5L600.6,227.1Z" fill="#eaa626" stroke="#7a5614"/><path d="M589,224.9L584.8,222.6L588.5,222.3L592.7,224.7Z" fill="#eb8727" stroke="#7a4614"/><path d="M581,222.9L576.8,220.8L580.6,220.4L584.8,222.6Z" fill="#eb6827" stroke="#7a3614"/><path d="M572.9,221.2L568.8,219.3L572.7,218.9L576.8,220.8Z" fill="#ec4c27" stroke="#7b2814"/><path d="M564.9,219.8L560.8,218.1L564.7,217.6L568.8,219.3Z" fill="#ec3527" stroke="#7b1b14"/><path d="M556.8,218.7L552.8,217.3L556.7,216.7L560.8,218.1Z" fill="#ec2721" stroke="#7b1411"/><path d="M548.7,217.9L544.7,216.7L548.8,216.1L552.8,217.3Z" fill="#eb1e1e" stroke="#7a0f10"/><path d="M540.7,217.5L536.7,216.5L540.8,215.8L544.7,216.7Z" fill="#e82021" stroke="#791011"/><path d="M532.6,217.3L528.7,216.7L532.8,215.9L536.7,216.5Z" fill="#e72324" stroke="#781213"/><path d="M524.5,217.5L520.7,217.1L524.8,216.2L528.7,216.7Z" fill="#e72628" stroke="#781415"/><path d="M516.4,218.1L512.7,217.9L516.9,216.9L520.7,217.1Z" fill="#e82b2c" stroke="#791617"/><path d="M508.4,218.9L504.7,218.9L508.9,217.9L512.7,217.9Z" fill="#eb3031" stroke="#7a1919"/><path d="M601.2,230.2L597,227.3L600.6,227.1L604.9,230Z" fill="#e9b726" stroke="#795f14"/><path d="M593.2,227.6L589,224.9L592.7,224.7L597,227.3Z" fill="#eb9626" stroke="#7a4e14"/><path d="M585.2,225.3L581,222.9L584.8,222.6L589,224.9Z" fill="#eb7727" stroke="#7a3e14"/><path d="M577.1,223.3L572.9,221.2L576.8,220.8L581,222.9Z" fill="#ec5a27" stroke="#7b2f14"/><path d="M569,221.7L564.9,219.8L568.8,219.3L572.9,221.2Z" fill="#ec3f27" stroke="#7b2114"/><path d="M560.9,220.3L556.8,218.7L560.8,218.1L564.9,219.8Z" fill="#ec2d24" stroke="#7b1713"/><path d="M552.8,219.3L548.7,217.9L552.8,217.3L556.8,218.7Z" fill="#ec201f" stroke="#7b1110"/><path d="M544.7,218.6L540.7,217.5L544.7,216.7L548.7,217.9Z" fill="#e91e1f" stroke="#791010"/><path d="M536.5,218.3L532.6,217.3L536.7,216.5L540.7,217.5Z" fill="#e72122" stroke="#781112"/><path d="M528.4,218.2L524.5,217.5L528.7,216.7L532.6,217.3Z" fill="#e62426" stroke="#781314"/><path d="M520.3,218.5L516.4,218.1L520.7,217.1L524.5,217.5Z" fill="#e7292a" stroke="#781516"/><path d="M512.2,219.2L508.4,218.9L512.7,217.9L516.4,218.1Z" fill="#e92e2f" stroke="#791818"/><path d="M504,220.1L500.3,220.1L504.7,218.9L508.4,218.9Z" fill="#ec3334" stroke="#7b1b1b"/><path d="M605.5,233.4L601.2,230.2L604.9,230L609.2,233.1Z" fill="#e7c626" stroke="#786714"/><path d="M597.5,230.5L593.2,227.6L597,227.3L601.2,230.2Z" fill="#eaa726" stroke="#7a5714"/><path d="M589.4,228L585.2,225.3L589,224.9L593.2,227.6Z" fill="#eb8727" stroke="#7a4614"/><path d="M581.3,225.7L577.1,223.3L581,222.9L585.2,225.3Z" fill="#eb6927" stroke="#7a3614"/><path d="M573.2,223.8L569,221.7L572.9,221.2L577.1,223.3Z" fill="#ec4c27" stroke="#7b2714"/><path d="M565,222.3L560.9,220.3L564.9,219.8L569,221.7Z" fill="#ec3427" stroke="#7b1b14"/><path d="M556.9,221L552.8,219.3L556.8,218.7L560.9,220.3Z" fill="#ec2621" stroke="#7b1411"/><path d="M548.7,220.1L544.7,218.6L548.7,217.9L552.8,219.3Z" fill="#eb1e1e" stroke="#7a0f10"/><path d="M540.5,219.5L536.5,218.3L540.7,217.5L544.7,218.6Z" fill="#e72021" stroke="#781011"/><path d="M532.3,219.2L528.4,218.2L532.6,217.3L536.5,218.3Z" fill="#e62324" stroke="#771213"/><path d="M524.2,219.2L520.3,218.5L524.5,217.5L528.4,218.2Z" fill="#e62728" stroke="#771415"/><path d="M516,219.6L512.2,219.2L516.4,218.1L520.3,218.5Z" fill="#e72b2d" stroke="#781617"/><path d="M507.8,220.3L504,220.1L508.4,218.9L512.2,219.2Z" fill="#ea3132" stroke="#7a191a"/><path d="M499.7,221.4L496,221.4L500.3,220.1L504,220.1Z" fill="#ee3737" stroke="#7c1c1c"/><path d="M609.9,236.8L605.5,233.4L609.2,233.1L613.5,236.5Z" fill="#e4d526" stroke="#766f14"/><path d="M601.8,233.7L597.5,230.5L601.2,230.2L605.5,233.4Z" fill="#e9ba26" stroke="#796114"/><path d="M593.7,230.9L589.4,228L593.2,227.6L597.5,230.5Z" fill="#eb9926" stroke="#7a5014"/><path d="M585.6,228.4L581.3,225.7L585.2,225.3L589.4,228Z" fill="#eb7927" stroke="#7a3f14"/><path d="M577.4,226.3L573.2,223.8L577.1,223.3L581.3,225.7Z" fill="#ec5c27" stroke="#7b3014"/><path d="M569.2,224.5L565,222.3L569,221.7L573.2,223.8Z" fill="#ec4027" stroke="#7b2114"/><path d="M561,223L556.9,221L560.9,220.3L565,222.3Z" fill="#ec2d24" stroke="#7b1813"/><path d="M552.8,221.8L548.7,220.1L552.8,219.3L556.9,221Z" fill="#ec211f" stroke="#7b1110"/><path d="M544.6,220.9L540.5,219.5L544.7,218.6L548.7,220.1Z" fill="#e91f1f" stroke="#791010"/><path d="M536.3,220.4L532.3,219.2L536.5,218.3L540.5,219.5Z" fill="#e62123" stroke="#781112"/><path d="M528.1,220.2L524.2,219.2L528.4,218.2L532.3,219.2Z" fill="#e62527" stroke="#771314"/><path d="M519.9,220.4L516,219.6L520.3,218.5L524.2,219.2Z" fill="#e6292b" stroke="#781516"/><path d="M511.6,220.8L507.8,220.3L512.2,219.2L516,219.6Z" fill="#e82e30" stroke="#791819"/><path d="M503.4,221.6L499.7,221.4L504,220.1L507.8,220.3Z" fill="#ec3435" stroke="#7b1b1b"/><path d="M495.2,222.8L491.5,222.7L496,221.4L499.7,221.4Z" fill="#ef3d3b" stroke="#7c201e"/><path d="M614.3,240.5L609.9,236.8L613.5,236.5L617.9,240.2Z" fill="#d6dd23" stroke="#6f7312"/><path d="M606.2,237.2L601.8,233.7L605.5,233.4L609.9,236.8Z" fill="#e6c926" stroke="#786914"/><path d="M598,234.1L593.7,230.9L597.5,230.5L601.8,233.7Z" fill="#eaac26" stroke="#7a5914"/><path d="M589.9,231.4L585.6,228.4L589.4,228L593.7,230.9Z" fill="#ec8c27" stroke="#7a4914"/><path d="M581.7,229L577.4,226.3L581.3,225.7L585.6,228.4Z" fill="#ec6d27" stroke="#7a3914"/><path d="M573.5,226.9L569.2,224.5L573.2,223.8L577.4,226.3Z" fill="#ec5027" stroke="#7b2a14"/><path d="M565.2,225.2L561,223L565,222.3L569.2,224.5Z" fill="#ed3727" stroke="#7b1c15"/><path d="M557,223.8L552.8,221.8L556.9,221L561,223Z" fill="#ec2822" stroke="#7b1512"/><path d="M548.7,222.7L544.6,220.9L548.7,220.1L552.8,221.8Z" fill="#eb1e1e" stroke="#7a1010"/><path d="M540.4,221.9L536.3,220.4L540.5,219.5L544.6,220.9Z" fill="#e82021" stroke="#791111"/><path d="M532.1,221.5L528.1,220.2L532.3,219.2L536.3,220.4Z" fill="#e62325" stroke="#781213"/><path d="M523.8,221.3L519.9,220.4L524.2,219.2L528.1,220.2Z" fill="#e62729" stroke="#781415"/><path d="M515.5,221.6L511.6,220.8L516,219.6L519.9,220.4Z" fill="#e72c2e" stroke="#781718"/><path d="M507.3,222.1L503.4,221.6L507.8,220.3L511.6,220.8Z" fill="#ea3233" stroke="#7a1a1a"/><path d="M499,223L495.2,222.8L499.7,221.4L503.4,221.6Z" fill="#ee3838" stroke="#7c1d1d"/><path d="M490.8,224.2L487.1,224.2L491.5,222.7L495.2,222.8Z" fill="#f0453f" stroke="#7d2421"/><path d="M618.7,244.5L614.3,240.5L617.9,240.2L622.3,244.2Z" fill="#bddc1e" stroke="#627210"/><path d="M610.6,240.9L606.2,237.2L609.9,236.8L614.3,240.5Z" fill="#e3da26" stroke="#767114"/><path d="M602.4,237.6L598,234.1L601.8,233.7L606.2,237.2Z" fill="#e8bf26" stroke="#796314"/><path d="M594.2,234.7L589.9,231.4L593.7,230.9L598,234.1Z" fill="#eb9f26" stroke="#7a5314"/><path d="M586,232L581.7,229L585.6,228.4L589.9,231.4Z" fill="#ec8027" stroke="#7b4214"/><path d="M577.7,229.7L573.5,226.9L577.4,226.3L581.7,229Z" fill="#ec6227" stroke="#7b3314"/><path d="M569.4,227.7L565.2,225.2L569.2,224.5L573.5,226.9Z" fill="#ec4627" stroke="#7b2514"/><path d="M561.1,226L557,223.8L561,223L565.2,225.2Z" fill="#ed3125" stroke="#7b1a13"/><path d="M552.8,224.6L548.7,222.7L552.8,221.8L557,223.8Z" fill="#ec2420" stroke="#7b1311"/><path d="M544.5,223.6L540.4,221.9L544.6,220.9L548.7,222.7Z" fill="#ea2020" stroke="#7a1111"/><path d="M536.2,222.9L532.1,221.5L536.3,220.4L540.4,221.9Z" fill="#e82224" stroke="#781213"/><path d="M527.8,222.6L523.8,221.3L528.1,220.2L532.1,221.5Z" fill="#e72627" stroke="#781415"/><path d="M519.5,222.6L515.5,221.6L519.9,220.4L523.8,221.3Z" fill="#e72a2c" stroke="#781617"/><path d="M511.1,222.9L507.3,222.1L511.6,220.8L515.5,221.6Z" fill="#e93031" stroke="#791919"/><path d="M502.8,223.5L499,223L503.4,221.6L507.3,222.1Z" fill="#ec3536" stroke="#7b1c1c"/><path d="M494.5,224.5L490.8,224.2L495.2,222.8L499,223Z" fill="#ef3f3c" stroke="#7c211f"/><path d="M486.2,225.8L482.5,225.8L487.1,224.2L490.8,224.2Z" fill="#f14e44" stroke="#7d2823"/><path d="M623.1,248.8L618.7,244.5L622.3,244.2L626.8,248.4Z" fill="#a2da1c" stroke="#54710f"/><path d="M615,245L610.6,240.9L614.3,240.5L618.7,244.5Z" fill="#cddc22" stroke="#6b7311"/><path d="M606.8,241.4L602.4,237.6L606.2,237.2L610.6,240.9Z" fill="#e5d026" stroke="#776c14"/><path d="M598.6,238.2L594.2,234.7L598,234.1L602.4,237.6Z" fill="#eab426" stroke="#7a5e14"/><path d="M590.3,235.3L586,232L589.9,231.4L594.2,234.7Z" fill="#ec9426" stroke="#7b4d14"/><path d="M582,232.7L577.7,229.7L581.7,229L586,232Z" fill="#ec7527" stroke="#7b3d14"/><path d="M573.7,230.5L569.4,227.7L573.5,226.9L577.7,229.7Z" fill="#ec5927" stroke="#7b2e14"/><path d="M565.4,228.5L561.1,226L565.2,225.2L569.4,227.7Z" fill="#ed3f27" stroke="#7b2114"/><path d="M557,226.9L552.8,224.6L557,223.8L561.1,226Z" fill="#ed2d24" stroke="#7b1813"/><path d="M548.6,225.6L544.5,223.6L548.7,222.7L552.8,224.6Z" fill="#ed2220" stroke="#7b1211"/><path d="M540.3,224.7L536.2,222.9L540.4,221.9L544.5,223.6Z" fill="#ea2222" stroke="#7a1212"/><path d="M531.9,224.1L527.8,222.6L532.1,221.5L536.2,222.9Z" fill="#e82526" stroke="#791314"/><path d="M523.5,223.8L519.5,222.6L523.8,221.3L527.8,222.6Z" fill="#e8292a" stroke="#781516"/><path d="M515.1,223.9L511.1,222.9L515.5,221.6L519.5,222.6Z" fill="#e92e2f" stroke="#791818"/><path d="M506.7,224.3L502.8,223.5L507.3,222.1L511.1,222.9Z" fill="#eb3334" stroke="#7a1b1b"/><path d="M498.3,225.1L494.5,224.5L499,223L502.8,223.5Z" fill="#ef3b3a" stroke="#7c1e1e"/><path d="M490,226.1L486.2,225.8L490.8,224.2L494.5,224.5Z" fill="#f04841" stroke="#7d2522"/><path d="M481.6,227.5L478,227.5L482.5,225.8L486.2,225.8Z" fill="#f25848" stroke="#7e2e25"/><path d="M627.6,253.4L623.1,248.8L626.8,248.4L631.2,253Z" fill="#86d71c" stroke="#46700e"/><path d="M619.5,249.3L615,245L618.7,244.5L623.1,248.8Z" fill="#b2db1c" stroke="#5d720f"/><path d="M611.3,245.5L606.8,241.4L610.6,240.9L615,245Z" fill="#dcdd24" stroke="#727313"/><path d="M603,242L598.6,238.2L602.4,237.6L606.8,241.4Z" fill="#e7c726" stroke="#786714"/><path d="M594.7,238.9L590.3,235.3L594.2,234.7L598.6,238.2Z" fill="#eba926" stroke="#7a5814"/><path d="M586.4,236L582,232.7L586,232L590.3,235.3Z" fill="#ec8a27" stroke="#7b4814"/><path d="M578.1,233.5L573.7,230.5L577.7,229.7L582,232.7Z" fill="#ec6c27" stroke="#7b3814"/><path d="M569.7,231.3L565.4,228.5L569.4,227.7L573.7,230.5Z" fill="#ed5127" stroke="#7b2a14"/><path d="M561.3,229.5L557,226.9L561.1,226L565.4,228.5Z" fill="#ed3928" stroke="#7b1e15"/><path d="M552.8,227.9L548.6,225.6L552.8,224.6L557,226.9Z" fill="#ed2b23" stroke="#7b1612"/><path d="M544.4,226.8L540.3,224.7L544.5,223.6L548.6,225.6Z" fill="#ed2322" stroke="#7b1212"/><path d="M536,225.9L531.9,224.1L536.2,222.9L540.3,224.7Z" fill="#ea2425" stroke="#7a1313"/><path d="M527.5,225.4L523.5,223.8L527.8,222.6L531.9,224.1Z" fill="#e92829" stroke="#791515"/><path d="M519.1,225.2L515.1,223.9L519.5,222.6L523.5,223.8Z" fill="#e92c2d" stroke="#791718"/><path d="M510.6,225.4L506.7,224.3L511.1,222.9L515.1,223.9Z" fill="#eb3232" stroke="#7a1a1a"/><path d="M502.2,225.9L498.3,225.1L502.8,223.5L506.7,224.3Z" fill="#ee3838" stroke="#7c1d1d"/><path d="M493.8,226.7L490,226.1L494.5,224.5L498.3,225.1Z" fill="#f0433f" stroke="#7d2321"/><path d="M485.4,227.9L481.6,227.5L486.2,225.8L490,226.1Z" fill="#f25246" stroke="#7e2a25"/><path d="M477,229.4L473.3,229.3L478,227.5L481.6,227.5Z" fill="#f3674a" stroke="#7e3627"/><path d="M632.1,258.2L627.6,253.4L631.2,253L635.7,257.8Z" fill="#6ad41d" stroke="#376e0f"/><path d="M624,253.9L619.5,249.3L623.1,248.8L627.6,253.4Z" fill="#96d91c" stroke="#4e710f"/><path d="M615.7,249.8L611.3,245.5L615,245L619.5,249.3Z" fill="#c1dc1f" stroke="#647310"/><path d="M607.5,246.1L603,242L606.8,241.4L611.3,245.5Z" fill="#e3d926" stroke="#767114"/><path d="M599.2,242.7L594.7,238.9L598.6,238.2L603,242Z" fill="#e9be26" stroke="#796314"/><path d="M590.8,239.6L586.4,236L590.3,235.3L594.7,238.9Z" fill="#eba026" stroke="#7a5314"/><path d="M582.4,236.8L578.1,233.5L582,232.7L586.4,236Z" fill="#ec8127" stroke="#7b4314"/><path d="M574,234.4L569.7,231.3L573.7,230.5L578.1,233.5Z" fill="#ed6527" stroke="#7b3514"/><path d="M565.6,232.3L561.3,229.5L565.4,228.5L569.7,231.3Z" fill="#ed4b27" stroke="#7b2714"/><path d="M557.1,230.5L552.8,227.9L557,226.9L561.3,229.5Z" fill="#ee3627" stroke="#7c1c14"/><path d="M548.6,229.1L544.4,226.8L548.6,225.6L552.8,227.9Z" fill="#ee2a23" stroke="#7c1612"/><path d="M540.1,228L536,225.9L540.3,224.7L544.4,226.8Z" fill="#ed2624" stroke="#7b1413"/><path d="M531.6,227.2L527.5,225.4L531.9,224.1L536,225.9Z" fill="#eb2728" stroke="#7a1415"/><path d="M523.1,226.8L519.1,225.2L523.5,223.8L527.5,225.4Z" fill="#eb2b2c" stroke="#7a1617"/><path d="M514.6,226.7L510.6,225.4L515.1,223.9L519.1,225.2Z" fill="#ec3031" stroke="#7b1919"/><path d="M506.1,226.9L502.2,225.9L506.7,224.3L510.6,225.4Z" fill="#ee3636" stroke="#7c1c1c"/><path d="M497.6,227.5L493.8,226.7L498.3,225.1L502.2,225.9Z" fill="#ef403c" stroke="#7c211f"/><path d="M489.2,228.4L485.4,227.9L490,226.1L493.8,226.7Z" fill="#f14d44" stroke="#7d2823"/><path d="M480.7,229.7L477,229.4L481.6,227.5L485.4,227.9Z" fill="#f35f49" stroke="#7e3226"/><path d="M472.3,231.3L468.7,231.2L473.3,229.3L477,229.4Z" fill="#f4774c" stroke="#7f3e28"/><path d="M628.5,258.8L624,253.9L627.6,253.4L632.1,258.2Z" fill="#78d61c" stroke="#3f6f0e"/><path d="M620.2,254.5L615.7,249.8L619.5,249.3L624,253.9Z" fill="#a4da1c" stroke="#55720f"/><path d="M612,250.5L607.5,246.1L611.3,245.5L615.7,249.8Z" fill="#cedd22" stroke="#6b7312"/><path d="M603.6,246.8L599.2,242.7L603,242L607.5,246.1Z" fill="#e5d126" stroke="#776d14"/><path d="M595.2,243.5L590.8,239.6L594.7,238.9L599.2,242.7Z" fill="#eab726" stroke="#7a5f14"/><path d="M586.8,240.5L582.4,236.8L586.4,236L590.8,239.6Z" fill="#ec9827" stroke="#7b4f14"/><path d="M578.4,237.8L574,234.4L578.1,233.5L582.4,236.8Z" fill="#ed7b27" stroke="#7b4014"/><path d="M569.9,235.4L565.6,232.3L569.7,231.3L574,234.4Z" fill="#ed6027" stroke="#7b3214"/><path d="M561.4,233.4L557.1,230.5L561.3,229.5L565.6,232.3Z" fill="#ee4828" stroke="#7c2515"/><path d="M552.9,231.7L548.6,229.1L552.8,227.9L557.1,230.5Z" fill="#ef3527" stroke="#7c1b14"/><path d="M544.3,230.3L540.1,228L544.4,226.8L548.6,229.1Z" fill="#ee2c25" stroke="#7c1713"/><path d="M535.8,229.3L531.6,227.2L536,225.9L540.1,228Z" fill="#ed2a27" stroke="#7b1614"/><path d="M527.2,228.6L523.1,226.8L527.5,225.4L531.6,227.2Z" fill="#ed2b2b" stroke="#7b1616"/><path d="M518.7,228.3L514.6,226.7L519.1,225.2L523.1,226.8Z" fill="#ed2f2f" stroke="#7b1819"/><path d="M510.1,228.3L506.1,226.9L510.6,225.4L514.6,226.7Z" fill="#ee3534" stroke="#7c1c1b"/><path d="M501.6,228.6L497.6,227.5L502.2,225.9L506.1,226.9Z" fill="#ef3e3b" stroke="#7c201e"/><path d="M493,229.3L489.2,228.4L493.8,226.7L497.6,227.5Z" fill="#f14a42" stroke="#7d2722"/><path d="M484.5,230.3L480.7,229.7L485.4,227.9L489.2,228.4Z" fill="#f25a48" stroke="#7e2f25"/><path d="M476,231.7L472.3,231.3L477,229.4L480.7,229.7Z" fill="#f46f4b" stroke="#7f3a27"/><path d="M624.8,259.4L620.2,254.5L624,253.9L628.5,258.8Z" fill="#86d71c" stroke="#46700e"/><path d="M616.5,255.2L612,250.5L615.7,249.8L620.2,254.5Z" fill="#b1dc1c" stroke="#5c720f"/><path d="M608.1,251.3L603.6,246.8L607.5,246.1L612,250.5Z" fill="#dade24" stroke="#717313"/><path d="M599.7,247.7L595.2,243.5L599.2,242.7L603.6,246.8Z" fill="#e7ca26" stroke="#786914"/><path d="M591.3,244.4L586.8,240.5L590.8,239.6L595.2,243.5Z" fill="#ebaf26" stroke="#7a5b14"/><path d="M582.8,241.4L578.4,237.8L582.4,236.8L586.8,240.5Z" fill="#ed9227" stroke="#7b4c14"/><path d="M574.3,238.8L569.9,235.4L574,234.4L578.4,237.8Z" fill="#ed7527" stroke="#7b3d14"/><path d="M565.7,236.5L561.4,233.4L565.6,232.3L569.9,235.4Z" fill="#ee5c27" stroke="#7c3014"/><path d="M557.2,234.6L552.9,231.7L557.1,230.5L561.4,233.4Z" fill="#ef4628" stroke="#7c2415"/><path d="M548.6,232.9L544.3,230.3L548.6,229.1L552.9,231.7Z" fill="#f03527" stroke="#7d1b14"/><path d="M540,231.7L535.8,229.3L540.1,228L544.3,230.3Z" fill="#ef3028" stroke="#7c1915"/><path d="M531.4,230.7L527.2,228.6L531.6,227.2L535.8,229.3Z" fill="#ee2f2b" stroke="#7c1816"/><path d="M522.8,230.1L518.7,228.3L523.1,226.8L527.2,228.6Z" fill="#ee312f" stroke="#7c1918"/><path d="M514.2,229.9L510.1,228.3L514.6,226.7L518.7,228.3Z" fill="#ee3633" stroke="#7c1c1b"/><path d="M505.5,230L501.6,228.6L506.1,226.9L510.1,228.3Z" fill="#ef3e39" stroke="#7c201e"/><path d="M496.9,230.4L493,229.3L497.6,227.5L501.6,228.6Z" fill="#f14840" stroke="#7d2621"/><path d="M488.4,231.2L484.5,230.3L489.2,228.4L493,229.3Z" fill="#f25647" stroke="#7e2d25"/><path d="M479.8,232.3L476,231.7L480.7,229.7L484.5,230.3Z" fill="#f36a4a" stroke="#7e3727"/><path d="M621,260.2L616.5,255.2L620.2,254.5L624.8,259.4Z" fill="#93d91c" stroke="#4c710f"/><path d="M612.7,256L608.1,251.3L612,250.5L616.5,255.2Z" fill="#bddd1e" stroke="#627310"/><path d="M604.2,252.1L599.7,247.7L603.6,246.8L608.1,251.3Z" fill="#e3de26" stroke="#767314"/><path d="M595.8,248.6L591.3,244.4L595.2,243.5L599.7,247.7Z" fill="#e9c426" stroke="#796614"/><path d="M587.3,245.4L582.8,241.4L586.8,240.5L591.3,244.4Z" fill="#eca927" stroke="#7b5814"/><path d="M578.7,242.5L574.3,238.8L578.4,237.8L582.8,241.4Z" fill="#ee8d27" stroke="#7c4914"/><path d="M570.1,240L565.7,236.5L569.9,235.4L574.3,238.8Z" fill="#ee7227" stroke="#7c3b14"/><path d="M561.5,237.7L557.2,234.6L561.4,233.4L565.7,236.5Z" fill="#ee5b27" stroke="#7c2f15"/><path d="M552.9,235.9L548.6,232.9L552.9,231.7L557.2,234.6Z" fill="#ef4628" stroke="#7d2515"/><path d="M544.2,234.3L540,231.7L544.3,230.3L548.6,232.9Z" fill="#f0382a" stroke="#7d1d16"/><path d="M535.6,233.1L531.4,230.7L535.8,229.3L540,231.7Z" fill="#ef352b" stroke="#7c1c17"/><path d="M526.9,232.3L522.8,230.1L527.2,228.6L531.4,230.7Z" fill="#ef352f" stroke="#7c1c18"/><path d="M518.3,231.8L514.2,229.9L518.7,228.3L522.8,230.1Z" fill="#ef3933" stroke="#7c1e1b"/><path d="M509.6,231.6L505.5,230L510.1,228.3L514.2,229.9Z" fill="#f03f38" stroke="#7d211d"/><path d="M500.9,231.8L496.9,230.4L501.6,228.6L505.5,230Z" fill="#f1483f" stroke="#7d2521"/><path d="M492.3,232.3L488.4,231.2L493,229.3L496.9,230.4Z" fill="#f25445" stroke="#7e2c24"/><path d="M483.6,233.2L479.8,232.3L484.5,230.3L488.4,231.2Z" fill="#f36649" stroke="#7e3526"/><path d="M617.2,261L612.7,256L616.5,255.2L621,260.2Z" fill="#9eda1c" stroke="#52720f"/><path d="M608.8,256.9L604.2,252.1L608.1,251.3L612.7,256Z" fill="#c7dd20" stroke="#677311"/><path d="M600.3,253.1L595.8,248.6L599.7,247.7L604.2,252.1Z" fill="#e5d826" stroke="#777114"/><path d="M591.8,249.6L587.3,245.4L591.3,244.4L595.8,248.6Z" fill="#eac026" stroke="#7a6414"/><path d="M583.2,246.5L578.7,242.5L582.8,241.4L587.3,245.4Z" fill="#eda427" stroke="#7b5514"/><path d="M574.6,243.7L570.1,240L574.3,238.8L578.7,242.5Z" fill="#ee8a27" stroke="#7c4814"/><path d="M565.9,241.2L561.5,237.7L565.7,236.5L570.1,240Z" fill="#ef7127" stroke="#7c3b14"/><path d="M557.2,239.1L552.9,235.9L557.2,234.6L561.5,237.7Z" fill="#ef5b28" stroke="#7c2f15"/><path d="M548.6,237.3L544.2,234.3L548.6,232.9L552.9,235.9Z" fill="#f04928" stroke="#7d2615"/><path d="M539.8,235.8L535.6,233.1L540,231.7L544.2,234.3Z" fill="#f03e2c" stroke="#7d2017"/><path d="M531.1,234.7L526.9,232.3L531.4,230.7L535.6,233.1Z" fill="#f03b2f" stroke="#7d1f19"/><path d="M522.4,233.9L518.3,231.8L522.8,230.1L526.9,232.3Z" fill="#f03d33" stroke="#7d201b"/><path d="M513.7,233.5L509.6,231.6L514.2,229.9L518.3,231.8Z" fill="#f04238" stroke="#7d221d"/><path d="M505,233.4L500.9,231.8L505.5,230L509.6,231.6Z" fill="#f1493e" stroke="#7d2620"/><path d="M496.3,233.7L492.3,232.3L496.9,230.4L500.9,231.8Z" fill="#f25443" stroke="#7e2c23"/><path d="M487.6,234.3L483.6,233.2L488.4,231.2L492.3,232.3Z" fill="#f36447" stroke="#7e3425"/><path d="M613.4,262L608.8,256.9L612.7,256L617.2,261Z" fill="#a8dc1c" stroke="#57720f"/><path d="M604.9,257.9L600.3,253.1L604.2,252.1L608.8,256.9Z" fill="#cfde22" stroke="#6c7412"/><path d="M596.3,254.2L591.8,249.6L595.8,248.6L600.3,253.1Z" fill="#e6d426" stroke="#786e14"/><path d="M587.7,250.8L583.2,246.5L587.3,245.4L591.8,249.6Z" fill="#ebbd26" stroke="#7a6214"/><path d="M579,247.7L574.6,243.7L578.7,242.5L583.2,246.5Z" fill="#eda127" stroke="#7b5414"/><path d="M570.4,245L565.9,241.2L570.1,240L574.6,243.7Z" fill="#ef8827" stroke="#7c4714"/><path d="M561.6,242.6L557.2,239.1L561.5,237.7L565.9,241.2Z" fill="#ef7127" stroke="#7c3b14"/><path d="M552.9,240.5L548.6,237.3L552.9,235.9L557.2,239.1Z" fill="#f05d28" stroke="#7d3115"/><path d="M544.2,238.8L539.8,235.8L544.2,234.3L548.6,237.3Z" fill="#f14e29" stroke="#7d2815"/><path d="M535.4,237.4L531.1,234.7L535.6,233.1L539.8,235.8Z" fill="#f1462e" stroke="#7d2518"/><path d="M526.6,236.4L522.4,233.9L526.9,232.3L531.1,234.7Z" fill="#f14433" stroke="#7d231b"/><path d="M517.8,235.7L513.7,233.5L518.3,231.8L522.4,233.9Z" fill="#f14638" stroke="#7d241d"/><path d="M509.1,235.4L505,233.4L509.6,231.6L513.7,233.5Z" fill="#f24c3d" stroke="#7e281f"/><path d="M500.3,235.4L496.3,233.7L500.9,231.8L505,233.4Z" fill="#f25741" stroke="#7e2d22"/><path d="M491.5,235.8L487.6,234.3L492.3,232.3L496.3,233.7Z" fill="#f36545" stroke="#7e3424"/><path d="M609.4,263L604.9,257.9L608.8,256.9L613.4,262Z" fill="#b0dd1c" stroke="#5c730f"/><path d="M600.9,259L596.3,254.2L600.3,253.1L604.9,257.9Z" fill="#d6df23" stroke="#6f7412"/><path d="M592.2,255.4L587.7,250.8L591.8,249.6L596.3,254.2Z" fill="#e8d126" stroke="#786d14"/><path d="M583.6,252L579,247.7L583.2,246.5L587.7,250.8Z" fill="#ecba27" stroke="#7b6114"/><path d="M574.8,249L570.4,245L574.6,243.7L579,247.7Z" fill="#eea027" stroke="#7c5314"/><path d="M566.1,246.4L561.6,242.6L565.9,241.2L570.4,245Z" fill="#f08927" stroke="#7d4714"/><path d="M557.3,244.1L552.9,240.5L557.2,239.1L561.6,242.6Z" fill="#f07328" stroke="#7d3c15"/><path d="M548.5,242.1L544.2,238.8L548.6,237.3L552.9,240.5Z" fill="#f16228" stroke="#7d3315"/><path d="M539.7,240.4L535.4,237.4L539.8,235.8L544.2,238.8Z" fill="#f1562b" stroke="#7e2d16"/><path d="M530.9,239.1L526.6,236.4L531.1,234.7L535.4,237.4Z" fill="#f15030" stroke="#7e2a19"/><path d="M522.1,238.2L517.8,235.7L522.4,233.9L526.6,236.4Z" fill="#f15035" stroke="#7e291c"/><path d="M513.2,237.6L509.1,235.4L513.7,233.5L517.8,235.7Z" fill="#f2533a" stroke="#7e2b1e"/><path d="M504.4,237.4L500.3,235.4L505,233.4L509.1,235.4Z" fill="#f25b3f" stroke="#7e3021"/><path d="M495.6,237.5L491.5,235.8L496.3,233.7L500.3,235.4Z" fill="#f36743" stroke="#7e3623"/><path d="M605.5,264.2L600.9,259L604.9,257.9L609.4,263Z" fill="#b7de1d" stroke="#5f730f"/><path d="M596.8,260.3L592.2,255.4L596.3,254.2L600.9,259Z" fill="#dce024" stroke="#727413"/><path d="M588.1,256.7L583.6,252L587.7,250.8L592.2,255.4Z" fill="#e9cf26" stroke="#796c14"/><path d="M579.4,253.4L574.8,249L579,247.7L583.6,252Z" fill="#edb927" stroke="#7b6014"/><path d="M570.6,250.5L566.1,246.4L570.4,245L574.8,249Z" fill="#efa127" stroke="#7c5414"/><path d="M561.8,247.9L557.3,244.1L561.6,242.6L566.1,246.4Z" fill="#f08b27" stroke="#7d4814"/><path d="M552.9,245.6L548.5,242.1L552.9,240.5L557.3,244.1Z" fill="#f17728" stroke="#7d3e15"/><path d="M544.1,243.7L539.7,240.4L544.2,238.8L548.5,242.1Z" fill="#f26828" stroke="#7e3615"/><path d="M535.2,242.2L530.9,239.1L535.4,237.4L539.7,240.4Z" fill="#f2602d" stroke="#7e3217"/><path d="M526.3,241L522.1,238.2L526.6,236.4L530.9,239.1Z" fill="#f25c32" stroke="#7e301a"/><path d="M517.4,240.1L513.2,237.6L517.8,235.7L522.1,238.2Z" fill="#f25d37" stroke="#7e301d"/><path d="M508.5,239.6L504.4,237.4L509.1,235.4L513.2,237.6Z" fill="#f3633c" stroke="#7e331f"/><path d="M499.6,239.5L495.6,237.5L500.3,235.4L504.4,237.4Z" fill="#f36c41" stroke="#7e3822"/><path d="M601.4,265.5L596.8,260.3L600.9,259L605.5,264.2Z" fill="#bddf1e" stroke="#627410"/><path d="M592.7,261.6L588.1,256.7L592.2,255.4L596.8,260.3Z" fill="#e0e025" stroke="#747513"/><path d="M583.9,258.1L579.4,253.4L583.6,252L588.1,256.7Z" fill="#eace27" stroke="#796b14"/><path d="M575.1,254.9L570.6,250.5L574.8,249L579.4,253.4Z" fill="#eeba27" stroke="#7c6114"/><path d="M566.3,252L561.8,247.9L566.1,246.4L570.6,250.5Z" fill="#f0a327" stroke="#7d5514"/><path d="M557.4,249.5L552.9,245.6L557.3,244.1L561.8,247.9Z" fill="#f18f27" stroke="#7e4a15"/><path d="M548.5,247.4L544.1,243.7L548.5,242.1L552.9,245.6Z" fill="#f27d28" stroke="#7e4115"/><path d="M539.6,245.5L535.2,242.2L539.7,240.4L544.1,243.7Z" fill="#f3712a" stroke="#7e3b16"/><path d="M530.6,244.1L526.3,241L530.9,239.1L535.2,242.2Z" fill="#f36b2f" stroke="#7e3819"/><path d="M521.7,242.9L517.4,240.1L522.1,238.2L526.3,241Z" fill="#f36934" stroke="#7e371b"/><path d="M512.7,242.2L508.5,239.6L513.2,237.6L517.4,240.1Z" fill="#f36c39" stroke="#7e381e"/><path d="M503.8,241.8L499.6,239.5L504.4,237.4L508.5,239.6Z" fill="#f3733e" stroke="#7f3c20"/><path d="M597.4,266.8L592.7,261.6L596.8,260.3L601.4,265.5Z" fill="#c1df1f" stroke="#647410"/><path d="M588.6,263.1L583.9,258.1L588.1,256.7L592.7,261.6Z" fill="#e3e126" stroke="#767514"/><path d="M579.7,259.6L575.1,254.9L579.4,253.4L583.9,258.1Z" fill="#eacf27" stroke="#7a6b14"/><path d="M570.8,256.5L566.3,252L570.6,250.5L575.1,254.9Z" fill="#efbc27" stroke="#7c6214"/><path d="M561.9,253.7L557.4,249.5L561.8,247.9L566.3,252Z" fill="#f1a727" stroke="#7d5714"/><path d="M553,251.3L548.5,247.4L552.9,245.6L557.4,249.5Z" fill="#f39528" stroke="#7e4d15"/><path d="M544,249.2L539.6,245.5L544.1,243.7L548.5,247.4Z" fill="#f48528" stroke="#7f4515"/><path d="M535,247.5L530.6,244.1L535.2,242.2L539.6,245.5Z" fill="#f47c2c" stroke="#7f4017"/><path d="M526,246.1L521.7,242.9L526.3,241L530.6,244.1Z" fill="#f37831" stroke="#7f3e1a"/><path d="M517,245L512.7,242.2L517.4,240.1L521.7,242.9Z" fill="#f37836" stroke="#7f3e1c"/><path d="M508,244.4L503.8,241.8L508.5,239.6L512.7,242.2Z" fill="#f47c3b" stroke="#7f411f"/><path d="M593.2,268.3L588.6,263.1L592.7,261.6L597.4,266.8Z" fill="#c3e01f" stroke="#667410"/><path d="M584.3,264.6L579.7,259.6L583.9,258.1L588.6,263.1Z" fill="#e3e226" stroke="#767514"/><path d="M575.4,261.2L570.8,256.5L575.1,254.9L579.7,259.6Z" fill="#ebd027" stroke="#7a6c14"/><path d="M566.5,258.2L561.9,253.7L566.3,252L570.8,256.5Z" fill="#efbf27" stroke="#7c6314"/><path d="M557.5,255.5L553,251.3L557.4,249.5L561.9,253.7Z" fill="#f1ac27" stroke="#7d5914"/><path d="M548.5,253.1L544,249.2L548.5,247.4L553,251.3Z" fill="#f39c28" stroke="#7f5115"/><path d="M539.4,251.1L535,247.5L539.6,245.5L544,249.2Z" fill="#f59029" stroke="#7f4b15"/><path d="M530.4,249.5L526,246.1L530.6,244.1L535,247.5Z" fill="#f4882e" stroke="#7f4718"/><path d="M521.3,248.2L517,245L521.7,242.9L526,246.1Z" fill="#f48633" stroke="#7f461b"/><path d="M512.3,247.2L508,244.4L512.7,242.2L517,245Z" fill="#f48738" stroke="#7f461d"/><path d="M589,270L584.3,264.6L588.6,263.1L593.2,268.3Z" fill="#c4e120" stroke="#667510"/><path d="M580.1,266.3L575.4,261.2L579.7,259.6L584.3,264.6Z" fill="#e3e226" stroke="#767614"/><path d="M571.1,263L566.5,258.2L570.8,256.5L575.4,261.2Z" fill="#ebd327" stroke="#7a6e14"/><path d="M562.1,260L557.5,255.5L561.9,253.7L566.5,258.2Z" fill="#efc427" stroke="#7d6614"/><path d="M553,257.4L548.5,253.1L553,251.3L557.5,255.5Z" fill="#f2b328" stroke="#7e5d15"/><path d="M543.9,255.1L539.4,251.1L544,249.2L548.5,253.1Z" fill="#f4a528" stroke="#7f5615"/><path d="M534.8,253.2L530.4,249.5L535,247.5L539.4,251.1Z" fill="#f59c2b" stroke="#7f5116"/><path d="M525.7,251.6L521.3,248.2L526,246.1L530.4,249.5Z" fill="#f59630" stroke="#7f4e19"/><path d="M516.6,250.4L512.3,247.2L517,245L521.3,248.2Z" fill="#f59535" stroke="#7f4e1c"/><path d="M584.7,271.7L580.1,266.3L584.3,264.6L589,270Z" fill="#c3e11f" stroke="#667510"/><path d="M575.7,268.1L571.1,263L575.4,261.2L580.1,266.3Z" fill="#e1e325" stroke="#757613"/><path d="M566.7,264.9L562.1,260L566.5,258.2L571.1,263Z" fill="#ecd827" stroke="#7a7014"/><path d="M557.6,262L553,257.4L557.5,255.5L562.1,260Z" fill="#f0c927" stroke="#7d6914"/><path d="M548.5,259.4L543.9,255.1L548.5,253.1L553,257.4Z" fill="#f3bc28" stroke="#7e6215"/><path d="M539.3,257.3L534.8,253.2L539.4,251.1L543.9,255.1Z" fill="#f5b028" stroke="#7f5c15"/><path d="M530.1,255.4L525.7,251.6L530.4,249.5L534.8,253.2Z" fill="#f5a82d" stroke="#805717"/><path d="M521,253.9L516.6,250.4L521.3,248.2L525.7,251.6Z" fill="#f5a532" stroke="#80561a"/><path d="M580.4,273.6L575.7,268.1L580.1,266.3L584.7,271.7Z" fill="#c1e21f" stroke="#647610"/><path d="M571.3,270L566.7,264.9L571.1,263L575.7,268.1Z" fill="#dde424" stroke="#737613"/><path d="M562.2,266.9L557.6,262L562.1,260L566.7,264.9Z" fill="#ecdd27" stroke="#7b7314"/><path d="M553,264.1L548.5,259.4L553,257.4L557.6,262Z" fill="#f0d027" stroke="#7d6c15"/><path d="M543.8,261.6L539.3,257.3L543.9,255.1L548.5,259.4Z" fill="#f3c628" stroke="#7e6715"/><path d="M534.6,259.5L530.1,255.4L534.8,253.2L539.3,257.3Z" fill="#f5bd29" stroke="#7f6215"/><path d="M525.4,257.7L521,253.9L525.7,251.6L530.1,255.4Z" fill="#f5b62f" stroke="#805f18"/><path d="M576,275.5L571.3,270L575.7,268.1L580.4,273.6Z" fill="#bde31e" stroke="#627610"/><path d="M566.9,272.1L562.2,266.9L566.7,264.9L571.3,270Z" fill="#d7e523" stroke="#707712"/><path d="M557.7,269L553,264.1L557.6,262L562.2,266.9Z" fill="#ece427" stroke="#7b7714"/><path d="M548.4,266.3L543.8,261.6L548.5,259.4L553,264.1Z" fill="#efd828" stroke="#7c7115"/><path d="M539.2,263.9L534.6,259.5L539.3,257.3L543.8,261.6Z" fill="#f3cf28" stroke="#7e6c15"/><path d="M529.9,261.9L525.4,257.7L530.1,255.4L534.6,259.5Z" fill="#f5c92b" stroke="#7f6916"/><path d="M571.6,277.6L566.9,272.1L571.3,270L576,275.5Z" fill="#b8e31d" stroke="#60760f"/><path d="M562.3,274.3L557.7,269L562.2,266.9L566.9,272.1Z" fill="#d0e522" stroke="#6c7712"/><path d="M553.1,271.3L548.4,266.3L553,264.1L557.7,269Z" fill="#e5e726" stroke="#777814"/><path d="M543.8,268.6L539.2,263.9L543.8,261.6L548.4,266.3Z" fill="#efe228" stroke="#7c7615"/><path d="M534.4,266.3L529.9,261.9L534.6,259.5L539.2,263.9Z" fill="#f2da28" stroke="#7e7215"/><path d="M567,279.9L562.3,274.3L566.9,272.1L571.6,277.6Z" fill="#b1e31d" stroke="#5c760f"/><path d="M557.7,276.6L553.1,271.3L557.7,269L562.3,274.3Z" fill="#c7e620" stroke="#687811"/><path d="M548.4,273.7L543.8,268.6L548.4,266.3L553.1,271.3Z" fill="#dbe824" stroke="#727913"/><path d="M539,271.1L534.4,266.3L539.2,263.9L543.8,268.6Z" fill="#eaea27" stroke="#7a7a14"/><path d="M562.5,282.2L557.7,276.6L562.3,274.3L567,279.9Z" fill="#a8e31d" stroke="#57760f"/><path d="M553.1,279L548.4,273.7L553.1,271.3L557.7,276.6Z" fill="#bde71e" stroke="#627810"/><path d="M543.7,276.2L539,271.1L543.8,268.6L548.4,273.7Z" fill="#cee821" stroke="#6b7911"/><path d="M557.8,284.7L553.1,279L557.7,276.6L562.5,282.2Z" fill="#9ee31d" stroke="#52760f"/><path d="M548.4,281.6L543.7,276.2L548.4,273.7L553.1,279Z" fill="#b1e61e" stroke="#5c780f"/><path d="M553.1,287.4L548.4,281.6L553.1,279L557.8,284.7Z" fill="#92e31d" stroke="#4c760f"/></g>
<circle cx="552.9" cy="228.4" r="1.7" fill="#b80000"/>
<g font-family="'Liberation Sans', sans-serif" fill="#000"><text x="443.1" y="221.0" font-size="12.5" font-weight="bold" textLength="14.8" lengthAdjust="spacingAndGlyphs">(f)</text><text transform="translate(457.5,284.84) rotate(-93.21)" text-anchor="middle" font-size="9.5" font-weight="bold" textLength="105" lengthAdjust="spacingAndGlyphs">Degradation Efficiency (%)</text><text transform="translate(494.91,367.23) rotate(22.5)" text-anchor="middle" font-size="9.5" font-weight="bold" textLength="43.9" lengthAdjust="spacingAndGlyphs">Time (min)</text><text transform="translate(609.15,367.88) rotate(-25.0)" text-anchor="middle" font-size="9.5" font-weight="bold" textLength="103.4" lengthAdjust="spacingAndGlyphs">Dye Concentration (ppm)</text></g></svg></body></html>
